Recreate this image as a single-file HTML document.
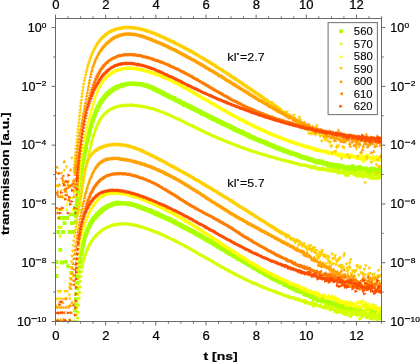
<!DOCTYPE html><html><head><meta charset="utf-8"><style>html,body{margin:0;padding:0;background:#fff;overflow:hidden}svg{display:block;will-change:transform}text{stroke:#000;stroke-width:0.22px}text.l{stroke-width:0.1px}</style></head><body><svg width="420" height="362" viewBox="0 0 420 362">
<rect width="420" height="362" fill="#fff"/>
<defs><clipPath id="c"><rect x="55.5" y="18.5" width="326" height="303"/></clipPath></defs>
<g clip-path="url(#c)">
<path d="M73.3 220.3h4.1v4.1h-4.1zM73.7 214.2h4.1v4.1h-4.1zM73.9 210.7h4.1v4.1h-4.1zM74.2 207.8h4.1v4.1h-4.1zM74.4 204.3h4.1v4.1h-4.1zM74.7 201.0h4.1v4.1h-4.1zM75.0 198.4h4.1v4.1h-4.1zM75.4 194.9h4.1v4.1h-4.1zM75.8 191.7h4.1v4.1h-4.1zM76.2 188.6h4.1v4.1h-4.1zM76.6 185.7h4.1v4.1h-4.1zM77.1 182.4h4.1v4.1h-4.1zM77.5 178.6h4.1v4.1h-4.1zM78.0 175.7h4.1v4.1h-4.1zM78.6 173.0h4.1v4.1h-4.1zM79.1 169.6h4.1v4.1h-4.1zM79.7 165.9h4.1v4.1h-4.1zM80.3 163.1h4.1v4.1h-4.1zM80.9 159.8h4.1v4.1h-4.1zM81.5 156.5h4.1v4.1h-4.1zM82.2 153.4h4.1v4.1h-4.1zM82.8 150.6h4.1v4.1h-4.1zM83.4 147.2h4.1v4.1h-4.1zM84.0 144.8h4.1v4.1h-4.1zM84.6 141.4h4.1v4.1h-4.1zM85.3 138.3h4.1v4.1h-4.1zM85.9 136.1h4.1v4.1h-4.1zM86.5 133.0h4.1v4.1h-4.1zM87.1 130.9h4.1v4.1h-4.1zM87.7 128.7h4.1v4.1h-4.1zM88.4 125.9h4.1v4.1h-4.1zM89.0 123.9h4.1v4.1h-4.1zM89.6 121.8h4.1v4.1h-4.1zM90.2 119.5h4.1v4.1h-4.1zM90.8 117.7h4.1v4.1h-4.1zM91.5 116.3h4.1v4.1h-4.1zM92.1 114.3h4.1v4.1h-4.1zM92.7 113.0h4.1v4.1h-4.1zM93.3 111.5h4.1v4.1h-4.1zM93.9 109.8h4.1v4.1h-4.1zM94.6 108.0h4.1v4.1h-4.1zM95.2 107.2h4.1v4.1h-4.1zM95.8 105.3h4.1v4.1h-4.1zM96.4 104.5h4.1v4.1h-4.1zM97.0 103.3h4.1v4.1h-4.1zM97.7 101.7h4.1v4.1h-4.1zM98.3 101.0h4.1v4.1h-4.1zM98.9 99.7h4.1v4.1h-4.1zM99.5 99.3h4.1v4.1h-4.1zM100.1 98.2h4.1v4.1h-4.1zM100.8 97.2h4.1v4.1h-4.1zM101.4 96.4h4.1v4.1h-4.1zM102.0 95.8h4.1v4.1h-4.1zM102.6 94.8h4.1v4.1h-4.1zM103.2 94.3h4.1v4.1h-4.1zM103.9 93.8h4.1v4.1h-4.1zM104.5 92.3h4.1v4.1h-4.1zM105.1 92.3h4.1v4.1h-4.1zM105.7 91.2h4.1v4.1h-4.1zM106.3 91.2h4.1v4.1h-4.1zM107.0 90.3h4.1v4.1h-4.1zM107.6 90.0h4.1v4.1h-4.1zM108.2 89.4h4.1v4.1h-4.1zM108.8 88.9h4.1v4.1h-4.1zM109.4 88.3h4.1v4.1h-4.1zM110.1 88.5h4.1v4.1h-4.1zM110.7 87.4h4.1v4.1h-4.1zM111.3 87.0h4.1v4.1h-4.1zM111.9 86.4h4.1v4.1h-4.1zM112.5 86.6h4.1v4.1h-4.1zM113.2 86.2h4.1v4.1h-4.1zM113.8 85.6h4.1v4.1h-4.1zM114.4 85.3h4.1v4.1h-4.1zM115.0 85.0h4.1v4.1h-4.1zM115.6 85.3h4.1v4.1h-4.1zM116.3 84.6h4.1v4.1h-4.1zM116.9 84.1h4.1v4.1h-4.1zM117.5 84.2h4.1v4.1h-4.1zM118.1 84.0h4.1v4.1h-4.1zM118.7 84.1h4.1v4.1h-4.1zM119.4 83.5h4.1v4.1h-4.1zM120.0 83.1h4.1v4.1h-4.1zM120.6 83.1h4.1v4.1h-4.1zM121.2 83.3h4.1v4.1h-4.1zM121.8 82.4h4.1v4.1h-4.1zM122.5 82.6h4.1v4.1h-4.1zM123.1 82.3h4.1v4.1h-4.1zM123.7 82.3h4.1v4.1h-4.1zM124.3 82.2h4.1v4.1h-4.1zM124.9 82.2h4.1v4.1h-4.1zM125.6 81.9h4.1v4.1h-4.1zM126.2 81.8h4.1v4.1h-4.1zM126.8 81.7h4.1v4.1h-4.1zM127.4 81.6h4.1v4.1h-4.1zM128.0 81.6h4.1v4.1h-4.1zM128.7 81.6h4.1v4.1h-4.1zM129.3 81.9h4.1v4.1h-4.1zM129.9 81.7h4.1v4.1h-4.1zM130.5 81.6h4.1v4.1h-4.1zM131.1 81.2h4.1v4.1h-4.1zM131.8 81.7h4.1v4.1h-4.1zM132.4 82.0h4.1v4.1h-4.1zM133.0 81.9h4.1v4.1h-4.1zM133.6 81.7h4.1v4.1h-4.1zM134.2 81.7h4.1v4.1h-4.1zM134.9 81.8h4.1v4.1h-4.1zM135.5 82.0h4.1v4.1h-4.1zM136.1 82.1h4.1v4.1h-4.1zM136.7 81.7h4.1v4.1h-4.1zM137.3 82.4h4.1v4.1h-4.1zM138.0 82.0h4.1v4.1h-4.1zM138.6 82.3h4.1v4.1h-4.1zM139.2 82.3h4.1v4.1h-4.1zM139.8 82.5h4.1v4.1h-4.1zM140.4 82.4h4.1v4.1h-4.1zM141.1 83.1h4.1v4.1h-4.1zM141.7 83.1h4.1v4.1h-4.1zM142.3 83.0h4.1v4.1h-4.1zM142.9 83.2h4.1v4.1h-4.1zM143.5 83.3h4.1v4.1h-4.1zM144.2 83.7h4.1v4.1h-4.1zM144.8 83.9h4.1v4.1h-4.1zM145.4 83.6h4.1v4.1h-4.1zM146.0 84.2h4.1v4.1h-4.1zM146.6 84.7h4.1v4.1h-4.1zM147.3 84.6h4.1v4.1h-4.1zM147.9 84.7h4.1v4.1h-4.1zM148.5 84.9h4.1v4.1h-4.1zM149.1 85.6h4.1v4.1h-4.1zM149.7 85.5h4.1v4.1h-4.1zM150.4 85.5h4.1v4.1h-4.1zM151.0 86.4h4.1v4.1h-4.1zM151.6 86.6h4.1v4.1h-4.1zM152.2 87.2h4.1v4.1h-4.1zM152.8 87.0h4.1v4.1h-4.1zM153.5 87.2h4.1v4.1h-4.1zM154.1 87.9h4.1v4.1h-4.1zM154.7 87.9h4.1v4.1h-4.1zM155.3 88.9h4.1v4.1h-4.1zM155.9 88.7h4.1v4.1h-4.1zM156.6 89.1h4.1v4.1h-4.1zM157.2 89.5h4.1v4.1h-4.1zM157.8 89.4h4.1v4.1h-4.1zM158.4 89.9h4.1v4.1h-4.1zM159.0 90.1h4.1v4.1h-4.1zM159.7 90.3h4.1v4.1h-4.1zM160.3 91.1h4.1v4.1h-4.1zM160.9 91.2h4.1v4.1h-4.1zM161.5 91.8h4.1v4.1h-4.1zM162.1 91.5h4.1v4.1h-4.1zM162.8 92.4h4.1v4.1h-4.1zM163.4 92.6h4.1v4.1h-4.1zM164.0 92.9h4.1v4.1h-4.1zM164.6 93.1h4.1v4.1h-4.1zM165.2 93.2h4.1v4.1h-4.1zM165.9 93.9h4.1v4.1h-4.1zM166.5 94.6h4.1v4.1h-4.1zM167.1 94.6h4.1v4.1h-4.1zM167.7 94.4h4.1v4.1h-4.1zM168.3 95.1h4.1v4.1h-4.1zM169.0 95.2h4.1v4.1h-4.1zM169.6 95.7h4.1v4.1h-4.1zM170.2 96.2h4.1v4.1h-4.1zM170.8 96.1h4.1v4.1h-4.1zM171.4 96.0h4.1v4.1h-4.1zM172.1 96.3h4.1v4.1h-4.1zM172.7 97.5h4.1v4.1h-4.1zM173.3 97.5h4.1v4.1h-4.1zM173.9 97.7h4.1v4.1h-4.1zM174.5 98.2h4.1v4.1h-4.1zM175.2 98.6h4.1v4.1h-4.1zM175.8 98.7h4.1v4.1h-4.1zM176.4 98.8h4.1v4.1h-4.1zM177.0 99.5h4.1v4.1h-4.1zM177.6 99.9h4.1v4.1h-4.1zM178.3 99.4h4.1v4.1h-4.1zM178.9 100.5h4.1v4.1h-4.1zM179.5 100.9h4.1v4.1h-4.1zM180.1 101.1h4.1v4.1h-4.1zM180.7 101.2h4.1v4.1h-4.1zM181.4 101.2h4.1v4.1h-4.1zM182.0 102.3h4.1v4.1h-4.1zM182.6 102.8h4.1v4.1h-4.1zM183.2 102.5h4.1v4.1h-4.1zM183.8 102.9h4.1v4.1h-4.1zM184.5 102.8h4.1v4.1h-4.1zM185.1 103.6h4.1v4.1h-4.1zM185.7 103.7h4.1v4.1h-4.1zM186.3 104.2h4.1v4.1h-4.1zM186.9 104.2h4.1v4.1h-4.1zM187.6 104.9h4.1v4.1h-4.1zM188.2 104.6h4.1v4.1h-4.1zM188.8 105.1h4.1v4.1h-4.1zM189.4 105.8h4.1v4.1h-4.1zM190.0 105.9h4.1v4.1h-4.1zM190.7 106.1h4.1v4.1h-4.1zM191.3 106.7h4.1v4.1h-4.1zM191.9 106.5h4.1v4.1h-4.1zM192.5 107.1h4.1v4.1h-4.1zM193.1 107.4h4.1v4.1h-4.1zM193.8 107.9h4.1v4.1h-4.1zM194.4 108.2h4.1v4.1h-4.1zM195.0 108.6h4.1v4.1h-4.1zM195.6 108.6h4.1v4.1h-4.1zM196.2 108.9h4.1v4.1h-4.1zM196.9 109.3h4.1v4.1h-4.1zM197.5 109.7h4.1v4.1h-4.1zM198.1 109.6h4.1v4.1h-4.1zM198.7 110.6h4.1v4.1h-4.1zM199.3 110.7h4.1v4.1h-4.1zM200.0 110.9h4.1v4.1h-4.1zM200.6 111.3h4.1v4.1h-4.1zM201.2 111.6h4.1v4.1h-4.1zM201.8 111.9h4.1v4.1h-4.1zM202.4 112.5h4.1v4.1h-4.1zM203.1 112.5h4.1v4.1h-4.1zM203.7 112.6h4.1v4.1h-4.1zM204.3 112.7h4.1v4.1h-4.1zM204.9 113.3h4.1v4.1h-4.1zM205.5 113.7h4.1v4.1h-4.1zM206.2 113.7h4.1v4.1h-4.1zM206.8 114.2h4.1v4.1h-4.1zM207.4 115.0h4.1v4.1h-4.1zM208.0 115.2h4.1v4.1h-4.1zM208.6 115.4h4.1v4.1h-4.1zM209.3 115.3h4.1v4.1h-4.1zM209.9 115.8h4.1v4.1h-4.1zM210.5 116.3h4.1v4.1h-4.1zM211.1 116.6h4.1v4.1h-4.1zM211.7 117.2h4.1v4.1h-4.1zM212.4 117.1h4.1v4.1h-4.1zM213.0 117.0h4.1v4.1h-4.1zM213.6 117.5h4.1v4.1h-4.1zM214.2 118.2h4.1v4.1h-4.1zM214.8 118.4h4.1v4.1h-4.1zM215.5 118.8h4.1v4.1h-4.1zM216.1 119.1h4.1v4.1h-4.1zM216.7 119.4h4.1v4.1h-4.1zM217.3 119.3h4.1v4.1h-4.1zM217.9 119.9h4.1v4.1h-4.1zM218.6 120.0h4.1v4.1h-4.1zM219.2 120.5h4.1v4.1h-4.1zM219.8 121.1h4.1v4.1h-4.1zM220.4 121.2h4.1v4.1h-4.1zM221.0 121.4h4.1v4.1h-4.1zM221.7 121.8h4.1v4.1h-4.1zM222.3 122.3h4.1v4.1h-4.1zM222.9 122.2h4.1v4.1h-4.1zM223.5 122.5h4.1v4.1h-4.1zM224.1 122.8h4.1v4.1h-4.1zM224.8 122.9h4.1v4.1h-4.1zM225.4 123.7h4.1v4.1h-4.1zM226.0 123.7h4.1v4.1h-4.1zM226.6 123.8h4.1v4.1h-4.1zM227.2 124.3h4.1v4.1h-4.1zM227.9 124.5h4.1v4.1h-4.1zM228.5 124.8h4.1v4.1h-4.1zM229.1 125.6h4.1v4.1h-4.1zM229.7 125.6h4.1v4.1h-4.1zM230.3 125.9h4.1v4.1h-4.1zM231.0 125.9h4.1v4.1h-4.1zM231.6 126.3h4.1v4.1h-4.1zM232.2 127.2h4.1v4.1h-4.1zM232.8 126.9h4.1v4.1h-4.1zM233.4 127.6h4.1v4.1h-4.1zM234.1 128.1h4.1v4.1h-4.1zM234.7 128.1h4.1v4.1h-4.1zM235.3 128.5h4.1v4.1h-4.1zM235.9 128.6h4.1v4.1h-4.1zM236.5 129.1h4.1v4.1h-4.1zM237.2 129.3h4.1v4.1h-4.1zM237.8 129.3h4.1v4.1h-4.1zM238.4 129.4h4.1v4.1h-4.1zM239.0 129.9h4.1v4.1h-4.1zM239.6 130.6h4.1v4.1h-4.1zM240.3 130.3h4.1v4.1h-4.1zM240.9 130.6h4.1v4.1h-4.1zM241.5 131.1h4.1v4.1h-4.1zM242.1 131.5h4.1v4.1h-4.1zM242.7 132.1h4.1v4.1h-4.1zM243.4 131.9h4.1v4.1h-4.1zM244.0 132.5h4.1v4.1h-4.1zM244.6 132.5h4.1v4.1h-4.1zM245.2 132.5h4.1v4.1h-4.1zM245.8 133.1h4.1v4.1h-4.1zM246.5 133.8h4.1v4.1h-4.1zM247.1 133.5h4.1v4.1h-4.1zM247.7 133.7h4.1v4.1h-4.1zM248.3 134.7h4.1v4.1h-4.1zM248.9 134.9h4.1v4.1h-4.1zM249.6 135.1h4.1v4.1h-4.1zM250.2 135.4h4.1v4.1h-4.1zM250.8 135.7h4.1v4.1h-4.1zM251.4 135.5h4.1v4.1h-4.1zM252.0 136.2h4.1v4.1h-4.1zM252.7 136.4h4.1v4.1h-4.1zM253.3 137.0h4.1v4.1h-4.1zM253.9 137.2h4.1v4.1h-4.1zM254.5 137.5h4.1v4.1h-4.1zM255.1 137.4h4.1v4.1h-4.1zM255.8 137.8h4.1v4.1h-4.1zM256.4 137.9h4.1v4.1h-4.1zM257.0 138.0h4.1v4.1h-4.1zM257.6 138.7h4.1v4.1h-4.1zM258.2 138.8h4.1v4.1h-4.1zM258.9 139.4h4.1v4.1h-4.1zM259.5 139.5h4.1v4.1h-4.1zM260.1 139.5h4.1v4.1h-4.1zM260.7 139.4h4.1v4.1h-4.1zM261.3 140.1h4.1v4.1h-4.1zM262.0 140.0h4.1v4.1h-4.1zM262.6 140.2h4.1v4.1h-4.1zM263.2 140.5h4.1v4.1h-4.1zM263.8 141.1h4.1v4.1h-4.1zM264.4 141.3h4.1v4.1h-4.1zM265.1 142.0h4.1v4.1h-4.1zM265.7 141.9h4.1v4.1h-4.1zM266.3 141.8h4.1v4.1h-4.1zM266.9 142.4h4.1v4.1h-4.1zM267.5 142.8h4.1v4.1h-4.1zM268.2 142.8h4.1v4.1h-4.1zM268.8 143.1h4.1v4.1h-4.1zM269.4 143.4h4.1v4.1h-4.1zM270.0 143.7h4.1v4.1h-4.1zM270.6 143.4h4.1v4.1h-4.1zM271.3 144.3h4.1v4.1h-4.1zM271.9 143.9h4.1v4.1h-4.1zM272.5 145.0h4.1v4.1h-4.1zM273.1 145.5h4.1v4.1h-4.1zM273.7 144.9h4.1v4.1h-4.1zM274.4 145.0h4.1v4.1h-4.1zM275.0 146.2h4.1v4.1h-4.1zM275.6 145.9h4.1v4.1h-4.1zM276.2 145.9h4.1v4.1h-4.1zM276.8 146.1h4.1v4.1h-4.1zM277.5 146.8h4.1v4.1h-4.1zM278.1 147.1h4.1v4.1h-4.1zM278.7 147.3h4.1v4.1h-4.1zM279.3 147.2h4.1v4.1h-4.1zM279.9 147.5h4.1v4.1h-4.1zM280.6 147.8h4.1v4.1h-4.1zM281.2 148.2h4.1v4.1h-4.1zM281.8 148.5h4.1v4.1h-4.1zM282.4 149.0h4.1v4.1h-4.1zM283.0 148.5h4.1v4.1h-4.1zM283.7 149.4h4.1v4.1h-4.1zM284.3 149.0h4.1v4.1h-4.1zM284.9 149.3h4.1v4.1h-4.1zM285.5 150.1h4.1v4.1h-4.1zM286.1 149.9h4.1v4.1h-4.1zM286.8 150.2h4.1v4.1h-4.1zM287.4 150.6h4.1v4.1h-4.1zM288.0 150.6h4.1v4.1h-4.1zM288.6 150.7h4.1v4.1h-4.1zM289.2 151.6h4.1v4.1h-4.1zM289.9 151.0h4.1v4.1h-4.1zM290.5 151.7h4.1v4.1h-4.1zM291.1 151.6h4.1v4.1h-4.1zM291.7 151.7h4.1v4.1h-4.1zM292.3 152.0h4.1v4.1h-4.1zM293.0 152.2h4.1v4.1h-4.1zM293.6 152.1h4.1v4.1h-4.1zM294.2 152.4h4.1v4.1h-4.1zM294.8 153.1h4.1v4.1h-4.1zM295.4 153.4h4.1v4.1h-4.1zM296.1 153.2h4.1v4.1h-4.1zM296.7 153.3h4.1v4.1h-4.1zM297.3 154.2h4.1v4.1h-4.1zM297.9 154.1h4.1v4.1h-4.1zM298.5 154.4h4.1v4.1h-4.1zM299.2 154.8h4.1v4.1h-4.1zM299.8 154.7h4.1v4.1h-4.1zM300.4 154.8h4.1v4.1h-4.1zM301.0 155.6h4.1v4.1h-4.1zM301.6 155.6h4.1v4.1h-4.1zM302.3 155.3h4.1v4.1h-4.1zM302.9 155.9h4.1v4.1h-4.1zM303.5 155.7h4.1v4.1h-4.1zM304.1 156.2h4.1v4.1h-4.1zM304.7 156.3h4.1v4.1h-4.1zM305.4 156.3h4.1v4.1h-4.1zM306.0 156.6h4.1v4.1h-4.1zM306.6 157.4h4.1v4.1h-4.1zM307.2 156.8h4.1v4.1h-4.1zM307.8 157.1h4.1v4.1h-4.1zM308.5 157.6h4.1v4.1h-4.1zM309.1 157.7h4.1v4.1h-4.1zM309.7 158.1h4.1v4.1h-4.1zM310.3 157.5h4.1v4.1h-4.1zM310.9 158.4h4.1v4.1h-4.1zM311.6 158.6h4.1v4.1h-4.1zM312.2 158.9h4.1v4.1h-4.1zM312.8 159.2h4.1v4.1h-4.1zM313.4 159.5h4.1v4.1h-4.1zM314.0 159.3h4.1v4.1h-4.1zM314.7 160.3h4.1v4.1h-4.1zM315.3 160.0h4.1v4.1h-4.1zM315.9 160.1h4.1v4.1h-4.1zM316.5 159.0h4.1v4.1h-4.1zM317.1 160.4h4.1v4.1h-4.1zM317.8 160.5h4.1v4.1h-4.1zM318.4 159.6h4.1v4.1h-4.1zM319.0 160.6h4.1v4.1h-4.1zM319.6 159.4h4.1v4.1h-4.1zM320.2 160.2h4.1v4.1h-4.1zM320.9 160.5h4.1v4.1h-4.1zM321.5 161.2h4.1v4.1h-4.1zM322.1 161.9h4.1v4.1h-4.1zM322.7 161.5h4.1v4.1h-4.1zM323.3 161.9h4.1v4.1h-4.1zM324.0 161.1h4.1v4.1h-4.1zM324.6 161.7h4.1v4.1h-4.1zM325.2 162.5h4.1v4.1h-4.1zM325.8 161.8h4.1v4.1h-4.1zM326.4 163.6h4.1v4.1h-4.1zM327.1 162.5h4.1v4.1h-4.1zM327.7 162.2h4.1v4.1h-4.1zM328.3 163.0h4.1v4.1h-4.1zM328.9 163.0h4.1v4.1h-4.1zM329.5 162.2h4.1v4.1h-4.1zM330.2 163.8h4.1v4.1h-4.1zM330.8 162.9h4.1v4.1h-4.1zM331.4 165.2h4.1v4.1h-4.1zM332.0 164.3h4.1v4.1h-4.1zM332.6 163.6h4.1v4.1h-4.1zM333.3 163.0h4.1v4.1h-4.1zM333.9 163.7h4.1v4.1h-4.1zM334.5 164.0h4.1v4.1h-4.1zM335.1 165.0h4.1v4.1h-4.1zM335.7 162.9h4.1v4.1h-4.1zM336.4 165.8h4.1v4.1h-4.1zM337.0 164.6h4.1v4.1h-4.1zM337.6 163.8h4.1v4.1h-4.1zM338.2 165.0h4.1v4.1h-4.1zM338.8 163.7h4.1v4.1h-4.1zM339.5 165.2h4.1v4.1h-4.1zM340.1 165.2h4.1v4.1h-4.1zM340.7 164.4h4.1v4.1h-4.1zM341.3 164.9h4.1v4.1h-4.1zM341.9 165.7h4.1v4.1h-4.1zM342.6 167.6h4.1v4.1h-4.1zM343.2 166.0h4.1v4.1h-4.1zM343.8 166.4h4.1v4.1h-4.1zM344.4 166.3h4.1v4.1h-4.1zM345.0 167.5h4.1v4.1h-4.1zM345.7 167.3h4.1v4.1h-4.1zM346.3 165.1h4.1v4.1h-4.1zM346.9 166.3h4.1v4.1h-4.1zM347.5 165.8h4.1v4.1h-4.1zM348.1 168.0h4.1v4.1h-4.1zM348.8 168.8h4.1v4.1h-4.1zM349.4 167.0h4.1v4.1h-4.1zM350.0 169.1h4.1v4.1h-4.1zM350.6 164.2h4.1v4.1h-4.1zM351.2 166.1h4.1v4.1h-4.1zM351.9 169.8h4.1v4.1h-4.1zM352.5 166.7h4.1v4.1h-4.1zM353.1 165.7h4.1v4.1h-4.1zM353.7 167.2h4.1v4.1h-4.1zM354.3 167.8h4.1v4.1h-4.1zM355.0 165.9h4.1v4.1h-4.1zM355.6 166.5h4.1v4.1h-4.1zM356.2 167.2h4.1v4.1h-4.1zM356.8 167.8h4.1v4.1h-4.1zM357.4 165.1h4.1v4.1h-4.1zM358.1 168.0h4.1v4.1h-4.1zM358.7 166.1h4.1v4.1h-4.1zM359.3 169.1h4.1v4.1h-4.1zM359.9 167.3h4.1v4.1h-4.1zM360.5 167.0h4.1v4.1h-4.1zM361.2 169.2h4.1v4.1h-4.1zM361.8 168.2h4.1v4.1h-4.1zM362.4 166.5h4.1v4.1h-4.1zM363.0 168.3h4.1v4.1h-4.1zM363.6 166.5h4.1v4.1h-4.1zM364.3 169.7h4.1v4.1h-4.1zM364.9 169.6h4.1v4.1h-4.1zM365.5 168.1h4.1v4.1h-4.1zM366.1 167.6h4.1v4.1h-4.1zM366.7 169.3h4.1v4.1h-4.1zM367.4 170.7h4.1v4.1h-4.1zM368.0 169.1h4.1v4.1h-4.1zM368.6 168.1h4.1v4.1h-4.1zM369.2 166.9h4.1v4.1h-4.1zM369.8 167.8h4.1v4.1h-4.1zM370.5 168.6h4.1v4.1h-4.1zM371.1 166.7h4.1v4.1h-4.1zM371.7 167.6h4.1v4.1h-4.1zM372.3 172.1h4.1v4.1h-4.1zM372.9 168.9h4.1v4.1h-4.1zM373.6 167.4h4.1v4.1h-4.1zM374.2 168.4h4.1v4.1h-4.1zM374.8 169.6h4.1v4.1h-4.1zM375.4 168.4h4.1v4.1h-4.1zM376.0 171.6h4.1v4.1h-4.1zM376.7 167.6h4.1v4.1h-4.1zM377.3 170.1h4.1v4.1h-4.1zM377.9 165.9h4.1v4.1h-4.1zM378.5 168.3h4.1v4.1h-4.1zM379.1 170.5h4.1v4.1h-4.1zM379.8 169.7h4.1v4.1h-4.1zM380.4 171.0h4.1v4.1h-4.1zM56.4 230.1h3.9v3.9h-3.9zM58.0 216.0h3.9v3.9h-3.9zM60.2 216.0h3.9v3.9h-3.9zM61.1 230.1h3.9v3.9h-3.9zM62.6 221.2h3.9v3.9h-3.9zM63.8 216.0h3.9v3.9h-3.9zM65.1 216.0h3.9v3.9h-3.9zM67.8 230.1h3.9v3.9h-3.9zM68.6 212.4h3.9v3.9h-3.9zM70.0 221.2h3.9v3.9h-3.9zM70.3 212.4h3.9v3.9h-3.9zM71.6 230.1h3.9v3.9h-3.9zM72.6 212.4h3.9v3.9h-3.9z" fill="#aaff00"/>
<path d="M77.7 210.0a1.65 1.65 0 1 0 3.3 0a1.65 1.65 0 1 0 -3.3 0zM78.3 205.2a1.65 1.65 0 1 0 3.3 0a1.65 1.65 0 1 0 -3.3 0zM78.7 202.1a1.65 1.65 0 1 0 3.3 0a1.65 1.65 0 1 0 -3.3 0zM79.2 198.8a1.65 1.65 0 1 0 3.3 0a1.65 1.65 0 1 0 -3.3 0zM79.6 195.7a1.65 1.65 0 1 0 3.3 0a1.65 1.65 0 1 0 -3.3 0zM80.1 192.2a1.65 1.65 0 1 0 3.3 0a1.65 1.65 0 1 0 -3.3 0zM80.6 189.0a1.65 1.65 0 1 0 3.3 0a1.65 1.65 0 1 0 -3.3 0zM81.1 185.9a1.65 1.65 0 1 0 3.3 0a1.65 1.65 0 1 0 -3.3 0zM81.6 182.4a1.65 1.65 0 1 0 3.3 0a1.65 1.65 0 1 0 -3.3 0zM82.2 179.0a1.65 1.65 0 1 0 3.3 0a1.65 1.65 0 1 0 -3.3 0zM82.7 176.0a1.65 1.65 0 1 0 3.3 0a1.65 1.65 0 1 0 -3.3 0zM83.3 172.9a1.65 1.65 0 1 0 3.3 0a1.65 1.65 0 1 0 -3.3 0zM83.9 169.8a1.65 1.65 0 1 0 3.3 0a1.65 1.65 0 1 0 -3.3 0zM84.5 166.4a1.65 1.65 0 1 0 3.3 0a1.65 1.65 0 1 0 -3.3 0zM85.2 163.4a1.65 1.65 0 1 0 3.3 0a1.65 1.65 0 1 0 -3.3 0zM85.8 160.3a1.65 1.65 0 1 0 3.3 0a1.65 1.65 0 1 0 -3.3 0zM86.4 157.6a1.65 1.65 0 1 0 3.3 0a1.65 1.65 0 1 0 -3.3 0zM87.0 154.8a1.65 1.65 0 1 0 3.3 0a1.65 1.65 0 1 0 -3.3 0zM87.6 151.9a1.65 1.65 0 1 0 3.3 0a1.65 1.65 0 1 0 -3.3 0zM88.3 149.5a1.65 1.65 0 1 0 3.3 0a1.65 1.65 0 1 0 -3.3 0zM88.9 146.9a1.65 1.65 0 1 0 3.3 0a1.65 1.65 0 1 0 -3.3 0zM89.5 144.2a1.65 1.65 0 1 0 3.3 0a1.65 1.65 0 1 0 -3.3 0zM90.1 141.7a1.65 1.65 0 1 0 3.3 0a1.65 1.65 0 1 0 -3.3 0zM90.7 139.4a1.65 1.65 0 1 0 3.3 0a1.65 1.65 0 1 0 -3.3 0zM91.4 137.2a1.65 1.65 0 1 0 3.3 0a1.65 1.65 0 1 0 -3.3 0zM92.0 135.2a1.65 1.65 0 1 0 3.3 0a1.65 1.65 0 1 0 -3.3 0zM92.6 133.4a1.65 1.65 0 1 0 3.3 0a1.65 1.65 0 1 0 -3.3 0zM93.2 131.6a1.65 1.65 0 1 0 3.3 0a1.65 1.65 0 1 0 -3.3 0zM93.8 129.6a1.65 1.65 0 1 0 3.3 0a1.65 1.65 0 1 0 -3.3 0zM94.5 128.0a1.65 1.65 0 1 0 3.3 0a1.65 1.65 0 1 0 -3.3 0zM95.1 126.6a1.65 1.65 0 1 0 3.3 0a1.65 1.65 0 1 0 -3.3 0zM95.7 125.3a1.65 1.65 0 1 0 3.3 0a1.65 1.65 0 1 0 -3.3 0zM96.3 123.3a1.65 1.65 0 1 0 3.3 0a1.65 1.65 0 1 0 -3.3 0zM96.9 122.5a1.65 1.65 0 1 0 3.3 0a1.65 1.65 0 1 0 -3.3 0zM97.6 121.3a1.65 1.65 0 1 0 3.3 0a1.65 1.65 0 1 0 -3.3 0zM98.2 120.1a1.65 1.65 0 1 0 3.3 0a1.65 1.65 0 1 0 -3.3 0zM98.8 119.1a1.65 1.65 0 1 0 3.3 0a1.65 1.65 0 1 0 -3.3 0zM99.4 118.4a1.65 1.65 0 1 0 3.3 0a1.65 1.65 0 1 0 -3.3 0zM100.0 117.3a1.65 1.65 0 1 0 3.3 0a1.65 1.65 0 1 0 -3.3 0zM100.7 116.6a1.65 1.65 0 1 0 3.3 0a1.65 1.65 0 1 0 -3.3 0zM101.3 115.8a1.65 1.65 0 1 0 3.3 0a1.65 1.65 0 1 0 -3.3 0zM101.9 115.0a1.65 1.65 0 1 0 3.3 0a1.65 1.65 0 1 0 -3.3 0zM102.5 114.3a1.65 1.65 0 1 0 3.3 0a1.65 1.65 0 1 0 -3.3 0zM103.1 113.7a1.65 1.65 0 1 0 3.3 0a1.65 1.65 0 1 0 -3.3 0zM103.8 113.0a1.65 1.65 0 1 0 3.3 0a1.65 1.65 0 1 0 -3.3 0zM104.4 112.4a1.65 1.65 0 1 0 3.3 0a1.65 1.65 0 1 0 -3.3 0zM105.0 112.0a1.65 1.65 0 1 0 3.3 0a1.65 1.65 0 1 0 -3.3 0zM105.6 111.5a1.65 1.65 0 1 0 3.3 0a1.65 1.65 0 1 0 -3.3 0zM106.2 110.8a1.65 1.65 0 1 0 3.3 0a1.65 1.65 0 1 0 -3.3 0zM106.9 110.8a1.65 1.65 0 1 0 3.3 0a1.65 1.65 0 1 0 -3.3 0zM107.5 110.2a1.65 1.65 0 1 0 3.3 0a1.65 1.65 0 1 0 -3.3 0zM108.1 109.8a1.65 1.65 0 1 0 3.3 0a1.65 1.65 0 1 0 -3.3 0zM108.7 109.2a1.65 1.65 0 1 0 3.3 0a1.65 1.65 0 1 0 -3.3 0zM109.3 109.2a1.65 1.65 0 1 0 3.3 0a1.65 1.65 0 1 0 -3.3 0zM110.0 108.8a1.65 1.65 0 1 0 3.3 0a1.65 1.65 0 1 0 -3.3 0zM110.6 108.3a1.65 1.65 0 1 0 3.3 0a1.65 1.65 0 1 0 -3.3 0zM111.2 108.5a1.65 1.65 0 1 0 3.3 0a1.65 1.65 0 1 0 -3.3 0zM111.8 108.1a1.65 1.65 0 1 0 3.3 0a1.65 1.65 0 1 0 -3.3 0zM112.4 107.4a1.65 1.65 0 1 0 3.3 0a1.65 1.65 0 1 0 -3.3 0zM113.1 107.4a1.65 1.65 0 1 0 3.3 0a1.65 1.65 0 1 0 -3.3 0zM113.7 107.4a1.65 1.65 0 1 0 3.3 0a1.65 1.65 0 1 0 -3.3 0zM114.3 107.4a1.65 1.65 0 1 0 3.3 0a1.65 1.65 0 1 0 -3.3 0zM114.9 106.7a1.65 1.65 0 1 0 3.3 0a1.65 1.65 0 1 0 -3.3 0zM115.5 106.7a1.65 1.65 0 1 0 3.3 0a1.65 1.65 0 1 0 -3.3 0zM116.2 106.5a1.65 1.65 0 1 0 3.3 0a1.65 1.65 0 1 0 -3.3 0zM116.8 106.4a1.65 1.65 0 1 0 3.3 0a1.65 1.65 0 1 0 -3.3 0zM117.4 106.3a1.65 1.65 0 1 0 3.3 0a1.65 1.65 0 1 0 -3.3 0zM118.0 105.9a1.65 1.65 0 1 0 3.3 0a1.65 1.65 0 1 0 -3.3 0zM118.6 105.8a1.65 1.65 0 1 0 3.3 0a1.65 1.65 0 1 0 -3.3 0zM119.3 106.0a1.65 1.65 0 1 0 3.3 0a1.65 1.65 0 1 0 -3.3 0zM119.9 106.0a1.65 1.65 0 1 0 3.3 0a1.65 1.65 0 1 0 -3.3 0zM120.5 105.8a1.65 1.65 0 1 0 3.3 0a1.65 1.65 0 1 0 -3.3 0zM121.1 105.3a1.65 1.65 0 1 0 3.3 0a1.65 1.65 0 1 0 -3.3 0zM121.7 105.7a1.65 1.65 0 1 0 3.3 0a1.65 1.65 0 1 0 -3.3 0zM122.4 105.4a1.65 1.65 0 1 0 3.3 0a1.65 1.65 0 1 0 -3.3 0zM123.0 105.5a1.65 1.65 0 1 0 3.3 0a1.65 1.65 0 1 0 -3.3 0zM123.6 105.7a1.65 1.65 0 1 0 3.3 0a1.65 1.65 0 1 0 -3.3 0zM124.2 105.2a1.65 1.65 0 1 0 3.3 0a1.65 1.65 0 1 0 -3.3 0zM124.8 105.4a1.65 1.65 0 1 0 3.3 0a1.65 1.65 0 1 0 -3.3 0zM125.5 105.3a1.65 1.65 0 1 0 3.3 0a1.65 1.65 0 1 0 -3.3 0zM126.1 105.2a1.65 1.65 0 1 0 3.3 0a1.65 1.65 0 1 0 -3.3 0zM126.7 105.2a1.65 1.65 0 1 0 3.3 0a1.65 1.65 0 1 0 -3.3 0zM127.3 105.3a1.65 1.65 0 1 0 3.3 0a1.65 1.65 0 1 0 -3.3 0zM127.9 105.4a1.65 1.65 0 1 0 3.3 0a1.65 1.65 0 1 0 -3.3 0zM128.6 105.1a1.65 1.65 0 1 0 3.3 0a1.65 1.65 0 1 0 -3.3 0zM129.2 105.1a1.65 1.65 0 1 0 3.3 0a1.65 1.65 0 1 0 -3.3 0zM129.8 104.9a1.65 1.65 0 1 0 3.3 0a1.65 1.65 0 1 0 -3.3 0zM130.4 105.6a1.65 1.65 0 1 0 3.3 0a1.65 1.65 0 1 0 -3.3 0zM131.0 105.2a1.65 1.65 0 1 0 3.3 0a1.65 1.65 0 1 0 -3.3 0zM131.7 105.4a1.65 1.65 0 1 0 3.3 0a1.65 1.65 0 1 0 -3.3 0zM132.3 105.4a1.65 1.65 0 1 0 3.3 0a1.65 1.65 0 1 0 -3.3 0zM132.9 105.3a1.65 1.65 0 1 0 3.3 0a1.65 1.65 0 1 0 -3.3 0zM133.5 105.7a1.65 1.65 0 1 0 3.3 0a1.65 1.65 0 1 0 -3.3 0zM134.1 105.6a1.65 1.65 0 1 0 3.3 0a1.65 1.65 0 1 0 -3.3 0zM134.8 105.5a1.65 1.65 0 1 0 3.3 0a1.65 1.65 0 1 0 -3.3 0zM135.4 105.7a1.65 1.65 0 1 0 3.3 0a1.65 1.65 0 1 0 -3.3 0zM136.0 105.9a1.65 1.65 0 1 0 3.3 0a1.65 1.65 0 1 0 -3.3 0zM136.6 106.0a1.65 1.65 0 1 0 3.3 0a1.65 1.65 0 1 0 -3.3 0zM137.2 105.9a1.65 1.65 0 1 0 3.3 0a1.65 1.65 0 1 0 -3.3 0zM137.9 106.2a1.65 1.65 0 1 0 3.3 0a1.65 1.65 0 1 0 -3.3 0zM138.5 106.0a1.65 1.65 0 1 0 3.3 0a1.65 1.65 0 1 0 -3.3 0zM139.1 106.2a1.65 1.65 0 1 0 3.3 0a1.65 1.65 0 1 0 -3.3 0zM139.7 106.3a1.65 1.65 0 1 0 3.3 0a1.65 1.65 0 1 0 -3.3 0zM140.3 106.3a1.65 1.65 0 1 0 3.3 0a1.65 1.65 0 1 0 -3.3 0zM141.0 106.8a1.65 1.65 0 1 0 3.3 0a1.65 1.65 0 1 0 -3.3 0zM141.6 106.6a1.65 1.65 0 1 0 3.3 0a1.65 1.65 0 1 0 -3.3 0zM142.2 106.6a1.65 1.65 0 1 0 3.3 0a1.65 1.65 0 1 0 -3.3 0zM142.8 106.7a1.65 1.65 0 1 0 3.3 0a1.65 1.65 0 1 0 -3.3 0zM143.4 107.0a1.65 1.65 0 1 0 3.3 0a1.65 1.65 0 1 0 -3.3 0zM144.1 107.1a1.65 1.65 0 1 0 3.3 0a1.65 1.65 0 1 0 -3.3 0zM144.7 107.4a1.65 1.65 0 1 0 3.3 0a1.65 1.65 0 1 0 -3.3 0zM145.3 107.2a1.65 1.65 0 1 0 3.3 0a1.65 1.65 0 1 0 -3.3 0zM145.9 107.5a1.65 1.65 0 1 0 3.3 0a1.65 1.65 0 1 0 -3.3 0zM146.5 107.7a1.65 1.65 0 1 0 3.3 0a1.65 1.65 0 1 0 -3.3 0zM147.2 107.9a1.65 1.65 0 1 0 3.3 0a1.65 1.65 0 1 0 -3.3 0zM147.8 107.8a1.65 1.65 0 1 0 3.3 0a1.65 1.65 0 1 0 -3.3 0zM148.4 108.1a1.65 1.65 0 1 0 3.3 0a1.65 1.65 0 1 0 -3.3 0zM149.0 108.5a1.65 1.65 0 1 0 3.3 0a1.65 1.65 0 1 0 -3.3 0zM149.6 108.7a1.65 1.65 0 1 0 3.3 0a1.65 1.65 0 1 0 -3.3 0zM150.3 108.6a1.65 1.65 0 1 0 3.3 0a1.65 1.65 0 1 0 -3.3 0zM150.9 108.4a1.65 1.65 0 1 0 3.3 0a1.65 1.65 0 1 0 -3.3 0zM151.5 109.1a1.65 1.65 0 1 0 3.3 0a1.65 1.65 0 1 0 -3.3 0zM152.1 108.9a1.65 1.65 0 1 0 3.3 0a1.65 1.65 0 1 0 -3.3 0zM152.7 109.3a1.65 1.65 0 1 0 3.3 0a1.65 1.65 0 1 0 -3.3 0zM153.4 109.4a1.65 1.65 0 1 0 3.3 0a1.65 1.65 0 1 0 -3.3 0zM154.0 109.7a1.65 1.65 0 1 0 3.3 0a1.65 1.65 0 1 0 -3.3 0zM154.6 110.1a1.65 1.65 0 1 0 3.3 0a1.65 1.65 0 1 0 -3.3 0zM155.2 110.3a1.65 1.65 0 1 0 3.3 0a1.65 1.65 0 1 0 -3.3 0zM155.8 110.3a1.65 1.65 0 1 0 3.3 0a1.65 1.65 0 1 0 -3.3 0zM156.5 110.5a1.65 1.65 0 1 0 3.3 0a1.65 1.65 0 1 0 -3.3 0zM157.1 110.8a1.65 1.65 0 1 0 3.3 0a1.65 1.65 0 1 0 -3.3 0zM157.7 111.2a1.65 1.65 0 1 0 3.3 0a1.65 1.65 0 1 0 -3.3 0zM158.3 111.3a1.65 1.65 0 1 0 3.3 0a1.65 1.65 0 1 0 -3.3 0zM158.9 111.6a1.65 1.65 0 1 0 3.3 0a1.65 1.65 0 1 0 -3.3 0zM159.6 111.8a1.65 1.65 0 1 0 3.3 0a1.65 1.65 0 1 0 -3.3 0zM160.2 111.9a1.65 1.65 0 1 0 3.3 0a1.65 1.65 0 1 0 -3.3 0zM160.8 112.1a1.65 1.65 0 1 0 3.3 0a1.65 1.65 0 1 0 -3.3 0zM161.4 112.3a1.65 1.65 0 1 0 3.3 0a1.65 1.65 0 1 0 -3.3 0zM162.0 112.6a1.65 1.65 0 1 0 3.3 0a1.65 1.65 0 1 0 -3.3 0zM162.7 112.9a1.65 1.65 0 1 0 3.3 0a1.65 1.65 0 1 0 -3.3 0zM163.3 113.2a1.65 1.65 0 1 0 3.3 0a1.65 1.65 0 1 0 -3.3 0zM163.9 113.6a1.65 1.65 0 1 0 3.3 0a1.65 1.65 0 1 0 -3.3 0zM164.5 113.6a1.65 1.65 0 1 0 3.3 0a1.65 1.65 0 1 0 -3.3 0zM165.1 114.0a1.65 1.65 0 1 0 3.3 0a1.65 1.65 0 1 0 -3.3 0zM165.8 114.2a1.65 1.65 0 1 0 3.3 0a1.65 1.65 0 1 0 -3.3 0zM166.4 114.6a1.65 1.65 0 1 0 3.3 0a1.65 1.65 0 1 0 -3.3 0zM167.0 114.7a1.65 1.65 0 1 0 3.3 0a1.65 1.65 0 1 0 -3.3 0zM167.6 114.7a1.65 1.65 0 1 0 3.3 0a1.65 1.65 0 1 0 -3.3 0zM168.2 115.2a1.65 1.65 0 1 0 3.3 0a1.65 1.65 0 1 0 -3.3 0zM168.9 115.4a1.65 1.65 0 1 0 3.3 0a1.65 1.65 0 1 0 -3.3 0zM169.5 115.8a1.65 1.65 0 1 0 3.3 0a1.65 1.65 0 1 0 -3.3 0zM170.1 116.4a1.65 1.65 0 1 0 3.3 0a1.65 1.65 0 1 0 -3.3 0zM170.7 116.3a1.65 1.65 0 1 0 3.3 0a1.65 1.65 0 1 0 -3.3 0zM171.3 116.6a1.65 1.65 0 1 0 3.3 0a1.65 1.65 0 1 0 -3.3 0zM172.0 117.1a1.65 1.65 0 1 0 3.3 0a1.65 1.65 0 1 0 -3.3 0zM172.6 117.4a1.65 1.65 0 1 0 3.3 0a1.65 1.65 0 1 0 -3.3 0zM173.2 117.6a1.65 1.65 0 1 0 3.3 0a1.65 1.65 0 1 0 -3.3 0zM173.8 117.9a1.65 1.65 0 1 0 3.3 0a1.65 1.65 0 1 0 -3.3 0zM174.4 118.1a1.65 1.65 0 1 0 3.3 0a1.65 1.65 0 1 0 -3.3 0zM175.1 118.6a1.65 1.65 0 1 0 3.3 0a1.65 1.65 0 1 0 -3.3 0zM175.7 118.9a1.65 1.65 0 1 0 3.3 0a1.65 1.65 0 1 0 -3.3 0zM176.3 118.7a1.65 1.65 0 1 0 3.3 0a1.65 1.65 0 1 0 -3.3 0zM176.9 119.3a1.65 1.65 0 1 0 3.3 0a1.65 1.65 0 1 0 -3.3 0zM177.5 119.4a1.65 1.65 0 1 0 3.3 0a1.65 1.65 0 1 0 -3.3 0zM178.2 120.0a1.65 1.65 0 1 0 3.3 0a1.65 1.65 0 1 0 -3.3 0zM178.8 120.3a1.65 1.65 0 1 0 3.3 0a1.65 1.65 0 1 0 -3.3 0zM179.4 120.4a1.65 1.65 0 1 0 3.3 0a1.65 1.65 0 1 0 -3.3 0zM180.0 120.8a1.65 1.65 0 1 0 3.3 0a1.65 1.65 0 1 0 -3.3 0zM180.6 120.9a1.65 1.65 0 1 0 3.3 0a1.65 1.65 0 1 0 -3.3 0zM181.3 121.4a1.65 1.65 0 1 0 3.3 0a1.65 1.65 0 1 0 -3.3 0zM181.9 121.7a1.65 1.65 0 1 0 3.3 0a1.65 1.65 0 1 0 -3.3 0zM182.5 122.0a1.65 1.65 0 1 0 3.3 0a1.65 1.65 0 1 0 -3.3 0zM183.1 122.1a1.65 1.65 0 1 0 3.3 0a1.65 1.65 0 1 0 -3.3 0zM183.7 122.5a1.65 1.65 0 1 0 3.3 0a1.65 1.65 0 1 0 -3.3 0zM184.4 122.8a1.65 1.65 0 1 0 3.3 0a1.65 1.65 0 1 0 -3.3 0zM185.0 123.1a1.65 1.65 0 1 0 3.3 0a1.65 1.65 0 1 0 -3.3 0zM185.6 123.6a1.65 1.65 0 1 0 3.3 0a1.65 1.65 0 1 0 -3.3 0zM186.2 124.0a1.65 1.65 0 1 0 3.3 0a1.65 1.65 0 1 0 -3.3 0zM186.8 124.1a1.65 1.65 0 1 0 3.3 0a1.65 1.65 0 1 0 -3.3 0zM187.5 124.7a1.65 1.65 0 1 0 3.3 0a1.65 1.65 0 1 0 -3.3 0zM188.1 124.9a1.65 1.65 0 1 0 3.3 0a1.65 1.65 0 1 0 -3.3 0zM188.7 125.1a1.65 1.65 0 1 0 3.3 0a1.65 1.65 0 1 0 -3.3 0zM189.3 125.4a1.65 1.65 0 1 0 3.3 0a1.65 1.65 0 1 0 -3.3 0zM189.9 125.5a1.65 1.65 0 1 0 3.3 0a1.65 1.65 0 1 0 -3.3 0zM190.6 125.7a1.65 1.65 0 1 0 3.3 0a1.65 1.65 0 1 0 -3.3 0zM191.2 126.4a1.65 1.65 0 1 0 3.3 0a1.65 1.65 0 1 0 -3.3 0zM191.8 126.8a1.65 1.65 0 1 0 3.3 0a1.65 1.65 0 1 0 -3.3 0zM192.4 126.7a1.65 1.65 0 1 0 3.3 0a1.65 1.65 0 1 0 -3.3 0zM193.0 127.2a1.65 1.65 0 1 0 3.3 0a1.65 1.65 0 1 0 -3.3 0zM193.7 127.3a1.65 1.65 0 1 0 3.3 0a1.65 1.65 0 1 0 -3.3 0zM194.3 127.4a1.65 1.65 0 1 0 3.3 0a1.65 1.65 0 1 0 -3.3 0zM194.9 128.0a1.65 1.65 0 1 0 3.3 0a1.65 1.65 0 1 0 -3.3 0zM195.5 128.5a1.65 1.65 0 1 0 3.3 0a1.65 1.65 0 1 0 -3.3 0zM196.1 128.6a1.65 1.65 0 1 0 3.3 0a1.65 1.65 0 1 0 -3.3 0zM196.8 129.2a1.65 1.65 0 1 0 3.3 0a1.65 1.65 0 1 0 -3.3 0zM197.4 129.3a1.65 1.65 0 1 0 3.3 0a1.65 1.65 0 1 0 -3.3 0zM198.0 129.5a1.65 1.65 0 1 0 3.3 0a1.65 1.65 0 1 0 -3.3 0zM198.6 129.7a1.65 1.65 0 1 0 3.3 0a1.65 1.65 0 1 0 -3.3 0zM199.2 130.3a1.65 1.65 0 1 0 3.3 0a1.65 1.65 0 1 0 -3.3 0zM199.9 130.4a1.65 1.65 0 1 0 3.3 0a1.65 1.65 0 1 0 -3.3 0zM200.5 130.8a1.65 1.65 0 1 0 3.3 0a1.65 1.65 0 1 0 -3.3 0zM201.1 130.9a1.65 1.65 0 1 0 3.3 0a1.65 1.65 0 1 0 -3.3 0zM201.7 131.6a1.65 1.65 0 1 0 3.3 0a1.65 1.65 0 1 0 -3.3 0zM202.3 131.8a1.65 1.65 0 1 0 3.3 0a1.65 1.65 0 1 0 -3.3 0zM203.0 132.1a1.65 1.65 0 1 0 3.3 0a1.65 1.65 0 1 0 -3.3 0zM203.6 132.1a1.65 1.65 0 1 0 3.3 0a1.65 1.65 0 1 0 -3.3 0zM204.2 132.7a1.65 1.65 0 1 0 3.3 0a1.65 1.65 0 1 0 -3.3 0zM204.8 132.8a1.65 1.65 0 1 0 3.3 0a1.65 1.65 0 1 0 -3.3 0zM205.4 133.3a1.65 1.65 0 1 0 3.3 0a1.65 1.65 0 1 0 -3.3 0zM206.1 133.3a1.65 1.65 0 1 0 3.3 0a1.65 1.65 0 1 0 -3.3 0zM206.7 133.9a1.65 1.65 0 1 0 3.3 0a1.65 1.65 0 1 0 -3.3 0zM207.3 133.9a1.65 1.65 0 1 0 3.3 0a1.65 1.65 0 1 0 -3.3 0zM207.9 134.3a1.65 1.65 0 1 0 3.3 0a1.65 1.65 0 1 0 -3.3 0zM208.5 134.5a1.65 1.65 0 1 0 3.3 0a1.65 1.65 0 1 0 -3.3 0zM209.2 135.1a1.65 1.65 0 1 0 3.3 0a1.65 1.65 0 1 0 -3.3 0zM209.8 135.1a1.65 1.65 0 1 0 3.3 0a1.65 1.65 0 1 0 -3.3 0zM210.4 135.6a1.65 1.65 0 1 0 3.3 0a1.65 1.65 0 1 0 -3.3 0zM211.0 135.9a1.65 1.65 0 1 0 3.3 0a1.65 1.65 0 1 0 -3.3 0zM211.6 135.8a1.65 1.65 0 1 0 3.3 0a1.65 1.65 0 1 0 -3.3 0zM212.3 136.2a1.65 1.65 0 1 0 3.3 0a1.65 1.65 0 1 0 -3.3 0zM212.9 136.5a1.65 1.65 0 1 0 3.3 0a1.65 1.65 0 1 0 -3.3 0zM213.5 136.7a1.65 1.65 0 1 0 3.3 0a1.65 1.65 0 1 0 -3.3 0zM214.1 137.0a1.65 1.65 0 1 0 3.3 0a1.65 1.65 0 1 0 -3.3 0zM214.7 137.3a1.65 1.65 0 1 0 3.3 0a1.65 1.65 0 1 0 -3.3 0zM215.4 137.3a1.65 1.65 0 1 0 3.3 0a1.65 1.65 0 1 0 -3.3 0zM216.0 138.0a1.65 1.65 0 1 0 3.3 0a1.65 1.65 0 1 0 -3.3 0zM216.6 138.1a1.65 1.65 0 1 0 3.3 0a1.65 1.65 0 1 0 -3.3 0zM217.2 138.5a1.65 1.65 0 1 0 3.3 0a1.65 1.65 0 1 0 -3.3 0zM217.8 138.6a1.65 1.65 0 1 0 3.3 0a1.65 1.65 0 1 0 -3.3 0zM218.5 138.7a1.65 1.65 0 1 0 3.3 0a1.65 1.65 0 1 0 -3.3 0zM219.1 139.4a1.65 1.65 0 1 0 3.3 0a1.65 1.65 0 1 0 -3.3 0zM219.7 139.6a1.65 1.65 0 1 0 3.3 0a1.65 1.65 0 1 0 -3.3 0zM220.3 139.7a1.65 1.65 0 1 0 3.3 0a1.65 1.65 0 1 0 -3.3 0zM220.9 139.8a1.65 1.65 0 1 0 3.3 0a1.65 1.65 0 1 0 -3.3 0zM221.6 140.2a1.65 1.65 0 1 0 3.3 0a1.65 1.65 0 1 0 -3.3 0zM222.2 140.6a1.65 1.65 0 1 0 3.3 0a1.65 1.65 0 1 0 -3.3 0zM222.8 140.7a1.65 1.65 0 1 0 3.3 0a1.65 1.65 0 1 0 -3.3 0zM223.4 140.9a1.65 1.65 0 1 0 3.3 0a1.65 1.65 0 1 0 -3.3 0zM224.0 141.2a1.65 1.65 0 1 0 3.3 0a1.65 1.65 0 1 0 -3.3 0zM224.7 141.7a1.65 1.65 0 1 0 3.3 0a1.65 1.65 0 1 0 -3.3 0zM225.3 141.7a1.65 1.65 0 1 0 3.3 0a1.65 1.65 0 1 0 -3.3 0zM225.9 141.8a1.65 1.65 0 1 0 3.3 0a1.65 1.65 0 1 0 -3.3 0zM226.5 142.4a1.65 1.65 0 1 0 3.3 0a1.65 1.65 0 1 0 -3.3 0zM227.1 142.5a1.65 1.65 0 1 0 3.3 0a1.65 1.65 0 1 0 -3.3 0zM227.8 142.6a1.65 1.65 0 1 0 3.3 0a1.65 1.65 0 1 0 -3.3 0zM228.4 142.9a1.65 1.65 0 1 0 3.3 0a1.65 1.65 0 1 0 -3.3 0zM229.0 143.1a1.65 1.65 0 1 0 3.3 0a1.65 1.65 0 1 0 -3.3 0zM229.6 143.5a1.65 1.65 0 1 0 3.3 0a1.65 1.65 0 1 0 -3.3 0zM230.2 143.5a1.65 1.65 0 1 0 3.3 0a1.65 1.65 0 1 0 -3.3 0zM230.9 144.0a1.65 1.65 0 1 0 3.3 0a1.65 1.65 0 1 0 -3.3 0zM231.5 144.2a1.65 1.65 0 1 0 3.3 0a1.65 1.65 0 1 0 -3.3 0zM232.1 144.3a1.65 1.65 0 1 0 3.3 0a1.65 1.65 0 1 0 -3.3 0zM232.7 144.6a1.65 1.65 0 1 0 3.3 0a1.65 1.65 0 1 0 -3.3 0zM233.3 144.9a1.65 1.65 0 1 0 3.3 0a1.65 1.65 0 1 0 -3.3 0zM234.0 145.1a1.65 1.65 0 1 0 3.3 0a1.65 1.65 0 1 0 -3.3 0zM234.6 145.4a1.65 1.65 0 1 0 3.3 0a1.65 1.65 0 1 0 -3.3 0zM235.2 145.5a1.65 1.65 0 1 0 3.3 0a1.65 1.65 0 1 0 -3.3 0zM235.8 145.9a1.65 1.65 0 1 0 3.3 0a1.65 1.65 0 1 0 -3.3 0zM236.4 146.1a1.65 1.65 0 1 0 3.3 0a1.65 1.65 0 1 0 -3.3 0zM237.1 146.2a1.65 1.65 0 1 0 3.3 0a1.65 1.65 0 1 0 -3.3 0zM237.7 146.3a1.65 1.65 0 1 0 3.3 0a1.65 1.65 0 1 0 -3.3 0zM238.3 146.8a1.65 1.65 0 1 0 3.3 0a1.65 1.65 0 1 0 -3.3 0zM238.9 146.9a1.65 1.65 0 1 0 3.3 0a1.65 1.65 0 1 0 -3.3 0zM239.5 147.1a1.65 1.65 0 1 0 3.3 0a1.65 1.65 0 1 0 -3.3 0zM240.2 147.7a1.65 1.65 0 1 0 3.3 0a1.65 1.65 0 1 0 -3.3 0zM240.8 147.8a1.65 1.65 0 1 0 3.3 0a1.65 1.65 0 1 0 -3.3 0zM241.4 148.1a1.65 1.65 0 1 0 3.3 0a1.65 1.65 0 1 0 -3.3 0zM242.0 147.9a1.65 1.65 0 1 0 3.3 0a1.65 1.65 0 1 0 -3.3 0zM242.6 148.5a1.65 1.65 0 1 0 3.3 0a1.65 1.65 0 1 0 -3.3 0zM243.3 148.7a1.65 1.65 0 1 0 3.3 0a1.65 1.65 0 1 0 -3.3 0zM243.9 148.8a1.65 1.65 0 1 0 3.3 0a1.65 1.65 0 1 0 -3.3 0zM244.5 148.9a1.65 1.65 0 1 0 3.3 0a1.65 1.65 0 1 0 -3.3 0zM245.1 149.1a1.65 1.65 0 1 0 3.3 0a1.65 1.65 0 1 0 -3.3 0zM245.7 149.5a1.65 1.65 0 1 0 3.3 0a1.65 1.65 0 1 0 -3.3 0zM246.4 149.8a1.65 1.65 0 1 0 3.3 0a1.65 1.65 0 1 0 -3.3 0zM247.0 149.8a1.65 1.65 0 1 0 3.3 0a1.65 1.65 0 1 0 -3.3 0zM247.6 150.3a1.65 1.65 0 1 0 3.3 0a1.65 1.65 0 1 0 -3.3 0zM248.2 150.2a1.65 1.65 0 1 0 3.3 0a1.65 1.65 0 1 0 -3.3 0zM248.8 150.3a1.65 1.65 0 1 0 3.3 0a1.65 1.65 0 1 0 -3.3 0zM249.5 150.8a1.65 1.65 0 1 0 3.3 0a1.65 1.65 0 1 0 -3.3 0zM250.1 150.8a1.65 1.65 0 1 0 3.3 0a1.65 1.65 0 1 0 -3.3 0zM250.7 151.0a1.65 1.65 0 1 0 3.3 0a1.65 1.65 0 1 0 -3.3 0zM251.3 151.6a1.65 1.65 0 1 0 3.3 0a1.65 1.65 0 1 0 -3.3 0zM251.9 151.3a1.65 1.65 0 1 0 3.3 0a1.65 1.65 0 1 0 -3.3 0zM252.6 151.6a1.65 1.65 0 1 0 3.3 0a1.65 1.65 0 1 0 -3.3 0zM253.2 151.7a1.65 1.65 0 1 0 3.3 0a1.65 1.65 0 1 0 -3.3 0zM253.8 152.0a1.65 1.65 0 1 0 3.3 0a1.65 1.65 0 1 0 -3.3 0zM254.4 152.2a1.65 1.65 0 1 0 3.3 0a1.65 1.65 0 1 0 -3.3 0zM255.0 152.6a1.65 1.65 0 1 0 3.3 0a1.65 1.65 0 1 0 -3.3 0zM255.7 152.6a1.65 1.65 0 1 0 3.3 0a1.65 1.65 0 1 0 -3.3 0zM256.3 153.1a1.65 1.65 0 1 0 3.3 0a1.65 1.65 0 1 0 -3.3 0zM256.9 153.1a1.65 1.65 0 1 0 3.3 0a1.65 1.65 0 1 0 -3.3 0zM257.5 153.3a1.65 1.65 0 1 0 3.3 0a1.65 1.65 0 1 0 -3.3 0zM258.1 153.3a1.65 1.65 0 1 0 3.3 0a1.65 1.65 0 1 0 -3.3 0zM258.8 153.8a1.65 1.65 0 1 0 3.3 0a1.65 1.65 0 1 0 -3.3 0zM259.4 154.1a1.65 1.65 0 1 0 3.3 0a1.65 1.65 0 1 0 -3.3 0zM260.0 154.3a1.65 1.65 0 1 0 3.3 0a1.65 1.65 0 1 0 -3.3 0zM260.6 154.2a1.65 1.65 0 1 0 3.3 0a1.65 1.65 0 1 0 -3.3 0zM261.2 154.2a1.65 1.65 0 1 0 3.3 0a1.65 1.65 0 1 0 -3.3 0zM261.9 154.4a1.65 1.65 0 1 0 3.3 0a1.65 1.65 0 1 0 -3.3 0zM262.5 154.9a1.65 1.65 0 1 0 3.3 0a1.65 1.65 0 1 0 -3.3 0zM263.1 155.0a1.65 1.65 0 1 0 3.3 0a1.65 1.65 0 1 0 -3.3 0zM263.7 155.2a1.65 1.65 0 1 0 3.3 0a1.65 1.65 0 1 0 -3.3 0zM264.3 155.1a1.65 1.65 0 1 0 3.3 0a1.65 1.65 0 1 0 -3.3 0zM265.0 155.5a1.65 1.65 0 1 0 3.3 0a1.65 1.65 0 1 0 -3.3 0zM265.6 155.7a1.65 1.65 0 1 0 3.3 0a1.65 1.65 0 1 0 -3.3 0zM266.2 156.1a1.65 1.65 0 1 0 3.3 0a1.65 1.65 0 1 0 -3.3 0zM266.8 156.0a1.65 1.65 0 1 0 3.3 0a1.65 1.65 0 1 0 -3.3 0zM267.4 156.5a1.65 1.65 0 1 0 3.3 0a1.65 1.65 0 1 0 -3.3 0zM268.1 156.5a1.65 1.65 0 1 0 3.3 0a1.65 1.65 0 1 0 -3.3 0zM268.7 156.6a1.65 1.65 0 1 0 3.3 0a1.65 1.65 0 1 0 -3.3 0zM269.3 156.7a1.65 1.65 0 1 0 3.3 0a1.65 1.65 0 1 0 -3.3 0zM269.9 157.1a1.65 1.65 0 1 0 3.3 0a1.65 1.65 0 1 0 -3.3 0zM270.5 156.9a1.65 1.65 0 1 0 3.3 0a1.65 1.65 0 1 0 -3.3 0zM271.2 157.4a1.65 1.65 0 1 0 3.3 0a1.65 1.65 0 1 0 -3.3 0zM271.8 157.4a1.65 1.65 0 1 0 3.3 0a1.65 1.65 0 1 0 -3.3 0zM272.4 157.5a1.65 1.65 0 1 0 3.3 0a1.65 1.65 0 1 0 -3.3 0zM273.0 157.8a1.65 1.65 0 1 0 3.3 0a1.65 1.65 0 1 0 -3.3 0zM273.6 157.9a1.65 1.65 0 1 0 3.3 0a1.65 1.65 0 1 0 -3.3 0zM274.3 158.5a1.65 1.65 0 1 0 3.3 0a1.65 1.65 0 1 0 -3.3 0zM274.9 158.7a1.65 1.65 0 1 0 3.3 0a1.65 1.65 0 1 0 -3.3 0zM275.5 158.8a1.65 1.65 0 1 0 3.3 0a1.65 1.65 0 1 0 -3.3 0zM276.1 158.6a1.65 1.65 0 1 0 3.3 0a1.65 1.65 0 1 0 -3.3 0zM276.7 158.9a1.65 1.65 0 1 0 3.3 0a1.65 1.65 0 1 0 -3.3 0zM277.4 159.1a1.65 1.65 0 1 0 3.3 0a1.65 1.65 0 1 0 -3.3 0zM278.0 159.0a1.65 1.65 0 1 0 3.3 0a1.65 1.65 0 1 0 -3.3 0zM278.6 159.3a1.65 1.65 0 1 0 3.3 0a1.65 1.65 0 1 0 -3.3 0zM279.2 159.7a1.65 1.65 0 1 0 3.3 0a1.65 1.65 0 1 0 -3.3 0zM279.8 159.9a1.65 1.65 0 1 0 3.3 0a1.65 1.65 0 1 0 -3.3 0zM280.5 160.1a1.65 1.65 0 1 0 3.3 0a1.65 1.65 0 1 0 -3.3 0zM281.1 160.2a1.65 1.65 0 1 0 3.3 0a1.65 1.65 0 1 0 -3.3 0zM281.7 160.3a1.65 1.65 0 1 0 3.3 0a1.65 1.65 0 1 0 -3.3 0zM282.3 160.4a1.65 1.65 0 1 0 3.3 0a1.65 1.65 0 1 0 -3.3 0zM282.9 160.1a1.65 1.65 0 1 0 3.3 0a1.65 1.65 0 1 0 -3.3 0zM283.6 160.8a1.65 1.65 0 1 0 3.3 0a1.65 1.65 0 1 0 -3.3 0zM284.2 160.8a1.65 1.65 0 1 0 3.3 0a1.65 1.65 0 1 0 -3.3 0zM284.8 160.9a1.65 1.65 0 1 0 3.3 0a1.65 1.65 0 1 0 -3.3 0zM285.4 161.1a1.65 1.65 0 1 0 3.3 0a1.65 1.65 0 1 0 -3.3 0zM286.0 161.4a1.65 1.65 0 1 0 3.3 0a1.65 1.65 0 1 0 -3.3 0zM286.7 161.7a1.65 1.65 0 1 0 3.3 0a1.65 1.65 0 1 0 -3.3 0zM287.3 161.8a1.65 1.65 0 1 0 3.3 0a1.65 1.65 0 1 0 -3.3 0zM287.9 161.7a1.65 1.65 0 1 0 3.3 0a1.65 1.65 0 1 0 -3.3 0zM288.5 162.1a1.65 1.65 0 1 0 3.3 0a1.65 1.65 0 1 0 -3.3 0zM289.1 162.0a1.65 1.65 0 1 0 3.3 0a1.65 1.65 0 1 0 -3.3 0zM289.8 162.3a1.65 1.65 0 1 0 3.3 0a1.65 1.65 0 1 0 -3.3 0zM290.4 162.2a1.65 1.65 0 1 0 3.3 0a1.65 1.65 0 1 0 -3.3 0zM291.0 162.6a1.65 1.65 0 1 0 3.3 0a1.65 1.65 0 1 0 -3.3 0zM291.6 162.6a1.65 1.65 0 1 0 3.3 0a1.65 1.65 0 1 0 -3.3 0zM292.2 163.2a1.65 1.65 0 1 0 3.3 0a1.65 1.65 0 1 0 -3.3 0zM292.9 163.1a1.65 1.65 0 1 0 3.3 0a1.65 1.65 0 1 0 -3.3 0zM293.5 163.1a1.65 1.65 0 1 0 3.3 0a1.65 1.65 0 1 0 -3.3 0zM294.1 163.7a1.65 1.65 0 1 0 3.3 0a1.65 1.65 0 1 0 -3.3 0zM294.7 163.6a1.65 1.65 0 1 0 3.3 0a1.65 1.65 0 1 0 -3.3 0zM295.3 163.8a1.65 1.65 0 1 0 3.3 0a1.65 1.65 0 1 0 -3.3 0zM296.0 163.7a1.65 1.65 0 1 0 3.3 0a1.65 1.65 0 1 0 -3.3 0zM296.6 163.8a1.65 1.65 0 1 0 3.3 0a1.65 1.65 0 1 0 -3.3 0zM297.2 164.3a1.65 1.65 0 1 0 3.3 0a1.65 1.65 0 1 0 -3.3 0zM297.8 164.4a1.65 1.65 0 1 0 3.3 0a1.65 1.65 0 1 0 -3.3 0zM298.4 164.9a1.65 1.65 0 1 0 3.3 0a1.65 1.65 0 1 0 -3.3 0zM299.1 164.7a1.65 1.65 0 1 0 3.3 0a1.65 1.65 0 1 0 -3.3 0zM299.7 164.6a1.65 1.65 0 1 0 3.3 0a1.65 1.65 0 1 0 -3.3 0zM300.3 165.0a1.65 1.65 0 1 0 3.3 0a1.65 1.65 0 1 0 -3.3 0zM300.9 164.9a1.65 1.65 0 1 0 3.3 0a1.65 1.65 0 1 0 -3.3 0zM301.5 165.2a1.65 1.65 0 1 0 3.3 0a1.65 1.65 0 1 0 -3.3 0zM302.2 165.3a1.65 1.65 0 1 0 3.3 0a1.65 1.65 0 1 0 -3.3 0zM302.8 165.0a1.65 1.65 0 1 0 3.3 0a1.65 1.65 0 1 0 -3.3 0zM303.4 165.3a1.65 1.65 0 1 0 3.3 0a1.65 1.65 0 1 0 -3.3 0zM304.0 165.5a1.65 1.65 0 1 0 3.3 0a1.65 1.65 0 1 0 -3.3 0zM304.6 165.4a1.65 1.65 0 1 0 3.3 0a1.65 1.65 0 1 0 -3.3 0zM305.3 165.7a1.65 1.65 0 1 0 3.3 0a1.65 1.65 0 1 0 -3.3 0zM305.9 166.0a1.65 1.65 0 1 0 3.3 0a1.65 1.65 0 1 0 -3.3 0zM306.5 165.9a1.65 1.65 0 1 0 3.3 0a1.65 1.65 0 1 0 -3.3 0zM307.1 166.5a1.65 1.65 0 1 0 3.3 0a1.65 1.65 0 1 0 -3.3 0zM307.7 166.9a1.65 1.65 0 1 0 3.3 0a1.65 1.65 0 1 0 -3.3 0zM308.4 166.6a1.65 1.65 0 1 0 3.3 0a1.65 1.65 0 1 0 -3.3 0zM309.0 166.9a1.65 1.65 0 1 0 3.3 0a1.65 1.65 0 1 0 -3.3 0zM309.6 166.8a1.65 1.65 0 1 0 3.3 0a1.65 1.65 0 1 0 -3.3 0zM310.2 167.9a1.65 1.65 0 1 0 3.3 0a1.65 1.65 0 1 0 -3.3 0zM310.8 166.6a1.65 1.65 0 1 0 3.3 0a1.65 1.65 0 1 0 -3.3 0zM311.5 167.2a1.65 1.65 0 1 0 3.3 0a1.65 1.65 0 1 0 -3.3 0zM312.1 167.3a1.65 1.65 0 1 0 3.3 0a1.65 1.65 0 1 0 -3.3 0zM312.7 166.7a1.65 1.65 0 1 0 3.3 0a1.65 1.65 0 1 0 -3.3 0zM313.3 167.7a1.65 1.65 0 1 0 3.3 0a1.65 1.65 0 1 0 -3.3 0zM313.9 168.2a1.65 1.65 0 1 0 3.3 0a1.65 1.65 0 1 0 -3.3 0zM314.6 168.0a1.65 1.65 0 1 0 3.3 0a1.65 1.65 0 1 0 -3.3 0zM315.2 167.6a1.65 1.65 0 1 0 3.3 0a1.65 1.65 0 1 0 -3.3 0zM315.8 168.6a1.65 1.65 0 1 0 3.3 0a1.65 1.65 0 1 0 -3.3 0zM316.4 169.2a1.65 1.65 0 1 0 3.3 0a1.65 1.65 0 1 0 -3.3 0zM317.0 168.3a1.65 1.65 0 1 0 3.3 0a1.65 1.65 0 1 0 -3.3 0zM317.7 168.4a1.65 1.65 0 1 0 3.3 0a1.65 1.65 0 1 0 -3.3 0zM318.3 168.3a1.65 1.65 0 1 0 3.3 0a1.65 1.65 0 1 0 -3.3 0zM318.9 169.5a1.65 1.65 0 1 0 3.3 0a1.65 1.65 0 1 0 -3.3 0zM319.5 168.3a1.65 1.65 0 1 0 3.3 0a1.65 1.65 0 1 0 -3.3 0zM320.1 169.3a1.65 1.65 0 1 0 3.3 0a1.65 1.65 0 1 0 -3.3 0zM320.8 168.5a1.65 1.65 0 1 0 3.3 0a1.65 1.65 0 1 0 -3.3 0zM321.4 169.2a1.65 1.65 0 1 0 3.3 0a1.65 1.65 0 1 0 -3.3 0zM322.0 169.2a1.65 1.65 0 1 0 3.3 0a1.65 1.65 0 1 0 -3.3 0zM322.6 168.8a1.65 1.65 0 1 0 3.3 0a1.65 1.65 0 1 0 -3.3 0zM323.2 170.0a1.65 1.65 0 1 0 3.3 0a1.65 1.65 0 1 0 -3.3 0zM323.9 169.5a1.65 1.65 0 1 0 3.3 0a1.65 1.65 0 1 0 -3.3 0zM324.5 169.6a1.65 1.65 0 1 0 3.3 0a1.65 1.65 0 1 0 -3.3 0zM325.1 169.7a1.65 1.65 0 1 0 3.3 0a1.65 1.65 0 1 0 -3.3 0zM325.7 170.2a1.65 1.65 0 1 0 3.3 0a1.65 1.65 0 1 0 -3.3 0zM326.3 170.5a1.65 1.65 0 1 0 3.3 0a1.65 1.65 0 1 0 -3.3 0zM327.0 170.0a1.65 1.65 0 1 0 3.3 0a1.65 1.65 0 1 0 -3.3 0zM327.6 170.2a1.65 1.65 0 1 0 3.3 0a1.65 1.65 0 1 0 -3.3 0zM328.2 169.7a1.65 1.65 0 1 0 3.3 0a1.65 1.65 0 1 0 -3.3 0zM328.8 170.9a1.65 1.65 0 1 0 3.3 0a1.65 1.65 0 1 0 -3.3 0zM329.4 171.2a1.65 1.65 0 1 0 3.3 0a1.65 1.65 0 1 0 -3.3 0zM330.1 171.1a1.65 1.65 0 1 0 3.3 0a1.65 1.65 0 1 0 -3.3 0zM330.7 170.9a1.65 1.65 0 1 0 3.3 0a1.65 1.65 0 1 0 -3.3 0zM331.3 170.7a1.65 1.65 0 1 0 3.3 0a1.65 1.65 0 1 0 -3.3 0zM331.9 170.6a1.65 1.65 0 1 0 3.3 0a1.65 1.65 0 1 0 -3.3 0zM332.5 171.4a1.65 1.65 0 1 0 3.3 0a1.65 1.65 0 1 0 -3.3 0zM333.2 169.6a1.65 1.65 0 1 0 3.3 0a1.65 1.65 0 1 0 -3.3 0zM333.8 171.3a1.65 1.65 0 1 0 3.3 0a1.65 1.65 0 1 0 -3.3 0zM334.4 170.6a1.65 1.65 0 1 0 3.3 0a1.65 1.65 0 1 0 -3.3 0zM335.0 170.4a1.65 1.65 0 1 0 3.3 0a1.65 1.65 0 1 0 -3.3 0zM335.6 171.7a1.65 1.65 0 1 0 3.3 0a1.65 1.65 0 1 0 -3.3 0zM336.3 173.0a1.65 1.65 0 1 0 3.3 0a1.65 1.65 0 1 0 -3.3 0zM336.9 172.0a1.65 1.65 0 1 0 3.3 0a1.65 1.65 0 1 0 -3.3 0zM337.5 172.2a1.65 1.65 0 1 0 3.3 0a1.65 1.65 0 1 0 -3.3 0zM338.1 171.2a1.65 1.65 0 1 0 3.3 0a1.65 1.65 0 1 0 -3.3 0zM338.7 172.9a1.65 1.65 0 1 0 3.3 0a1.65 1.65 0 1 0 -3.3 0zM339.4 172.6a1.65 1.65 0 1 0 3.3 0a1.65 1.65 0 1 0 -3.3 0zM340.0 172.0a1.65 1.65 0 1 0 3.3 0a1.65 1.65 0 1 0 -3.3 0zM340.6 171.4a1.65 1.65 0 1 0 3.3 0a1.65 1.65 0 1 0 -3.3 0zM341.2 171.3a1.65 1.65 0 1 0 3.3 0a1.65 1.65 0 1 0 -3.3 0zM341.8 171.3a1.65 1.65 0 1 0 3.3 0a1.65 1.65 0 1 0 -3.3 0zM342.5 173.8a1.65 1.65 0 1 0 3.3 0a1.65 1.65 0 1 0 -3.3 0zM343.1 172.2a1.65 1.65 0 1 0 3.3 0a1.65 1.65 0 1 0 -3.3 0zM343.7 175.1a1.65 1.65 0 1 0 3.3 0a1.65 1.65 0 1 0 -3.3 0zM344.3 173.5a1.65 1.65 0 1 0 3.3 0a1.65 1.65 0 1 0 -3.3 0zM344.9 174.8a1.65 1.65 0 1 0 3.3 0a1.65 1.65 0 1 0 -3.3 0zM345.6 173.4a1.65 1.65 0 1 0 3.3 0a1.65 1.65 0 1 0 -3.3 0zM346.2 175.6a1.65 1.65 0 1 0 3.3 0a1.65 1.65 0 1 0 -3.3 0zM346.8 174.7a1.65 1.65 0 1 0 3.3 0a1.65 1.65 0 1 0 -3.3 0zM347.4 173.3a1.65 1.65 0 1 0 3.3 0a1.65 1.65 0 1 0 -3.3 0zM348.0 172.1a1.65 1.65 0 1 0 3.3 0a1.65 1.65 0 1 0 -3.3 0zM348.7 173.2a1.65 1.65 0 1 0 3.3 0a1.65 1.65 0 1 0 -3.3 0zM349.3 173.6a1.65 1.65 0 1 0 3.3 0a1.65 1.65 0 1 0 -3.3 0zM349.9 172.7a1.65 1.65 0 1 0 3.3 0a1.65 1.65 0 1 0 -3.3 0zM350.5 173.1a1.65 1.65 0 1 0 3.3 0a1.65 1.65 0 1 0 -3.3 0zM351.1 173.0a1.65 1.65 0 1 0 3.3 0a1.65 1.65 0 1 0 -3.3 0zM351.8 173.5a1.65 1.65 0 1 0 3.3 0a1.65 1.65 0 1 0 -3.3 0zM352.4 174.3a1.65 1.65 0 1 0 3.3 0a1.65 1.65 0 1 0 -3.3 0zM353.0 174.0a1.65 1.65 0 1 0 3.3 0a1.65 1.65 0 1 0 -3.3 0zM353.6 174.9a1.65 1.65 0 1 0 3.3 0a1.65 1.65 0 1 0 -3.3 0zM354.2 174.8a1.65 1.65 0 1 0 3.3 0a1.65 1.65 0 1 0 -3.3 0zM354.9 176.0a1.65 1.65 0 1 0 3.3 0a1.65 1.65 0 1 0 -3.3 0zM355.5 174.0a1.65 1.65 0 1 0 3.3 0a1.65 1.65 0 1 0 -3.3 0zM356.1 176.3a1.65 1.65 0 1 0 3.3 0a1.65 1.65 0 1 0 -3.3 0zM356.7 171.5a1.65 1.65 0 1 0 3.3 0a1.65 1.65 0 1 0 -3.3 0zM357.3 174.1a1.65 1.65 0 1 0 3.3 0a1.65 1.65 0 1 0 -3.3 0zM358.0 175.9a1.65 1.65 0 1 0 3.3 0a1.65 1.65 0 1 0 -3.3 0zM358.6 174.0a1.65 1.65 0 1 0 3.3 0a1.65 1.65 0 1 0 -3.3 0zM359.2 174.6a1.65 1.65 0 1 0 3.3 0a1.65 1.65 0 1 0 -3.3 0zM359.8 175.1a1.65 1.65 0 1 0 3.3 0a1.65 1.65 0 1 0 -3.3 0zM360.4 172.5a1.65 1.65 0 1 0 3.3 0a1.65 1.65 0 1 0 -3.3 0zM361.1 177.1a1.65 1.65 0 1 0 3.3 0a1.65 1.65 0 1 0 -3.3 0zM361.7 175.4a1.65 1.65 0 1 0 3.3 0a1.65 1.65 0 1 0 -3.3 0zM362.3 176.4a1.65 1.65 0 1 0 3.3 0a1.65 1.65 0 1 0 -3.3 0zM362.9 171.9a1.65 1.65 0 1 0 3.3 0a1.65 1.65 0 1 0 -3.3 0zM363.5 175.9a1.65 1.65 0 1 0 3.3 0a1.65 1.65 0 1 0 -3.3 0zM364.2 174.7a1.65 1.65 0 1 0 3.3 0a1.65 1.65 0 1 0 -3.3 0zM364.8 176.3a1.65 1.65 0 1 0 3.3 0a1.65 1.65 0 1 0 -3.3 0zM365.4 175.5a1.65 1.65 0 1 0 3.3 0a1.65 1.65 0 1 0 -3.3 0zM366.0 174.6a1.65 1.65 0 1 0 3.3 0a1.65 1.65 0 1 0 -3.3 0zM366.6 176.9a1.65 1.65 0 1 0 3.3 0a1.65 1.65 0 1 0 -3.3 0zM367.3 176.2a1.65 1.65 0 1 0 3.3 0a1.65 1.65 0 1 0 -3.3 0zM367.9 176.8a1.65 1.65 0 1 0 3.3 0a1.65 1.65 0 1 0 -3.3 0zM368.5 178.2a1.65 1.65 0 1 0 3.3 0a1.65 1.65 0 1 0 -3.3 0zM369.1 176.5a1.65 1.65 0 1 0 3.3 0a1.65 1.65 0 1 0 -3.3 0zM369.7 178.0a1.65 1.65 0 1 0 3.3 0a1.65 1.65 0 1 0 -3.3 0zM370.4 177.1a1.65 1.65 0 1 0 3.3 0a1.65 1.65 0 1 0 -3.3 0zM371.0 174.8a1.65 1.65 0 1 0 3.3 0a1.65 1.65 0 1 0 -3.3 0zM371.6 173.7a1.65 1.65 0 1 0 3.3 0a1.65 1.65 0 1 0 -3.3 0zM372.2 178.6a1.65 1.65 0 1 0 3.3 0a1.65 1.65 0 1 0 -3.3 0zM372.8 176.3a1.65 1.65 0 1 0 3.3 0a1.65 1.65 0 1 0 -3.3 0zM373.5 176.7a1.65 1.65 0 1 0 3.3 0a1.65 1.65 0 1 0 -3.3 0zM374.1 176.1a1.65 1.65 0 1 0 3.3 0a1.65 1.65 0 1 0 -3.3 0zM374.7 178.3a1.65 1.65 0 1 0 3.3 0a1.65 1.65 0 1 0 -3.3 0zM375.3 177.3a1.65 1.65 0 1 0 3.3 0a1.65 1.65 0 1 0 -3.3 0zM375.9 177.6a1.65 1.65 0 1 0 3.3 0a1.65 1.65 0 1 0 -3.3 0zM376.6 175.6a1.65 1.65 0 1 0 3.3 0a1.65 1.65 0 1 0 -3.3 0zM377.2 178.0a1.65 1.65 0 1 0 3.3 0a1.65 1.65 0 1 0 -3.3 0zM377.8 177.6a1.65 1.65 0 1 0 3.3 0a1.65 1.65 0 1 0 -3.3 0zM378.4 177.2a1.65 1.65 0 1 0 3.3 0a1.65 1.65 0 1 0 -3.3 0zM379.0 174.2a1.65 1.65 0 1 0 3.3 0a1.65 1.65 0 1 0 -3.3 0zM379.7 175.3a1.65 1.65 0 1 0 3.3 0a1.65 1.65 0 1 0 -3.3 0zM380.3 176.9a1.65 1.65 0 1 0 3.3 0a1.65 1.65 0 1 0 -3.3 0zM380.9 178.2a1.65 1.65 0 1 0 3.3 0a1.65 1.65 0 1 0 -3.3 0zM57.2 227.2a1.57 1.57 0 1 0 3.1 0a1.57 1.57 0 1 0 -3.1 0zM58.5 236.0a1.57 1.57 0 1 0 3.1 0a1.57 1.57 0 1 0 -3.1 0zM59.4 227.2a1.57 1.57 0 1 0 3.1 0a1.57 1.57 0 1 0 -3.1 0z" fill="#d4ff00"/>
<path d="M76.8 196.9h3.6l-1.8 -3.6zM76.9 189.3h3.6l-1.8 -3.6zM77.1 185.7h3.6l-1.8 -3.6zM77.2 182.9h3.6l-1.8 -3.6zM77.4 180.2h3.6l-1.8 -3.6zM77.6 177.1h3.6l-1.8 -3.6zM77.9 174.4h3.6l-1.8 -3.6zM78.1 171.2h3.6l-1.8 -3.6zM78.5 167.9h3.6l-1.8 -3.6zM78.8 164.6h3.6l-1.8 -3.6zM79.2 161.7h3.6l-1.8 -3.6zM79.6 158.6h3.6l-1.8 -3.6zM80.1 155.4h3.6l-1.8 -3.6zM80.6 152.1h3.6l-1.8 -3.6zM81.1 149.0h3.6l-1.8 -3.6zM81.6 145.9h3.6l-1.8 -3.6zM82.2 142.4h3.6l-1.8 -3.6zM82.9 139.5h3.6l-1.8 -3.6zM83.5 136.4h3.6l-1.8 -3.6zM84.1 133.6h3.6l-1.8 -3.6zM84.7 130.6h3.6l-1.8 -3.6zM85.3 127.9h3.6l-1.8 -3.6zM86.0 125.2h3.6l-1.8 -3.6zM86.6 122.9h3.6l-1.8 -3.6zM87.2 120.3h3.6l-1.8 -3.6zM87.8 118.3h3.6l-1.8 -3.6zM88.4 115.7h3.6l-1.8 -3.6zM89.1 113.5h3.6l-1.8 -3.6zM89.7 110.8h3.6l-1.8 -3.6zM90.3 109.0h3.6l-1.8 -3.6zM90.9 107.0h3.6l-1.8 -3.6zM91.5 104.8h3.6l-1.8 -3.6zM92.2 103.0h3.6l-1.8 -3.6zM92.8 100.6h3.6l-1.8 -3.6zM93.4 98.9h3.6l-1.8 -3.6zM94.0 96.6h3.6l-1.8 -3.6zM94.6 95.1h3.6l-1.8 -3.6zM95.3 93.4h3.6l-1.8 -3.6zM95.9 91.8h3.6l-1.8 -3.6zM96.5 90.4h3.6l-1.8 -3.6zM97.1 89.0h3.6l-1.8 -3.6zM97.7 87.9h3.6l-1.8 -3.6zM98.4 86.7h3.6l-1.8 -3.6zM99.0 85.6h3.6l-1.8 -3.6zM99.6 84.2h3.6l-1.8 -3.6zM100.2 84.1h3.6l-1.8 -3.6zM100.8 82.5h3.6l-1.8 -3.6zM101.5 81.8h3.6l-1.8 -3.6zM102.1 80.9h3.6l-1.8 -3.6zM102.7 80.2h3.6l-1.8 -3.6zM103.3 79.6h3.6l-1.8 -3.6zM103.9 79.1h3.6l-1.8 -3.6zM104.6 78.4h3.6l-1.8 -3.6zM105.2 77.9h3.6l-1.8 -3.6zM105.8 77.1h3.6l-1.8 -3.6zM106.4 76.9h3.6l-1.8 -3.6zM107.0 76.4h3.6l-1.8 -3.6zM107.7 75.8h3.6l-1.8 -3.6zM108.3 75.4h3.6l-1.8 -3.6zM108.9 74.9h3.6l-1.8 -3.6zM109.5 74.5h3.6l-1.8 -3.6zM110.1 74.3h3.6l-1.8 -3.6zM110.8 73.8h3.6l-1.8 -3.6zM111.4 73.4h3.6l-1.8 -3.6zM112.0 73.4h3.6l-1.8 -3.6zM112.6 72.8h3.6l-1.8 -3.6zM113.2 72.4h3.6l-1.8 -3.6zM113.9 72.1h3.6l-1.8 -3.6zM114.5 72.2h3.6l-1.8 -3.6zM115.1 71.9h3.6l-1.8 -3.6zM115.7 71.5h3.6l-1.8 -3.6zM116.3 71.3h3.6l-1.8 -3.6zM117.0 71.3h3.6l-1.8 -3.6zM117.6 71.0h3.6l-1.8 -3.6zM118.2 70.7h3.6l-1.8 -3.6zM118.8 70.7h3.6l-1.8 -3.6zM119.4 70.7h3.6l-1.8 -3.6zM120.1 70.5h3.6l-1.8 -3.6zM120.7 70.3h3.6l-1.8 -3.6zM121.3 69.8h3.6l-1.8 -3.6zM121.9 70.2h3.6l-1.8 -3.6zM122.5 70.0h3.6l-1.8 -3.6zM123.2 70.0h3.6l-1.8 -3.6zM123.8 70.0h3.6l-1.8 -3.6zM124.4 70.2h3.6l-1.8 -3.6zM125.0 69.8h3.6l-1.8 -3.6zM125.6 69.6h3.6l-1.8 -3.6zM126.3 69.8h3.6l-1.8 -3.6zM126.9 69.8h3.6l-1.8 -3.6zM127.5 69.9h3.6l-1.8 -3.6zM128.1 69.3h3.6l-1.8 -3.6zM128.7 69.7h3.6l-1.8 -3.6zM129.4 69.9h3.6l-1.8 -3.6zM130.0 69.8h3.6l-1.8 -3.6zM130.6 69.9h3.6l-1.8 -3.6zM131.2 69.9h3.6l-1.8 -3.6zM131.8 69.9h3.6l-1.8 -3.6zM132.5 70.1h3.6l-1.8 -3.6zM133.1 70.3h3.6l-1.8 -3.6zM133.7 70.0h3.6l-1.8 -3.6zM134.3 70.1h3.6l-1.8 -3.6zM134.9 70.4h3.6l-1.8 -3.6zM135.6 70.3h3.6l-1.8 -3.6zM136.2 70.8h3.6l-1.8 -3.6zM136.8 70.5h3.6l-1.8 -3.6zM137.4 70.8h3.6l-1.8 -3.6zM138.0 71.3h3.6l-1.8 -3.6zM138.7 71.1h3.6l-1.8 -3.6zM139.3 70.8h3.6l-1.8 -3.6zM139.9 71.4h3.6l-1.8 -3.6zM140.5 71.2h3.6l-1.8 -3.6zM141.1 71.7h3.6l-1.8 -3.6zM141.8 71.6h3.6l-1.8 -3.6zM142.4 71.7h3.6l-1.8 -3.6zM143.0 71.9h3.6l-1.8 -3.6zM143.6 72.0h3.6l-1.8 -3.6zM144.2 72.6h3.6l-1.8 -3.6zM144.9 72.6h3.6l-1.8 -3.6zM145.5 72.6h3.6l-1.8 -3.6zM146.1 73.1h3.6l-1.8 -3.6zM146.7 73.0h3.6l-1.8 -3.6zM147.3 73.0h3.6l-1.8 -3.6zM148.0 73.5h3.6l-1.8 -3.6zM148.6 73.8h3.6l-1.8 -3.6zM149.2 73.7h3.6l-1.8 -3.6zM149.8 74.2h3.6l-1.8 -3.6zM150.4 74.4h3.6l-1.8 -3.6zM151.1 74.2h3.6l-1.8 -3.6zM151.7 74.6h3.6l-1.8 -3.6zM152.3 74.8h3.6l-1.8 -3.6zM152.9 74.8h3.6l-1.8 -3.6zM153.5 75.1h3.6l-1.8 -3.6zM154.2 75.4h3.6l-1.8 -3.6zM154.8 75.9h3.6l-1.8 -3.6zM155.4 75.8h3.6l-1.8 -3.6zM156.0 76.3h3.6l-1.8 -3.6zM156.6 76.7h3.6l-1.8 -3.6zM157.3 76.6h3.6l-1.8 -3.6zM157.9 76.6h3.6l-1.8 -3.6zM158.5 77.1h3.6l-1.8 -3.6zM159.1 77.2h3.6l-1.8 -3.6zM159.7 77.7h3.6l-1.8 -3.6zM160.4 77.9h3.6l-1.8 -3.6zM161.0 78.3h3.6l-1.8 -3.6zM161.6 78.4h3.6l-1.8 -3.6zM162.2 78.9h3.6l-1.8 -3.6zM162.8 79.0h3.6l-1.8 -3.6zM163.5 79.2h3.6l-1.8 -3.6zM164.1 79.3h3.6l-1.8 -3.6zM164.7 79.7h3.6l-1.8 -3.6zM165.3 80.2h3.6l-1.8 -3.6zM165.9 80.2h3.6l-1.8 -3.6zM166.6 80.3h3.6l-1.8 -3.6zM167.2 80.9h3.6l-1.8 -3.6zM167.8 81.0h3.6l-1.8 -3.6zM168.4 81.4h3.6l-1.8 -3.6zM169.0 81.6h3.6l-1.8 -3.6zM169.7 82.1h3.6l-1.8 -3.6zM170.3 82.3h3.6l-1.8 -3.6zM170.9 82.8h3.6l-1.8 -3.6zM171.5 82.8h3.6l-1.8 -3.6zM172.1 83.3h3.6l-1.8 -3.6zM172.8 83.6h3.6l-1.8 -3.6zM173.4 83.9h3.6l-1.8 -3.6zM174.0 84.2h3.6l-1.8 -3.6zM174.6 84.4h3.6l-1.8 -3.6zM175.2 84.9h3.6l-1.8 -3.6zM175.9 85.3h3.6l-1.8 -3.6zM176.5 85.5h3.6l-1.8 -3.6zM177.1 85.7h3.6l-1.8 -3.6zM177.7 85.7h3.6l-1.8 -3.6zM178.3 86.4h3.6l-1.8 -3.6zM179.0 86.6h3.6l-1.8 -3.6zM179.6 86.9h3.6l-1.8 -3.6zM180.2 87.5h3.6l-1.8 -3.6zM180.8 87.9h3.6l-1.8 -3.6zM181.4 88.3h3.6l-1.8 -3.6zM182.1 88.5h3.6l-1.8 -3.6zM182.7 89.0h3.6l-1.8 -3.6zM183.3 89.1h3.6l-1.8 -3.6zM183.9 89.6h3.6l-1.8 -3.6zM184.5 89.9h3.6l-1.8 -3.6zM185.2 90.4h3.6l-1.8 -3.6zM185.8 90.6h3.6l-1.8 -3.6zM186.4 90.6h3.6l-1.8 -3.6zM187.0 91.3h3.6l-1.8 -3.6zM187.6 91.5h3.6l-1.8 -3.6zM188.3 91.9h3.6l-1.8 -3.6zM188.9 92.1h3.6l-1.8 -3.6zM189.5 92.7h3.6l-1.8 -3.6zM190.1 92.9h3.6l-1.8 -3.6zM190.7 93.4h3.6l-1.8 -3.6zM191.4 93.7h3.6l-1.8 -3.6zM192.0 94.3h3.6l-1.8 -3.6zM192.6 94.5h3.6l-1.8 -3.6zM193.2 94.7h3.6l-1.8 -3.6zM193.8 95.2h3.6l-1.8 -3.6zM194.5 95.4h3.6l-1.8 -3.6zM195.1 95.5h3.6l-1.8 -3.6zM195.7 96.2h3.6l-1.8 -3.6zM196.3 96.8h3.6l-1.8 -3.6zM196.9 97.3h3.6l-1.8 -3.6zM197.6 97.6h3.6l-1.8 -3.6zM198.2 97.7h3.6l-1.8 -3.6zM198.8 97.8h3.6l-1.8 -3.6zM199.4 98.4h3.6l-1.8 -3.6zM200.0 98.8h3.6l-1.8 -3.6zM200.7 99.3h3.6l-1.8 -3.6zM201.3 99.5h3.6l-1.8 -3.6zM201.9 99.9h3.6l-1.8 -3.6zM202.5 100.2h3.6l-1.8 -3.6zM203.1 100.8h3.6l-1.8 -3.6zM203.8 100.7h3.6l-1.8 -3.6zM204.4 101.2h3.6l-1.8 -3.6zM205.0 101.8h3.6l-1.8 -3.6zM205.6 101.9h3.6l-1.8 -3.6zM206.2 102.3h3.6l-1.8 -3.6zM206.9 102.5h3.6l-1.8 -3.6zM207.5 103.0h3.6l-1.8 -3.6zM208.1 103.5h3.6l-1.8 -3.6zM208.7 103.8h3.6l-1.8 -3.6zM209.3 104.3h3.6l-1.8 -3.6zM210.0 104.6h3.6l-1.8 -3.6zM210.6 104.9h3.6l-1.8 -3.6zM211.2 105.2h3.6l-1.8 -3.6zM211.8 105.6h3.6l-1.8 -3.6zM212.4 105.6h3.6l-1.8 -3.6zM213.1 106.4h3.6l-1.8 -3.6zM213.7 106.6h3.6l-1.8 -3.6zM214.3 107.1h3.6l-1.8 -3.6zM214.9 107.5h3.6l-1.8 -3.6zM215.5 107.8h3.6l-1.8 -3.6zM216.2 108.1h3.6l-1.8 -3.6zM216.8 108.5h3.6l-1.8 -3.6zM217.4 108.9h3.6l-1.8 -3.6zM218.0 109.2h3.6l-1.8 -3.6zM218.6 109.7h3.6l-1.8 -3.6zM219.3 109.8h3.6l-1.8 -3.6zM219.9 110.2h3.6l-1.8 -3.6zM220.5 110.7h3.6l-1.8 -3.6zM221.1 111.1h3.6l-1.8 -3.6zM221.7 111.4h3.6l-1.8 -3.6zM222.4 111.6h3.6l-1.8 -3.6zM223.0 112.1h3.6l-1.8 -3.6zM223.6 112.3h3.6l-1.8 -3.6zM224.2 112.5h3.6l-1.8 -3.6zM224.8 113.0h3.6l-1.8 -3.6zM225.5 113.3h3.6l-1.8 -3.6zM226.1 113.8h3.6l-1.8 -3.6zM226.7 114.0h3.6l-1.8 -3.6zM227.3 114.4h3.6l-1.8 -3.6zM227.9 114.9h3.6l-1.8 -3.6zM228.6 115.3h3.6l-1.8 -3.6zM229.2 115.8h3.6l-1.8 -3.6zM229.8 115.7h3.6l-1.8 -3.6zM230.4 116.0h3.6l-1.8 -3.6zM231.0 116.6h3.6l-1.8 -3.6zM231.7 117.0h3.6l-1.8 -3.6zM232.3 117.2h3.6l-1.8 -3.6zM232.9 117.5h3.6l-1.8 -3.6zM233.5 117.9h3.6l-1.8 -3.6zM234.1 118.1h3.6l-1.8 -3.6zM234.8 118.5h3.6l-1.8 -3.6zM235.4 118.7h3.6l-1.8 -3.6zM236.0 119.1h3.6l-1.8 -3.6zM236.6 119.5h3.6l-1.8 -3.6zM237.2 120.0h3.6l-1.8 -3.6zM237.9 120.2h3.6l-1.8 -3.6zM238.5 120.5h3.6l-1.8 -3.6zM239.1 120.9h3.6l-1.8 -3.6zM239.7 121.3h3.6l-1.8 -3.6zM240.3 121.6h3.6l-1.8 -3.6zM241.0 121.7h3.6l-1.8 -3.6zM241.6 122.2h3.6l-1.8 -3.6zM242.2 122.4h3.6l-1.8 -3.6zM242.8 122.6h3.6l-1.8 -3.6zM243.4 123.1h3.6l-1.8 -3.6zM244.1 123.7h3.6l-1.8 -3.6zM244.7 123.7h3.6l-1.8 -3.6zM245.3 123.8h3.6l-1.8 -3.6zM245.9 124.4h3.6l-1.8 -3.6zM246.5 124.9h3.6l-1.8 -3.6zM247.2 125.1h3.6l-1.8 -3.6zM247.8 125.4h3.6l-1.8 -3.6zM248.4 125.3h3.6l-1.8 -3.6zM249.0 126.0h3.6l-1.8 -3.6zM249.6 125.9h3.6l-1.8 -3.6zM250.3 126.6h3.6l-1.8 -3.6zM250.9 126.8h3.6l-1.8 -3.6zM251.5 127.6h3.6l-1.8 -3.6zM252.1 127.5h3.6l-1.8 -3.6zM252.7 127.9h3.6l-1.8 -3.6zM253.4 128.1h3.6l-1.8 -3.6zM254.0 128.4h3.6l-1.8 -3.6zM254.6 128.5h3.6l-1.8 -3.6zM255.2 129.0h3.6l-1.8 -3.6zM255.8 129.3h3.6l-1.8 -3.6zM256.5 129.7h3.6l-1.8 -3.6zM257.1 129.9h3.6l-1.8 -3.6zM257.7 129.9h3.6l-1.8 -3.6zM258.3 130.4h3.6l-1.8 -3.6zM258.9 130.9h3.6l-1.8 -3.6zM259.6 131.5h3.6l-1.8 -3.6zM260.2 131.2h3.6l-1.8 -3.6zM260.8 131.6h3.6l-1.8 -3.6zM261.4 131.8h3.6l-1.8 -3.6zM262.0 131.8h3.6l-1.8 -3.6zM262.7 132.4h3.6l-1.8 -3.6zM263.3 132.7h3.6l-1.8 -3.6zM263.9 132.9h3.6l-1.8 -3.6zM264.5 133.4h3.6l-1.8 -3.6zM265.1 133.6h3.6l-1.8 -3.6zM265.8 133.9h3.6l-1.8 -3.6zM266.4 134.0h3.6l-1.8 -3.6zM267.0 134.2h3.6l-1.8 -3.6zM267.6 135.2h3.6l-1.8 -3.6zM268.2 135.0h3.6l-1.8 -3.6zM268.9 135.3h3.6l-1.8 -3.6zM269.5 135.3h3.6l-1.8 -3.6zM270.1 135.9h3.6l-1.8 -3.6zM270.7 136.0h3.6l-1.8 -3.6zM271.3 136.3h3.6l-1.8 -3.6zM272.0 136.4h3.6l-1.8 -3.6zM272.6 136.7h3.6l-1.8 -3.6zM273.2 137.2h3.6l-1.8 -3.6zM273.8 137.5h3.6l-1.8 -3.6zM274.4 137.5h3.6l-1.8 -3.6zM275.1 137.7h3.6l-1.8 -3.6zM275.7 138.0h3.6l-1.8 -3.6zM276.3 138.1h3.6l-1.8 -3.6zM276.9 138.5h3.6l-1.8 -3.6zM277.5 138.9h3.6l-1.8 -3.6zM278.2 139.0h3.6l-1.8 -3.6zM278.8 139.1h3.6l-1.8 -3.6zM279.4 139.6h3.6l-1.8 -3.6zM280.0 139.7h3.6l-1.8 -3.6zM280.6 140.2h3.6l-1.8 -3.6zM281.3 140.3h3.6l-1.8 -3.6zM281.9 140.3h3.6l-1.8 -3.6zM282.5 140.7h3.6l-1.8 -3.6zM283.1 140.9h3.6l-1.8 -3.6zM283.7 141.4h3.6l-1.8 -3.6zM284.4 141.4h3.6l-1.8 -3.6zM285.0 141.5h3.6l-1.8 -3.6zM285.6 141.8h3.6l-1.8 -3.6zM286.2 142.0h3.6l-1.8 -3.6zM286.8 142.4h3.6l-1.8 -3.6zM287.5 142.7h3.6l-1.8 -3.6zM288.1 142.6h3.6l-1.8 -3.6zM288.7 142.9h3.6l-1.8 -3.6zM289.3 143.1h3.6l-1.8 -3.6zM289.9 143.4h3.6l-1.8 -3.6zM290.6 143.5h3.6l-1.8 -3.6zM291.2 143.9h3.6l-1.8 -3.6zM291.8 143.9h3.6l-1.8 -3.6zM292.4 144.0h3.6l-1.8 -3.6zM293.0 144.7h3.6l-1.8 -3.6zM293.7 144.7h3.6l-1.8 -3.6zM294.3 145.1h3.6l-1.8 -3.6zM294.9 145.1h3.6l-1.8 -3.6zM295.5 145.4h3.6l-1.8 -3.6zM296.1 145.4h3.6l-1.8 -3.6zM296.8 146.2h3.6l-1.8 -3.6zM297.4 145.8h3.6l-1.8 -3.6zM298.0 145.9h3.6l-1.8 -3.6zM298.6 146.3h3.6l-1.8 -3.6zM299.2 146.2h3.6l-1.8 -3.6zM299.9 146.5h3.6l-1.8 -3.6zM300.5 146.9h3.6l-1.8 -3.6zM301.1 147.2h3.6l-1.8 -3.6zM301.7 147.2h3.6l-1.8 -3.6zM302.3 147.6h3.6l-1.8 -3.6zM303.0 147.9h3.6l-1.8 -3.6zM303.6 148.2h3.6l-1.8 -3.6zM304.2 147.9h3.6l-1.8 -3.6zM304.8 148.4h3.6l-1.8 -3.6zM305.4 148.0h3.6l-1.8 -3.6zM306.1 147.8h3.6l-1.8 -3.6zM306.7 148.6h3.6l-1.8 -3.6zM307.3 148.3h3.6l-1.8 -3.6zM307.9 149.1h3.6l-1.8 -3.6zM308.5 148.9h3.6l-1.8 -3.6zM309.2 149.6h3.6l-1.8 -3.6zM309.8 149.4h3.6l-1.8 -3.6zM310.4 150.2h3.6l-1.8 -3.6zM311.0 150.5h3.6l-1.8 -3.6zM311.6 149.7h3.6l-1.8 -3.6zM312.3 150.4h3.6l-1.8 -3.6zM312.9 150.1h3.6l-1.8 -3.6zM313.5 151.4h3.6l-1.8 -3.6zM314.1 150.5h3.6l-1.8 -3.6zM314.7 152.1h3.6l-1.8 -3.6zM315.4 150.5h3.6l-1.8 -3.6zM316.0 151.5h3.6l-1.8 -3.6zM316.6 151.5h3.6l-1.8 -3.6zM317.2 151.9h3.6l-1.8 -3.6zM317.8 151.6h3.6l-1.8 -3.6zM318.5 152.1h3.6l-1.8 -3.6zM319.1 152.5h3.6l-1.8 -3.6zM319.7 152.3h3.6l-1.8 -3.6zM320.3 152.8h3.6l-1.8 -3.6zM320.9 152.4h3.6l-1.8 -3.6zM321.6 152.8h3.6l-1.8 -3.6zM322.2 152.5h3.6l-1.8 -3.6zM322.8 153.5h3.6l-1.8 -3.6zM323.4 153.1h3.6l-1.8 -3.6zM324.0 153.2h3.6l-1.8 -3.6zM324.7 152.6h3.6l-1.8 -3.6zM325.3 154.3h3.6l-1.8 -3.6zM325.9 153.2h3.6l-1.8 -3.6zM326.5 153.5h3.6l-1.8 -3.6zM327.1 154.4h3.6l-1.8 -3.6zM327.8 154.4h3.6l-1.8 -3.6zM328.4 155.3h3.6l-1.8 -3.6zM329.0 154.0h3.6l-1.8 -3.6zM329.6 154.6h3.6l-1.8 -3.6zM330.2 154.7h3.6l-1.8 -3.6zM330.9 154.5h3.6l-1.8 -3.6zM331.5 154.3h3.6l-1.8 -3.6zM332.1 153.6h3.6l-1.8 -3.6zM332.7 154.0h3.6l-1.8 -3.6zM333.3 155.5h3.6l-1.8 -3.6zM334.0 154.9h3.6l-1.8 -3.6zM334.6 156.5h3.6l-1.8 -3.6zM335.2 154.6h3.6l-1.8 -3.6zM335.8 155.5h3.6l-1.8 -3.6zM336.4 156.1h3.6l-1.8 -3.6zM337.1 156.4h3.6l-1.8 -3.6zM337.7 157.2h3.6l-1.8 -3.6zM338.3 155.7h3.6l-1.8 -3.6zM338.9 155.7h3.6l-1.8 -3.6zM339.5 156.4h3.6l-1.8 -3.6zM340.2 157.3h3.6l-1.8 -3.6zM340.8 156.1h3.6l-1.8 -3.6zM341.4 157.7h3.6l-1.8 -3.6zM342.0 156.2h3.6l-1.8 -3.6zM342.6 157.1h3.6l-1.8 -3.6zM343.3 156.4h3.6l-1.8 -3.6zM343.9 158.1h3.6l-1.8 -3.6zM344.5 157.6h3.6l-1.8 -3.6zM345.1 157.8h3.6l-1.8 -3.6zM345.7 156.7h3.6l-1.8 -3.6zM346.4 159.0h3.6l-1.8 -3.6zM347.0 159.0h3.6l-1.8 -3.6zM347.6 158.5h3.6l-1.8 -3.6zM348.2 157.8h3.6l-1.8 -3.6zM348.8 156.5h3.6l-1.8 -3.6zM349.5 157.7h3.6l-1.8 -3.6zM350.1 156.5h3.6l-1.8 -3.6zM350.7 157.4h3.6l-1.8 -3.6zM351.3 158.1h3.6l-1.8 -3.6zM351.9 158.6h3.6l-1.8 -3.6zM352.6 158.0h3.6l-1.8 -3.6zM353.2 158.8h3.6l-1.8 -3.6zM353.8 158.7h3.6l-1.8 -3.6zM354.4 157.8h3.6l-1.8 -3.6zM355.0 159.1h3.6l-1.8 -3.6zM355.7 160.1h3.6l-1.8 -3.6zM356.3 157.8h3.6l-1.8 -3.6zM356.9 159.9h3.6l-1.8 -3.6zM357.5 157.3h3.6l-1.8 -3.6zM358.1 159.5h3.6l-1.8 -3.6zM358.8 158.9h3.6l-1.8 -3.6zM359.4 160.7h3.6l-1.8 -3.6zM360.0 159.6h3.6l-1.8 -3.6zM360.6 157.7h3.6l-1.8 -3.6zM361.2 159.2h3.6l-1.8 -3.6zM361.9 162.7h3.6l-1.8 -3.6zM362.5 158.1h3.6l-1.8 -3.6zM363.1 161.1h3.6l-1.8 -3.6zM363.7 160.0h3.6l-1.8 -3.6zM364.3 160.2h3.6l-1.8 -3.6zM365.0 156.4h3.6l-1.8 -3.6zM365.6 159.4h3.6l-1.8 -3.6zM366.2 159.4h3.6l-1.8 -3.6zM366.8 157.4h3.6l-1.8 -3.6zM367.4 159.6h3.6l-1.8 -3.6zM368.1 158.5h3.6l-1.8 -3.6zM368.7 159.4h3.6l-1.8 -3.6zM369.3 162.5h3.6l-1.8 -3.6zM369.9 159.6h3.6l-1.8 -3.6zM370.5 158.1h3.6l-1.8 -3.6zM371.2 160.1h3.6l-1.8 -3.6zM371.8 157.7h3.6l-1.8 -3.6zM372.4 161.0h3.6l-1.8 -3.6zM373.0 161.4h3.6l-1.8 -3.6zM373.6 159.0h3.6l-1.8 -3.6zM374.3 161.5h3.6l-1.8 -3.6zM374.9 158.1h3.6l-1.8 -3.6zM375.5 161.0h3.6l-1.8 -3.6zM376.1 161.4h3.6l-1.8 -3.6zM376.7 160.2h3.6l-1.8 -3.6zM377.4 158.9h3.6l-1.8 -3.6zM378.0 160.9h3.6l-1.8 -3.6zM378.6 160.6h3.6l-1.8 -3.6zM379.2 161.7h3.6l-1.8 -3.6zM379.8 158.8h3.6l-1.8 -3.6zM380.5 161.2h3.6l-1.8 -3.6zM381.1 161.2h3.6l-1.8 -3.6zM55.8 210.9h3.4l-1.7 -3.4zM57.4 210.9h3.4l-1.7 -3.4zM60.8 210.9h3.4l-1.7 -3.4zM61.9 199.2h3.4l-1.7 -3.4zM64.7 210.9h3.4l-1.7 -3.4zM65.4 205.7h3.4l-1.7 -3.4zM66.6 202.0h3.4l-1.7 -3.4zM67.8 199.2h3.4l-1.7 -3.4zM70.3 199.2h3.4l-1.7 -3.4zM70.8 210.9h3.4l-1.7 -3.4zM72.3 191.7h3.4l-1.7 -3.4zM75.9 210.9h3.4l-1.7 -3.4z" fill="#ffff00"/>
<path d="M72.0 183.6h3.6l-1.8 3.6zM72.1 190.8h3.6l-1.8 3.6zM72.3 171.6h3.6l-1.8 3.6zM72.4 169.4h3.6l-1.8 3.6zM72.5 166.8h3.6l-1.8 3.6zM72.7 163.8h3.6l-1.8 3.6zM73.0 160.8h3.6l-1.8 3.6zM73.2 157.7h3.6l-1.8 3.6zM73.5 154.6h3.6l-1.8 3.6zM73.8 151.4h3.6l-1.8 3.6zM74.1 147.9h3.6l-1.8 3.6zM74.5 145.1h3.6l-1.8 3.6zM74.8 141.7h3.6l-1.8 3.6zM75.2 138.5h3.6l-1.8 3.6zM75.5 135.0h3.6l-1.8 3.6zM75.9 131.5h3.6l-1.8 3.6zM76.3 128.5h3.6l-1.8 3.6zM76.6 125.1h3.6l-1.8 3.6zM77.0 121.8h3.6l-1.8 3.6zM77.4 118.4h3.6l-1.8 3.6zM77.7 115.0h3.6l-1.8 3.6zM78.0 111.8h3.6l-1.8 3.6zM78.4 108.6h3.6l-1.8 3.6zM78.7 105.3h3.6l-1.8 3.6zM79.1 102.1h3.6l-1.8 3.6zM79.5 99.2h3.6l-1.8 3.6zM79.9 95.7h3.6l-1.8 3.6zM80.3 92.6h3.6l-1.8 3.6zM80.8 89.4h3.6l-1.8 3.6zM81.3 86.3h3.6l-1.8 3.6zM81.9 83.0h3.6l-1.8 3.6zM82.5 79.6h3.6l-1.8 3.6zM83.1 77.0h3.6l-1.8 3.6zM83.7 73.9h3.6l-1.8 3.6zM84.4 71.3h3.6l-1.8 3.6zM85.0 69.0h3.6l-1.8 3.6zM85.6 66.6h3.6l-1.8 3.6zM86.2 64.1h3.6l-1.8 3.6zM86.8 62.4h3.6l-1.8 3.6zM87.5 60.6h3.6l-1.8 3.6zM88.1 58.7h3.6l-1.8 3.6zM88.7 57.0h3.6l-1.8 3.6zM89.3 55.6h3.6l-1.8 3.6zM89.9 53.8h3.6l-1.8 3.6zM90.6 52.5h3.6l-1.8 3.6zM91.2 51.0h3.6l-1.8 3.6zM91.8 49.7h3.6l-1.8 3.6zM92.4 48.4h3.6l-1.8 3.6zM93.0 47.6h3.6l-1.8 3.6zM93.7 46.2h3.6l-1.8 3.6zM94.3 45.4h3.6l-1.8 3.6zM94.9 43.9h3.6l-1.8 3.6zM95.5 43.1h3.6l-1.8 3.6zM96.1 42.1h3.6l-1.8 3.6zM96.8 41.2h3.6l-1.8 3.6zM97.4 40.4h3.6l-1.8 3.6zM98.0 39.6h3.6l-1.8 3.6zM98.6 38.9h3.6l-1.8 3.6zM99.2 38.0h3.6l-1.8 3.6zM99.9 37.1h3.6l-1.8 3.6zM100.5 36.6h3.6l-1.8 3.6zM101.1 36.1h3.6l-1.8 3.6zM101.7 35.4h3.6l-1.8 3.6zM102.3 34.8h3.6l-1.8 3.6zM103.0 34.5h3.6l-1.8 3.6zM103.6 33.7h3.6l-1.8 3.6zM104.2 33.3h3.6l-1.8 3.6zM104.8 32.9h3.6l-1.8 3.6zM105.4 32.2h3.6l-1.8 3.6zM106.1 31.9h3.6l-1.8 3.6zM106.7 31.3h3.6l-1.8 3.6zM107.3 30.9h3.6l-1.8 3.6zM107.9 30.4h3.6l-1.8 3.6zM108.5 30.5h3.6l-1.8 3.6zM109.2 29.9h3.6l-1.8 3.6zM109.8 29.7h3.6l-1.8 3.6zM110.4 29.3h3.6l-1.8 3.6zM111.0 28.8h3.6l-1.8 3.6zM111.6 28.7h3.6l-1.8 3.6zM112.3 28.9h3.6l-1.8 3.6zM112.9 28.2h3.6l-1.8 3.6zM113.5 28.0h3.6l-1.8 3.6zM114.1 27.8h3.6l-1.8 3.6zM114.7 27.6h3.6l-1.8 3.6zM115.4 27.5h3.6l-1.8 3.6zM116.0 27.0h3.6l-1.8 3.6zM116.6 27.1h3.6l-1.8 3.6zM117.2 27.0h3.6l-1.8 3.6zM117.8 26.8h3.6l-1.8 3.6zM118.5 27.1h3.6l-1.8 3.6zM119.1 26.5h3.6l-1.8 3.6zM119.7 26.7h3.6l-1.8 3.6zM120.3 26.3h3.6l-1.8 3.6zM120.9 26.2h3.6l-1.8 3.6zM121.6 26.2h3.6l-1.8 3.6zM122.2 26.2h3.6l-1.8 3.6zM122.8 26.1h3.6l-1.8 3.6zM123.4 25.8h3.6l-1.8 3.6zM124.0 26.2h3.6l-1.8 3.6zM124.7 26.0h3.6l-1.8 3.6zM125.3 26.0h3.6l-1.8 3.6zM125.9 25.9h3.6l-1.8 3.6zM126.5 25.8h3.6l-1.8 3.6zM127.1 25.9h3.6l-1.8 3.6zM127.8 26.0h3.6l-1.8 3.6zM128.4 26.0h3.6l-1.8 3.6zM129.0 25.9h3.6l-1.8 3.6zM129.6 26.5h3.6l-1.8 3.6zM130.2 26.3h3.6l-1.8 3.6zM130.9 26.1h3.6l-1.8 3.6zM131.5 26.2h3.6l-1.8 3.6zM132.1 26.6h3.6l-1.8 3.6zM132.7 26.4h3.6l-1.8 3.6zM133.3 26.5h3.6l-1.8 3.6zM134.0 26.7h3.6l-1.8 3.6zM134.6 26.7h3.6l-1.8 3.6zM135.2 26.7h3.6l-1.8 3.6zM135.8 26.8h3.6l-1.8 3.6zM136.4 27.2h3.6l-1.8 3.6zM137.1 27.1h3.6l-1.8 3.6zM137.7 27.5h3.6l-1.8 3.6zM138.3 27.4h3.6l-1.8 3.6zM138.9 27.7h3.6l-1.8 3.6zM139.5 27.9h3.6l-1.8 3.6zM140.2 27.9h3.6l-1.8 3.6zM140.8 28.2h3.6l-1.8 3.6zM141.4 28.2h3.6l-1.8 3.6zM142.0 28.2h3.6l-1.8 3.6zM142.6 28.6h3.6l-1.8 3.6zM143.3 28.8h3.6l-1.8 3.6zM143.9 29.1h3.6l-1.8 3.6zM144.5 29.4h3.6l-1.8 3.6zM145.1 29.5h3.6l-1.8 3.6zM145.7 29.7h3.6l-1.8 3.6zM146.4 29.8h3.6l-1.8 3.6zM147.0 30.0h3.6l-1.8 3.6zM147.6 30.2h3.6l-1.8 3.6zM148.2 30.7h3.6l-1.8 3.6zM148.8 30.8h3.6l-1.8 3.6zM149.5 31.1h3.6l-1.8 3.6zM150.1 31.2h3.6l-1.8 3.6zM150.7 31.5h3.6l-1.8 3.6zM151.3 31.6h3.6l-1.8 3.6zM151.9 32.0h3.6l-1.8 3.6zM152.6 32.1h3.6l-1.8 3.6zM153.2 32.3h3.6l-1.8 3.6zM153.8 33.0h3.6l-1.8 3.6zM154.4 33.2h3.6l-1.8 3.6zM155.0 33.1h3.6l-1.8 3.6zM155.7 33.5h3.6l-1.8 3.6zM156.3 33.8h3.6l-1.8 3.6zM156.9 34.0h3.6l-1.8 3.6zM157.5 34.3h3.6l-1.8 3.6zM158.1 34.7h3.6l-1.8 3.6zM158.8 34.8h3.6l-1.8 3.6zM159.4 35.2h3.6l-1.8 3.6zM160.0 35.4h3.6l-1.8 3.6zM160.6 35.6h3.6l-1.8 3.6zM161.2 35.9h3.6l-1.8 3.6zM161.9 36.1h3.6l-1.8 3.6zM162.5 36.3h3.6l-1.8 3.6zM163.1 36.8h3.6l-1.8 3.6zM163.7 37.2h3.6l-1.8 3.6zM164.3 37.3h3.6l-1.8 3.6zM165.0 37.8h3.6l-1.8 3.6zM165.6 37.8h3.6l-1.8 3.6zM166.2 38.2h3.6l-1.8 3.6zM166.8 38.6h3.6l-1.8 3.6zM167.4 38.8h3.6l-1.8 3.6zM168.1 39.1h3.6l-1.8 3.6zM168.7 39.5h3.6l-1.8 3.6zM169.3 39.7h3.6l-1.8 3.6zM169.9 40.0h3.6l-1.8 3.6zM170.5 40.3h3.6l-1.8 3.6zM171.2 40.3h3.6l-1.8 3.6zM171.8 40.7h3.6l-1.8 3.6zM172.4 41.3h3.6l-1.8 3.6zM173.0 41.5h3.6l-1.8 3.6zM173.6 41.9h3.6l-1.8 3.6zM174.3 42.2h3.6l-1.8 3.6zM174.9 42.6h3.6l-1.8 3.6zM175.5 42.7h3.6l-1.8 3.6zM176.1 43.0h3.6l-1.8 3.6zM176.7 43.3h3.6l-1.8 3.6zM177.4 43.9h3.6l-1.8 3.6zM178.0 44.0h3.6l-1.8 3.6zM178.6 44.4h3.6l-1.8 3.6zM179.2 44.7h3.6l-1.8 3.6zM179.8 44.8h3.6l-1.8 3.6zM180.5 45.4h3.6l-1.8 3.6zM181.1 45.8h3.6l-1.8 3.6zM181.7 46.1h3.6l-1.8 3.6zM182.3 46.3h3.6l-1.8 3.6zM182.9 46.6h3.6l-1.8 3.6zM183.6 46.9h3.6l-1.8 3.6zM184.2 47.5h3.6l-1.8 3.6zM184.8 47.8h3.6l-1.8 3.6zM185.4 47.9h3.6l-1.8 3.6zM186.0 48.5h3.6l-1.8 3.6zM186.7 48.8h3.6l-1.8 3.6zM187.3 49.1h3.6l-1.8 3.6zM187.9 49.3h3.6l-1.8 3.6zM188.5 49.8h3.6l-1.8 3.6zM189.1 50.0h3.6l-1.8 3.6zM189.8 50.2h3.6l-1.8 3.6zM190.4 50.7h3.6l-1.8 3.6zM191.0 51.2h3.6l-1.8 3.6zM191.6 51.4h3.6l-1.8 3.6zM192.2 51.7h3.6l-1.8 3.6zM192.9 51.9h3.6l-1.8 3.6zM193.5 52.7h3.6l-1.8 3.6zM194.1 53.0h3.6l-1.8 3.6zM194.7 53.2h3.6l-1.8 3.6zM195.3 53.6h3.6l-1.8 3.6zM196.0 53.9h3.6l-1.8 3.6zM196.6 54.4h3.6l-1.8 3.6zM197.2 54.7h3.6l-1.8 3.6zM197.8 55.4h3.6l-1.8 3.6zM198.4 55.4h3.6l-1.8 3.6zM199.1 55.8h3.6l-1.8 3.6zM199.7 56.2h3.6l-1.8 3.6zM200.3 56.4h3.6l-1.8 3.6zM200.9 57.0h3.6l-1.8 3.6zM201.5 57.5h3.6l-1.8 3.6zM202.2 57.6h3.6l-1.8 3.6zM202.8 58.0h3.6l-1.8 3.6zM203.4 58.5h3.6l-1.8 3.6zM204.0 59.0h3.6l-1.8 3.6zM204.6 59.1h3.6l-1.8 3.6zM205.3 59.4h3.6l-1.8 3.6zM205.9 60.0h3.6l-1.8 3.6zM206.5 60.1h3.6l-1.8 3.6zM207.1 60.8h3.6l-1.8 3.6zM207.7 61.0h3.6l-1.8 3.6zM208.4 61.4h3.6l-1.8 3.6zM209.0 61.7h3.6l-1.8 3.6zM209.6 62.2h3.6l-1.8 3.6zM210.2 62.6h3.6l-1.8 3.6zM210.8 62.9h3.6l-1.8 3.6zM211.5 63.3h3.6l-1.8 3.6zM212.1 63.7h3.6l-1.8 3.6zM212.7 64.1h3.6l-1.8 3.6zM213.3 64.5h3.6l-1.8 3.6zM213.9 64.9h3.6l-1.8 3.6zM214.6 65.4h3.6l-1.8 3.6zM215.2 65.7h3.6l-1.8 3.6zM215.8 66.4h3.6l-1.8 3.6zM216.4 66.5h3.6l-1.8 3.6zM217.0 66.7h3.6l-1.8 3.6zM217.7 67.5h3.6l-1.8 3.6zM218.3 67.6h3.6l-1.8 3.6zM218.9 68.0h3.6l-1.8 3.6zM219.5 68.4h3.6l-1.8 3.6zM220.1 68.8h3.6l-1.8 3.6zM220.8 69.2h3.6l-1.8 3.6zM221.4 69.9h3.6l-1.8 3.6zM222.0 69.9h3.6l-1.8 3.6zM222.6 70.5h3.6l-1.8 3.6zM223.2 70.9h3.6l-1.8 3.6zM223.9 71.3h3.6l-1.8 3.6zM224.5 71.7h3.6l-1.8 3.6zM225.1 71.9h3.6l-1.8 3.6zM225.7 72.6h3.6l-1.8 3.6zM226.3 73.0h3.6l-1.8 3.6zM227.0 73.3h3.6l-1.8 3.6zM227.6 73.8h3.6l-1.8 3.6zM228.2 74.1h3.6l-1.8 3.6zM228.8 74.7h3.6l-1.8 3.6zM229.4 75.1h3.6l-1.8 3.6zM230.1 75.4h3.6l-1.8 3.6zM230.7 75.8h3.6l-1.8 3.6zM231.3 76.2h3.6l-1.8 3.6zM231.9 76.7h3.6l-1.8 3.6zM232.5 77.1h3.6l-1.8 3.6zM233.2 77.4h3.6l-1.8 3.6zM233.8 77.8h3.6l-1.8 3.6zM234.4 78.2h3.6l-1.8 3.6zM235.0 78.7h3.6l-1.8 3.6zM235.6 79.2h3.6l-1.8 3.6zM236.3 79.5h3.6l-1.8 3.6zM236.9 80.2h3.6l-1.8 3.6zM237.5 80.2h3.6l-1.8 3.6zM238.1 80.8h3.6l-1.8 3.6zM238.7 81.2h3.6l-1.8 3.6zM239.4 81.6h3.6l-1.8 3.6zM240.0 82.0h3.6l-1.8 3.6zM240.6 82.5h3.6l-1.8 3.6zM241.2 82.8h3.6l-1.8 3.6zM241.8 83.4h3.6l-1.8 3.6zM242.5 83.7h3.6l-1.8 3.6zM243.1 84.1h3.6l-1.8 3.6zM243.7 84.6h3.6l-1.8 3.6zM244.3 84.7h3.6l-1.8 3.6zM244.9 85.5h3.6l-1.8 3.6zM245.6 86.1h3.6l-1.8 3.6zM246.2 86.3h3.6l-1.8 3.6zM246.8 86.4h3.6l-1.8 3.6zM247.4 87.2h3.6l-1.8 3.6zM248.0 87.6h3.6l-1.8 3.6zM248.7 87.8h3.6l-1.8 3.6zM249.3 88.5h3.6l-1.8 3.6zM249.9 88.7h3.6l-1.8 3.6zM250.5 89.5h3.6l-1.8 3.6zM251.1 89.4h3.6l-1.8 3.6zM251.8 90.0h3.6l-1.8 3.6zM252.4 90.5h3.6l-1.8 3.6zM253.0 90.8h3.6l-1.8 3.6zM253.6 91.3h3.6l-1.8 3.6zM254.2 91.6h3.6l-1.8 3.6zM254.9 92.2h3.6l-1.8 3.6zM255.5 92.6h3.6l-1.8 3.6zM256.1 92.9h3.6l-1.8 3.6zM256.7 93.3h3.6l-1.8 3.6zM257.3 93.8h3.6l-1.8 3.6zM258.0 94.3h3.6l-1.8 3.6zM258.6 94.4h3.6l-1.8 3.6zM259.2 95.1h3.6l-1.8 3.6zM259.8 95.5h3.6l-1.8 3.6zM260.4 95.9h3.6l-1.8 3.6zM261.1 96.1h3.6l-1.8 3.6zM261.7 96.8h3.6l-1.8 3.6zM262.3 97.8h3.6l-1.8 3.6zM262.9 97.7h3.6l-1.8 3.6zM263.5 98.0h3.6l-1.8 3.6zM264.2 98.5h3.6l-1.8 3.6zM264.8 98.8h3.6l-1.8 3.6zM265.4 100.0h3.6l-1.8 3.6zM266.0 99.7h3.6l-1.8 3.6zM266.6 100.5h3.6l-1.8 3.6zM267.3 100.9h3.6l-1.8 3.6zM267.9 100.9h3.6l-1.8 3.6zM268.5 101.6h3.6l-1.8 3.6zM269.1 100.9h3.6l-1.8 3.6zM269.7 102.5h3.6l-1.8 3.6zM270.4 101.3h3.6l-1.8 3.6zM271.0 103.0h3.6l-1.8 3.6zM271.6 104.1h3.6l-1.8 3.6zM272.2 103.6h3.6l-1.8 3.6zM272.8 104.2h3.6l-1.8 3.6zM273.5 104.7h3.6l-1.8 3.6zM274.1 105.0h3.6l-1.8 3.6zM274.7 106.2h3.6l-1.8 3.6zM275.3 106.6h3.6l-1.8 3.6zM275.9 105.8h3.6l-1.8 3.6zM276.6 108.2h3.6l-1.8 3.6zM277.2 107.3h3.6l-1.8 3.6zM277.8 107.7h3.6l-1.8 3.6zM278.4 109.0h3.6l-1.8 3.6zM279.0 108.5h3.6l-1.8 3.6zM279.7 109.9h3.6l-1.8 3.6zM280.3 110.7h3.6l-1.8 3.6zM280.9 111.2h3.6l-1.8 3.6zM281.5 110.4h3.6l-1.8 3.6zM282.1 111.7h3.6l-1.8 3.6zM282.8 111.6h3.6l-1.8 3.6zM283.4 111.9h3.6l-1.8 3.6zM284.0 111.7h3.6l-1.8 3.6zM284.6 113.5h3.6l-1.8 3.6zM285.2 110.7h3.6l-1.8 3.6zM285.9 114.3h3.6l-1.8 3.6zM286.5 113.3h3.6l-1.8 3.6zM287.1 113.2h3.6l-1.8 3.6zM287.7 115.4h3.6l-1.8 3.6zM288.3 114.6h3.6l-1.8 3.6zM289.0 115.3h3.6l-1.8 3.6zM289.6 116.0h3.6l-1.8 3.6zM290.2 116.0h3.6l-1.8 3.6zM290.8 117.2h3.6l-1.8 3.6zM291.4 116.7h3.6l-1.8 3.6zM292.1 114.0h3.6l-1.8 3.6zM292.7 117.0h3.6l-1.8 3.6zM293.3 118.8h3.6l-1.8 3.6zM293.9 119.4h3.6l-1.8 3.6zM294.5 120.9h3.6l-1.8 3.6zM295.2 118.6h3.6l-1.8 3.6zM295.8 121.0h3.6l-1.8 3.6zM296.4 121.2h3.6l-1.8 3.6zM297.0 120.7h3.6l-1.8 3.6zM297.6 115.9h3.6l-1.8 3.6zM298.3 118.4h3.6l-1.8 3.6zM298.9 119.4h3.6l-1.8 3.6zM299.5 123.4h3.6l-1.8 3.6zM300.1 121.7h3.6l-1.8 3.6zM300.7 125.4h3.6l-1.8 3.6zM301.4 126.7h3.6l-1.8 3.6zM302.0 123.8h3.6l-1.8 3.6zM302.6 121.0h3.6l-1.8 3.6zM303.2 127.5h3.6l-1.8 3.6zM303.8 125.8h3.6l-1.8 3.6zM304.5 128.0h3.6l-1.8 3.6zM305.1 125.4h3.6l-1.8 3.6zM305.7 124.5h3.6l-1.8 3.6zM306.3 127.0h3.6l-1.8 3.6zM306.9 131.7h3.6l-1.8 3.6zM307.6 128.0h3.6l-1.8 3.6zM308.2 131.8h3.6l-1.8 3.6zM308.8 127.1h3.6l-1.8 3.6zM310.0 132.6h3.6l-1.8 3.6zM311.3 130.6h3.6l-1.8 3.6zM311.9 131.9h3.6l-1.8 3.6zM312.5 127.3h3.6l-1.8 3.6zM313.1 126.4h3.6l-1.8 3.6zM313.8 133.7h3.6l-1.8 3.6zM315.0 124.3h3.6l-1.8 3.6zM315.6 130.9h3.6l-1.8 3.6zM316.2 131.7h3.6l-1.8 3.6zM317.5 131.1h3.6l-1.8 3.6zM318.1 134.6h3.6l-1.8 3.6zM318.7 134.5h3.6l-1.8 3.6zM319.3 129.7h3.6l-1.8 3.6zM320.0 139.7h3.6l-1.8 3.6zM320.6 133.2h3.6l-1.8 3.6zM322.4 136.4h3.6l-1.8 3.6zM323.1 138.2h3.6l-1.8 3.6zM324.9 136.1h3.6l-1.8 3.6zM325.5 138.9h3.6l-1.8 3.6zM327.4 140.5h3.6l-1.8 3.6zM328.6 140.6h3.6l-1.8 3.6zM329.3 145.1h3.6l-1.8 3.6zM329.9 144.6h3.6l-1.8 3.6zM330.5 151.4h3.6l-1.8 3.6zM332.4 139.4h3.6l-1.8 3.6zM333.6 150.0h3.6l-1.8 3.6zM334.8 145.9h3.6l-1.8 3.6zM335.5 144.6h3.6l-1.8 3.6zM336.1 145.5h3.6l-1.8 3.6zM336.7 144.5h3.6l-1.8 3.6zM339.8 157.5h3.6l-1.8 3.6zM341.0 145.5h3.6l-1.8 3.6zM342.3 146.4h3.6l-1.8 3.6zM342.9 136.4h3.6l-1.8 3.6zM346.0 153.5h3.6l-1.8 3.6zM347.9 156.3h3.6l-1.8 3.6zM351.6 134.6h3.6l-1.8 3.6zM354.7 147.5h3.6l-1.8 3.6zM355.9 154.9h3.6l-1.8 3.6zM357.2 145.4h3.6l-1.8 3.6zM359.0 152.0h3.6l-1.8 3.6zM363.4 181.4h3.6l-1.8 3.6zM364.6 155.5h3.6l-1.8 3.6zM365.2 157.2h3.6l-1.8 3.6zM366.5 138.7h3.6l-1.8 3.6zM369.6 161.2h3.6l-1.8 3.6zM373.9 171.8h3.6l-1.8 3.6zM374.5 163.3h3.6l-1.8 3.6zM375.8 158.7h3.6l-1.8 3.6zM377.0 165.1h3.6l-1.8 3.6zM378.2 165.2h3.6l-1.8 3.6zM379.5 156.3h3.6l-1.8 3.6zM380.1 173.4h3.6l-1.8 3.6zM54.8 184.3h3.4l-1.7 3.4zM55.4 184.3h3.4l-1.7 3.4zM56.7 184.3h3.4l-1.7 3.4zM59.3 189.4h3.4l-1.7 3.4zM60.0 171.7h3.4l-1.7 3.4zM61.3 180.6h3.4l-1.7 3.4zM62.5 168.9h3.4l-1.7 3.4zM62.9 184.3h3.4l-1.7 3.4zM64.4 180.6h3.4l-1.7 3.4zM64.8 165.6h3.4l-1.7 3.4zM66.5 180.6h3.4l-1.7 3.4zM67.5 184.3h3.4l-1.7 3.4zM68.6 184.3h3.4l-1.7 3.4zM70.1 156.7h3.4l-1.7 3.4zM71.2 189.4h3.4l-1.7 3.4zM72.1 180.6h3.4l-1.7 3.4zM73.6 162.1h3.4l-1.7 3.4z" fill="#ffcf00"/>
<path d="M73.3 188.6h3.6l-1.8 -3.6zM73.5 180.8h3.6l-1.8 -3.6zM73.6 176.1h3.6l-1.8 -3.6zM73.7 173.5h3.6l-1.8 -3.6zM73.9 171.3h3.6l-1.8 -3.6zM74.1 168.1h3.6l-1.8 -3.6zM74.3 165.4h3.6l-1.8 -3.6zM74.6 161.9h3.6l-1.8 -3.6zM74.9 159.1h3.6l-1.8 -3.6zM75.2 156.2h3.6l-1.8 -3.6zM75.6 152.9h3.6l-1.8 -3.6zM76.0 149.4h3.6l-1.8 -3.6zM76.4 146.3h3.6l-1.8 -3.6zM76.9 142.9h3.6l-1.8 -3.6zM77.4 140.0h3.6l-1.8 -3.6zM77.9 136.4h3.6l-1.8 -3.6zM78.4 133.5h3.6l-1.8 -3.6zM79.0 130.4h3.6l-1.8 -3.6zM79.5 126.8h3.6l-1.8 -3.6zM80.1 123.8h3.6l-1.8 -3.6zM80.7 120.4h3.6l-1.8 -3.6zM81.3 116.9h3.6l-1.8 -3.6zM81.9 114.0h3.6l-1.8 -3.6zM82.5 110.7h3.6l-1.8 -3.6zM83.1 107.4h3.6l-1.8 -3.6zM83.8 104.0h3.6l-1.8 -3.6zM84.4 100.4h3.6l-1.8 -3.6zM85.0 97.1h3.6l-1.8 -3.6zM85.6 94.1h3.6l-1.8 -3.6zM86.2 90.7h3.6l-1.8 -3.6zM86.8 87.4h3.6l-1.8 -3.6zM87.4 84.2h3.6l-1.8 -3.6zM88.0 81.3h3.6l-1.8 -3.6zM88.7 78.1h3.6l-1.8 -3.6zM89.3 75.3h3.6l-1.8 -3.6zM89.9 72.5h3.6l-1.8 -3.6zM90.5 70.4h3.6l-1.8 -3.6zM91.1 68.0h3.6l-1.8 -3.6zM91.8 66.5h3.6l-1.8 -3.6zM92.4 64.5h3.6l-1.8 -3.6zM93.0 62.9h3.6l-1.8 -3.6zM93.6 61.2h3.6l-1.8 -3.6zM94.2 59.6h3.6l-1.8 -3.6zM94.9 58.7h3.6l-1.8 -3.6zM95.5 57.2h3.6l-1.8 -3.6zM96.1 56.0h3.6l-1.8 -3.6zM96.7 54.8h3.6l-1.8 -3.6zM97.3 53.8h3.6l-1.8 -3.6zM98.0 52.8h3.6l-1.8 -3.6zM98.6 51.8h3.6l-1.8 -3.6zM99.2 51.2h3.6l-1.8 -3.6zM99.8 50.2h3.6l-1.8 -3.6zM100.4 49.2h3.6l-1.8 -3.6zM101.1 48.7h3.6l-1.8 -3.6zM101.7 47.9h3.6l-1.8 -3.6zM102.3 47.2h3.6l-1.8 -3.6zM102.9 46.7h3.6l-1.8 -3.6zM103.5 45.9h3.6l-1.8 -3.6zM104.2 45.2h3.6l-1.8 -3.6zM104.8 44.6h3.6l-1.8 -3.6zM105.4 44.4h3.6l-1.8 -3.6zM106.0 43.8h3.6l-1.8 -3.6zM106.6 43.3h3.6l-1.8 -3.6zM107.3 42.5h3.6l-1.8 -3.6zM107.9 42.1h3.6l-1.8 -3.6zM108.5 41.7h3.6l-1.8 -3.6zM109.1 41.3h3.6l-1.8 -3.6zM109.7 40.7h3.6l-1.8 -3.6zM110.4 40.2h3.6l-1.8 -3.6zM111.0 39.9h3.6l-1.8 -3.6zM111.6 39.4h3.6l-1.8 -3.6zM112.2 39.0h3.6l-1.8 -3.6zM112.8 38.8h3.6l-1.8 -3.6zM113.5 38.4h3.6l-1.8 -3.6zM114.1 38.4h3.6l-1.8 -3.6zM114.7 38.0h3.6l-1.8 -3.6zM115.3 37.9h3.6l-1.8 -3.6zM115.9 37.6h3.6l-1.8 -3.6zM116.6 37.2h3.6l-1.8 -3.6zM117.2 37.0h3.6l-1.8 -3.6zM117.8 36.8h3.6l-1.8 -3.6zM118.4 36.8h3.6l-1.8 -3.6zM119.0 36.6h3.6l-1.8 -3.6zM119.7 36.4h3.6l-1.8 -3.6zM120.3 36.3h3.6l-1.8 -3.6zM120.9 36.1h3.6l-1.8 -3.6zM121.5 36.1h3.6l-1.8 -3.6zM122.1 35.9h3.6l-1.8 -3.6zM122.8 35.7h3.6l-1.8 -3.6zM123.4 35.9h3.6l-1.8 -3.6zM124.0 35.8h3.6l-1.8 -3.6zM124.6 35.4h3.6l-1.8 -3.6zM125.2 35.6h3.6l-1.8 -3.6zM125.9 35.7h3.6l-1.8 -3.6zM126.5 35.5h3.6l-1.8 -3.6zM127.1 35.6h3.6l-1.8 -3.6zM127.7 35.7h3.6l-1.8 -3.6zM128.3 35.6h3.6l-1.8 -3.6zM129.0 35.6h3.6l-1.8 -3.6zM129.6 35.9h3.6l-1.8 -3.6zM130.2 35.6h3.6l-1.8 -3.6zM130.8 35.8h3.6l-1.8 -3.6zM131.4 35.9h3.6l-1.8 -3.6zM132.1 36.1h3.6l-1.8 -3.6zM132.7 36.2h3.6l-1.8 -3.6zM133.3 35.9h3.6l-1.8 -3.6zM133.9 36.2h3.6l-1.8 -3.6zM134.5 36.4h3.6l-1.8 -3.6zM135.2 36.4h3.6l-1.8 -3.6zM135.8 36.5h3.6l-1.8 -3.6zM136.4 36.8h3.6l-1.8 -3.6zM137.0 36.9h3.6l-1.8 -3.6zM137.6 37.1h3.6l-1.8 -3.6zM138.3 37.3h3.6l-1.8 -3.6zM138.9 37.5h3.6l-1.8 -3.6zM139.5 37.4h3.6l-1.8 -3.6zM140.1 37.7h3.6l-1.8 -3.6zM140.7 37.8h3.6l-1.8 -3.6zM141.4 38.2h3.6l-1.8 -3.6zM142.0 38.0h3.6l-1.8 -3.6zM142.6 38.4h3.6l-1.8 -3.6zM143.2 38.8h3.6l-1.8 -3.6zM143.8 38.8h3.6l-1.8 -3.6zM144.5 39.1h3.6l-1.8 -3.6zM145.1 39.4h3.6l-1.8 -3.6zM145.7 39.8h3.6l-1.8 -3.6zM146.3 39.9h3.6l-1.8 -3.6zM146.9 39.9h3.6l-1.8 -3.6zM147.6 40.3h3.6l-1.8 -3.6zM148.2 40.4h3.6l-1.8 -3.6zM148.8 40.8h3.6l-1.8 -3.6zM149.4 40.9h3.6l-1.8 -3.6zM150.0 41.2h3.6l-1.8 -3.6zM150.7 41.2h3.6l-1.8 -3.6zM151.3 41.8h3.6l-1.8 -3.6zM151.9 42.0h3.6l-1.8 -3.6zM152.5 42.3h3.6l-1.8 -3.6zM153.1 42.5h3.6l-1.8 -3.6zM153.8 42.7h3.6l-1.8 -3.6zM154.4 42.9h3.6l-1.8 -3.6zM155.0 43.2h3.6l-1.8 -3.6zM155.6 43.5h3.6l-1.8 -3.6zM156.2 43.8h3.6l-1.8 -3.6zM156.9 44.3h3.6l-1.8 -3.6zM157.5 44.3h3.6l-1.8 -3.6zM158.1 44.6h3.6l-1.8 -3.6zM158.7 44.7h3.6l-1.8 -3.6zM159.3 45.0h3.6l-1.8 -3.6zM160.0 45.3h3.6l-1.8 -3.6zM160.6 45.7h3.6l-1.8 -3.6zM161.2 45.8h3.6l-1.8 -3.6zM161.8 46.2h3.6l-1.8 -3.6zM162.4 46.6h3.6l-1.8 -3.6zM163.1 46.7h3.6l-1.8 -3.6zM163.7 47.0h3.6l-1.8 -3.6zM164.3 47.3h3.6l-1.8 -3.6zM164.9 47.7h3.6l-1.8 -3.6zM165.5 47.8h3.6l-1.8 -3.6zM166.2 48.2h3.6l-1.8 -3.6zM166.8 48.4h3.6l-1.8 -3.6zM167.4 48.8h3.6l-1.8 -3.6zM168.0 48.9h3.6l-1.8 -3.6zM168.6 49.4h3.6l-1.8 -3.6zM169.3 49.9h3.6l-1.8 -3.6zM169.9 49.8h3.6l-1.8 -3.6zM170.5 50.5h3.6l-1.8 -3.6zM171.1 50.5h3.6l-1.8 -3.6zM171.7 50.9h3.6l-1.8 -3.6zM172.4 51.2h3.6l-1.8 -3.6zM173.0 51.3h3.6l-1.8 -3.6zM173.6 51.9h3.6l-1.8 -3.6zM174.2 52.0h3.6l-1.8 -3.6zM174.8 52.2h3.6l-1.8 -3.6zM175.5 52.9h3.6l-1.8 -3.6zM176.1 53.1h3.6l-1.8 -3.6zM176.7 53.4h3.6l-1.8 -3.6zM177.3 53.8h3.6l-1.8 -3.6zM177.9 54.0h3.6l-1.8 -3.6zM178.6 54.5h3.6l-1.8 -3.6zM179.2 54.7h3.6l-1.8 -3.6zM179.8 55.1h3.6l-1.8 -3.6zM180.4 55.2h3.6l-1.8 -3.6zM181.0 56.0h3.6l-1.8 -3.6zM181.7 56.2h3.6l-1.8 -3.6zM182.3 56.4h3.6l-1.8 -3.6zM182.9 56.5h3.6l-1.8 -3.6zM183.5 56.9h3.6l-1.8 -3.6zM184.1 57.5h3.6l-1.8 -3.6zM184.8 57.4h3.6l-1.8 -3.6zM185.4 58.2h3.6l-1.8 -3.6zM186.0 58.4h3.6l-1.8 -3.6zM186.6 59.0h3.6l-1.8 -3.6zM187.2 59.1h3.6l-1.8 -3.6zM187.9 59.5h3.6l-1.8 -3.6zM188.5 59.5h3.6l-1.8 -3.6zM189.1 60.0h3.6l-1.8 -3.6zM189.7 60.3h3.6l-1.8 -3.6zM190.3 61.0h3.6l-1.8 -3.6zM191.0 61.1h3.6l-1.8 -3.6zM191.6 61.4h3.6l-1.8 -3.6zM192.2 61.5h3.6l-1.8 -3.6zM192.8 62.1h3.6l-1.8 -3.6zM193.4 62.2h3.6l-1.8 -3.6zM194.1 62.6h3.6l-1.8 -3.6zM194.7 63.0h3.6l-1.8 -3.6zM195.3 63.6h3.6l-1.8 -3.6zM195.9 63.9h3.6l-1.8 -3.6zM196.5 64.5h3.6l-1.8 -3.6zM197.2 64.4h3.6l-1.8 -3.6zM197.8 65.1h3.6l-1.8 -3.6zM198.4 65.3h3.6l-1.8 -3.6zM199.0 65.5h3.6l-1.8 -3.6zM199.6 66.1h3.6l-1.8 -3.6zM200.3 66.5h3.6l-1.8 -3.6zM200.9 66.7h3.6l-1.8 -3.6zM201.5 66.9h3.6l-1.8 -3.6zM202.1 67.5h3.6l-1.8 -3.6zM202.7 67.7h3.6l-1.8 -3.6zM203.4 68.3h3.6l-1.8 -3.6zM204.0 68.6h3.6l-1.8 -3.6zM204.6 68.9h3.6l-1.8 -3.6zM205.2 69.3h3.6l-1.8 -3.6zM205.8 69.8h3.6l-1.8 -3.6zM206.5 70.2h3.6l-1.8 -3.6zM207.1 70.3h3.6l-1.8 -3.6zM207.7 70.9h3.6l-1.8 -3.6zM208.3 71.3h3.6l-1.8 -3.6zM208.9 71.5h3.6l-1.8 -3.6zM209.6 72.0h3.6l-1.8 -3.6zM210.2 72.2h3.6l-1.8 -3.6zM210.8 72.5h3.6l-1.8 -3.6zM211.4 72.8h3.6l-1.8 -3.6zM212.0 73.1h3.6l-1.8 -3.6zM212.7 73.9h3.6l-1.8 -3.6zM213.3 74.1h3.6l-1.8 -3.6zM213.9 74.6h3.6l-1.8 -3.6zM214.5 75.0h3.6l-1.8 -3.6zM215.1 74.9h3.6l-1.8 -3.6zM215.8 75.7h3.6l-1.8 -3.6zM216.4 75.8h3.6l-1.8 -3.6zM217.0 76.7h3.6l-1.8 -3.6zM217.6 76.9h3.6l-1.8 -3.6zM218.2 77.4h3.6l-1.8 -3.6zM218.9 77.3h3.6l-1.8 -3.6zM219.5 77.6h3.6l-1.8 -3.6zM220.1 78.2h3.6l-1.8 -3.6zM220.7 78.7h3.6l-1.8 -3.6zM221.3 78.9h3.6l-1.8 -3.6zM222.0 79.4h3.6l-1.8 -3.6zM222.6 79.6h3.6l-1.8 -3.6zM223.2 80.1h3.6l-1.8 -3.6zM223.8 80.8h3.6l-1.8 -3.6zM224.4 81.0h3.6l-1.8 -3.6zM225.1 81.4h3.6l-1.8 -3.6zM225.7 82.1h3.6l-1.8 -3.6zM226.3 82.3h3.6l-1.8 -3.6zM226.9 82.4h3.6l-1.8 -3.6zM227.5 83.0h3.6l-1.8 -3.6zM228.2 83.2h3.6l-1.8 -3.6zM228.8 83.8h3.6l-1.8 -3.6zM229.4 83.9h3.6l-1.8 -3.6zM230.0 84.3h3.6l-1.8 -3.6zM230.6 84.8h3.6l-1.8 -3.6zM231.3 85.3h3.6l-1.8 -3.6zM231.9 85.7h3.6l-1.8 -3.6zM232.5 85.9h3.6l-1.8 -3.6zM233.1 86.0h3.6l-1.8 -3.6zM233.7 86.9h3.6l-1.8 -3.6zM234.4 87.1h3.6l-1.8 -3.6zM235.0 87.7h3.6l-1.8 -3.6zM235.6 88.1h3.6l-1.8 -3.6zM236.2 88.3h3.6l-1.8 -3.6zM236.8 88.7h3.6l-1.8 -3.6zM237.5 89.2h3.6l-1.8 -3.6zM238.1 89.1h3.6l-1.8 -3.6zM238.7 90.0h3.6l-1.8 -3.6zM239.3 90.4h3.6l-1.8 -3.6zM239.9 90.6h3.6l-1.8 -3.6zM240.6 91.0h3.6l-1.8 -3.6zM241.2 91.4h3.6l-1.8 -3.6zM241.8 91.5h3.6l-1.8 -3.6zM242.4 92.3h3.6l-1.8 -3.6zM243.0 92.6h3.6l-1.8 -3.6zM243.7 92.7h3.6l-1.8 -3.6zM244.3 93.4h3.6l-1.8 -3.6zM244.9 93.6h3.6l-1.8 -3.6zM245.5 94.2h3.6l-1.8 -3.6zM246.1 94.4h3.6l-1.8 -3.6zM246.8 94.5h3.6l-1.8 -3.6zM247.4 95.1h3.6l-1.8 -3.6zM248.0 95.8h3.6l-1.8 -3.6zM248.6 96.0h3.6l-1.8 -3.6zM249.2 96.4h3.6l-1.8 -3.6zM249.9 97.1h3.6l-1.8 -3.6zM250.5 97.1h3.6l-1.8 -3.6zM251.1 97.3h3.6l-1.8 -3.6zM251.7 97.9h3.6l-1.8 -3.6zM252.3 98.4h3.6l-1.8 -3.6zM253.0 98.6h3.6l-1.8 -3.6zM253.6 98.9h3.6l-1.8 -3.6zM254.2 99.4h3.6l-1.8 -3.6zM254.8 99.9h3.6l-1.8 -3.6zM255.4 100.1h3.6l-1.8 -3.6zM256.1 100.5h3.6l-1.8 -3.6zM256.7 100.9h3.6l-1.8 -3.6zM257.3 101.5h3.6l-1.8 -3.6zM257.9 102.0h3.6l-1.8 -3.6zM258.5 101.8h3.6l-1.8 -3.6zM259.2 102.2h3.6l-1.8 -3.6zM259.8 102.6h3.6l-1.8 -3.6zM260.4 103.0h3.6l-1.8 -3.6zM261.0 103.2h3.6l-1.8 -3.6zM261.6 103.7h3.6l-1.8 -3.6zM262.3 104.1h3.6l-1.8 -3.6zM262.9 104.4h3.6l-1.8 -3.6zM263.5 105.1h3.6l-1.8 -3.6zM264.1 105.1h3.6l-1.8 -3.6zM264.7 105.4h3.6l-1.8 -3.6zM265.4 106.0h3.6l-1.8 -3.6zM266.0 106.2h3.6l-1.8 -3.6zM266.6 106.5h3.6l-1.8 -3.6zM267.2 107.1h3.6l-1.8 -3.6zM267.8 107.7h3.6l-1.8 -3.6zM268.5 108.0h3.6l-1.8 -3.6zM269.1 108.3h3.6l-1.8 -3.6zM269.7 108.5h3.6l-1.8 -3.6zM270.3 108.9h3.6l-1.8 -3.6zM270.9 109.1h3.6l-1.8 -3.6zM271.6 109.4h3.6l-1.8 -3.6zM272.2 110.2h3.6l-1.8 -3.6zM272.8 110.4h3.6l-1.8 -3.6zM273.4 110.5h3.6l-1.8 -3.6zM274.0 111.1h3.6l-1.8 -3.6zM274.7 111.4h3.6l-1.8 -3.6zM275.3 111.6h3.6l-1.8 -3.6zM275.9 112.2h3.6l-1.8 -3.6zM276.5 112.4h3.6l-1.8 -3.6zM277.1 112.9h3.6l-1.8 -3.6zM277.8 112.8h3.6l-1.8 -3.6zM278.4 113.6h3.6l-1.8 -3.6zM279.0 114.0h3.6l-1.8 -3.6zM279.6 114.1h3.6l-1.8 -3.6zM280.2 114.3h3.6l-1.8 -3.6zM280.9 114.9h3.6l-1.8 -3.6zM281.5 114.6h3.6l-1.8 -3.6zM282.1 115.3h3.6l-1.8 -3.6zM282.7 115.7h3.6l-1.8 -3.6zM283.3 116.0h3.6l-1.8 -3.6zM284.0 116.8h3.6l-1.8 -3.6zM284.6 117.3h3.6l-1.8 -3.6zM285.2 117.5h3.6l-1.8 -3.6zM285.8 117.8h3.6l-1.8 -3.6zM286.4 118.6h3.6l-1.8 -3.6zM287.1 118.5h3.6l-1.8 -3.6zM287.7 119.3h3.6l-1.8 -3.6zM288.3 118.6h3.6l-1.8 -3.6zM288.9 118.1h3.6l-1.8 -3.6zM289.5 119.5h3.6l-1.8 -3.6zM290.2 119.6h3.6l-1.8 -3.6zM290.8 119.5h3.6l-1.8 -3.6zM291.4 121.3h3.6l-1.8 -3.6zM292.0 121.4h3.6l-1.8 -3.6zM292.6 120.4h3.6l-1.8 -3.6zM293.3 121.3h3.6l-1.8 -3.6zM293.9 121.7h3.6l-1.8 -3.6zM294.5 122.0h3.6l-1.8 -3.6zM295.1 122.3h3.6l-1.8 -3.6zM295.7 122.2h3.6l-1.8 -3.6zM296.4 122.7h3.6l-1.8 -3.6zM297.0 123.8h3.6l-1.8 -3.6zM297.6 123.4h3.6l-1.8 -3.6zM298.2 123.6h3.6l-1.8 -3.6zM298.8 123.8h3.6l-1.8 -3.6zM299.5 124.4h3.6l-1.8 -3.6zM300.1 124.9h3.6l-1.8 -3.6zM300.7 125.6h3.6l-1.8 -3.6zM301.3 125.3h3.6l-1.8 -3.6zM301.9 128.5h3.6l-1.8 -3.6zM302.6 124.3h3.6l-1.8 -3.6zM303.2 126.7h3.6l-1.8 -3.6zM303.8 127.4h3.6l-1.8 -3.6zM304.4 126.6h3.6l-1.8 -3.6zM305.0 126.6h3.6l-1.8 -3.6zM305.7 126.2h3.6l-1.8 -3.6zM306.3 127.1h3.6l-1.8 -3.6zM306.9 129.3h3.6l-1.8 -3.6zM307.5 125.9h3.6l-1.8 -3.6zM308.1 129.6h3.6l-1.8 -3.6zM308.8 129.3h3.6l-1.8 -3.6zM309.4 130.8h3.6l-1.8 -3.6zM310.0 129.5h3.6l-1.8 -3.6zM310.6 128.0h3.6l-1.8 -3.6zM311.2 129.6h3.6l-1.8 -3.6zM311.9 130.2h3.6l-1.8 -3.6zM312.5 131.4h3.6l-1.8 -3.6zM313.1 131.1h3.6l-1.8 -3.6zM313.7 133.9h3.6l-1.8 -3.6zM314.3 132.0h3.6l-1.8 -3.6zM315.0 130.0h3.6l-1.8 -3.6zM315.6 131.6h3.6l-1.8 -3.6zM316.2 130.7h3.6l-1.8 -3.6zM316.8 131.9h3.6l-1.8 -3.6zM317.4 131.4h3.6l-1.8 -3.6zM318.1 131.6h3.6l-1.8 -3.6zM318.7 131.3h3.6l-1.8 -3.6zM319.3 133.7h3.6l-1.8 -3.6zM319.9 131.7h3.6l-1.8 -3.6zM320.5 134.0h3.6l-1.8 -3.6zM321.2 133.2h3.6l-1.8 -3.6zM321.8 133.3h3.6l-1.8 -3.6zM322.4 137.3h3.6l-1.8 -3.6zM323.0 136.5h3.6l-1.8 -3.6zM323.6 135.9h3.6l-1.8 -3.6zM324.3 132.4h3.6l-1.8 -3.6zM324.9 134.6h3.6l-1.8 -3.6zM325.5 137.7h3.6l-1.8 -3.6zM326.1 134.7h3.6l-1.8 -3.6zM326.7 134.9h3.6l-1.8 -3.6zM327.4 137.1h3.6l-1.8 -3.6zM328.0 132.9h3.6l-1.8 -3.6zM328.6 138.8h3.6l-1.8 -3.6zM329.2 139.1h3.6l-1.8 -3.6zM329.8 134.7h3.6l-1.8 -3.6zM330.5 137.5h3.6l-1.8 -3.6zM331.1 137.5h3.6l-1.8 -3.6zM331.7 139.1h3.6l-1.8 -3.6zM332.3 138.4h3.6l-1.8 -3.6zM332.9 141.2h3.6l-1.8 -3.6zM333.6 141.9h3.6l-1.8 -3.6zM334.2 135.7h3.6l-1.8 -3.6zM334.8 138.5h3.6l-1.8 -3.6zM335.4 139.6h3.6l-1.8 -3.6zM336.0 139.9h3.6l-1.8 -3.6zM336.7 131.8h3.6l-1.8 -3.6zM337.3 136.8h3.6l-1.8 -3.6zM337.9 141.1h3.6l-1.8 -3.6zM338.5 138.6h3.6l-1.8 -3.6zM339.1 142.3h3.6l-1.8 -3.6zM339.8 143.0h3.6l-1.8 -3.6zM340.4 143.0h3.6l-1.8 -3.6zM341.0 140.4h3.6l-1.8 -3.6zM341.6 140.0h3.6l-1.8 -3.6zM342.2 142.9h3.6l-1.8 -3.6zM342.9 143.6h3.6l-1.8 -3.6zM343.5 142.2h3.6l-1.8 -3.6zM344.1 141.5h3.6l-1.8 -3.6zM345.3 141.5h3.6l-1.8 -3.6zM346.0 141.5h3.6l-1.8 -3.6zM346.6 139.6h3.6l-1.8 -3.6zM347.2 141.1h3.6l-1.8 -3.6zM347.8 145.1h3.6l-1.8 -3.6zM348.4 147.4h3.6l-1.8 -3.6zM349.7 143.6h3.6l-1.8 -3.6zM350.3 142.8h3.6l-1.8 -3.6zM351.5 140.6h3.6l-1.8 -3.6zM352.2 146.7h3.6l-1.8 -3.6zM352.8 142.3h3.6l-1.8 -3.6zM353.4 141.5h3.6l-1.8 -3.6zM354.0 147.3h3.6l-1.8 -3.6zM354.6 144.2h3.6l-1.8 -3.6zM355.3 141.9h3.6l-1.8 -3.6zM355.9 145.0h3.6l-1.8 -3.6zM356.5 143.0h3.6l-1.8 -3.6zM357.1 138.8h3.6l-1.8 -3.6zM357.7 145.4h3.6l-1.8 -3.6zM358.4 145.7h3.6l-1.8 -3.6zM359.0 140.5h3.6l-1.8 -3.6zM359.6 153.2h3.6l-1.8 -3.6zM360.2 141.9h3.6l-1.8 -3.6zM360.8 150.9h3.6l-1.8 -3.6zM361.5 147.7h3.6l-1.8 -3.6zM362.7 144.9h3.6l-1.8 -3.6zM363.3 144.6h3.6l-1.8 -3.6zM363.9 145.2h3.6l-1.8 -3.6zM364.6 135.8h3.6l-1.8 -3.6zM365.2 145.5h3.6l-1.8 -3.6zM365.8 148.3h3.6l-1.8 -3.6zM366.4 147.0h3.6l-1.8 -3.6zM367.0 139.4h3.6l-1.8 -3.6zM367.7 145.3h3.6l-1.8 -3.6zM368.3 145.7h3.6l-1.8 -3.6zM368.9 138.5h3.6l-1.8 -3.6zM369.5 154.1h3.6l-1.8 -3.6zM370.1 144.1h3.6l-1.8 -3.6zM370.8 139.6h3.6l-1.8 -3.6zM371.4 145.3h3.6l-1.8 -3.6zM372.0 152.8h3.6l-1.8 -3.6zM373.2 148.1h3.6l-1.8 -3.6zM373.9 142.3h3.6l-1.8 -3.6zM374.5 147.0h3.6l-1.8 -3.6zM375.1 144.3h3.6l-1.8 -3.6zM375.7 137.5h3.6l-1.8 -3.6zM378.2 146.4h3.6l-1.8 -3.6zM378.8 157.4h3.6l-1.8 -3.6zM379.4 142.3h3.6l-1.8 -3.6zM380.1 148.4h3.6l-1.8 -3.6zM54.7 174.0h3.4l-1.7 -3.4zM55.3 168.5h3.4l-1.7 -3.4zM55.9 192.7h3.4l-1.7 -3.4zM57.0 197.9h3.4l-1.7 -3.4zM57.8 186.2h3.4l-1.7 -3.4zM58.7 197.9h3.4l-1.7 -3.4zM60.6 197.9h3.4l-1.7 -3.4zM61.4 181.9h3.4l-1.7 -3.4zM62.5 162.9h3.4l-1.7 -3.4zM63.4 192.7h3.4l-1.7 -3.4zM64.4 192.7h3.4l-1.7 -3.4zM66.1 186.2h3.4l-1.7 -3.4zM66.5 189.0h3.4l-1.7 -3.4zM68.8 171.3h3.4l-1.7 -3.4zM70.1 186.2h3.4l-1.7 -3.4zM71.6 181.9h3.4l-1.7 -3.4zM72.2 197.9h3.4l-1.7 -3.4zM73.0 169.1h3.4l-1.7 -3.4zM74.4 166.1h3.4l-1.7 -3.4z" fill="#ffa200"/>
<path d="M77.7 193.0v3.6l-3.6 -1.8zM78.1 186.5v3.6l-3.6 -1.8zM78.4 183.0v3.6l-3.6 -1.8zM78.6 179.5v3.6l-3.6 -1.8zM78.8 176.5v3.6l-3.6 -1.8zM79.0 173.7v3.6l-3.6 -1.8zM79.2 169.9v3.6l-3.6 -1.8zM79.5 166.6v3.6l-3.6 -1.8zM79.7 163.7v3.6l-3.6 -1.8zM80.0 160.5v3.6l-3.6 -1.8zM80.2 157.2v3.6l-3.6 -1.8zM80.5 154.0v3.6l-3.6 -1.8zM80.8 150.8v3.6l-3.6 -1.8zM81.1 147.7v3.6l-3.6 -1.8zM81.5 144.5v3.6l-3.6 -1.8zM81.9 141.0v3.6l-3.6 -1.8zM82.3 138.0v3.6l-3.6 -1.8zM82.7 134.8v3.6l-3.6 -1.8zM83.1 131.7v3.6l-3.6 -1.8zM83.6 128.6v3.6l-3.6 -1.8zM84.1 125.3v3.6l-3.6 -1.8zM84.7 122.3v3.6l-3.6 -1.8zM85.3 118.9v3.6l-3.6 -1.8zM85.9 115.6v3.6l-3.6 -1.8zM86.5 112.9v3.6l-3.6 -1.8zM87.1 109.8v3.6l-3.6 -1.8zM87.7 107.0v3.6l-3.6 -1.8zM88.4 104.6v3.6l-3.6 -1.8zM89.0 102.5v3.6l-3.6 -1.8zM89.6 100.1v3.6l-3.6 -1.8zM90.2 97.6v3.6l-3.6 -1.8zM90.8 96.0v3.6l-3.6 -1.8zM91.5 93.4v3.6l-3.6 -1.8zM92.1 91.4v3.6l-3.6 -1.8zM92.7 89.6v3.6l-3.6 -1.8zM93.3 87.7v3.6l-3.6 -1.8zM93.9 86.0v3.6l-3.6 -1.8zM94.6 83.9v3.6l-3.6 -1.8zM95.2 82.4v3.6l-3.6 -1.8zM95.8 80.6v3.6l-3.6 -1.8zM96.4 79.2v3.6l-3.6 -1.8zM97.0 77.3v3.6l-3.6 -1.8zM97.7 76.2v3.6l-3.6 -1.8zM98.3 74.6v3.6l-3.6 -1.8zM98.9 73.8v3.6l-3.6 -1.8zM99.5 72.3v3.6l-3.6 -1.8zM100.1 71.3v3.6l-3.6 -1.8zM100.8 70.3v3.6l-3.6 -1.8zM101.4 68.9v3.6l-3.6 -1.8zM102.0 68.0v3.6l-3.6 -1.8zM102.6 66.8v3.6l-3.6 -1.8zM103.2 66.3v3.6l-3.6 -1.8zM103.9 65.5v3.6l-3.6 -1.8zM104.5 64.3v3.6l-3.6 -1.8zM105.1 63.6v3.6l-3.6 -1.8zM105.7 63.0v3.6l-3.6 -1.8zM106.3 62.5v3.6l-3.6 -1.8zM107.0 61.5v3.6l-3.6 -1.8zM107.6 60.9v3.6l-3.6 -1.8zM108.2 60.4v3.6l-3.6 -1.8zM108.8 59.9v3.6l-3.6 -1.8zM109.4 59.3v3.6l-3.6 -1.8zM110.1 58.7v3.6l-3.6 -1.8zM110.7 58.4v3.6l-3.6 -1.8zM111.3 57.9v3.6l-3.6 -1.8zM111.9 57.4v3.6l-3.6 -1.8zM112.5 57.2v3.6l-3.6 -1.8zM113.2 56.6v3.6l-3.6 -1.8zM113.8 56.2v3.6l-3.6 -1.8zM114.4 56.3v3.6l-3.6 -1.8zM115.0 55.8v3.6l-3.6 -1.8zM115.6 55.6v3.6l-3.6 -1.8zM116.3 55.2v3.6l-3.6 -1.8zM116.9 55.0v3.6l-3.6 -1.8zM117.5 54.9v3.6l-3.6 -1.8zM118.1 54.5v3.6l-3.6 -1.8zM118.7 54.0v3.6l-3.6 -1.8zM119.4 54.0v3.6l-3.6 -1.8zM120.0 53.9v3.6l-3.6 -1.8zM120.6 54.2v3.6l-3.6 -1.8zM121.2 53.7v3.6l-3.6 -1.8zM121.8 53.5v3.6l-3.6 -1.8zM122.5 53.5v3.6l-3.6 -1.8zM123.1 53.3v3.6l-3.6 -1.8zM123.7 53.1v3.6l-3.6 -1.8zM124.3 53.2v3.6l-3.6 -1.8zM124.9 53.2v3.6l-3.6 -1.8zM125.6 52.6v3.6l-3.6 -1.8zM126.2 52.9v3.6l-3.6 -1.8zM126.8 53.0v3.6l-3.6 -1.8zM127.4 53.1v3.6l-3.6 -1.8zM128.0 53.0v3.6l-3.6 -1.8zM128.7 52.9v3.6l-3.6 -1.8zM129.3 53.0v3.6l-3.6 -1.8zM129.9 53.0v3.6l-3.6 -1.8zM130.5 52.7v3.6l-3.6 -1.8zM131.1 53.0v3.6l-3.6 -1.8zM131.8 52.7v3.6l-3.6 -1.8zM132.4 53.0v3.6l-3.6 -1.8zM133.0 53.0v3.6l-3.6 -1.8zM133.6 53.2v3.6l-3.6 -1.8zM134.2 53.3v3.6l-3.6 -1.8zM134.9 52.9v3.6l-3.6 -1.8zM135.5 53.1v3.6l-3.6 -1.8zM136.1 53.4v3.6l-3.6 -1.8zM136.7 53.5v3.6l-3.6 -1.8zM137.3 53.7v3.6l-3.6 -1.8zM138.0 53.5v3.6l-3.6 -1.8zM138.6 53.9v3.6l-3.6 -1.8zM139.2 53.5v3.6l-3.6 -1.8zM139.8 53.7v3.6l-3.6 -1.8zM140.4 53.9v3.6l-3.6 -1.8zM141.1 54.0v3.6l-3.6 -1.8zM141.7 54.1v3.6l-3.6 -1.8zM142.3 54.2v3.6l-3.6 -1.8zM142.9 54.8v3.6l-3.6 -1.8zM143.5 54.7v3.6l-3.6 -1.8zM144.2 54.9v3.6l-3.6 -1.8zM144.8 54.9v3.6l-3.6 -1.8zM145.4 55.1v3.6l-3.6 -1.8zM146.0 55.4v3.6l-3.6 -1.8zM146.6 55.6v3.6l-3.6 -1.8zM147.3 55.8v3.6l-3.6 -1.8zM147.9 55.6v3.6l-3.6 -1.8zM148.5 55.9v3.6l-3.6 -1.8zM149.1 56.0v3.6l-3.6 -1.8zM149.7 56.2v3.6l-3.6 -1.8zM150.4 56.5v3.6l-3.6 -1.8zM151.0 56.7v3.6l-3.6 -1.8zM151.6 56.8v3.6l-3.6 -1.8zM152.2 57.1v3.6l-3.6 -1.8zM152.8 57.3v3.6l-3.6 -1.8zM153.5 57.5v3.6l-3.6 -1.8zM154.1 57.7v3.6l-3.6 -1.8zM154.7 57.8v3.6l-3.6 -1.8zM155.3 58.4v3.6l-3.6 -1.8zM155.9 58.6v3.6l-3.6 -1.8zM156.6 58.7v3.6l-3.6 -1.8zM157.2 58.8v3.6l-3.6 -1.8zM157.8 58.8v3.6l-3.6 -1.8zM158.4 59.1v3.6l-3.6 -1.8zM159.0 59.2v3.6l-3.6 -1.8zM159.7 59.5v3.6l-3.6 -1.8zM160.3 60.1v3.6l-3.6 -1.8zM160.9 60.1v3.6l-3.6 -1.8zM161.5 60.1v3.6l-3.6 -1.8zM162.1 60.6v3.6l-3.6 -1.8zM162.8 61.0v3.6l-3.6 -1.8zM163.4 60.9v3.6l-3.6 -1.8zM164.0 61.1v3.6l-3.6 -1.8zM164.6 61.5v3.6l-3.6 -1.8zM165.2 61.7v3.6l-3.6 -1.8zM165.9 62.2v3.6l-3.6 -1.8zM166.5 62.3v3.6l-3.6 -1.8zM167.1 62.6v3.6l-3.6 -1.8zM167.7 62.9v3.6l-3.6 -1.8zM168.3 63.2v3.6l-3.6 -1.8zM169.0 63.2v3.6l-3.6 -1.8zM169.6 63.4v3.6l-3.6 -1.8zM170.2 63.7v3.6l-3.6 -1.8zM170.8 64.1v3.6l-3.6 -1.8zM171.4 64.6v3.6l-3.6 -1.8zM172.1 64.9v3.6l-3.6 -1.8zM172.7 65.1v3.6l-3.6 -1.8zM173.3 65.4v3.6l-3.6 -1.8zM173.9 65.4v3.6l-3.6 -1.8zM174.5 65.8v3.6l-3.6 -1.8zM175.2 66.2v3.6l-3.6 -1.8zM175.8 66.4v3.6l-3.6 -1.8zM176.4 66.9v3.6l-3.6 -1.8zM177.0 67.1v3.6l-3.6 -1.8zM177.6 67.1v3.6l-3.6 -1.8zM178.3 67.5v3.6l-3.6 -1.8zM178.9 68.0v3.6l-3.6 -1.8zM179.5 68.1v3.6l-3.6 -1.8zM180.1 68.4v3.6l-3.6 -1.8zM180.7 68.7v3.6l-3.6 -1.8zM181.4 68.8v3.6l-3.6 -1.8zM182.0 69.7v3.6l-3.6 -1.8zM182.6 69.8v3.6l-3.6 -1.8zM183.2 70.0v3.6l-3.6 -1.8zM183.8 70.6v3.6l-3.6 -1.8zM184.5 70.4v3.6l-3.6 -1.8zM185.1 71.0v3.6l-3.6 -1.8zM185.7 71.5v3.6l-3.6 -1.8zM186.3 71.7v3.6l-3.6 -1.8zM186.9 72.1v3.6l-3.6 -1.8zM187.6 72.3v3.6l-3.6 -1.8zM188.2 72.8v3.6l-3.6 -1.8zM188.8 72.9v3.6l-3.6 -1.8zM189.4 73.3v3.6l-3.6 -1.8zM190.0 73.6v3.6l-3.6 -1.8zM190.7 74.2v3.6l-3.6 -1.8zM191.3 74.2v3.6l-3.6 -1.8zM191.9 74.8v3.6l-3.6 -1.8zM192.5 74.9v3.6l-3.6 -1.8zM193.1 75.2v3.6l-3.6 -1.8zM193.8 75.6v3.6l-3.6 -1.8zM194.4 76.0v3.6l-3.6 -1.8zM195.0 76.7v3.6l-3.6 -1.8zM195.6 76.8v3.6l-3.6 -1.8zM196.2 77.3v3.6l-3.6 -1.8zM196.9 77.6v3.6l-3.6 -1.8zM197.5 77.4v3.6l-3.6 -1.8zM198.1 78.1v3.6l-3.6 -1.8zM198.7 78.6v3.6l-3.6 -1.8zM199.3 79.0v3.6l-3.6 -1.8zM200.0 79.4v3.6l-3.6 -1.8zM200.6 79.6v3.6l-3.6 -1.8zM201.2 79.9v3.6l-3.6 -1.8zM201.8 80.4v3.6l-3.6 -1.8zM202.4 80.7v3.6l-3.6 -1.8zM203.1 81.2v3.6l-3.6 -1.8zM203.7 81.3v3.6l-3.6 -1.8zM204.3 81.8v3.6l-3.6 -1.8zM204.9 82.1v3.6l-3.6 -1.8zM205.5 82.7v3.6l-3.6 -1.8zM206.2 82.6v3.6l-3.6 -1.8zM206.8 83.3v3.6l-3.6 -1.8zM207.4 83.7v3.6l-3.6 -1.8zM208.0 84.2v3.6l-3.6 -1.8zM208.6 84.1v3.6l-3.6 -1.8zM209.3 84.6v3.6l-3.6 -1.8zM209.9 85.1v3.6l-3.6 -1.8zM210.5 85.5v3.6l-3.6 -1.8zM211.1 85.7v3.6l-3.6 -1.8zM211.7 86.3v3.6l-3.6 -1.8zM212.4 86.7v3.6l-3.6 -1.8zM213.0 86.8v3.6l-3.6 -1.8zM213.6 87.2v3.6l-3.6 -1.8zM214.2 87.4v3.6l-3.6 -1.8zM214.8 88.2v3.6l-3.6 -1.8zM215.5 88.3v3.6l-3.6 -1.8zM216.1 88.9v3.6l-3.6 -1.8zM216.7 88.9v3.6l-3.6 -1.8zM217.3 89.7v3.6l-3.6 -1.8zM217.9 89.8v3.6l-3.6 -1.8zM218.6 90.2v3.6l-3.6 -1.8zM219.2 90.5v3.6l-3.6 -1.8zM219.8 90.7v3.6l-3.6 -1.8zM220.4 91.1v3.6l-3.6 -1.8zM221.0 91.6v3.6l-3.6 -1.8zM221.7 91.5v3.6l-3.6 -1.8zM222.3 92.0v3.6l-3.6 -1.8zM222.9 92.6v3.6l-3.6 -1.8zM223.5 92.7v3.6l-3.6 -1.8zM224.1 93.3v3.6l-3.6 -1.8zM224.8 93.9v3.6l-3.6 -1.8zM225.4 94.1v3.6l-3.6 -1.8zM226.0 94.4v3.6l-3.6 -1.8zM226.6 94.8v3.6l-3.6 -1.8zM227.2 94.8v3.6l-3.6 -1.8zM227.9 95.2v3.6l-3.6 -1.8zM228.5 95.5v3.6l-3.6 -1.8zM229.1 96.1v3.6l-3.6 -1.8zM229.7 96.3v3.6l-3.6 -1.8zM230.3 96.7v3.6l-3.6 -1.8zM231.0 97.4v3.6l-3.6 -1.8zM231.6 97.4v3.6l-3.6 -1.8zM232.2 97.7v3.6l-3.6 -1.8zM232.8 98.4v3.6l-3.6 -1.8zM233.4 98.5v3.6l-3.6 -1.8zM234.1 99.0v3.6l-3.6 -1.8zM234.7 99.2v3.6l-3.6 -1.8zM235.3 99.3v3.6l-3.6 -1.8zM235.9 99.9v3.6l-3.6 -1.8zM236.5 100.0v3.6l-3.6 -1.8zM237.2 100.3v3.6l-3.6 -1.8zM237.8 100.6v3.6l-3.6 -1.8zM238.4 100.9v3.6l-3.6 -1.8zM239.0 101.2v3.6l-3.6 -1.8zM239.6 101.7v3.6l-3.6 -1.8zM240.3 102.1v3.6l-3.6 -1.8zM240.9 102.2v3.6l-3.6 -1.8zM241.5 102.8v3.6l-3.6 -1.8zM242.1 102.7v3.6l-3.6 -1.8zM242.7 103.2v3.6l-3.6 -1.8zM243.4 103.6v3.6l-3.6 -1.8zM244.0 103.6v3.6l-3.6 -1.8zM244.6 104.0v3.6l-3.6 -1.8zM245.2 104.4v3.6l-3.6 -1.8zM245.8 104.5v3.6l-3.6 -1.8zM246.5 105.1v3.6l-3.6 -1.8zM247.1 105.2v3.6l-3.6 -1.8zM247.7 105.7v3.6l-3.6 -1.8zM248.3 105.9v3.6l-3.6 -1.8zM248.9 106.3v3.6l-3.6 -1.8zM249.6 106.6v3.6l-3.6 -1.8zM250.2 106.7v3.6l-3.6 -1.8zM250.8 106.8v3.6l-3.6 -1.8zM251.4 107.1v3.6l-3.6 -1.8zM252.0 107.4v3.6l-3.6 -1.8zM252.7 107.7v3.6l-3.6 -1.8zM253.3 107.9v3.6l-3.6 -1.8zM253.9 108.3v3.6l-3.6 -1.8zM254.5 108.6v3.6l-3.6 -1.8zM255.1 108.8v3.6l-3.6 -1.8zM255.8 109.2v3.6l-3.6 -1.8zM256.4 109.4v3.6l-3.6 -1.8zM257.0 109.7v3.6l-3.6 -1.8zM257.6 109.7v3.6l-3.6 -1.8zM258.2 110.1v3.6l-3.6 -1.8zM258.9 110.5v3.6l-3.6 -1.8zM259.5 110.7v3.6l-3.6 -1.8zM260.1 110.7v3.6l-3.6 -1.8zM260.7 111.0v3.6l-3.6 -1.8zM261.3 111.4v3.6l-3.6 -1.8zM262.0 111.6v3.6l-3.6 -1.8zM262.6 111.8v3.6l-3.6 -1.8zM263.2 111.9v3.6l-3.6 -1.8zM263.8 112.3v3.6l-3.6 -1.8zM264.4 112.4v3.6l-3.6 -1.8zM265.1 112.8v3.6l-3.6 -1.8zM265.7 113.0v3.6l-3.6 -1.8zM266.3 113.5v3.6l-3.6 -1.8zM266.9 113.4v3.6l-3.6 -1.8zM267.5 113.8v3.6l-3.6 -1.8zM268.2 114.0v3.6l-3.6 -1.8zM268.8 114.2v3.6l-3.6 -1.8zM269.4 114.5v3.6l-3.6 -1.8zM270.0 114.7v3.6l-3.6 -1.8zM270.6 115.1v3.6l-3.6 -1.8zM271.3 114.9v3.6l-3.6 -1.8zM271.9 115.4v3.6l-3.6 -1.8zM272.5 115.2v3.6l-3.6 -1.8zM273.1 115.6v3.6l-3.6 -1.8zM273.7 115.7v3.6l-3.6 -1.8zM274.4 116.4v3.6l-3.6 -1.8zM275.0 116.6v3.6l-3.6 -1.8zM275.6 116.4v3.6l-3.6 -1.8zM276.2 116.7v3.6l-3.6 -1.8zM276.8 117.1v3.6l-3.6 -1.8zM277.5 117.4v3.6l-3.6 -1.8zM278.1 117.5v3.6l-3.6 -1.8zM278.7 117.7v3.6l-3.6 -1.8zM279.3 117.8v3.6l-3.6 -1.8zM279.9 118.1v3.6l-3.6 -1.8zM280.6 118.0v3.6l-3.6 -1.8zM281.2 118.3v3.6l-3.6 -1.8zM281.8 118.8v3.6l-3.6 -1.8zM282.4 119.0v3.6l-3.6 -1.8zM283.0 118.9v3.6l-3.6 -1.8zM283.7 119.0v3.6l-3.6 -1.8zM284.3 119.3v3.6l-3.6 -1.8zM284.9 119.4v3.6l-3.6 -1.8zM285.5 120.0v3.6l-3.6 -1.8zM286.1 120.0v3.6l-3.6 -1.8zM286.8 120.3v3.6l-3.6 -1.8zM287.4 120.4v3.6l-3.6 -1.8zM288.0 120.4v3.6l-3.6 -1.8zM288.6 120.6v3.6l-3.6 -1.8zM289.2 120.6v3.6l-3.6 -1.8zM289.9 120.9v3.6l-3.6 -1.8zM290.5 121.0v3.6l-3.6 -1.8zM291.1 121.3v3.6l-3.6 -1.8zM291.7 121.7v3.6l-3.6 -1.8zM292.3 121.5v3.6l-3.6 -1.8zM293.0 121.9v3.6l-3.6 -1.8zM293.6 121.8v3.6l-3.6 -1.8zM294.2 122.3v3.6l-3.6 -1.8zM294.8 122.4v3.6l-3.6 -1.8zM295.4 122.4v3.6l-3.6 -1.8zM296.1 122.7v3.6l-3.6 -1.8zM296.7 123.2v3.6l-3.6 -1.8zM297.3 122.9v3.6l-3.6 -1.8zM297.9 123.4v3.6l-3.6 -1.8zM298.5 123.4v3.6l-3.6 -1.8zM299.2 123.6v3.6l-3.6 -1.8zM299.8 124.0v3.6l-3.6 -1.8zM300.4 123.9v3.6l-3.6 -1.8zM301.0 124.0v3.6l-3.6 -1.8zM301.6 124.5v3.6l-3.6 -1.8zM302.3 124.5v3.6l-3.6 -1.8zM302.9 124.6v3.6l-3.6 -1.8zM303.5 124.8v3.6l-3.6 -1.8zM304.1 124.6v3.6l-3.6 -1.8zM304.7 125.0v3.6l-3.6 -1.8zM305.4 125.1v3.6l-3.6 -1.8zM306.0 125.3v3.6l-3.6 -1.8zM306.6 125.4v3.6l-3.6 -1.8zM307.2 125.7v3.6l-3.6 -1.8zM307.8 125.9v3.6l-3.6 -1.8zM308.5 126.0v3.6l-3.6 -1.8zM309.1 126.1v3.6l-3.6 -1.8zM309.7 126.3v3.6l-3.6 -1.8zM310.3 126.7v3.6l-3.6 -1.8zM310.9 126.4v3.6l-3.6 -1.8zM311.6 126.4v3.6l-3.6 -1.8zM312.2 126.6v3.6l-3.6 -1.8zM312.8 126.6v3.6l-3.6 -1.8zM313.4 126.8v3.6l-3.6 -1.8zM314.0 127.2v3.6l-3.6 -1.8zM314.7 127.3v3.6l-3.6 -1.8zM315.3 127.7v3.6l-3.6 -1.8zM315.9 127.5v3.6l-3.6 -1.8zM316.5 127.8v3.6l-3.6 -1.8zM317.1 127.5v3.6l-3.6 -1.8zM317.8 127.8v3.6l-3.6 -1.8zM318.4 128.4v3.6l-3.6 -1.8zM319.0 128.5v3.6l-3.6 -1.8zM319.6 128.9v3.6l-3.6 -1.8zM320.2 128.9v3.6l-3.6 -1.8zM320.9 128.5v3.6l-3.6 -1.8zM321.5 128.4v3.6l-3.6 -1.8zM322.1 128.4v3.6l-3.6 -1.8zM322.7 129.3v3.6l-3.6 -1.8zM323.3 129.0v3.6l-3.6 -1.8zM324.0 129.2v3.6l-3.6 -1.8zM324.6 129.7v3.6l-3.6 -1.8zM325.2 130.5v3.6l-3.6 -1.8zM325.8 129.8v3.6l-3.6 -1.8zM326.4 129.5v3.6l-3.6 -1.8zM327.1 129.7v3.6l-3.6 -1.8zM327.7 130.5v3.6l-3.6 -1.8zM328.3 130.2v3.6l-3.6 -1.8zM328.9 130.5v3.6l-3.6 -1.8zM329.5 130.4v3.6l-3.6 -1.8zM330.2 130.3v3.6l-3.6 -1.8zM330.8 130.1v3.6l-3.6 -1.8zM331.4 130.8v3.6l-3.6 -1.8zM332.0 130.6v3.6l-3.6 -1.8zM332.6 131.4v3.6l-3.6 -1.8zM333.3 131.1v3.6l-3.6 -1.8zM333.9 130.6v3.6l-3.6 -1.8zM334.5 132.2v3.6l-3.6 -1.8zM335.1 132.6v3.6l-3.6 -1.8zM335.7 131.8v3.6l-3.6 -1.8zM336.4 131.7v3.6l-3.6 -1.8zM337.0 131.5v3.6l-3.6 -1.8zM337.6 131.8v3.6l-3.6 -1.8zM338.2 131.6v3.6l-3.6 -1.8zM338.8 133.1v3.6l-3.6 -1.8zM339.5 131.9v3.6l-3.6 -1.8zM340.1 131.4v3.6l-3.6 -1.8zM340.7 133.1v3.6l-3.6 -1.8zM341.3 132.9v3.6l-3.6 -1.8zM341.9 133.1v3.6l-3.6 -1.8zM342.6 133.6v3.6l-3.6 -1.8zM343.2 132.6v3.6l-3.6 -1.8zM343.8 133.2v3.6l-3.6 -1.8zM344.4 135.0v3.6l-3.6 -1.8zM345.0 132.8v3.6l-3.6 -1.8zM345.7 133.4v3.6l-3.6 -1.8zM346.3 134.2v3.6l-3.6 -1.8zM346.9 133.7v3.6l-3.6 -1.8zM347.5 133.7v3.6l-3.6 -1.8zM348.1 133.5v3.6l-3.6 -1.8zM348.8 134.2v3.6l-3.6 -1.8zM349.4 135.1v3.6l-3.6 -1.8zM350.0 133.7v3.6l-3.6 -1.8zM350.6 133.3v3.6l-3.6 -1.8zM351.2 133.9v3.6l-3.6 -1.8zM351.9 135.3v3.6l-3.6 -1.8zM352.5 134.0v3.6l-3.6 -1.8zM353.1 137.3v3.6l-3.6 -1.8zM353.7 134.8v3.6l-3.6 -1.8zM354.3 136.3v3.6l-3.6 -1.8zM355.0 134.3v3.6l-3.6 -1.8zM355.6 135.5v3.6l-3.6 -1.8zM356.2 136.1v3.6l-3.6 -1.8zM356.8 135.8v3.6l-3.6 -1.8zM357.4 136.6v3.6l-3.6 -1.8zM358.1 134.6v3.6l-3.6 -1.8zM358.7 136.3v3.6l-3.6 -1.8zM359.3 135.7v3.6l-3.6 -1.8zM359.9 136.2v3.6l-3.6 -1.8zM360.5 135.9v3.6l-3.6 -1.8zM361.2 135.6v3.6l-3.6 -1.8zM361.8 137.8v3.6l-3.6 -1.8zM362.4 136.9v3.6l-3.6 -1.8zM363.0 135.9v3.6l-3.6 -1.8zM363.6 135.7v3.6l-3.6 -1.8zM364.3 135.6v3.6l-3.6 -1.8zM364.9 136.4v3.6l-3.6 -1.8zM365.5 135.5v3.6l-3.6 -1.8zM366.1 137.3v3.6l-3.6 -1.8zM366.7 139.4v3.6l-3.6 -1.8zM367.4 137.3v3.6l-3.6 -1.8zM368.0 138.7v3.6l-3.6 -1.8zM368.6 138.7v3.6l-3.6 -1.8zM369.2 138.7v3.6l-3.6 -1.8zM369.8 136.5v3.6l-3.6 -1.8zM370.5 136.3v3.6l-3.6 -1.8zM371.1 139.0v3.6l-3.6 -1.8zM371.7 140.8v3.6l-3.6 -1.8zM372.3 139.3v3.6l-3.6 -1.8zM372.9 136.9v3.6l-3.6 -1.8zM373.6 140.0v3.6l-3.6 -1.8zM374.2 137.0v3.6l-3.6 -1.8zM374.8 137.6v3.6l-3.6 -1.8zM375.4 138.1v3.6l-3.6 -1.8zM376.0 140.2v3.6l-3.6 -1.8zM376.7 139.6v3.6l-3.6 -1.8zM377.3 139.6v3.6l-3.6 -1.8zM377.9 138.8v3.6l-3.6 -1.8zM378.5 138.1v3.6l-3.6 -1.8zM379.1 138.7v3.6l-3.6 -1.8zM379.8 139.0v3.6l-3.6 -1.8zM380.4 139.3v3.6l-3.6 -1.8zM381.0 138.9v3.6l-3.6 -1.8zM381.6 139.2v3.6l-3.6 -1.8zM382.2 136.3v3.6l-3.6 -1.8zM382.9 139.4v3.6l-3.6 -1.8zM383.5 139.9v3.6l-3.6 -1.8zM384.1 140.9v3.6l-3.6 -1.8zM384.7 141.4v3.6l-3.6 -1.8zM57.9 191.5v3.4l-3.4 -1.7zM58.6 193.4v3.4l-3.4 -1.7zM59.8 216.3v3.4l-3.4 -1.7zM60.6 207.4v3.4l-3.4 -1.7zM61.4 207.4v3.4l-3.4 -1.7zM63.2 176.8v3.4l-3.4 -1.7zM64.4 174.2v3.4l-3.4 -1.7zM64.9 181.7v3.4l-3.4 -1.7zM65.8 188.2v3.4l-3.4 -1.7zM66.7 193.4v3.4l-3.4 -1.7zM67.2 186.9v3.4l-3.4 -1.7zM67.9 193.4v3.4l-3.4 -1.7zM68.7 180.1v3.4l-3.4 -1.7zM70.1 198.6v3.4l-3.4 -1.7zM71.1 184.6v3.4l-3.4 -1.7zM73.0 183.6v3.4l-3.4 -1.7zM74.5 181.7v3.4l-3.4 -1.7zM75.7 185.7v3.4l-3.4 -1.7zM76.7 182.6v3.4l-3.4 -1.7zM77.7 177.4v3.4l-3.4 -1.7zM78.5 207.4v3.4l-3.4 -1.7z" fill="#ff7a00"/>
<path d="M75.6 187.6v3.6l3.6 -1.8zM75.7 179.5v3.6l3.6 -1.8zM75.9 176.2v3.6l3.6 -1.8zM76.0 173.9v3.6l3.6 -1.8zM76.2 171.2v3.6l3.6 -1.8zM76.5 167.9v3.6l3.6 -1.8zM76.8 165.1v3.6l3.6 -1.8zM77.1 162.1v3.6l3.6 -1.8zM77.5 158.9v3.6l3.6 -1.8zM77.9 155.5v3.6l3.6 -1.8zM78.3 152.3v3.6l3.6 -1.8zM78.8 149.1v3.6l3.6 -1.8zM79.2 145.9v3.6l3.6 -1.8zM79.7 142.7v3.6l3.6 -1.8zM80.2 139.3v3.6l3.6 -1.8zM80.7 135.9v3.6l3.6 -1.8zM81.2 132.4v3.6l3.6 -1.8zM81.7 129.5v3.6l3.6 -1.8zM82.2 126.2v3.6l3.6 -1.8zM82.8 122.8v3.6l3.6 -1.8zM83.3 119.7v3.6l3.6 -1.8zM84.0 116.5v3.6l3.6 -1.8zM84.6 114.0v3.6l3.6 -1.8zM85.2 111.3v3.6l3.6 -1.8zM85.8 108.2v3.6l3.6 -1.8zM86.4 105.9v3.6l3.6 -1.8zM87.1 103.9v3.6l3.6 -1.8zM87.7 102.0v3.6l3.6 -1.8zM88.3 99.9v3.6l3.6 -1.8zM88.9 97.9v3.6l3.6 -1.8zM89.5 96.4v3.6l3.6 -1.8zM90.2 94.7v3.6l3.6 -1.8zM90.8 93.1v3.6l3.6 -1.8zM91.4 91.6v3.6l3.6 -1.8zM92.0 90.2v3.6l3.6 -1.8zM92.6 88.4v3.6l3.6 -1.8zM93.3 87.3v3.6l3.6 -1.8zM93.9 86.2v3.6l3.6 -1.8zM94.5 85.0v3.6l3.6 -1.8zM95.1 84.0v3.6l3.6 -1.8zM95.7 82.7v3.6l3.6 -1.8zM96.4 81.7v3.6l3.6 -1.8zM97.0 80.8v3.6l3.6 -1.8zM97.6 79.2v3.6l3.6 -1.8zM98.2 78.6v3.6l3.6 -1.8zM98.8 77.6v3.6l3.6 -1.8zM99.5 76.7v3.6l3.6 -1.8zM100.1 75.7v3.6l3.6 -1.8zM100.7 75.0v3.6l3.6 -1.8zM101.3 74.3v3.6l3.6 -1.8zM101.9 73.5v3.6l3.6 -1.8zM102.6 72.9v3.6l3.6 -1.8zM103.2 72.1v3.6l3.6 -1.8zM103.8 71.8v3.6l3.6 -1.8zM104.4 70.9v3.6l3.6 -1.8zM105.0 70.6v3.6l3.6 -1.8zM105.7 69.8v3.6l3.6 -1.8zM106.3 69.1v3.6l3.6 -1.8zM106.9 68.7v3.6l3.6 -1.8zM107.5 68.2v3.6l3.6 -1.8zM108.1 67.8v3.6l3.6 -1.8zM108.8 67.3v3.6l3.6 -1.8zM109.4 66.9v3.6l3.6 -1.8zM110.0 66.5v3.6l3.6 -1.8zM110.6 66.1v3.6l3.6 -1.8zM111.2 65.8v3.6l3.6 -1.8zM111.9 65.5v3.6l3.6 -1.8zM112.5 65.2v3.6l3.6 -1.8zM113.1 64.7v3.6l3.6 -1.8zM113.7 64.3v3.6l3.6 -1.8zM114.3 64.0v3.6l3.6 -1.8zM115.0 64.0v3.6l3.6 -1.8zM115.6 63.6v3.6l3.6 -1.8zM116.2 63.4v3.6l3.6 -1.8zM116.8 63.4v3.6l3.6 -1.8zM117.4 62.8v3.6l3.6 -1.8zM118.1 63.0v3.6l3.6 -1.8zM118.7 62.5v3.6l3.6 -1.8zM119.3 62.4v3.6l3.6 -1.8zM119.9 62.3v3.6l3.6 -1.8zM120.5 62.3v3.6l3.6 -1.8zM121.2 62.3v3.6l3.6 -1.8zM121.8 62.1v3.6l3.6 -1.8zM122.4 62.0v3.6l3.6 -1.8zM123.0 62.0v3.6l3.6 -1.8zM123.6 61.7v3.6l3.6 -1.8zM124.3 61.7v3.6l3.6 -1.8zM124.9 61.4v3.6l3.6 -1.8zM125.5 61.8v3.6l3.6 -1.8zM126.1 61.6v3.6l3.6 -1.8zM126.7 61.8v3.6l3.6 -1.8zM127.4 61.7v3.6l3.6 -1.8zM128.0 61.5v3.6l3.6 -1.8zM128.6 61.7v3.6l3.6 -1.8zM129.2 61.7v3.6l3.6 -1.8zM129.8 61.7v3.6l3.6 -1.8zM130.5 61.5v3.6l3.6 -1.8zM131.1 61.8v3.6l3.6 -1.8zM131.7 61.7v3.6l3.6 -1.8zM132.3 62.0v3.6l3.6 -1.8zM132.9 61.8v3.6l3.6 -1.8zM133.6 61.9v3.6l3.6 -1.8zM134.2 62.2v3.6l3.6 -1.8zM134.8 62.5v3.6l3.6 -1.8zM135.4 62.5v3.6l3.6 -1.8zM136.0 62.8v3.6l3.6 -1.8zM136.7 62.6v3.6l3.6 -1.8zM137.3 62.6v3.6l3.6 -1.8zM137.9 62.9v3.6l3.6 -1.8zM138.5 62.6v3.6l3.6 -1.8zM139.1 63.2v3.6l3.6 -1.8zM139.8 63.2v3.6l3.6 -1.8zM140.4 63.4v3.6l3.6 -1.8zM141.0 63.4v3.6l3.6 -1.8zM141.6 63.4v3.6l3.6 -1.8zM142.2 63.8v3.6l3.6 -1.8zM142.9 63.7v3.6l3.6 -1.8zM143.5 64.2v3.6l3.6 -1.8zM144.1 64.2v3.6l3.6 -1.8zM144.7 64.4v3.6l3.6 -1.8zM145.3 64.6v3.6l3.6 -1.8zM146.0 64.9v3.6l3.6 -1.8zM146.6 65.0v3.6l3.6 -1.8zM147.2 65.3v3.6l3.6 -1.8zM147.8 65.6v3.6l3.6 -1.8zM148.4 65.6v3.6l3.6 -1.8zM149.1 66.0v3.6l3.6 -1.8zM149.7 65.8v3.6l3.6 -1.8zM150.3 66.6v3.6l3.6 -1.8zM150.9 66.4v3.6l3.6 -1.8zM151.5 66.7v3.6l3.6 -1.8zM152.2 67.2v3.6l3.6 -1.8zM152.8 67.0v3.6l3.6 -1.8zM153.4 67.2v3.6l3.6 -1.8zM154.0 67.6v3.6l3.6 -1.8zM154.6 68.0v3.6l3.6 -1.8zM155.3 68.1v3.6l3.6 -1.8zM155.9 68.7v3.6l3.6 -1.8zM156.5 69.0v3.6l3.6 -1.8zM157.1 69.1v3.6l3.6 -1.8zM157.7 69.5v3.6l3.6 -1.8zM158.4 69.3v3.6l3.6 -1.8zM159.0 70.1v3.6l3.6 -1.8zM159.6 69.9v3.6l3.6 -1.8zM160.2 70.4v3.6l3.6 -1.8zM160.8 70.7v3.6l3.6 -1.8zM161.5 70.7v3.6l3.6 -1.8zM162.1 71.3v3.6l3.6 -1.8zM162.7 71.5v3.6l3.6 -1.8zM163.3 71.8v3.6l3.6 -1.8zM163.9 72.2v3.6l3.6 -1.8zM164.6 72.4v3.6l3.6 -1.8zM165.2 72.7v3.6l3.6 -1.8zM165.8 72.7v3.6l3.6 -1.8zM166.4 73.1v3.6l3.6 -1.8zM167.0 73.6v3.6l3.6 -1.8zM167.7 73.9v3.6l3.6 -1.8zM168.3 74.4v3.6l3.6 -1.8zM168.9 74.4v3.6l3.6 -1.8zM169.5 74.7v3.6l3.6 -1.8zM170.1 74.7v3.6l3.6 -1.8zM170.8 75.3v3.6l3.6 -1.8zM171.4 75.5v3.6l3.6 -1.8zM172.0 75.5v3.6l3.6 -1.8zM172.6 76.2v3.6l3.6 -1.8zM173.2 76.4v3.6l3.6 -1.8zM173.9 76.7v3.6l3.6 -1.8zM174.5 76.8v3.6l3.6 -1.8zM175.1 77.4v3.6l3.6 -1.8zM175.7 77.7v3.6l3.6 -1.8zM176.3 77.9v3.6l3.6 -1.8zM177.0 78.0v3.6l3.6 -1.8zM177.6 78.5v3.6l3.6 -1.8zM178.2 79.2v3.6l3.6 -1.8zM178.8 79.0v3.6l3.6 -1.8zM179.4 79.4v3.6l3.6 -1.8zM180.1 79.5v3.6l3.6 -1.8zM180.7 80.2v3.6l3.6 -1.8zM181.3 80.8v3.6l3.6 -1.8zM181.9 80.4v3.6l3.6 -1.8zM182.5 80.9v3.6l3.6 -1.8zM183.2 81.3v3.6l3.6 -1.8zM183.8 81.7v3.6l3.6 -1.8zM184.4 81.9v3.6l3.6 -1.8zM185.0 82.2v3.6l3.6 -1.8zM185.6 82.5v3.6l3.6 -1.8zM186.3 83.1v3.6l3.6 -1.8zM186.9 83.1v3.6l3.6 -1.8zM187.5 83.8v3.6l3.6 -1.8zM188.1 83.8v3.6l3.6 -1.8zM188.7 83.9v3.6l3.6 -1.8zM189.4 84.3v3.6l3.6 -1.8zM190.0 84.5v3.6l3.6 -1.8zM190.6 85.0v3.6l3.6 -1.8zM191.2 85.4v3.6l3.6 -1.8zM191.8 85.6v3.6l3.6 -1.8zM192.5 85.8v3.6l3.6 -1.8zM193.1 86.1v3.6l3.6 -1.8zM193.7 86.5v3.6l3.6 -1.8zM194.3 86.8v3.6l3.6 -1.8zM194.9 87.1v3.6l3.6 -1.8zM195.6 87.3v3.6l3.6 -1.8zM196.2 87.2v3.6l3.6 -1.8zM196.8 87.9v3.6l3.6 -1.8zM197.4 88.4v3.6l3.6 -1.8zM198.0 88.5v3.6l3.6 -1.8zM198.7 88.7v3.6l3.6 -1.8zM199.3 89.0v3.6l3.6 -1.8zM199.9 89.3v3.6l3.6 -1.8zM200.5 89.7v3.6l3.6 -1.8zM201.1 90.0v3.6l3.6 -1.8zM201.8 90.3v3.6l3.6 -1.8zM202.4 90.4v3.6l3.6 -1.8zM203.0 90.9v3.6l3.6 -1.8zM203.6 91.1v3.6l3.6 -1.8zM204.2 91.4v3.6l3.6 -1.8zM204.9 91.5v3.6l3.6 -1.8zM205.5 91.9v3.6l3.6 -1.8zM206.1 92.1v3.6l3.6 -1.8zM206.7 92.4v3.6l3.6 -1.8zM207.3 92.7v3.6l3.6 -1.8zM208.0 93.2v3.6l3.6 -1.8zM208.6 93.2v3.6l3.6 -1.8zM209.2 93.8v3.6l3.6 -1.8zM209.8 93.9v3.6l3.6 -1.8zM210.4 93.8v3.6l3.6 -1.8zM211.1 94.4v3.6l3.6 -1.8zM211.7 94.7v3.6l3.6 -1.8zM212.3 95.0v3.6l3.6 -1.8zM212.9 95.4v3.6l3.6 -1.8zM213.5 95.5v3.6l3.6 -1.8zM214.2 96.0v3.6l3.6 -1.8zM214.8 96.0v3.6l3.6 -1.8zM215.4 96.4v3.6l3.6 -1.8zM216.0 96.9v3.6l3.6 -1.8zM216.6 96.8v3.6l3.6 -1.8zM217.3 97.1v3.6l3.6 -1.8zM217.9 97.4v3.6l3.6 -1.8zM218.5 97.8v3.6l3.6 -1.8zM219.1 97.9v3.6l3.6 -1.8zM219.7 98.2v3.6l3.6 -1.8zM220.4 98.3v3.6l3.6 -1.8zM221.0 98.5v3.6l3.6 -1.8zM221.6 98.9v3.6l3.6 -1.8zM222.2 99.4v3.6l3.6 -1.8zM222.8 99.4v3.6l3.6 -1.8zM223.5 99.6v3.6l3.6 -1.8zM224.1 99.8v3.6l3.6 -1.8zM224.7 100.3v3.6l3.6 -1.8zM225.3 100.3v3.6l3.6 -1.8zM225.9 101.1v3.6l3.6 -1.8zM226.6 100.7v3.6l3.6 -1.8zM227.2 101.5v3.6l3.6 -1.8zM227.8 101.5v3.6l3.6 -1.8zM228.4 101.7v3.6l3.6 -1.8zM229.0 102.0v3.6l3.6 -1.8zM229.7 102.3v3.6l3.6 -1.8zM230.3 102.6v3.6l3.6 -1.8zM230.9 102.7v3.6l3.6 -1.8zM231.5 103.1v3.6l3.6 -1.8zM232.1 103.2v3.6l3.6 -1.8zM232.8 103.3v3.6l3.6 -1.8zM233.4 103.8v3.6l3.6 -1.8zM234.0 104.0v3.6l3.6 -1.8zM234.6 104.1v3.6l3.6 -1.8zM235.2 104.4v3.6l3.6 -1.8zM235.9 104.8v3.6l3.6 -1.8zM236.5 105.0v3.6l3.6 -1.8zM237.1 105.0v3.6l3.6 -1.8zM237.7 105.4v3.6l3.6 -1.8zM238.3 105.5v3.6l3.6 -1.8zM239.0 106.0v3.6l3.6 -1.8zM239.6 106.3v3.6l3.6 -1.8zM240.2 106.5v3.6l3.6 -1.8zM240.8 106.5v3.6l3.6 -1.8zM241.4 106.7v3.6l3.6 -1.8zM242.1 106.7v3.6l3.6 -1.8zM242.7 107.4v3.6l3.6 -1.8zM243.3 107.5v3.6l3.6 -1.8zM243.9 107.7v3.6l3.6 -1.8zM244.5 107.8v3.6l3.6 -1.8zM245.2 108.1v3.6l3.6 -1.8zM245.8 108.4v3.6l3.6 -1.8zM246.4 108.6v3.6l3.6 -1.8zM247.0 108.6v3.6l3.6 -1.8zM247.6 109.2v3.6l3.6 -1.8zM248.3 109.2v3.6l3.6 -1.8zM248.9 109.3v3.6l3.6 -1.8zM249.5 109.8v3.6l3.6 -1.8zM250.1 110.0v3.6l3.6 -1.8zM250.7 110.5v3.6l3.6 -1.8zM251.4 110.5v3.6l3.6 -1.8zM252.0 110.6v3.6l3.6 -1.8zM252.6 110.9v3.6l3.6 -1.8zM253.2 111.2v3.6l3.6 -1.8zM253.8 111.5v3.6l3.6 -1.8zM254.5 111.3v3.6l3.6 -1.8zM255.1 111.7v3.6l3.6 -1.8zM255.7 111.9v3.6l3.6 -1.8zM256.3 112.2v3.6l3.6 -1.8zM256.9 112.3v3.6l3.6 -1.8zM257.6 112.6v3.6l3.6 -1.8zM258.2 112.8v3.6l3.6 -1.8zM258.8 113.1v3.6l3.6 -1.8zM259.4 113.3v3.6l3.6 -1.8zM260.0 113.3v3.6l3.6 -1.8zM260.7 113.4v3.6l3.6 -1.8zM261.3 114.0v3.6l3.6 -1.8zM261.9 113.9v3.6l3.6 -1.8zM262.5 114.4v3.6l3.6 -1.8zM263.1 114.3v3.6l3.6 -1.8zM263.8 114.8v3.6l3.6 -1.8zM264.4 114.9v3.6l3.6 -1.8zM265.0 115.1v3.6l3.6 -1.8zM265.6 115.3v3.6l3.6 -1.8zM266.2 115.5v3.6l3.6 -1.8zM266.9 115.6v3.6l3.6 -1.8zM267.5 115.6v3.6l3.6 -1.8zM268.1 116.1v3.6l3.6 -1.8zM268.7 116.4v3.6l3.6 -1.8zM269.3 116.3v3.6l3.6 -1.8zM270.0 116.6v3.6l3.6 -1.8zM270.6 116.7v3.6l3.6 -1.8zM271.2 117.1v3.6l3.6 -1.8zM271.8 117.2v3.6l3.6 -1.8zM272.4 117.6v3.6l3.6 -1.8zM273.1 117.8v3.6l3.6 -1.8zM273.7 117.8v3.6l3.6 -1.8zM274.3 117.9v3.6l3.6 -1.8zM274.9 118.3v3.6l3.6 -1.8zM275.5 118.3v3.6l3.6 -1.8zM276.2 118.8v3.6l3.6 -1.8zM276.8 118.7v3.6l3.6 -1.8zM277.4 118.7v3.6l3.6 -1.8zM278.0 119.2v3.6l3.6 -1.8zM278.6 119.2v3.6l3.6 -1.8zM279.3 119.5v3.6l3.6 -1.8zM279.9 119.7v3.6l3.6 -1.8zM280.5 120.1v3.6l3.6 -1.8zM281.1 120.2v3.6l3.6 -1.8zM281.7 120.1v3.6l3.6 -1.8zM282.4 120.4v3.6l3.6 -1.8zM283.0 120.6v3.6l3.6 -1.8zM283.6 120.7v3.6l3.6 -1.8zM284.2 120.9v3.6l3.6 -1.8zM284.8 121.1v3.6l3.6 -1.8zM285.5 121.3v3.6l3.6 -1.8zM286.1 121.6v3.6l3.6 -1.8zM286.7 121.5v3.6l3.6 -1.8zM287.3 121.7v3.6l3.6 -1.8zM287.9 122.1v3.6l3.6 -1.8zM288.6 121.9v3.6l3.6 -1.8zM289.2 122.6v3.6l3.6 -1.8zM289.8 122.3v3.6l3.6 -1.8zM290.4 122.9v3.6l3.6 -1.8zM291.0 122.6v3.6l3.6 -1.8zM291.7 122.9v3.6l3.6 -1.8zM292.3 123.3v3.6l3.6 -1.8zM292.9 123.5v3.6l3.6 -1.8zM293.5 123.3v3.6l3.6 -1.8zM294.1 123.7v3.6l3.6 -1.8zM294.8 123.8v3.6l3.6 -1.8zM295.4 123.8v3.6l3.6 -1.8zM296.0 124.2v3.6l3.6 -1.8zM296.6 124.1v3.6l3.6 -1.8zM297.2 124.5v3.6l3.6 -1.8zM297.9 124.5v3.6l3.6 -1.8zM298.5 124.8v3.6l3.6 -1.8zM299.1 125.0v3.6l3.6 -1.8zM299.7 125.4v3.6l3.6 -1.8zM300.3 125.3v3.6l3.6 -1.8zM301.0 125.3v3.6l3.6 -1.8zM301.6 125.8v3.6l3.6 -1.8zM302.2 125.6v3.6l3.6 -1.8zM302.8 125.6v3.6l3.6 -1.8zM303.4 126.2v3.6l3.6 -1.8zM304.1 126.1v3.6l3.6 -1.8zM304.7 126.4v3.6l3.6 -1.8zM305.3 126.4v3.6l3.6 -1.8zM305.9 126.8v3.6l3.6 -1.8zM306.5 126.5v3.6l3.6 -1.8zM307.2 127.3v3.6l3.6 -1.8zM307.8 127.4v3.6l3.6 -1.8zM308.4 126.8v3.6l3.6 -1.8zM309.0 127.4v3.6l3.6 -1.8zM309.6 126.9v3.6l3.6 -1.8zM310.3 127.2v3.6l3.6 -1.8zM310.9 127.8v3.6l3.6 -1.8zM311.5 127.8v3.6l3.6 -1.8zM312.1 127.8v3.6l3.6 -1.8zM312.7 128.0v3.6l3.6 -1.8zM313.4 128.7v3.6l3.6 -1.8zM314.0 128.7v3.6l3.6 -1.8zM314.6 128.8v3.6l3.6 -1.8zM315.2 129.5v3.6l3.6 -1.8zM315.8 128.4v3.6l3.6 -1.8zM316.5 129.0v3.6l3.6 -1.8zM317.1 128.8v3.6l3.6 -1.8zM317.7 129.4v3.6l3.6 -1.8zM318.3 129.1v3.6l3.6 -1.8zM318.9 129.7v3.6l3.6 -1.8zM319.6 129.8v3.6l3.6 -1.8zM320.2 129.4v3.6l3.6 -1.8zM320.8 129.4v3.6l3.6 -1.8zM321.4 129.9v3.6l3.6 -1.8zM322.0 130.5v3.6l3.6 -1.8zM322.7 129.8v3.6l3.6 -1.8zM323.3 130.4v3.6l3.6 -1.8zM323.9 130.7v3.6l3.6 -1.8zM324.5 130.1v3.6l3.6 -1.8zM325.1 130.8v3.6l3.6 -1.8zM325.8 131.1v3.6l3.6 -1.8zM326.4 131.3v3.6l3.6 -1.8zM327.0 130.8v3.6l3.6 -1.8zM327.6 130.7v3.6l3.6 -1.8zM328.2 130.4v3.6l3.6 -1.8zM328.9 130.8v3.6l3.6 -1.8zM329.5 131.6v3.6l3.6 -1.8zM330.1 130.9v3.6l3.6 -1.8zM330.7 132.0v3.6l3.6 -1.8zM331.3 132.5v3.6l3.6 -1.8zM332.0 131.9v3.6l3.6 -1.8zM332.6 131.1v3.6l3.6 -1.8zM333.2 131.6v3.6l3.6 -1.8zM333.8 133.1v3.6l3.6 -1.8zM334.4 132.4v3.6l3.6 -1.8zM335.1 131.3v3.6l3.6 -1.8zM335.7 133.3v3.6l3.6 -1.8zM336.3 132.2v3.6l3.6 -1.8zM336.9 132.5v3.6l3.6 -1.8zM337.5 132.6v3.6l3.6 -1.8zM338.2 133.2v3.6l3.6 -1.8zM338.8 132.9v3.6l3.6 -1.8zM339.4 132.7v3.6l3.6 -1.8zM340.0 131.7v3.6l3.6 -1.8zM340.6 132.5v3.6l3.6 -1.8zM341.3 133.9v3.6l3.6 -1.8zM341.9 133.8v3.6l3.6 -1.8zM342.5 134.2v3.6l3.6 -1.8zM343.1 132.8v3.6l3.6 -1.8zM343.7 134.1v3.6l3.6 -1.8zM344.4 134.9v3.6l3.6 -1.8zM345.0 134.2v3.6l3.6 -1.8zM345.6 135.7v3.6l3.6 -1.8zM346.2 136.4v3.6l3.6 -1.8zM346.8 135.6v3.6l3.6 -1.8zM347.5 133.5v3.6l3.6 -1.8zM348.1 133.9v3.6l3.6 -1.8zM348.7 135.5v3.6l3.6 -1.8zM349.3 134.9v3.6l3.6 -1.8zM349.9 133.8v3.6l3.6 -1.8zM350.6 134.5v3.6l3.6 -1.8zM351.2 134.0v3.6l3.6 -1.8zM351.8 134.9v3.6l3.6 -1.8zM352.4 135.6v3.6l3.6 -1.8zM353.0 134.9v3.6l3.6 -1.8zM353.7 134.5v3.6l3.6 -1.8zM354.3 135.5v3.6l3.6 -1.8zM354.9 135.1v3.6l3.6 -1.8zM355.5 136.2v3.6l3.6 -1.8zM356.1 135.0v3.6l3.6 -1.8zM356.8 137.5v3.6l3.6 -1.8zM357.4 135.3v3.6l3.6 -1.8zM358.0 136.2v3.6l3.6 -1.8zM358.6 134.6v3.6l3.6 -1.8zM359.2 137.0v3.6l3.6 -1.8zM359.9 137.1v3.6l3.6 -1.8zM360.5 138.3v3.6l3.6 -1.8zM361.1 133.4v3.6l3.6 -1.8zM361.7 136.2v3.6l3.6 -1.8zM362.3 136.3v3.6l3.6 -1.8zM363.0 135.9v3.6l3.6 -1.8zM363.6 139.2v3.6l3.6 -1.8zM364.2 137.3v3.6l3.6 -1.8zM364.8 136.2v3.6l3.6 -1.8zM365.4 135.8v3.6l3.6 -1.8zM366.1 135.5v3.6l3.6 -1.8zM366.7 138.2v3.6l3.6 -1.8zM367.3 138.2v3.6l3.6 -1.8zM367.9 136.5v3.6l3.6 -1.8zM368.5 139.8v3.6l3.6 -1.8zM369.2 137.4v3.6l3.6 -1.8zM369.8 136.0v3.6l3.6 -1.8zM370.4 136.5v3.6l3.6 -1.8zM371.0 136.0v3.6l3.6 -1.8zM371.6 137.5v3.6l3.6 -1.8zM372.3 136.5v3.6l3.6 -1.8zM372.9 136.0v3.6l3.6 -1.8zM373.5 136.8v3.6l3.6 -1.8zM374.1 138.8v3.6l3.6 -1.8zM374.7 136.5v3.6l3.6 -1.8zM375.4 139.1v3.6l3.6 -1.8zM376.0 138.2v3.6l3.6 -1.8zM376.6 135.2v3.6l3.6 -1.8zM377.2 136.3v3.6l3.6 -1.8zM377.8 140.6v3.6l3.6 -1.8zM378.5 138.9v3.6l3.6 -1.8zM379.1 136.8v3.6l3.6 -1.8zM379.7 140.3v3.6l3.6 -1.8zM380.3 136.2v3.6l3.6 -1.8zM380.9 141.7v3.6l3.6 -1.8zM54.3 177.3v3.4l3.4 -1.7zM55.2 206.3v3.4l3.4 -1.7zM56.6 211.4v3.4l3.4 -1.7zM57.8 171.7v3.4l3.4 -1.7zM59.1 211.4v3.4l3.4 -1.7zM60.1 190.9v3.4l3.4 -1.7zM61.2 206.3v3.4l3.4 -1.7zM62.8 183.4v3.4l3.4 -1.7zM64.2 197.4v3.4l3.4 -1.7zM65.1 179.7v3.4l3.4 -1.7zM66.7 211.4v3.4l3.4 -1.7zM67.4 173.5v3.4l3.4 -1.7zM68.1 195.5v3.4l3.4 -1.7zM69.1 202.6v3.4l3.4 -1.7zM70.4 199.7v3.4l3.4 -1.7zM71.0 188.6v3.4l3.4 -1.7zM73.3 206.3v3.4l3.4 -1.7zM74.7 211.4v3.4l3.4 -1.7zM76.0 176.9v3.4l3.4 -1.7z" fill="#ff4d00"/>
<path d="M72.7 319.7h4.1v4.1h-4.1zM73.3 308.4h4.1v4.1h-4.1zM73.6 302.7h4.1v4.1h-4.1zM74.0 297.2h4.1v4.1h-4.1zM74.4 291.9h4.1v4.1h-4.1zM74.9 286.2h4.1v4.1h-4.1zM75.4 280.7h4.1v4.1h-4.1zM76.0 274.6h4.1v4.1h-4.1zM76.6 269.4h4.1v4.1h-4.1zM77.3 264.5h4.1v4.1h-4.1zM77.9 259.9h4.1v4.1h-4.1zM78.5 256.3h4.1v4.1h-4.1zM79.1 252.0h4.1v4.1h-4.1zM79.7 248.8h4.1v4.1h-4.1zM80.4 245.3h4.1v4.1h-4.1zM81.0 242.6h4.1v4.1h-4.1zM81.6 239.9h4.1v4.1h-4.1zM82.2 237.6h4.1v4.1h-4.1zM82.8 234.6h4.1v4.1h-4.1zM83.5 233.5h4.1v4.1h-4.1zM84.1 231.8h4.1v4.1h-4.1zM84.7 230.0h4.1v4.1h-4.1zM85.3 227.9h4.1v4.1h-4.1zM85.9 227.2h4.1v4.1h-4.1zM86.6 224.9h4.1v4.1h-4.1zM87.2 224.7h4.1v4.1h-4.1zM87.8 222.7h4.1v4.1h-4.1zM88.4 221.7h4.1v4.1h-4.1zM89.0 220.4h4.1v4.1h-4.1zM89.7 219.5h4.1v4.1h-4.1zM90.3 218.6h4.1v4.1h-4.1zM90.9 217.6h4.1v4.1h-4.1zM91.5 216.7h4.1v4.1h-4.1zM92.1 215.8h4.1v4.1h-4.1zM92.8 215.8h4.1v4.1h-4.1zM93.4 214.6h4.1v4.1h-4.1zM94.0 214.0h4.1v4.1h-4.1zM94.6 213.4h4.1v4.1h-4.1zM95.2 212.1h4.1v4.1h-4.1zM95.9 211.9h4.1v4.1h-4.1zM96.5 211.4h4.1v4.1h-4.1zM97.1 210.7h4.1v4.1h-4.1zM97.7 209.7h4.1v4.1h-4.1zM98.3 209.8h4.1v4.1h-4.1zM99.0 209.1h4.1v4.1h-4.1zM99.6 208.9h4.1v4.1h-4.1zM100.2 207.7h4.1v4.1h-4.1zM100.8 207.3h4.1v4.1h-4.1zM101.4 207.3h4.1v4.1h-4.1zM102.1 206.6h4.1v4.1h-4.1zM102.7 206.0h4.1v4.1h-4.1zM103.3 205.8h4.1v4.1h-4.1zM103.9 205.6h4.1v4.1h-4.1zM104.5 205.2h4.1v4.1h-4.1zM105.2 204.5h4.1v4.1h-4.1zM105.8 204.4h4.1v4.1h-4.1zM106.4 204.0h4.1v4.1h-4.1zM107.0 203.6h4.1v4.1h-4.1zM107.6 203.3h4.1v4.1h-4.1zM108.3 203.2h4.1v4.1h-4.1zM108.9 203.0h4.1v4.1h-4.1zM109.5 202.8h4.1v4.1h-4.1zM110.1 202.5h4.1v4.1h-4.1zM110.7 202.2h4.1v4.1h-4.1zM111.4 201.9h4.1v4.1h-4.1zM112.0 201.5h4.1v4.1h-4.1zM112.6 201.3h4.1v4.1h-4.1zM113.2 202.0h4.1v4.1h-4.1zM113.8 201.2h4.1v4.1h-4.1zM114.5 201.9h4.1v4.1h-4.1zM115.1 200.6h4.1v4.1h-4.1zM115.7 201.0h4.1v4.1h-4.1zM116.3 201.6h4.1v4.1h-4.1zM116.9 201.2h4.1v4.1h-4.1zM117.6 201.4h4.1v4.1h-4.1zM118.2 201.4h4.1v4.1h-4.1zM118.8 201.3h4.1v4.1h-4.1zM119.4 201.2h4.1v4.1h-4.1zM120.0 200.9h4.1v4.1h-4.1zM120.7 201.5h4.1v4.1h-4.1zM121.3 201.0h4.1v4.1h-4.1zM121.9 201.1h4.1v4.1h-4.1zM122.5 201.4h4.1v4.1h-4.1zM123.1 201.3h4.1v4.1h-4.1zM123.8 201.5h4.1v4.1h-4.1zM124.4 201.6h4.1v4.1h-4.1zM125.0 201.6h4.1v4.1h-4.1zM125.6 201.6h4.1v4.1h-4.1zM126.2 201.3h4.1v4.1h-4.1zM126.9 202.3h4.1v4.1h-4.1zM127.5 201.7h4.1v4.1h-4.1zM128.1 202.2h4.1v4.1h-4.1zM128.7 202.2h4.1v4.1h-4.1zM129.3 202.0h4.1v4.1h-4.1zM130.0 202.5h4.1v4.1h-4.1zM130.6 203.0h4.1v4.1h-4.1zM131.2 202.8h4.1v4.1h-4.1zM131.8 203.0h4.1v4.1h-4.1zM132.4 203.1h4.1v4.1h-4.1zM133.1 203.2h4.1v4.1h-4.1zM133.7 203.1h4.1v4.1h-4.1zM134.3 203.8h4.1v4.1h-4.1zM134.9 203.7h4.1v4.1h-4.1zM135.5 204.4h4.1v4.1h-4.1zM136.2 204.4h4.1v4.1h-4.1zM136.8 204.8h4.1v4.1h-4.1zM137.4 204.9h4.1v4.1h-4.1zM138.0 204.9h4.1v4.1h-4.1zM138.6 205.0h4.1v4.1h-4.1zM139.3 205.9h4.1v4.1h-4.1zM139.9 205.7h4.1v4.1h-4.1zM140.5 206.1h4.1v4.1h-4.1zM141.1 206.5h4.1v4.1h-4.1zM141.7 206.8h4.1v4.1h-4.1zM142.4 206.5h4.1v4.1h-4.1zM143.0 207.0h4.1v4.1h-4.1zM143.6 207.0h4.1v4.1h-4.1zM144.2 207.4h4.1v4.1h-4.1zM144.8 207.9h4.1v4.1h-4.1zM145.5 207.9h4.1v4.1h-4.1zM146.1 208.3h4.1v4.1h-4.1zM146.7 208.2h4.1v4.1h-4.1zM147.3 208.1h4.1v4.1h-4.1zM147.9 209.1h4.1v4.1h-4.1zM148.6 209.0h4.1v4.1h-4.1zM149.2 209.6h4.1v4.1h-4.1zM149.8 209.7h4.1v4.1h-4.1zM150.4 210.0h4.1v4.1h-4.1zM151.0 210.5h4.1v4.1h-4.1zM151.7 210.4h4.1v4.1h-4.1zM152.3 210.5h4.1v4.1h-4.1zM152.9 210.6h4.1v4.1h-4.1zM153.5 211.5h4.1v4.1h-4.1zM154.1 211.8h4.1v4.1h-4.1zM154.8 211.3h4.1v4.1h-4.1zM155.4 212.1h4.1v4.1h-4.1zM156.0 212.3h4.1v4.1h-4.1zM156.6 212.9h4.1v4.1h-4.1zM157.2 212.6h4.1v4.1h-4.1zM157.9 213.3h4.1v4.1h-4.1zM158.5 213.6h4.1v4.1h-4.1zM159.1 213.7h4.1v4.1h-4.1zM159.7 214.1h4.1v4.1h-4.1zM160.3 214.4h4.1v4.1h-4.1zM161.0 214.4h4.1v4.1h-4.1zM161.6 215.0h4.1v4.1h-4.1zM162.2 215.4h4.1v4.1h-4.1zM162.8 215.5h4.1v4.1h-4.1zM163.4 215.4h4.1v4.1h-4.1zM164.1 216.0h4.1v4.1h-4.1zM164.7 216.5h4.1v4.1h-4.1zM165.3 216.4h4.1v4.1h-4.1zM165.9 216.8h4.1v4.1h-4.1zM166.5 216.8h4.1v4.1h-4.1zM167.2 217.0h4.1v4.1h-4.1zM167.8 217.9h4.1v4.1h-4.1zM168.4 218.0h4.1v4.1h-4.1zM169.0 218.3h4.1v4.1h-4.1zM169.6 218.7h4.1v4.1h-4.1zM170.3 219.0h4.1v4.1h-4.1zM170.9 219.1h4.1v4.1h-4.1zM171.5 219.1h4.1v4.1h-4.1zM172.1 220.0h4.1v4.1h-4.1zM172.7 219.8h4.1v4.1h-4.1zM173.4 220.8h4.1v4.1h-4.1zM174.0 220.8h4.1v4.1h-4.1zM174.6 221.3h4.1v4.1h-4.1zM175.2 221.7h4.1v4.1h-4.1zM175.8 221.7h4.1v4.1h-4.1zM176.5 222.2h4.1v4.1h-4.1zM177.1 222.6h4.1v4.1h-4.1zM177.7 222.6h4.1v4.1h-4.1zM178.3 222.8h4.1v4.1h-4.1zM178.9 223.4h4.1v4.1h-4.1zM179.6 223.9h4.1v4.1h-4.1zM180.2 223.7h4.1v4.1h-4.1zM180.8 224.6h4.1v4.1h-4.1zM181.4 225.1h4.1v4.1h-4.1zM182.0 225.2h4.1v4.1h-4.1zM182.7 225.2h4.1v4.1h-4.1zM183.3 226.1h4.1v4.1h-4.1zM183.9 225.9h4.1v4.1h-4.1zM184.5 226.5h4.1v4.1h-4.1zM185.1 226.7h4.1v4.1h-4.1zM185.8 227.2h4.1v4.1h-4.1zM186.4 227.4h4.1v4.1h-4.1zM187.0 227.5h4.1v4.1h-4.1zM187.6 227.8h4.1v4.1h-4.1zM188.2 228.1h4.1v4.1h-4.1zM188.9 228.9h4.1v4.1h-4.1zM189.5 229.0h4.1v4.1h-4.1zM190.1 229.4h4.1v4.1h-4.1zM190.7 229.5h4.1v4.1h-4.1zM191.3 229.7h4.1v4.1h-4.1zM192.0 230.2h4.1v4.1h-4.1zM192.6 230.6h4.1v4.1h-4.1zM193.2 231.1h4.1v4.1h-4.1zM193.8 231.1h4.1v4.1h-4.1zM194.4 231.8h4.1v4.1h-4.1zM195.1 232.3h4.1v4.1h-4.1zM195.7 232.6h4.1v4.1h-4.1zM196.3 232.7h4.1v4.1h-4.1zM196.9 232.7h4.1v4.1h-4.1zM197.5 233.5h4.1v4.1h-4.1zM198.2 233.6h4.1v4.1h-4.1zM198.8 234.0h4.1v4.1h-4.1zM199.4 234.7h4.1v4.1h-4.1zM200.0 234.7h4.1v4.1h-4.1zM200.6 235.4h4.1v4.1h-4.1zM201.3 235.4h4.1v4.1h-4.1zM201.9 235.7h4.1v4.1h-4.1zM202.5 236.4h4.1v4.1h-4.1zM203.1 236.7h4.1v4.1h-4.1zM203.7 236.5h4.1v4.1h-4.1zM204.4 237.6h4.1v4.1h-4.1zM205.0 237.9h4.1v4.1h-4.1zM205.6 238.3h4.1v4.1h-4.1zM206.2 238.1h4.1v4.1h-4.1zM206.8 238.7h4.1v4.1h-4.1zM207.5 239.1h4.1v4.1h-4.1zM208.1 239.2h4.1v4.1h-4.1zM208.7 240.1h4.1v4.1h-4.1zM209.3 240.0h4.1v4.1h-4.1zM209.9 240.3h4.1v4.1h-4.1zM210.6 240.9h4.1v4.1h-4.1zM211.2 241.4h4.1v4.1h-4.1zM211.8 241.6h4.1v4.1h-4.1zM212.4 242.1h4.1v4.1h-4.1zM213.0 242.5h4.1v4.1h-4.1zM213.7 242.7h4.1v4.1h-4.1zM214.3 243.3h4.1v4.1h-4.1zM214.9 243.1h4.1v4.1h-4.1zM215.5 244.4h4.1v4.1h-4.1zM216.1 244.3h4.1v4.1h-4.1zM216.8 244.9h4.1v4.1h-4.1zM217.4 245.1h4.1v4.1h-4.1zM218.0 245.3h4.1v4.1h-4.1zM218.6 245.6h4.1v4.1h-4.1zM219.2 246.1h4.1v4.1h-4.1zM219.9 246.3h4.1v4.1h-4.1zM220.5 246.6h4.1v4.1h-4.1zM221.1 247.3h4.1v4.1h-4.1zM221.7 247.5h4.1v4.1h-4.1zM222.3 247.9h4.1v4.1h-4.1zM223.0 248.0h4.1v4.1h-4.1zM223.6 248.5h4.1v4.1h-4.1zM224.2 249.0h4.1v4.1h-4.1zM224.8 249.9h4.1v4.1h-4.1zM225.4 249.5h4.1v4.1h-4.1zM226.1 250.4h4.1v4.1h-4.1zM226.7 250.6h4.1v4.1h-4.1zM227.3 251.1h4.1v4.1h-4.1zM227.9 251.4h4.1v4.1h-4.1zM228.5 252.0h4.1v4.1h-4.1zM229.2 251.9h4.1v4.1h-4.1zM229.8 252.2h4.1v4.1h-4.1zM230.4 252.7h4.1v4.1h-4.1zM231.0 252.9h4.1v4.1h-4.1zM231.6 253.5h4.1v4.1h-4.1zM232.3 253.9h4.1v4.1h-4.1zM232.9 254.1h4.1v4.1h-4.1zM233.5 254.5h4.1v4.1h-4.1zM234.1 255.0h4.1v4.1h-4.1zM234.7 255.4h4.1v4.1h-4.1zM235.4 256.0h4.1v4.1h-4.1zM236.0 256.6h4.1v4.1h-4.1zM236.6 256.4h4.1v4.1h-4.1zM237.2 256.7h4.1v4.1h-4.1zM237.8 257.0h4.1v4.1h-4.1zM238.5 257.2h4.1v4.1h-4.1zM239.1 257.7h4.1v4.1h-4.1zM239.7 258.2h4.1v4.1h-4.1zM240.3 258.6h4.1v4.1h-4.1zM240.9 258.5h4.1v4.1h-4.1zM241.6 259.3h4.1v4.1h-4.1zM242.2 259.7h4.1v4.1h-4.1zM242.8 260.1h4.1v4.1h-4.1zM243.4 260.5h4.1v4.1h-4.1zM244.0 260.4h4.1v4.1h-4.1zM244.7 261.0h4.1v4.1h-4.1zM245.3 261.7h4.1v4.1h-4.1zM245.9 261.6h4.1v4.1h-4.1zM246.5 262.3h4.1v4.1h-4.1zM247.1 262.7h4.1v4.1h-4.1zM247.8 262.8h4.1v4.1h-4.1zM248.4 263.3h4.1v4.1h-4.1zM249.0 263.3h4.1v4.1h-4.1zM249.6 264.3h4.1v4.1h-4.1zM250.2 264.5h4.1v4.1h-4.1zM250.9 264.5h4.1v4.1h-4.1zM251.5 265.5h4.1v4.1h-4.1zM252.1 265.8h4.1v4.1h-4.1zM252.7 266.1h4.1v4.1h-4.1zM253.3 266.1h4.1v4.1h-4.1zM254.0 266.2h4.1v4.1h-4.1zM254.6 266.9h4.1v4.1h-4.1zM255.2 267.5h4.1v4.1h-4.1zM255.8 267.4h4.1v4.1h-4.1zM256.4 267.8h4.1v4.1h-4.1zM257.1 268.3h4.1v4.1h-4.1zM257.7 268.8h4.1v4.1h-4.1zM258.3 269.3h4.1v4.1h-4.1zM258.9 269.7h4.1v4.1h-4.1zM259.5 269.7h4.1v4.1h-4.1zM260.2 270.1h4.1v4.1h-4.1zM260.8 270.3h4.1v4.1h-4.1zM261.4 270.5h4.1v4.1h-4.1zM262.0 270.8h4.1v4.1h-4.1zM262.6 271.4h4.1v4.1h-4.1zM263.3 272.2h4.1v4.1h-4.1zM263.9 272.7h4.1v4.1h-4.1zM264.5 272.5h4.1v4.1h-4.1zM265.1 273.0h4.1v4.1h-4.1zM265.7 273.1h4.1v4.1h-4.1zM266.4 273.0h4.1v4.1h-4.1zM267.0 274.2h4.1v4.1h-4.1zM267.6 274.4h4.1v4.1h-4.1zM268.2 274.6h4.1v4.1h-4.1zM268.8 275.0h4.1v4.1h-4.1zM269.5 275.4h4.1v4.1h-4.1zM270.1 276.4h4.1v4.1h-4.1zM270.7 276.3h4.1v4.1h-4.1zM271.3 276.4h4.1v4.1h-4.1zM271.9 276.1h4.1v4.1h-4.1zM272.6 277.6h4.1v4.1h-4.1zM273.2 277.3h4.1v4.1h-4.1zM273.8 277.5h4.1v4.1h-4.1zM274.4 278.0h4.1v4.1h-4.1zM275.0 277.9h4.1v4.1h-4.1zM275.7 278.8h4.1v4.1h-4.1zM276.3 278.4h4.1v4.1h-4.1zM276.9 278.5h4.1v4.1h-4.1zM277.5 279.8h4.1v4.1h-4.1zM278.1 280.1h4.1v4.1h-4.1zM278.8 280.2h4.1v4.1h-4.1zM279.4 280.0h4.1v4.1h-4.1zM280.0 280.1h4.1v4.1h-4.1zM280.6 280.7h4.1v4.1h-4.1zM281.2 281.0h4.1v4.1h-4.1zM281.9 281.5h4.1v4.1h-4.1zM282.5 282.8h4.1v4.1h-4.1zM283.1 282.5h4.1v4.1h-4.1zM283.7 282.9h4.1v4.1h-4.1zM284.3 282.5h4.1v4.1h-4.1zM285.0 283.3h4.1v4.1h-4.1zM285.6 283.2h4.1v4.1h-4.1zM286.2 282.8h4.1v4.1h-4.1zM286.8 284.1h4.1v4.1h-4.1zM287.4 284.3h4.1v4.1h-4.1zM288.1 285.2h4.1v4.1h-4.1zM288.7 284.9h4.1v4.1h-4.1zM289.3 285.8h4.1v4.1h-4.1zM289.9 286.2h4.1v4.1h-4.1zM290.5 285.6h4.1v4.1h-4.1zM291.2 285.8h4.1v4.1h-4.1zM291.8 286.2h4.1v4.1h-4.1zM292.4 287.3h4.1v4.1h-4.1zM293.0 286.7h4.1v4.1h-4.1zM293.6 286.2h4.1v4.1h-4.1zM294.3 287.7h4.1v4.1h-4.1zM294.9 288.1h4.1v4.1h-4.1zM295.5 288.9h4.1v4.1h-4.1zM296.1 288.0h4.1v4.1h-4.1zM296.7 288.7h4.1v4.1h-4.1zM297.4 289.0h4.1v4.1h-4.1zM298.0 288.7h4.1v4.1h-4.1zM298.6 289.9h4.1v4.1h-4.1zM299.2 289.5h4.1v4.1h-4.1zM299.8 289.7h4.1v4.1h-4.1zM300.5 289.3h4.1v4.1h-4.1zM301.1 289.9h4.1v4.1h-4.1zM301.7 290.5h4.1v4.1h-4.1zM302.3 292.0h4.1v4.1h-4.1zM302.9 291.3h4.1v4.1h-4.1zM303.6 292.5h4.1v4.1h-4.1zM304.2 291.1h4.1v4.1h-4.1zM304.8 292.8h4.1v4.1h-4.1zM305.4 292.8h4.1v4.1h-4.1zM306.0 292.0h4.1v4.1h-4.1zM306.7 293.0h4.1v4.1h-4.1zM307.3 293.7h4.1v4.1h-4.1zM307.9 293.1h4.1v4.1h-4.1zM308.5 293.3h4.1v4.1h-4.1zM309.1 294.9h4.1v4.1h-4.1zM309.8 291.7h4.1v4.1h-4.1zM310.4 294.5h4.1v4.1h-4.1zM311.0 293.5h4.1v4.1h-4.1zM311.6 296.0h4.1v4.1h-4.1zM312.2 296.4h4.1v4.1h-4.1zM312.9 294.7h4.1v4.1h-4.1zM313.5 295.4h4.1v4.1h-4.1zM314.1 296.7h4.1v4.1h-4.1zM314.7 295.8h4.1v4.1h-4.1zM315.3 295.9h4.1v4.1h-4.1zM316.0 298.5h4.1v4.1h-4.1zM316.6 295.0h4.1v4.1h-4.1zM317.2 296.6h4.1v4.1h-4.1zM317.8 297.1h4.1v4.1h-4.1zM318.4 297.7h4.1v4.1h-4.1zM319.1 298.3h4.1v4.1h-4.1zM319.7 296.2h4.1v4.1h-4.1zM320.3 299.5h4.1v4.1h-4.1zM320.9 299.1h4.1v4.1h-4.1zM321.5 299.2h4.1v4.1h-4.1zM322.2 296.4h4.1v4.1h-4.1zM322.8 298.4h4.1v4.1h-4.1zM323.4 299.0h4.1v4.1h-4.1zM324.0 299.4h4.1v4.1h-4.1zM324.6 300.9h4.1v4.1h-4.1zM325.3 300.0h4.1v4.1h-4.1zM325.9 299.9h4.1v4.1h-4.1zM326.5 300.1h4.1v4.1h-4.1zM327.1 303.5h4.1v4.1h-4.1zM327.7 302.2h4.1v4.1h-4.1zM328.4 300.8h4.1v4.1h-4.1zM329.0 300.5h4.1v4.1h-4.1zM329.6 302.4h4.1v4.1h-4.1zM330.2 301.7h4.1v4.1h-4.1zM330.8 302.1h4.1v4.1h-4.1zM331.5 302.6h4.1v4.1h-4.1zM332.1 301.7h4.1v4.1h-4.1zM332.7 301.3h4.1v4.1h-4.1zM333.3 303.3h4.1v4.1h-4.1zM333.9 303.5h4.1v4.1h-4.1zM334.6 303.1h4.1v4.1h-4.1zM335.2 304.0h4.1v4.1h-4.1zM335.8 301.5h4.1v4.1h-4.1zM336.4 299.6h4.1v4.1h-4.1zM337.0 303.0h4.1v4.1h-4.1zM337.7 304.9h4.1v4.1h-4.1zM338.3 303.8h4.1v4.1h-4.1zM338.9 304.2h4.1v4.1h-4.1zM339.5 303.2h4.1v4.1h-4.1zM340.1 303.9h4.1v4.1h-4.1zM340.8 304.9h4.1v4.1h-4.1zM341.4 303.1h4.1v4.1h-4.1zM342.0 303.2h4.1v4.1h-4.1zM342.6 306.6h4.1v4.1h-4.1zM343.2 304.4h4.1v4.1h-4.1zM343.9 304.1h4.1v4.1h-4.1zM344.5 305.2h4.1v4.1h-4.1zM345.1 302.9h4.1v4.1h-4.1zM345.7 302.4h4.1v4.1h-4.1zM346.3 301.7h4.1v4.1h-4.1zM347.0 307.0h4.1v4.1h-4.1zM347.6 306.4h4.1v4.1h-4.1zM348.2 302.6h4.1v4.1h-4.1zM348.8 307.4h4.1v4.1h-4.1zM349.4 306.6h4.1v4.1h-4.1zM350.1 307.7h4.1v4.1h-4.1zM350.7 307.4h4.1v4.1h-4.1zM351.3 305.1h4.1v4.1h-4.1zM351.9 306.8h4.1v4.1h-4.1zM352.5 305.2h4.1v4.1h-4.1zM353.2 306.2h4.1v4.1h-4.1zM353.8 307.2h4.1v4.1h-4.1zM354.4 308.3h4.1v4.1h-4.1zM355.0 308.2h4.1v4.1h-4.1zM355.6 306.7h4.1v4.1h-4.1zM356.3 308.5h4.1v4.1h-4.1zM356.9 308.8h4.1v4.1h-4.1zM357.5 307.8h4.1v4.1h-4.1zM358.1 312.2h4.1v4.1h-4.1zM358.7 310.5h4.1v4.1h-4.1zM359.4 309.4h4.1v4.1h-4.1zM360.0 309.6h4.1v4.1h-4.1zM360.6 310.0h4.1v4.1h-4.1zM361.2 309.3h4.1v4.1h-4.1zM361.8 310.1h4.1v4.1h-4.1zM362.5 303.9h4.1v4.1h-4.1zM363.1 310.3h4.1v4.1h-4.1zM363.7 309.1h4.1v4.1h-4.1zM364.3 307.4h4.1v4.1h-4.1zM364.9 314.2h4.1v4.1h-4.1zM365.6 309.8h4.1v4.1h-4.1zM366.2 312.9h4.1v4.1h-4.1zM366.8 306.3h4.1v4.1h-4.1zM367.4 307.5h4.1v4.1h-4.1zM368.0 311.1h4.1v4.1h-4.1zM368.7 306.0h4.1v4.1h-4.1zM369.3 309.9h4.1v4.1h-4.1zM369.9 310.4h4.1v4.1h-4.1zM370.5 309.9h4.1v4.1h-4.1zM371.1 304.4h4.1v4.1h-4.1zM371.8 313.6h4.1v4.1h-4.1zM372.4 310.8h4.1v4.1h-4.1zM373.0 312.6h4.1v4.1h-4.1zM373.6 309.8h4.1v4.1h-4.1zM374.2 310.5h4.1v4.1h-4.1zM374.9 308.8h4.1v4.1h-4.1zM375.5 310.7h4.1v4.1h-4.1zM376.1 311.0h4.1v4.1h-4.1zM376.7 308.4h4.1v4.1h-4.1zM377.3 310.6h4.1v4.1h-4.1zM378.0 307.2h4.1v4.1h-4.1zM378.6 307.6h4.1v4.1h-4.1zM379.2 307.7h4.1v4.1h-4.1zM379.8 307.0h4.1v4.1h-4.1zM380.4 310.3h4.1v4.1h-4.1zM60.0 260.5h3.9v3.9h-3.9zM66.2 264.2h3.9v3.9h-3.9zM69.9 270.9h3.9v3.9h-3.9zM58.3 247.9h3.9v3.9h-3.9zM54.5 260.0h3.9v3.9h-3.9zM63.7 259.9h3.9v3.9h-3.9zM54.5 274.0h3.9v3.9h-3.9z" fill="#aaff00"/>
<path d="M75.3 321.7a1.65 1.65 0 1 0 3.3 0a1.65 1.65 0 1 0 -3.3 0zM75.9 318.1a1.65 1.65 0 1 0 3.3 0a1.65 1.65 0 1 0 -3.3 0zM76.5 312.6a1.65 1.65 0 1 0 3.3 0a1.65 1.65 0 1 0 -3.3 0zM77.1 305.3a1.65 1.65 0 1 0 3.3 0a1.65 1.65 0 1 0 -3.3 0zM77.5 298.1a1.65 1.65 0 1 0 3.3 0a1.65 1.65 0 1 0 -3.3 0zM77.8 292.4a1.65 1.65 0 1 0 3.3 0a1.65 1.65 0 1 0 -3.3 0zM78.2 287.0a1.65 1.65 0 1 0 3.3 0a1.65 1.65 0 1 0 -3.3 0zM78.6 281.4a1.65 1.65 0 1 0 3.3 0a1.65 1.65 0 1 0 -3.3 0zM79.1 276.4a1.65 1.65 0 1 0 3.3 0a1.65 1.65 0 1 0 -3.3 0zM79.7 271.8a1.65 1.65 0 1 0 3.3 0a1.65 1.65 0 1 0 -3.3 0zM80.3 267.6a1.65 1.65 0 1 0 3.3 0a1.65 1.65 0 1 0 -3.3 0zM81.0 264.8a1.65 1.65 0 1 0 3.3 0a1.65 1.65 0 1 0 -3.3 0zM81.6 261.7a1.65 1.65 0 1 0 3.3 0a1.65 1.65 0 1 0 -3.3 0zM82.2 259.7a1.65 1.65 0 1 0 3.3 0a1.65 1.65 0 1 0 -3.3 0zM82.8 257.5a1.65 1.65 0 1 0 3.3 0a1.65 1.65 0 1 0 -3.3 0zM83.4 255.4a1.65 1.65 0 1 0 3.3 0a1.65 1.65 0 1 0 -3.3 0zM84.1 253.6a1.65 1.65 0 1 0 3.3 0a1.65 1.65 0 1 0 -3.3 0zM84.7 251.5a1.65 1.65 0 1 0 3.3 0a1.65 1.65 0 1 0 -3.3 0zM85.3 250.3a1.65 1.65 0 1 0 3.3 0a1.65 1.65 0 1 0 -3.3 0zM85.9 249.0a1.65 1.65 0 1 0 3.3 0a1.65 1.65 0 1 0 -3.3 0zM86.5 247.0a1.65 1.65 0 1 0 3.3 0a1.65 1.65 0 1 0 -3.3 0zM87.2 245.8a1.65 1.65 0 1 0 3.3 0a1.65 1.65 0 1 0 -3.3 0zM87.8 245.0a1.65 1.65 0 1 0 3.3 0a1.65 1.65 0 1 0 -3.3 0zM88.4 243.7a1.65 1.65 0 1 0 3.3 0a1.65 1.65 0 1 0 -3.3 0zM89.0 242.8a1.65 1.65 0 1 0 3.3 0a1.65 1.65 0 1 0 -3.3 0zM89.6 241.7a1.65 1.65 0 1 0 3.3 0a1.65 1.65 0 1 0 -3.3 0zM90.3 240.6a1.65 1.65 0 1 0 3.3 0a1.65 1.65 0 1 0 -3.3 0zM90.9 239.6a1.65 1.65 0 1 0 3.3 0a1.65 1.65 0 1 0 -3.3 0zM91.5 238.9a1.65 1.65 0 1 0 3.3 0a1.65 1.65 0 1 0 -3.3 0zM92.1 238.1a1.65 1.65 0 1 0 3.3 0a1.65 1.65 0 1 0 -3.3 0zM92.7 237.2a1.65 1.65 0 1 0 3.3 0a1.65 1.65 0 1 0 -3.3 0zM93.4 237.0a1.65 1.65 0 1 0 3.3 0a1.65 1.65 0 1 0 -3.3 0zM94.0 235.9a1.65 1.65 0 1 0 3.3 0a1.65 1.65 0 1 0 -3.3 0zM94.6 235.0a1.65 1.65 0 1 0 3.3 0a1.65 1.65 0 1 0 -3.3 0zM95.2 234.6a1.65 1.65 0 1 0 3.3 0a1.65 1.65 0 1 0 -3.3 0zM95.8 234.2a1.65 1.65 0 1 0 3.3 0a1.65 1.65 0 1 0 -3.3 0zM96.5 233.3a1.65 1.65 0 1 0 3.3 0a1.65 1.65 0 1 0 -3.3 0zM97.1 232.8a1.65 1.65 0 1 0 3.3 0a1.65 1.65 0 1 0 -3.3 0zM97.7 232.6a1.65 1.65 0 1 0 3.3 0a1.65 1.65 0 1 0 -3.3 0zM98.3 231.9a1.65 1.65 0 1 0 3.3 0a1.65 1.65 0 1 0 -3.3 0zM98.9 231.3a1.65 1.65 0 1 0 3.3 0a1.65 1.65 0 1 0 -3.3 0zM99.6 230.8a1.65 1.65 0 1 0 3.3 0a1.65 1.65 0 1 0 -3.3 0zM100.2 230.4a1.65 1.65 0 1 0 3.3 0a1.65 1.65 0 1 0 -3.3 0zM100.8 230.0a1.65 1.65 0 1 0 3.3 0a1.65 1.65 0 1 0 -3.3 0zM101.4 229.4a1.65 1.65 0 1 0 3.3 0a1.65 1.65 0 1 0 -3.3 0zM102.0 229.1a1.65 1.65 0 1 0 3.3 0a1.65 1.65 0 1 0 -3.3 0zM102.7 228.9a1.65 1.65 0 1 0 3.3 0a1.65 1.65 0 1 0 -3.3 0zM103.3 228.4a1.65 1.65 0 1 0 3.3 0a1.65 1.65 0 1 0 -3.3 0zM103.9 228.1a1.65 1.65 0 1 0 3.3 0a1.65 1.65 0 1 0 -3.3 0zM104.5 227.6a1.65 1.65 0 1 0 3.3 0a1.65 1.65 0 1 0 -3.3 0zM105.1 227.7a1.65 1.65 0 1 0 3.3 0a1.65 1.65 0 1 0 -3.3 0zM105.8 227.1a1.65 1.65 0 1 0 3.3 0a1.65 1.65 0 1 0 -3.3 0zM106.4 227.0a1.65 1.65 0 1 0 3.3 0a1.65 1.65 0 1 0 -3.3 0zM107.0 226.9a1.65 1.65 0 1 0 3.3 0a1.65 1.65 0 1 0 -3.3 0zM107.6 226.5a1.65 1.65 0 1 0 3.3 0a1.65 1.65 0 1 0 -3.3 0zM108.2 226.2a1.65 1.65 0 1 0 3.3 0a1.65 1.65 0 1 0 -3.3 0zM108.9 225.9a1.65 1.65 0 1 0 3.3 0a1.65 1.65 0 1 0 -3.3 0zM109.5 225.9a1.65 1.65 0 1 0 3.3 0a1.65 1.65 0 1 0 -3.3 0zM110.1 225.6a1.65 1.65 0 1 0 3.3 0a1.65 1.65 0 1 0 -3.3 0zM110.7 225.5a1.65 1.65 0 1 0 3.3 0a1.65 1.65 0 1 0 -3.3 0zM111.3 224.9a1.65 1.65 0 1 0 3.3 0a1.65 1.65 0 1 0 -3.3 0zM112.0 224.8a1.65 1.65 0 1 0 3.3 0a1.65 1.65 0 1 0 -3.3 0zM112.6 224.9a1.65 1.65 0 1 0 3.3 0a1.65 1.65 0 1 0 -3.3 0zM113.2 224.7a1.65 1.65 0 1 0 3.3 0a1.65 1.65 0 1 0 -3.3 0zM113.8 224.8a1.65 1.65 0 1 0 3.3 0a1.65 1.65 0 1 0 -3.3 0zM114.4 224.4a1.65 1.65 0 1 0 3.3 0a1.65 1.65 0 1 0 -3.3 0zM115.1 224.3a1.65 1.65 0 1 0 3.3 0a1.65 1.65 0 1 0 -3.3 0zM115.7 224.1a1.65 1.65 0 1 0 3.3 0a1.65 1.65 0 1 0 -3.3 0zM116.3 224.2a1.65 1.65 0 1 0 3.3 0a1.65 1.65 0 1 0 -3.3 0zM116.9 224.0a1.65 1.65 0 1 0 3.3 0a1.65 1.65 0 1 0 -3.3 0zM117.5 224.0a1.65 1.65 0 1 0 3.3 0a1.65 1.65 0 1 0 -3.3 0zM118.2 224.0a1.65 1.65 0 1 0 3.3 0a1.65 1.65 0 1 0 -3.3 0zM118.8 224.0a1.65 1.65 0 1 0 3.3 0a1.65 1.65 0 1 0 -3.3 0zM119.4 223.8a1.65 1.65 0 1 0 3.3 0a1.65 1.65 0 1 0 -3.3 0zM120.0 223.7a1.65 1.65 0 1 0 3.3 0a1.65 1.65 0 1 0 -3.3 0zM120.6 223.8a1.65 1.65 0 1 0 3.3 0a1.65 1.65 0 1 0 -3.3 0zM121.3 223.8a1.65 1.65 0 1 0 3.3 0a1.65 1.65 0 1 0 -3.3 0zM121.9 223.6a1.65 1.65 0 1 0 3.3 0a1.65 1.65 0 1 0 -3.3 0zM122.5 224.1a1.65 1.65 0 1 0 3.3 0a1.65 1.65 0 1 0 -3.3 0zM123.1 224.0a1.65 1.65 0 1 0 3.3 0a1.65 1.65 0 1 0 -3.3 0zM123.7 223.8a1.65 1.65 0 1 0 3.3 0a1.65 1.65 0 1 0 -3.3 0zM124.4 223.9a1.65 1.65 0 1 0 3.3 0a1.65 1.65 0 1 0 -3.3 0zM125.0 223.9a1.65 1.65 0 1 0 3.3 0a1.65 1.65 0 1 0 -3.3 0zM125.6 224.1a1.65 1.65 0 1 0 3.3 0a1.65 1.65 0 1 0 -3.3 0zM126.2 224.1a1.65 1.65 0 1 0 3.3 0a1.65 1.65 0 1 0 -3.3 0zM126.8 224.1a1.65 1.65 0 1 0 3.3 0a1.65 1.65 0 1 0 -3.3 0zM127.5 224.3a1.65 1.65 0 1 0 3.3 0a1.65 1.65 0 1 0 -3.3 0zM128.1 224.1a1.65 1.65 0 1 0 3.3 0a1.65 1.65 0 1 0 -3.3 0zM128.7 224.3a1.65 1.65 0 1 0 3.3 0a1.65 1.65 0 1 0 -3.3 0zM129.3 224.7a1.65 1.65 0 1 0 3.3 0a1.65 1.65 0 1 0 -3.3 0zM129.9 224.8a1.65 1.65 0 1 0 3.3 0a1.65 1.65 0 1 0 -3.3 0zM130.6 224.7a1.65 1.65 0 1 0 3.3 0a1.65 1.65 0 1 0 -3.3 0zM131.2 224.8a1.65 1.65 0 1 0 3.3 0a1.65 1.65 0 1 0 -3.3 0zM131.8 224.8a1.65 1.65 0 1 0 3.3 0a1.65 1.65 0 1 0 -3.3 0zM132.4 225.1a1.65 1.65 0 1 0 3.3 0a1.65 1.65 0 1 0 -3.3 0zM133.0 225.0a1.65 1.65 0 1 0 3.3 0a1.65 1.65 0 1 0 -3.3 0zM133.7 225.3a1.65 1.65 0 1 0 3.3 0a1.65 1.65 0 1 0 -3.3 0zM134.3 225.6a1.65 1.65 0 1 0 3.3 0a1.65 1.65 0 1 0 -3.3 0zM134.9 225.5a1.65 1.65 0 1 0 3.3 0a1.65 1.65 0 1 0 -3.3 0zM135.5 225.8a1.65 1.65 0 1 0 3.3 0a1.65 1.65 0 1 0 -3.3 0zM136.1 225.9a1.65 1.65 0 1 0 3.3 0a1.65 1.65 0 1 0 -3.3 0zM136.8 226.0a1.65 1.65 0 1 0 3.3 0a1.65 1.65 0 1 0 -3.3 0zM137.4 226.4a1.65 1.65 0 1 0 3.3 0a1.65 1.65 0 1 0 -3.3 0zM138.0 226.7a1.65 1.65 0 1 0 3.3 0a1.65 1.65 0 1 0 -3.3 0zM138.6 226.8a1.65 1.65 0 1 0 3.3 0a1.65 1.65 0 1 0 -3.3 0zM139.2 226.7a1.65 1.65 0 1 0 3.3 0a1.65 1.65 0 1 0 -3.3 0zM139.9 227.0a1.65 1.65 0 1 0 3.3 0a1.65 1.65 0 1 0 -3.3 0zM140.5 227.3a1.65 1.65 0 1 0 3.3 0a1.65 1.65 0 1 0 -3.3 0zM141.1 227.2a1.65 1.65 0 1 0 3.3 0a1.65 1.65 0 1 0 -3.3 0zM141.7 227.5a1.65 1.65 0 1 0 3.3 0a1.65 1.65 0 1 0 -3.3 0zM142.3 227.9a1.65 1.65 0 1 0 3.3 0a1.65 1.65 0 1 0 -3.3 0zM143.0 228.0a1.65 1.65 0 1 0 3.3 0a1.65 1.65 0 1 0 -3.3 0zM143.6 228.4a1.65 1.65 0 1 0 3.3 0a1.65 1.65 0 1 0 -3.3 0zM144.2 228.3a1.65 1.65 0 1 0 3.3 0a1.65 1.65 0 1 0 -3.3 0zM144.8 228.5a1.65 1.65 0 1 0 3.3 0a1.65 1.65 0 1 0 -3.3 0zM145.4 228.6a1.65 1.65 0 1 0 3.3 0a1.65 1.65 0 1 0 -3.3 0zM146.1 228.9a1.65 1.65 0 1 0 3.3 0a1.65 1.65 0 1 0 -3.3 0zM146.7 229.2a1.65 1.65 0 1 0 3.3 0a1.65 1.65 0 1 0 -3.3 0zM147.3 229.6a1.65 1.65 0 1 0 3.3 0a1.65 1.65 0 1 0 -3.3 0zM147.9 229.4a1.65 1.65 0 1 0 3.3 0a1.65 1.65 0 1 0 -3.3 0zM148.5 229.9a1.65 1.65 0 1 0 3.3 0a1.65 1.65 0 1 0 -3.3 0zM149.2 230.2a1.65 1.65 0 1 0 3.3 0a1.65 1.65 0 1 0 -3.3 0zM149.8 230.6a1.65 1.65 0 1 0 3.3 0a1.65 1.65 0 1 0 -3.3 0zM150.4 230.7a1.65 1.65 0 1 0 3.3 0a1.65 1.65 0 1 0 -3.3 0zM151.0 230.6a1.65 1.65 0 1 0 3.3 0a1.65 1.65 0 1 0 -3.3 0zM151.6 231.2a1.65 1.65 0 1 0 3.3 0a1.65 1.65 0 1 0 -3.3 0zM152.3 231.5a1.65 1.65 0 1 0 3.3 0a1.65 1.65 0 1 0 -3.3 0zM152.9 231.3a1.65 1.65 0 1 0 3.3 0a1.65 1.65 0 1 0 -3.3 0zM153.5 231.9a1.65 1.65 0 1 0 3.3 0a1.65 1.65 0 1 0 -3.3 0zM154.1 232.2a1.65 1.65 0 1 0 3.3 0a1.65 1.65 0 1 0 -3.3 0zM154.7 232.2a1.65 1.65 0 1 0 3.3 0a1.65 1.65 0 1 0 -3.3 0zM155.4 232.7a1.65 1.65 0 1 0 3.3 0a1.65 1.65 0 1 0 -3.3 0zM156.0 232.7a1.65 1.65 0 1 0 3.3 0a1.65 1.65 0 1 0 -3.3 0zM156.6 233.1a1.65 1.65 0 1 0 3.3 0a1.65 1.65 0 1 0 -3.3 0zM157.2 233.0a1.65 1.65 0 1 0 3.3 0a1.65 1.65 0 1 0 -3.3 0zM157.8 233.5a1.65 1.65 0 1 0 3.3 0a1.65 1.65 0 1 0 -3.3 0zM158.5 233.9a1.65 1.65 0 1 0 3.3 0a1.65 1.65 0 1 0 -3.3 0zM159.1 234.2a1.65 1.65 0 1 0 3.3 0a1.65 1.65 0 1 0 -3.3 0zM159.7 234.2a1.65 1.65 0 1 0 3.3 0a1.65 1.65 0 1 0 -3.3 0zM160.3 234.7a1.65 1.65 0 1 0 3.3 0a1.65 1.65 0 1 0 -3.3 0zM160.9 234.7a1.65 1.65 0 1 0 3.3 0a1.65 1.65 0 1 0 -3.3 0zM161.6 235.4a1.65 1.65 0 1 0 3.3 0a1.65 1.65 0 1 0 -3.3 0zM162.2 235.6a1.65 1.65 0 1 0 3.3 0a1.65 1.65 0 1 0 -3.3 0zM162.8 235.7a1.65 1.65 0 1 0 3.3 0a1.65 1.65 0 1 0 -3.3 0zM163.4 235.8a1.65 1.65 0 1 0 3.3 0a1.65 1.65 0 1 0 -3.3 0zM164.0 236.4a1.65 1.65 0 1 0 3.3 0a1.65 1.65 0 1 0 -3.3 0zM164.7 236.8a1.65 1.65 0 1 0 3.3 0a1.65 1.65 0 1 0 -3.3 0zM165.3 236.7a1.65 1.65 0 1 0 3.3 0a1.65 1.65 0 1 0 -3.3 0zM165.9 237.2a1.65 1.65 0 1 0 3.3 0a1.65 1.65 0 1 0 -3.3 0zM166.5 237.3a1.65 1.65 0 1 0 3.3 0a1.65 1.65 0 1 0 -3.3 0zM167.1 237.9a1.65 1.65 0 1 0 3.3 0a1.65 1.65 0 1 0 -3.3 0zM167.8 238.2a1.65 1.65 0 1 0 3.3 0a1.65 1.65 0 1 0 -3.3 0zM168.4 238.4a1.65 1.65 0 1 0 3.3 0a1.65 1.65 0 1 0 -3.3 0zM169.0 238.6a1.65 1.65 0 1 0 3.3 0a1.65 1.65 0 1 0 -3.3 0zM169.6 239.0a1.65 1.65 0 1 0 3.3 0a1.65 1.65 0 1 0 -3.3 0zM170.2 239.2a1.65 1.65 0 1 0 3.3 0a1.65 1.65 0 1 0 -3.3 0zM170.9 239.7a1.65 1.65 0 1 0 3.3 0a1.65 1.65 0 1 0 -3.3 0zM171.5 239.5a1.65 1.65 0 1 0 3.3 0a1.65 1.65 0 1 0 -3.3 0zM172.1 240.2a1.65 1.65 0 1 0 3.3 0a1.65 1.65 0 1 0 -3.3 0zM172.7 240.4a1.65 1.65 0 1 0 3.3 0a1.65 1.65 0 1 0 -3.3 0zM173.3 240.9a1.65 1.65 0 1 0 3.3 0a1.65 1.65 0 1 0 -3.3 0zM174.0 240.8a1.65 1.65 0 1 0 3.3 0a1.65 1.65 0 1 0 -3.3 0zM174.6 241.7a1.65 1.65 0 1 0 3.3 0a1.65 1.65 0 1 0 -3.3 0zM175.2 241.7a1.65 1.65 0 1 0 3.3 0a1.65 1.65 0 1 0 -3.3 0zM175.8 242.1a1.65 1.65 0 1 0 3.3 0a1.65 1.65 0 1 0 -3.3 0zM176.4 242.4a1.65 1.65 0 1 0 3.3 0a1.65 1.65 0 1 0 -3.3 0zM177.1 242.7a1.65 1.65 0 1 0 3.3 0a1.65 1.65 0 1 0 -3.3 0zM177.7 242.9a1.65 1.65 0 1 0 3.3 0a1.65 1.65 0 1 0 -3.3 0zM178.3 243.1a1.65 1.65 0 1 0 3.3 0a1.65 1.65 0 1 0 -3.3 0zM178.9 243.8a1.65 1.65 0 1 0 3.3 0a1.65 1.65 0 1 0 -3.3 0zM179.5 243.9a1.65 1.65 0 1 0 3.3 0a1.65 1.65 0 1 0 -3.3 0zM180.2 244.6a1.65 1.65 0 1 0 3.3 0a1.65 1.65 0 1 0 -3.3 0zM180.8 244.7a1.65 1.65 0 1 0 3.3 0a1.65 1.65 0 1 0 -3.3 0zM181.4 245.0a1.65 1.65 0 1 0 3.3 0a1.65 1.65 0 1 0 -3.3 0zM182.0 245.2a1.65 1.65 0 1 0 3.3 0a1.65 1.65 0 1 0 -3.3 0zM182.6 245.4a1.65 1.65 0 1 0 3.3 0a1.65 1.65 0 1 0 -3.3 0zM183.3 245.9a1.65 1.65 0 1 0 3.3 0a1.65 1.65 0 1 0 -3.3 0zM183.9 246.4a1.65 1.65 0 1 0 3.3 0a1.65 1.65 0 1 0 -3.3 0zM184.5 246.9a1.65 1.65 0 1 0 3.3 0a1.65 1.65 0 1 0 -3.3 0zM185.1 246.9a1.65 1.65 0 1 0 3.3 0a1.65 1.65 0 1 0 -3.3 0zM185.7 247.3a1.65 1.65 0 1 0 3.3 0a1.65 1.65 0 1 0 -3.3 0zM186.4 247.7a1.65 1.65 0 1 0 3.3 0a1.65 1.65 0 1 0 -3.3 0zM187.0 248.1a1.65 1.65 0 1 0 3.3 0a1.65 1.65 0 1 0 -3.3 0zM187.6 248.0a1.65 1.65 0 1 0 3.3 0a1.65 1.65 0 1 0 -3.3 0zM188.2 248.7a1.65 1.65 0 1 0 3.3 0a1.65 1.65 0 1 0 -3.3 0zM188.8 248.9a1.65 1.65 0 1 0 3.3 0a1.65 1.65 0 1 0 -3.3 0zM189.5 249.3a1.65 1.65 0 1 0 3.3 0a1.65 1.65 0 1 0 -3.3 0zM190.1 249.8a1.65 1.65 0 1 0 3.3 0a1.65 1.65 0 1 0 -3.3 0zM190.7 249.8a1.65 1.65 0 1 0 3.3 0a1.65 1.65 0 1 0 -3.3 0zM191.3 250.4a1.65 1.65 0 1 0 3.3 0a1.65 1.65 0 1 0 -3.3 0zM191.9 250.8a1.65 1.65 0 1 0 3.3 0a1.65 1.65 0 1 0 -3.3 0zM192.6 251.1a1.65 1.65 0 1 0 3.3 0a1.65 1.65 0 1 0 -3.3 0zM193.2 251.7a1.65 1.65 0 1 0 3.3 0a1.65 1.65 0 1 0 -3.3 0zM193.8 251.7a1.65 1.65 0 1 0 3.3 0a1.65 1.65 0 1 0 -3.3 0zM194.4 252.2a1.65 1.65 0 1 0 3.3 0a1.65 1.65 0 1 0 -3.3 0zM195.0 252.8a1.65 1.65 0 1 0 3.3 0a1.65 1.65 0 1 0 -3.3 0zM195.7 253.0a1.65 1.65 0 1 0 3.3 0a1.65 1.65 0 1 0 -3.3 0zM196.3 253.3a1.65 1.65 0 1 0 3.3 0a1.65 1.65 0 1 0 -3.3 0zM196.9 253.6a1.65 1.65 0 1 0 3.3 0a1.65 1.65 0 1 0 -3.3 0zM197.5 254.0a1.65 1.65 0 1 0 3.3 0a1.65 1.65 0 1 0 -3.3 0zM198.1 254.5a1.65 1.65 0 1 0 3.3 0a1.65 1.65 0 1 0 -3.3 0zM198.8 254.7a1.65 1.65 0 1 0 3.3 0a1.65 1.65 0 1 0 -3.3 0zM199.4 255.1a1.65 1.65 0 1 0 3.3 0a1.65 1.65 0 1 0 -3.3 0zM200.0 255.5a1.65 1.65 0 1 0 3.3 0a1.65 1.65 0 1 0 -3.3 0zM200.6 255.7a1.65 1.65 0 1 0 3.3 0a1.65 1.65 0 1 0 -3.3 0zM201.2 256.1a1.65 1.65 0 1 0 3.3 0a1.65 1.65 0 1 0 -3.3 0zM201.9 256.4a1.65 1.65 0 1 0 3.3 0a1.65 1.65 0 1 0 -3.3 0zM202.5 256.9a1.65 1.65 0 1 0 3.3 0a1.65 1.65 0 1 0 -3.3 0zM203.1 257.3a1.65 1.65 0 1 0 3.3 0a1.65 1.65 0 1 0 -3.3 0zM203.7 257.4a1.65 1.65 0 1 0 3.3 0a1.65 1.65 0 1 0 -3.3 0zM204.3 258.0a1.65 1.65 0 1 0 3.3 0a1.65 1.65 0 1 0 -3.3 0zM205.0 258.2a1.65 1.65 0 1 0 3.3 0a1.65 1.65 0 1 0 -3.3 0zM205.6 258.5a1.65 1.65 0 1 0 3.3 0a1.65 1.65 0 1 0 -3.3 0zM206.2 258.6a1.65 1.65 0 1 0 3.3 0a1.65 1.65 0 1 0 -3.3 0zM206.8 259.4a1.65 1.65 0 1 0 3.3 0a1.65 1.65 0 1 0 -3.3 0zM207.4 259.6a1.65 1.65 0 1 0 3.3 0a1.65 1.65 0 1 0 -3.3 0zM208.1 260.1a1.65 1.65 0 1 0 3.3 0a1.65 1.65 0 1 0 -3.3 0zM208.7 260.2a1.65 1.65 0 1 0 3.3 0a1.65 1.65 0 1 0 -3.3 0zM209.3 260.6a1.65 1.65 0 1 0 3.3 0a1.65 1.65 0 1 0 -3.3 0zM209.9 260.9a1.65 1.65 0 1 0 3.3 0a1.65 1.65 0 1 0 -3.3 0zM210.5 261.4a1.65 1.65 0 1 0 3.3 0a1.65 1.65 0 1 0 -3.3 0zM211.2 261.5a1.65 1.65 0 1 0 3.3 0a1.65 1.65 0 1 0 -3.3 0zM211.8 262.1a1.65 1.65 0 1 0 3.3 0a1.65 1.65 0 1 0 -3.3 0zM212.4 262.5a1.65 1.65 0 1 0 3.3 0a1.65 1.65 0 1 0 -3.3 0zM213.0 263.0a1.65 1.65 0 1 0 3.3 0a1.65 1.65 0 1 0 -3.3 0zM213.6 263.2a1.65 1.65 0 1 0 3.3 0a1.65 1.65 0 1 0 -3.3 0zM214.3 263.6a1.65 1.65 0 1 0 3.3 0a1.65 1.65 0 1 0 -3.3 0zM214.9 264.0a1.65 1.65 0 1 0 3.3 0a1.65 1.65 0 1 0 -3.3 0zM215.5 264.3a1.65 1.65 0 1 0 3.3 0a1.65 1.65 0 1 0 -3.3 0zM216.1 264.5a1.65 1.65 0 1 0 3.3 0a1.65 1.65 0 1 0 -3.3 0zM216.7 265.1a1.65 1.65 0 1 0 3.3 0a1.65 1.65 0 1 0 -3.3 0zM217.4 265.6a1.65 1.65 0 1 0 3.3 0a1.65 1.65 0 1 0 -3.3 0zM218.0 265.7a1.65 1.65 0 1 0 3.3 0a1.65 1.65 0 1 0 -3.3 0zM218.6 266.2a1.65 1.65 0 1 0 3.3 0a1.65 1.65 0 1 0 -3.3 0zM219.2 266.6a1.65 1.65 0 1 0 3.3 0a1.65 1.65 0 1 0 -3.3 0zM219.8 266.9a1.65 1.65 0 1 0 3.3 0a1.65 1.65 0 1 0 -3.3 0zM220.5 267.2a1.65 1.65 0 1 0 3.3 0a1.65 1.65 0 1 0 -3.3 0zM221.1 267.5a1.65 1.65 0 1 0 3.3 0a1.65 1.65 0 1 0 -3.3 0zM221.7 267.9a1.65 1.65 0 1 0 3.3 0a1.65 1.65 0 1 0 -3.3 0zM222.3 268.0a1.65 1.65 0 1 0 3.3 0a1.65 1.65 0 1 0 -3.3 0zM222.9 268.2a1.65 1.65 0 1 0 3.3 0a1.65 1.65 0 1 0 -3.3 0zM223.6 269.0a1.65 1.65 0 1 0 3.3 0a1.65 1.65 0 1 0 -3.3 0zM224.2 269.4a1.65 1.65 0 1 0 3.3 0a1.65 1.65 0 1 0 -3.3 0zM224.8 269.6a1.65 1.65 0 1 0 3.3 0a1.65 1.65 0 1 0 -3.3 0zM225.4 269.7a1.65 1.65 0 1 0 3.3 0a1.65 1.65 0 1 0 -3.3 0zM226.0 270.1a1.65 1.65 0 1 0 3.3 0a1.65 1.65 0 1 0 -3.3 0zM226.7 270.9a1.65 1.65 0 1 0 3.3 0a1.65 1.65 0 1 0 -3.3 0zM227.3 270.5a1.65 1.65 0 1 0 3.3 0a1.65 1.65 0 1 0 -3.3 0zM227.9 271.4a1.65 1.65 0 1 0 3.3 0a1.65 1.65 0 1 0 -3.3 0zM228.5 271.4a1.65 1.65 0 1 0 3.3 0a1.65 1.65 0 1 0 -3.3 0zM229.1 271.9a1.65 1.65 0 1 0 3.3 0a1.65 1.65 0 1 0 -3.3 0zM229.8 272.2a1.65 1.65 0 1 0 3.3 0a1.65 1.65 0 1 0 -3.3 0zM230.4 272.4a1.65 1.65 0 1 0 3.3 0a1.65 1.65 0 1 0 -3.3 0zM231.0 272.9a1.65 1.65 0 1 0 3.3 0a1.65 1.65 0 1 0 -3.3 0zM231.6 273.1a1.65 1.65 0 1 0 3.3 0a1.65 1.65 0 1 0 -3.3 0zM232.2 273.4a1.65 1.65 0 1 0 3.3 0a1.65 1.65 0 1 0 -3.3 0zM232.9 273.6a1.65 1.65 0 1 0 3.3 0a1.65 1.65 0 1 0 -3.3 0zM233.5 274.2a1.65 1.65 0 1 0 3.3 0a1.65 1.65 0 1 0 -3.3 0zM234.1 274.5a1.65 1.65 0 1 0 3.3 0a1.65 1.65 0 1 0 -3.3 0zM234.7 274.9a1.65 1.65 0 1 0 3.3 0a1.65 1.65 0 1 0 -3.3 0zM235.3 275.2a1.65 1.65 0 1 0 3.3 0a1.65 1.65 0 1 0 -3.3 0zM236.0 275.6a1.65 1.65 0 1 0 3.3 0a1.65 1.65 0 1 0 -3.3 0zM236.6 275.7a1.65 1.65 0 1 0 3.3 0a1.65 1.65 0 1 0 -3.3 0zM237.2 276.1a1.65 1.65 0 1 0 3.3 0a1.65 1.65 0 1 0 -3.3 0zM237.8 276.4a1.65 1.65 0 1 0 3.3 0a1.65 1.65 0 1 0 -3.3 0zM238.4 276.9a1.65 1.65 0 1 0 3.3 0a1.65 1.65 0 1 0 -3.3 0zM239.1 277.1a1.65 1.65 0 1 0 3.3 0a1.65 1.65 0 1 0 -3.3 0zM239.7 277.1a1.65 1.65 0 1 0 3.3 0a1.65 1.65 0 1 0 -3.3 0zM240.3 277.5a1.65 1.65 0 1 0 3.3 0a1.65 1.65 0 1 0 -3.3 0zM240.9 277.8a1.65 1.65 0 1 0 3.3 0a1.65 1.65 0 1 0 -3.3 0zM241.5 278.1a1.65 1.65 0 1 0 3.3 0a1.65 1.65 0 1 0 -3.3 0zM242.2 278.7a1.65 1.65 0 1 0 3.3 0a1.65 1.65 0 1 0 -3.3 0zM242.8 278.8a1.65 1.65 0 1 0 3.3 0a1.65 1.65 0 1 0 -3.3 0zM243.4 279.3a1.65 1.65 0 1 0 3.3 0a1.65 1.65 0 1 0 -3.3 0zM244.0 279.5a1.65 1.65 0 1 0 3.3 0a1.65 1.65 0 1 0 -3.3 0zM244.6 280.0a1.65 1.65 0 1 0 3.3 0a1.65 1.65 0 1 0 -3.3 0zM245.3 279.8a1.65 1.65 0 1 0 3.3 0a1.65 1.65 0 1 0 -3.3 0zM245.9 280.1a1.65 1.65 0 1 0 3.3 0a1.65 1.65 0 1 0 -3.3 0zM246.5 280.6a1.65 1.65 0 1 0 3.3 0a1.65 1.65 0 1 0 -3.3 0zM247.1 280.8a1.65 1.65 0 1 0 3.3 0a1.65 1.65 0 1 0 -3.3 0zM247.7 281.2a1.65 1.65 0 1 0 3.3 0a1.65 1.65 0 1 0 -3.3 0zM248.4 281.3a1.65 1.65 0 1 0 3.3 0a1.65 1.65 0 1 0 -3.3 0zM249.0 281.8a1.65 1.65 0 1 0 3.3 0a1.65 1.65 0 1 0 -3.3 0zM249.6 282.1a1.65 1.65 0 1 0 3.3 0a1.65 1.65 0 1 0 -3.3 0zM250.2 282.5a1.65 1.65 0 1 0 3.3 0a1.65 1.65 0 1 0 -3.3 0zM250.8 282.9a1.65 1.65 0 1 0 3.3 0a1.65 1.65 0 1 0 -3.3 0zM251.5 283.0a1.65 1.65 0 1 0 3.3 0a1.65 1.65 0 1 0 -3.3 0zM252.1 282.9a1.65 1.65 0 1 0 3.3 0a1.65 1.65 0 1 0 -3.3 0zM252.7 283.6a1.65 1.65 0 1 0 3.3 0a1.65 1.65 0 1 0 -3.3 0zM253.3 283.7a1.65 1.65 0 1 0 3.3 0a1.65 1.65 0 1 0 -3.3 0zM253.9 283.7a1.65 1.65 0 1 0 3.3 0a1.65 1.65 0 1 0 -3.3 0zM254.6 284.3a1.65 1.65 0 1 0 3.3 0a1.65 1.65 0 1 0 -3.3 0zM255.2 284.2a1.65 1.65 0 1 0 3.3 0a1.65 1.65 0 1 0 -3.3 0zM255.8 284.6a1.65 1.65 0 1 0 3.3 0a1.65 1.65 0 1 0 -3.3 0zM256.4 285.1a1.65 1.65 0 1 0 3.3 0a1.65 1.65 0 1 0 -3.3 0zM257.0 285.2a1.65 1.65 0 1 0 3.3 0a1.65 1.65 0 1 0 -3.3 0zM257.7 285.6a1.65 1.65 0 1 0 3.3 0a1.65 1.65 0 1 0 -3.3 0zM258.3 285.9a1.65 1.65 0 1 0 3.3 0a1.65 1.65 0 1 0 -3.3 0zM258.9 286.3a1.65 1.65 0 1 0 3.3 0a1.65 1.65 0 1 0 -3.3 0zM259.5 286.4a1.65 1.65 0 1 0 3.3 0a1.65 1.65 0 1 0 -3.3 0zM260.1 286.6a1.65 1.65 0 1 0 3.3 0a1.65 1.65 0 1 0 -3.3 0zM260.8 286.9a1.65 1.65 0 1 0 3.3 0a1.65 1.65 0 1 0 -3.3 0zM261.4 287.5a1.65 1.65 0 1 0 3.3 0a1.65 1.65 0 1 0 -3.3 0zM262.0 287.3a1.65 1.65 0 1 0 3.3 0a1.65 1.65 0 1 0 -3.3 0zM262.6 287.8a1.65 1.65 0 1 0 3.3 0a1.65 1.65 0 1 0 -3.3 0zM263.2 287.7a1.65 1.65 0 1 0 3.3 0a1.65 1.65 0 1 0 -3.3 0zM263.9 288.2a1.65 1.65 0 1 0 3.3 0a1.65 1.65 0 1 0 -3.3 0zM264.5 288.4a1.65 1.65 0 1 0 3.3 0a1.65 1.65 0 1 0 -3.3 0zM265.1 288.5a1.65 1.65 0 1 0 3.3 0a1.65 1.65 0 1 0 -3.3 0zM265.7 288.9a1.65 1.65 0 1 0 3.3 0a1.65 1.65 0 1 0 -3.3 0zM266.3 289.0a1.65 1.65 0 1 0 3.3 0a1.65 1.65 0 1 0 -3.3 0zM267.0 289.3a1.65 1.65 0 1 0 3.3 0a1.65 1.65 0 1 0 -3.3 0zM267.6 289.8a1.65 1.65 0 1 0 3.3 0a1.65 1.65 0 1 0 -3.3 0zM268.2 289.9a1.65 1.65 0 1 0 3.3 0a1.65 1.65 0 1 0 -3.3 0zM268.8 290.1a1.65 1.65 0 1 0 3.3 0a1.65 1.65 0 1 0 -3.3 0zM269.4 290.3a1.65 1.65 0 1 0 3.3 0a1.65 1.65 0 1 0 -3.3 0zM270.1 290.5a1.65 1.65 0 1 0 3.3 0a1.65 1.65 0 1 0 -3.3 0zM270.7 290.7a1.65 1.65 0 1 0 3.3 0a1.65 1.65 0 1 0 -3.3 0zM271.3 291.2a1.65 1.65 0 1 0 3.3 0a1.65 1.65 0 1 0 -3.3 0zM271.9 291.2a1.65 1.65 0 1 0 3.3 0a1.65 1.65 0 1 0 -3.3 0zM272.5 291.2a1.65 1.65 0 1 0 3.3 0a1.65 1.65 0 1 0 -3.3 0zM273.2 291.8a1.65 1.65 0 1 0 3.3 0a1.65 1.65 0 1 0 -3.3 0zM273.8 292.1a1.65 1.65 0 1 0 3.3 0a1.65 1.65 0 1 0 -3.3 0zM274.4 292.0a1.65 1.65 0 1 0 3.3 0a1.65 1.65 0 1 0 -3.3 0zM275.0 292.4a1.65 1.65 0 1 0 3.3 0a1.65 1.65 0 1 0 -3.3 0zM275.6 293.1a1.65 1.65 0 1 0 3.3 0a1.65 1.65 0 1 0 -3.3 0zM276.3 293.0a1.65 1.65 0 1 0 3.3 0a1.65 1.65 0 1 0 -3.3 0zM276.9 292.9a1.65 1.65 0 1 0 3.3 0a1.65 1.65 0 1 0 -3.3 0zM277.5 293.3a1.65 1.65 0 1 0 3.3 0a1.65 1.65 0 1 0 -3.3 0zM278.1 293.5a1.65 1.65 0 1 0 3.3 0a1.65 1.65 0 1 0 -3.3 0zM278.7 293.9a1.65 1.65 0 1 0 3.3 0a1.65 1.65 0 1 0 -3.3 0zM279.4 293.7a1.65 1.65 0 1 0 3.3 0a1.65 1.65 0 1 0 -3.3 0zM280.0 294.1a1.65 1.65 0 1 0 3.3 0a1.65 1.65 0 1 0 -3.3 0zM280.6 294.6a1.65 1.65 0 1 0 3.3 0a1.65 1.65 0 1 0 -3.3 0zM281.2 294.6a1.65 1.65 0 1 0 3.3 0a1.65 1.65 0 1 0 -3.3 0zM281.8 295.0a1.65 1.65 0 1 0 3.3 0a1.65 1.65 0 1 0 -3.3 0zM282.5 295.3a1.65 1.65 0 1 0 3.3 0a1.65 1.65 0 1 0 -3.3 0zM283.1 295.1a1.65 1.65 0 1 0 3.3 0a1.65 1.65 0 1 0 -3.3 0zM283.7 295.7a1.65 1.65 0 1 0 3.3 0a1.65 1.65 0 1 0 -3.3 0zM284.3 295.7a1.65 1.65 0 1 0 3.3 0a1.65 1.65 0 1 0 -3.3 0zM284.9 295.9a1.65 1.65 0 1 0 3.3 0a1.65 1.65 0 1 0 -3.3 0zM285.6 296.2a1.65 1.65 0 1 0 3.3 0a1.65 1.65 0 1 0 -3.3 0zM286.2 296.9a1.65 1.65 0 1 0 3.3 0a1.65 1.65 0 1 0 -3.3 0zM286.8 296.2a1.65 1.65 0 1 0 3.3 0a1.65 1.65 0 1 0 -3.3 0zM287.4 296.8a1.65 1.65 0 1 0 3.3 0a1.65 1.65 0 1 0 -3.3 0zM288.0 297.4a1.65 1.65 0 1 0 3.3 0a1.65 1.65 0 1 0 -3.3 0zM288.7 297.1a1.65 1.65 0 1 0 3.3 0a1.65 1.65 0 1 0 -3.3 0zM289.3 297.5a1.65 1.65 0 1 0 3.3 0a1.65 1.65 0 1 0 -3.3 0zM289.9 297.5a1.65 1.65 0 1 0 3.3 0a1.65 1.65 0 1 0 -3.3 0zM290.5 297.8a1.65 1.65 0 1 0 3.3 0a1.65 1.65 0 1 0 -3.3 0zM291.1 297.7a1.65 1.65 0 1 0 3.3 0a1.65 1.65 0 1 0 -3.3 0zM291.8 298.0a1.65 1.65 0 1 0 3.3 0a1.65 1.65 0 1 0 -3.3 0zM292.4 298.1a1.65 1.65 0 1 0 3.3 0a1.65 1.65 0 1 0 -3.3 0zM293.0 298.1a1.65 1.65 0 1 0 3.3 0a1.65 1.65 0 1 0 -3.3 0zM293.6 298.4a1.65 1.65 0 1 0 3.3 0a1.65 1.65 0 1 0 -3.3 0zM294.2 299.6a1.65 1.65 0 1 0 3.3 0a1.65 1.65 0 1 0 -3.3 0zM294.9 299.4a1.65 1.65 0 1 0 3.3 0a1.65 1.65 0 1 0 -3.3 0zM295.5 299.1a1.65 1.65 0 1 0 3.3 0a1.65 1.65 0 1 0 -3.3 0zM296.1 298.6a1.65 1.65 0 1 0 3.3 0a1.65 1.65 0 1 0 -3.3 0zM296.7 299.1a1.65 1.65 0 1 0 3.3 0a1.65 1.65 0 1 0 -3.3 0zM297.3 299.2a1.65 1.65 0 1 0 3.3 0a1.65 1.65 0 1 0 -3.3 0zM298.0 300.4a1.65 1.65 0 1 0 3.3 0a1.65 1.65 0 1 0 -3.3 0zM298.6 300.5a1.65 1.65 0 1 0 3.3 0a1.65 1.65 0 1 0 -3.3 0zM299.2 300.4a1.65 1.65 0 1 0 3.3 0a1.65 1.65 0 1 0 -3.3 0zM299.8 300.8a1.65 1.65 0 1 0 3.3 0a1.65 1.65 0 1 0 -3.3 0zM300.4 301.1a1.65 1.65 0 1 0 3.3 0a1.65 1.65 0 1 0 -3.3 0zM301.1 300.7a1.65 1.65 0 1 0 3.3 0a1.65 1.65 0 1 0 -3.3 0zM301.7 301.3a1.65 1.65 0 1 0 3.3 0a1.65 1.65 0 1 0 -3.3 0zM302.3 300.3a1.65 1.65 0 1 0 3.3 0a1.65 1.65 0 1 0 -3.3 0zM302.9 300.9a1.65 1.65 0 1 0 3.3 0a1.65 1.65 0 1 0 -3.3 0zM303.5 302.8a1.65 1.65 0 1 0 3.3 0a1.65 1.65 0 1 0 -3.3 0zM304.2 301.0a1.65 1.65 0 1 0 3.3 0a1.65 1.65 0 1 0 -3.3 0zM304.8 302.1a1.65 1.65 0 1 0 3.3 0a1.65 1.65 0 1 0 -3.3 0zM305.4 303.0a1.65 1.65 0 1 0 3.3 0a1.65 1.65 0 1 0 -3.3 0zM306.0 302.5a1.65 1.65 0 1 0 3.3 0a1.65 1.65 0 1 0 -3.3 0zM306.6 302.4a1.65 1.65 0 1 0 3.3 0a1.65 1.65 0 1 0 -3.3 0zM307.3 303.0a1.65 1.65 0 1 0 3.3 0a1.65 1.65 0 1 0 -3.3 0zM307.9 303.7a1.65 1.65 0 1 0 3.3 0a1.65 1.65 0 1 0 -3.3 0zM308.5 303.5a1.65 1.65 0 1 0 3.3 0a1.65 1.65 0 1 0 -3.3 0zM309.1 303.9a1.65 1.65 0 1 0 3.3 0a1.65 1.65 0 1 0 -3.3 0zM309.7 303.6a1.65 1.65 0 1 0 3.3 0a1.65 1.65 0 1 0 -3.3 0zM310.4 303.0a1.65 1.65 0 1 0 3.3 0a1.65 1.65 0 1 0 -3.3 0zM311.0 301.4a1.65 1.65 0 1 0 3.3 0a1.65 1.65 0 1 0 -3.3 0zM311.6 305.8a1.65 1.65 0 1 0 3.3 0a1.65 1.65 0 1 0 -3.3 0zM312.2 306.3a1.65 1.65 0 1 0 3.3 0a1.65 1.65 0 1 0 -3.3 0zM312.8 304.5a1.65 1.65 0 1 0 3.3 0a1.65 1.65 0 1 0 -3.3 0zM313.5 303.4a1.65 1.65 0 1 0 3.3 0a1.65 1.65 0 1 0 -3.3 0zM314.1 304.8a1.65 1.65 0 1 0 3.3 0a1.65 1.65 0 1 0 -3.3 0zM314.7 304.7a1.65 1.65 0 1 0 3.3 0a1.65 1.65 0 1 0 -3.3 0zM315.3 305.0a1.65 1.65 0 1 0 3.3 0a1.65 1.65 0 1 0 -3.3 0zM315.9 305.3a1.65 1.65 0 1 0 3.3 0a1.65 1.65 0 1 0 -3.3 0zM316.6 305.8a1.65 1.65 0 1 0 3.3 0a1.65 1.65 0 1 0 -3.3 0zM317.2 306.2a1.65 1.65 0 1 0 3.3 0a1.65 1.65 0 1 0 -3.3 0zM317.8 305.5a1.65 1.65 0 1 0 3.3 0a1.65 1.65 0 1 0 -3.3 0zM318.4 305.1a1.65 1.65 0 1 0 3.3 0a1.65 1.65 0 1 0 -3.3 0zM319.0 305.5a1.65 1.65 0 1 0 3.3 0a1.65 1.65 0 1 0 -3.3 0zM319.7 306.4a1.65 1.65 0 1 0 3.3 0a1.65 1.65 0 1 0 -3.3 0zM320.3 306.6a1.65 1.65 0 1 0 3.3 0a1.65 1.65 0 1 0 -3.3 0zM320.9 307.2a1.65 1.65 0 1 0 3.3 0a1.65 1.65 0 1 0 -3.3 0zM321.5 307.5a1.65 1.65 0 1 0 3.3 0a1.65 1.65 0 1 0 -3.3 0zM322.1 307.2a1.65 1.65 0 1 0 3.3 0a1.65 1.65 0 1 0 -3.3 0zM322.8 307.2a1.65 1.65 0 1 0 3.3 0a1.65 1.65 0 1 0 -3.3 0zM323.4 305.0a1.65 1.65 0 1 0 3.3 0a1.65 1.65 0 1 0 -3.3 0zM324.0 308.0a1.65 1.65 0 1 0 3.3 0a1.65 1.65 0 1 0 -3.3 0zM324.6 305.2a1.65 1.65 0 1 0 3.3 0a1.65 1.65 0 1 0 -3.3 0zM325.2 308.0a1.65 1.65 0 1 0 3.3 0a1.65 1.65 0 1 0 -3.3 0zM325.9 306.9a1.65 1.65 0 1 0 3.3 0a1.65 1.65 0 1 0 -3.3 0zM326.5 306.4a1.65 1.65 0 1 0 3.3 0a1.65 1.65 0 1 0 -3.3 0zM327.1 307.2a1.65 1.65 0 1 0 3.3 0a1.65 1.65 0 1 0 -3.3 0zM327.7 307.6a1.65 1.65 0 1 0 3.3 0a1.65 1.65 0 1 0 -3.3 0zM328.3 309.8a1.65 1.65 0 1 0 3.3 0a1.65 1.65 0 1 0 -3.3 0zM329.0 306.4a1.65 1.65 0 1 0 3.3 0a1.65 1.65 0 1 0 -3.3 0zM329.6 307.5a1.65 1.65 0 1 0 3.3 0a1.65 1.65 0 1 0 -3.3 0zM330.2 309.6a1.65 1.65 0 1 0 3.3 0a1.65 1.65 0 1 0 -3.3 0zM330.8 308.7a1.65 1.65 0 1 0 3.3 0a1.65 1.65 0 1 0 -3.3 0zM331.4 309.4a1.65 1.65 0 1 0 3.3 0a1.65 1.65 0 1 0 -3.3 0zM332.1 308.7a1.65 1.65 0 1 0 3.3 0a1.65 1.65 0 1 0 -3.3 0zM332.7 307.6a1.65 1.65 0 1 0 3.3 0a1.65 1.65 0 1 0 -3.3 0zM333.3 311.7a1.65 1.65 0 1 0 3.3 0a1.65 1.65 0 1 0 -3.3 0zM333.9 308.9a1.65 1.65 0 1 0 3.3 0a1.65 1.65 0 1 0 -3.3 0zM334.5 309.5a1.65 1.65 0 1 0 3.3 0a1.65 1.65 0 1 0 -3.3 0zM335.2 312.5a1.65 1.65 0 1 0 3.3 0a1.65 1.65 0 1 0 -3.3 0zM335.8 310.1a1.65 1.65 0 1 0 3.3 0a1.65 1.65 0 1 0 -3.3 0zM336.4 308.7a1.65 1.65 0 1 0 3.3 0a1.65 1.65 0 1 0 -3.3 0zM337.0 310.6a1.65 1.65 0 1 0 3.3 0a1.65 1.65 0 1 0 -3.3 0zM337.6 310.0a1.65 1.65 0 1 0 3.3 0a1.65 1.65 0 1 0 -3.3 0zM338.3 312.0a1.65 1.65 0 1 0 3.3 0a1.65 1.65 0 1 0 -3.3 0zM338.9 310.2a1.65 1.65 0 1 0 3.3 0a1.65 1.65 0 1 0 -3.3 0zM339.5 310.4a1.65 1.65 0 1 0 3.3 0a1.65 1.65 0 1 0 -3.3 0zM340.1 312.8a1.65 1.65 0 1 0 3.3 0a1.65 1.65 0 1 0 -3.3 0zM340.7 310.6a1.65 1.65 0 1 0 3.3 0a1.65 1.65 0 1 0 -3.3 0zM341.4 311.8a1.65 1.65 0 1 0 3.3 0a1.65 1.65 0 1 0 -3.3 0zM342.0 313.6a1.65 1.65 0 1 0 3.3 0a1.65 1.65 0 1 0 -3.3 0zM342.6 310.7a1.65 1.65 0 1 0 3.3 0a1.65 1.65 0 1 0 -3.3 0zM343.2 314.6a1.65 1.65 0 1 0 3.3 0a1.65 1.65 0 1 0 -3.3 0zM343.8 313.3a1.65 1.65 0 1 0 3.3 0a1.65 1.65 0 1 0 -3.3 0zM344.5 312.9a1.65 1.65 0 1 0 3.3 0a1.65 1.65 0 1 0 -3.3 0zM345.1 311.2a1.65 1.65 0 1 0 3.3 0a1.65 1.65 0 1 0 -3.3 0zM345.7 313.2a1.65 1.65 0 1 0 3.3 0a1.65 1.65 0 1 0 -3.3 0zM346.3 315.0a1.65 1.65 0 1 0 3.3 0a1.65 1.65 0 1 0 -3.3 0zM346.9 311.1a1.65 1.65 0 1 0 3.3 0a1.65 1.65 0 1 0 -3.3 0zM347.6 311.2a1.65 1.65 0 1 0 3.3 0a1.65 1.65 0 1 0 -3.3 0zM348.2 311.4a1.65 1.65 0 1 0 3.3 0a1.65 1.65 0 1 0 -3.3 0zM348.8 316.4a1.65 1.65 0 1 0 3.3 0a1.65 1.65 0 1 0 -3.3 0zM349.4 313.1a1.65 1.65 0 1 0 3.3 0a1.65 1.65 0 1 0 -3.3 0zM350.0 315.0a1.65 1.65 0 1 0 3.3 0a1.65 1.65 0 1 0 -3.3 0zM350.7 314.6a1.65 1.65 0 1 0 3.3 0a1.65 1.65 0 1 0 -3.3 0zM351.3 311.1a1.65 1.65 0 1 0 3.3 0a1.65 1.65 0 1 0 -3.3 0zM351.9 313.7a1.65 1.65 0 1 0 3.3 0a1.65 1.65 0 1 0 -3.3 0zM352.5 312.5a1.65 1.65 0 1 0 3.3 0a1.65 1.65 0 1 0 -3.3 0zM353.1 312.2a1.65 1.65 0 1 0 3.3 0a1.65 1.65 0 1 0 -3.3 0zM353.8 310.6a1.65 1.65 0 1 0 3.3 0a1.65 1.65 0 1 0 -3.3 0zM354.4 314.9a1.65 1.65 0 1 0 3.3 0a1.65 1.65 0 1 0 -3.3 0zM355.0 312.5a1.65 1.65 0 1 0 3.3 0a1.65 1.65 0 1 0 -3.3 0zM355.6 315.2a1.65 1.65 0 1 0 3.3 0a1.65 1.65 0 1 0 -3.3 0zM356.2 314.8a1.65 1.65 0 1 0 3.3 0a1.65 1.65 0 1 0 -3.3 0zM356.9 312.9a1.65 1.65 0 1 0 3.3 0a1.65 1.65 0 1 0 -3.3 0zM357.5 314.7a1.65 1.65 0 1 0 3.3 0a1.65 1.65 0 1 0 -3.3 0zM358.1 318.9a1.65 1.65 0 1 0 3.3 0a1.65 1.65 0 1 0 -3.3 0zM358.7 312.8a1.65 1.65 0 1 0 3.3 0a1.65 1.65 0 1 0 -3.3 0zM359.3 312.1a1.65 1.65 0 1 0 3.3 0a1.65 1.65 0 1 0 -3.3 0zM360.0 313.6a1.65 1.65 0 1 0 3.3 0a1.65 1.65 0 1 0 -3.3 0zM360.6 317.0a1.65 1.65 0 1 0 3.3 0a1.65 1.65 0 1 0 -3.3 0zM361.2 314.7a1.65 1.65 0 1 0 3.3 0a1.65 1.65 0 1 0 -3.3 0zM361.8 314.8a1.65 1.65 0 1 0 3.3 0a1.65 1.65 0 1 0 -3.3 0zM362.4 312.3a1.65 1.65 0 1 0 3.3 0a1.65 1.65 0 1 0 -3.3 0zM363.1 315.3a1.65 1.65 0 1 0 3.3 0a1.65 1.65 0 1 0 -3.3 0zM363.7 313.5a1.65 1.65 0 1 0 3.3 0a1.65 1.65 0 1 0 -3.3 0zM364.3 311.4a1.65 1.65 0 1 0 3.3 0a1.65 1.65 0 1 0 -3.3 0zM364.9 314.9a1.65 1.65 0 1 0 3.3 0a1.65 1.65 0 1 0 -3.3 0zM365.5 317.7a1.65 1.65 0 1 0 3.3 0a1.65 1.65 0 1 0 -3.3 0zM366.2 311.9a1.65 1.65 0 1 0 3.3 0a1.65 1.65 0 1 0 -3.3 0zM366.8 316.2a1.65 1.65 0 1 0 3.3 0a1.65 1.65 0 1 0 -3.3 0zM367.4 314.8a1.65 1.65 0 1 0 3.3 0a1.65 1.65 0 1 0 -3.3 0zM368.0 315.1a1.65 1.65 0 1 0 3.3 0a1.65 1.65 0 1 0 -3.3 0zM368.6 318.5a1.65 1.65 0 1 0 3.3 0a1.65 1.65 0 1 0 -3.3 0zM369.3 315.7a1.65 1.65 0 1 0 3.3 0a1.65 1.65 0 1 0 -3.3 0zM369.9 316.3a1.65 1.65 0 1 0 3.3 0a1.65 1.65 0 1 0 -3.3 0zM370.5 314.4a1.65 1.65 0 1 0 3.3 0a1.65 1.65 0 1 0 -3.3 0zM371.1 319.0a1.65 1.65 0 1 0 3.3 0a1.65 1.65 0 1 0 -3.3 0zM371.7 313.6a1.65 1.65 0 1 0 3.3 0a1.65 1.65 0 1 0 -3.3 0zM372.4 316.0a1.65 1.65 0 1 0 3.3 0a1.65 1.65 0 1 0 -3.3 0zM373.0 315.4a1.65 1.65 0 1 0 3.3 0a1.65 1.65 0 1 0 -3.3 0zM373.6 314.9a1.65 1.65 0 1 0 3.3 0a1.65 1.65 0 1 0 -3.3 0zM374.2 318.3a1.65 1.65 0 1 0 3.3 0a1.65 1.65 0 1 0 -3.3 0zM374.8 314.7a1.65 1.65 0 1 0 3.3 0a1.65 1.65 0 1 0 -3.3 0zM375.5 320.3a1.65 1.65 0 1 0 3.3 0a1.65 1.65 0 1 0 -3.3 0zM376.1 315.4a1.65 1.65 0 1 0 3.3 0a1.65 1.65 0 1 0 -3.3 0zM376.7 318.6a1.65 1.65 0 1 0 3.3 0a1.65 1.65 0 1 0 -3.3 0zM377.3 316.6a1.65 1.65 0 1 0 3.3 0a1.65 1.65 0 1 0 -3.3 0zM377.9 316.1a1.65 1.65 0 1 0 3.3 0a1.65 1.65 0 1 0 -3.3 0zM378.6 318.5a1.65 1.65 0 1 0 3.3 0a1.65 1.65 0 1 0 -3.3 0zM379.2 318.9a1.65 1.65 0 1 0 3.3 0a1.65 1.65 0 1 0 -3.3 0zM379.8 320.8a1.65 1.65 0 1 0 3.3 0a1.65 1.65 0 1 0 -3.3 0zM380.4 318.4a1.65 1.65 0 1 0 3.3 0a1.65 1.65 0 1 0 -3.3 0zM381.0 315.2a1.65 1.65 0 1 0 3.3 0a1.65 1.65 0 1 0 -3.3 0z" fill="#d4ff00"/>
<path d="M74.2 323.8h3.6l-1.8 -3.6zM74.8 316.3h3.6l-1.8 -3.6zM75.2 309.3h3.6l-1.8 -3.6zM75.5 302.5h3.6l-1.8 -3.6zM75.6 296.0h3.6l-1.8 -3.6zM75.7 287.2h3.6l-1.8 -3.6zM75.8 279.9h3.6l-1.8 -3.6zM75.9 274.4h3.6l-1.8 -3.6zM76.1 270.2h3.6l-1.8 -3.6zM76.3 265.9h3.6l-1.8 -3.6zM76.6 261.1h3.6l-1.8 -3.6zM77.0 256.1h3.6l-1.8 -3.6zM77.5 250.7h3.6l-1.8 -3.6zM78.1 246.2h3.6l-1.8 -3.6zM78.7 242.6h3.6l-1.8 -3.6zM79.4 239.1h3.6l-1.8 -3.6zM80.0 236.1h3.6l-1.8 -3.6zM80.6 233.4h3.6l-1.8 -3.6zM81.2 231.0h3.6l-1.8 -3.6zM81.8 228.5h3.6l-1.8 -3.6zM82.5 226.9h3.6l-1.8 -3.6zM83.1 224.9h3.6l-1.8 -3.6zM83.7 222.9h3.6l-1.8 -3.6zM84.3 221.0h3.6l-1.8 -3.6zM84.9 219.5h3.6l-1.8 -3.6zM85.6 218.1h3.6l-1.8 -3.6zM86.2 216.7h3.6l-1.8 -3.6zM86.8 215.4h3.6l-1.8 -3.6zM87.4 213.7h3.6l-1.8 -3.6zM88.0 212.5h3.6l-1.8 -3.6zM88.7 211.2h3.6l-1.8 -3.6zM89.3 210.4h3.6l-1.8 -3.6zM89.9 209.2h3.6l-1.8 -3.6zM90.5 207.9h3.6l-1.8 -3.6zM91.1 207.1h3.6l-1.8 -3.6zM91.8 206.1h3.6l-1.8 -3.6zM92.4 205.3h3.6l-1.8 -3.6zM93.0 204.6h3.6l-1.8 -3.6zM93.6 203.6h3.6l-1.8 -3.6zM94.2 202.5h3.6l-1.8 -3.6zM94.9 202.1h3.6l-1.8 -3.6zM95.5 201.4h3.6l-1.8 -3.6zM96.1 200.6h3.6l-1.8 -3.6zM96.7 199.9h3.6l-1.8 -3.6zM97.3 199.3h3.6l-1.8 -3.6zM98.0 199.1h3.6l-1.8 -3.6zM98.6 198.5h3.6l-1.8 -3.6zM99.2 197.9h3.6l-1.8 -3.6zM99.8 197.6h3.6l-1.8 -3.6zM100.4 197.2h3.6l-1.8 -3.6zM101.1 196.9h3.6l-1.8 -3.6zM101.7 196.5h3.6l-1.8 -3.6zM102.3 196.2h3.6l-1.8 -3.6zM102.9 196.3h3.6l-1.8 -3.6zM103.5 195.7h3.6l-1.8 -3.6zM104.2 195.7h3.6l-1.8 -3.6zM104.8 195.6h3.6l-1.8 -3.6zM105.4 195.5h3.6l-1.8 -3.6zM106.0 195.4h3.6l-1.8 -3.6zM106.6 195.0h3.6l-1.8 -3.6zM107.3 195.1h3.6l-1.8 -3.6zM107.9 195.0h3.6l-1.8 -3.6zM108.5 194.8h3.6l-1.8 -3.6zM109.1 194.3h3.6l-1.8 -3.6zM109.7 194.7h3.6l-1.8 -3.6zM110.4 195.1h3.6l-1.8 -3.6zM111.0 194.6h3.6l-1.8 -3.6zM111.6 194.3h3.6l-1.8 -3.6zM112.2 194.5h3.6l-1.8 -3.6zM112.8 194.5h3.6l-1.8 -3.6zM113.5 194.7h3.6l-1.8 -3.6zM114.1 194.4h3.6l-1.8 -3.6zM114.7 194.5h3.6l-1.8 -3.6zM115.3 194.7h3.6l-1.8 -3.6zM115.9 194.8h3.6l-1.8 -3.6zM116.6 195.0h3.6l-1.8 -3.6zM117.2 194.9h3.6l-1.8 -3.6zM117.8 195.0h3.6l-1.8 -3.6zM118.4 195.1h3.6l-1.8 -3.6zM119.0 194.7h3.6l-1.8 -3.6zM119.7 195.0h3.6l-1.8 -3.6zM120.3 195.2h3.6l-1.8 -3.6zM120.9 195.2h3.6l-1.8 -3.6zM121.5 195.1h3.6l-1.8 -3.6zM122.1 195.2h3.6l-1.8 -3.6zM122.8 195.7h3.6l-1.8 -3.6zM123.4 195.5h3.6l-1.8 -3.6zM124.0 195.6h3.6l-1.8 -3.6zM124.6 195.8h3.6l-1.8 -3.6zM125.2 195.8h3.6l-1.8 -3.6zM125.9 196.0h3.6l-1.8 -3.6zM126.5 196.2h3.6l-1.8 -3.6zM127.1 196.6h3.6l-1.8 -3.6zM127.7 196.7h3.6l-1.8 -3.6zM128.3 196.8h3.6l-1.8 -3.6zM129.0 196.7h3.6l-1.8 -3.6zM129.6 197.0h3.6l-1.8 -3.6zM130.2 197.4h3.6l-1.8 -3.6zM130.8 197.4h3.6l-1.8 -3.6zM131.4 197.8h3.6l-1.8 -3.6zM132.1 197.6h3.6l-1.8 -3.6zM132.7 198.2h3.6l-1.8 -3.6zM133.3 198.3h3.6l-1.8 -3.6zM133.9 198.4h3.6l-1.8 -3.6zM134.5 198.6h3.6l-1.8 -3.6zM135.2 198.9h3.6l-1.8 -3.6zM135.8 198.8h3.6l-1.8 -3.6zM136.4 198.9h3.6l-1.8 -3.6zM137.0 199.3h3.6l-1.8 -3.6zM137.6 199.6h3.6l-1.8 -3.6zM138.3 199.7h3.6l-1.8 -3.6zM138.9 199.9h3.6l-1.8 -3.6zM139.5 200.3h3.6l-1.8 -3.6zM140.1 200.3h3.6l-1.8 -3.6zM140.7 200.5h3.6l-1.8 -3.6zM141.4 201.0h3.6l-1.8 -3.6zM142.0 201.3h3.6l-1.8 -3.6zM142.6 201.6h3.6l-1.8 -3.6zM143.2 201.6h3.6l-1.8 -3.6zM143.8 201.9h3.6l-1.8 -3.6zM144.5 202.0h3.6l-1.8 -3.6zM145.1 201.9h3.6l-1.8 -3.6zM145.7 202.7h3.6l-1.8 -3.6zM146.3 202.7h3.6l-1.8 -3.6zM146.9 203.3h3.6l-1.8 -3.6zM147.6 203.6h3.6l-1.8 -3.6zM148.2 203.8h3.6l-1.8 -3.6zM148.8 204.0h3.6l-1.8 -3.6zM149.4 204.1h3.6l-1.8 -3.6zM150.0 204.5h3.6l-1.8 -3.6zM150.7 204.8h3.6l-1.8 -3.6zM151.3 205.0h3.6l-1.8 -3.6zM151.9 205.2h3.6l-1.8 -3.6zM152.5 205.6h3.6l-1.8 -3.6zM153.1 205.9h3.6l-1.8 -3.6zM153.8 206.1h3.6l-1.8 -3.6zM154.4 206.2h3.6l-1.8 -3.6zM155.0 206.9h3.6l-1.8 -3.6zM155.6 206.9h3.6l-1.8 -3.6zM156.2 207.4h3.6l-1.8 -3.6zM156.9 207.8h3.6l-1.8 -3.6zM157.5 208.0h3.6l-1.8 -3.6zM158.1 208.1h3.6l-1.8 -3.6zM158.7 208.9h3.6l-1.8 -3.6zM159.3 208.9h3.6l-1.8 -3.6zM160.0 209.1h3.6l-1.8 -3.6zM160.6 209.3h3.6l-1.8 -3.6zM161.2 209.4h3.6l-1.8 -3.6zM161.8 210.1h3.6l-1.8 -3.6zM162.4 210.4h3.6l-1.8 -3.6zM163.1 210.7h3.6l-1.8 -3.6zM163.7 210.6h3.6l-1.8 -3.6zM164.3 211.3h3.6l-1.8 -3.6zM164.9 211.5h3.6l-1.8 -3.6zM165.5 211.8h3.6l-1.8 -3.6zM166.2 212.1h3.6l-1.8 -3.6zM166.8 212.3h3.6l-1.8 -3.6zM167.4 212.9h3.6l-1.8 -3.6zM168.0 213.2h3.6l-1.8 -3.6zM168.6 213.4h3.6l-1.8 -3.6zM169.3 213.8h3.6l-1.8 -3.6zM169.9 214.2h3.6l-1.8 -3.6zM170.5 214.6h3.6l-1.8 -3.6zM171.1 214.8h3.6l-1.8 -3.6zM171.7 215.0h3.6l-1.8 -3.6zM172.4 215.3h3.6l-1.8 -3.6zM173.0 215.7h3.6l-1.8 -3.6zM173.6 216.2h3.6l-1.8 -3.6zM174.2 216.3h3.6l-1.8 -3.6zM174.8 216.9h3.6l-1.8 -3.6zM175.5 217.2h3.6l-1.8 -3.6zM176.1 217.7h3.6l-1.8 -3.6zM176.7 218.0h3.6l-1.8 -3.6zM177.3 218.2h3.6l-1.8 -3.6zM177.9 218.5h3.6l-1.8 -3.6zM178.6 219.0h3.6l-1.8 -3.6zM179.2 219.5h3.6l-1.8 -3.6zM179.8 219.4h3.6l-1.8 -3.6zM180.4 220.0h3.6l-1.8 -3.6zM181.0 220.1h3.6l-1.8 -3.6zM181.7 220.7h3.6l-1.8 -3.6zM182.3 221.0h3.6l-1.8 -3.6zM182.9 221.4h3.6l-1.8 -3.6zM183.5 221.9h3.6l-1.8 -3.6zM184.1 222.7h3.6l-1.8 -3.6zM184.8 222.6h3.6l-1.8 -3.6zM185.4 223.0h3.6l-1.8 -3.6zM186.0 223.4h3.6l-1.8 -3.6zM186.6 223.7h3.6l-1.8 -3.6zM187.2 224.3h3.6l-1.8 -3.6zM187.9 224.6h3.6l-1.8 -3.6zM188.5 224.9h3.6l-1.8 -3.6zM189.1 225.0h3.6l-1.8 -3.6zM189.7 225.5h3.6l-1.8 -3.6zM190.3 225.8h3.6l-1.8 -3.6zM191.0 226.3h3.6l-1.8 -3.6zM191.6 227.1h3.6l-1.8 -3.6zM192.2 227.2h3.6l-1.8 -3.6zM192.8 227.3h3.6l-1.8 -3.6zM193.4 228.4h3.6l-1.8 -3.6zM194.1 228.0h3.6l-1.8 -3.6zM194.7 228.7h3.6l-1.8 -3.6zM195.3 229.1h3.6l-1.8 -3.6zM195.9 229.5h3.6l-1.8 -3.6zM196.5 229.8h3.6l-1.8 -3.6zM197.2 230.1h3.6l-1.8 -3.6zM197.8 230.5h3.6l-1.8 -3.6zM198.4 231.1h3.6l-1.8 -3.6zM199.0 231.3h3.6l-1.8 -3.6zM199.6 231.7h3.6l-1.8 -3.6zM200.3 231.9h3.6l-1.8 -3.6zM200.9 232.9h3.6l-1.8 -3.6zM201.5 233.1h3.6l-1.8 -3.6zM202.1 233.5h3.6l-1.8 -3.6zM202.7 233.9h3.6l-1.8 -3.6zM203.4 234.4h3.6l-1.8 -3.6zM204.0 234.6h3.6l-1.8 -3.6zM204.6 235.1h3.6l-1.8 -3.6zM205.2 235.6h3.6l-1.8 -3.6zM205.8 236.0h3.6l-1.8 -3.6zM206.5 236.4h3.6l-1.8 -3.6zM207.1 236.6h3.6l-1.8 -3.6zM207.7 237.1h3.6l-1.8 -3.6zM208.3 237.5h3.6l-1.8 -3.6zM208.9 238.0h3.6l-1.8 -3.6zM209.6 238.4h3.6l-1.8 -3.6zM210.2 239.1h3.6l-1.8 -3.6zM210.8 239.0h3.6l-1.8 -3.6zM211.4 239.4h3.6l-1.8 -3.6zM212.0 240.2h3.6l-1.8 -3.6zM212.7 240.3h3.6l-1.8 -3.6zM213.3 240.9h3.6l-1.8 -3.6zM213.9 241.0h3.6l-1.8 -3.6zM214.5 241.4h3.6l-1.8 -3.6zM215.1 242.0h3.6l-1.8 -3.6zM215.8 242.5h3.6l-1.8 -3.6zM216.4 242.8h3.6l-1.8 -3.6zM217.0 243.2h3.6l-1.8 -3.6zM217.6 243.5h3.6l-1.8 -3.6zM218.2 243.9h3.6l-1.8 -3.6zM218.9 244.5h3.6l-1.8 -3.6zM219.5 244.8h3.6l-1.8 -3.6zM220.1 245.4h3.6l-1.8 -3.6zM220.7 245.9h3.6l-1.8 -3.6zM221.3 245.9h3.6l-1.8 -3.6zM222.0 246.6h3.6l-1.8 -3.6zM222.6 247.0h3.6l-1.8 -3.6zM223.2 247.3h3.6l-1.8 -3.6zM223.8 247.7h3.6l-1.8 -3.6zM224.4 248.1h3.6l-1.8 -3.6zM225.1 248.5h3.6l-1.8 -3.6zM225.7 249.2h3.6l-1.8 -3.6zM226.3 249.3h3.6l-1.8 -3.6zM226.9 249.8h3.6l-1.8 -3.6zM227.5 250.2h3.6l-1.8 -3.6zM228.2 250.3h3.6l-1.8 -3.6zM228.8 251.0h3.6l-1.8 -3.6zM229.4 251.6h3.6l-1.8 -3.6zM230.0 251.9h3.6l-1.8 -3.6zM230.6 252.1h3.6l-1.8 -3.6zM231.3 252.5h3.6l-1.8 -3.6zM231.9 253.3h3.6l-1.8 -3.6zM232.5 253.6h3.6l-1.8 -3.6zM233.1 253.9h3.6l-1.8 -3.6zM233.7 254.0h3.6l-1.8 -3.6zM234.4 254.5h3.6l-1.8 -3.6zM235.0 255.1h3.6l-1.8 -3.6zM235.6 255.5h3.6l-1.8 -3.6zM236.2 255.8h3.6l-1.8 -3.6zM236.8 256.2h3.6l-1.8 -3.6zM237.5 256.5h3.6l-1.8 -3.6zM238.1 257.2h3.6l-1.8 -3.6zM238.7 257.3h3.6l-1.8 -3.6zM239.3 257.9h3.6l-1.8 -3.6zM239.9 258.0h3.6l-1.8 -3.6zM240.6 258.9h3.6l-1.8 -3.6zM241.2 258.7h3.6l-1.8 -3.6zM241.8 259.1h3.6l-1.8 -3.6zM242.4 259.7h3.6l-1.8 -3.6zM243.0 260.1h3.6l-1.8 -3.6zM243.7 260.3h3.6l-1.8 -3.6zM244.3 261.1h3.6l-1.8 -3.6zM244.9 261.0h3.6l-1.8 -3.6zM245.5 261.9h3.6l-1.8 -3.6zM246.1 261.9h3.6l-1.8 -3.6zM246.8 262.7h3.6l-1.8 -3.6zM247.4 262.8h3.6l-1.8 -3.6zM248.0 263.3h3.6l-1.8 -3.6zM248.6 263.8h3.6l-1.8 -3.6zM249.2 263.9h3.6l-1.8 -3.6zM249.9 264.3h3.6l-1.8 -3.6zM250.5 264.7h3.6l-1.8 -3.6zM251.1 264.7h3.6l-1.8 -3.6zM251.7 265.6h3.6l-1.8 -3.6zM252.3 265.8h3.6l-1.8 -3.6zM253.0 266.2h3.6l-1.8 -3.6zM253.6 266.5h3.6l-1.8 -3.6zM254.2 266.9h3.6l-1.8 -3.6zM254.8 267.4h3.6l-1.8 -3.6zM255.4 267.8h3.6l-1.8 -3.6zM256.1 267.8h3.6l-1.8 -3.6zM256.7 267.9h3.6l-1.8 -3.6zM257.3 268.8h3.6l-1.8 -3.6zM257.9 269.1h3.6l-1.8 -3.6zM258.5 269.5h3.6l-1.8 -3.6zM259.2 269.7h3.6l-1.8 -3.6zM259.8 270.3h3.6l-1.8 -3.6zM260.4 270.6h3.6l-1.8 -3.6zM261.0 270.8h3.6l-1.8 -3.6zM261.6 271.2h3.6l-1.8 -3.6zM262.3 271.6h3.6l-1.8 -3.6zM262.9 272.1h3.6l-1.8 -3.6zM263.5 272.2h3.6l-1.8 -3.6zM264.1 272.9h3.6l-1.8 -3.6zM264.7 272.7h3.6l-1.8 -3.6zM265.4 273.3h3.6l-1.8 -3.6zM266.0 273.5h3.6l-1.8 -3.6zM266.6 273.8h3.6l-1.8 -3.6zM267.2 274.2h3.6l-1.8 -3.6zM267.8 274.6h3.6l-1.8 -3.6zM268.5 275.0h3.6l-1.8 -3.6zM269.1 275.3h3.6l-1.8 -3.6zM269.7 275.4h3.6l-1.8 -3.6zM270.3 275.7h3.6l-1.8 -3.6zM270.9 276.1h3.6l-1.8 -3.6zM271.6 276.4h3.6l-1.8 -3.6zM272.2 276.5h3.6l-1.8 -3.6zM272.8 277.0h3.6l-1.8 -3.6zM273.4 277.7h3.6l-1.8 -3.6zM274.0 277.6h3.6l-1.8 -3.6zM274.7 277.9h3.6l-1.8 -3.6zM275.3 278.3h3.6l-1.8 -3.6zM275.9 278.7h3.6l-1.8 -3.6zM276.5 278.8h3.6l-1.8 -3.6zM277.1 279.4h3.6l-1.8 -3.6zM277.8 279.8h3.6l-1.8 -3.6zM278.4 280.1h3.6l-1.8 -3.6zM279.0 280.0h3.6l-1.8 -3.6zM279.6 280.3h3.6l-1.8 -3.6zM280.2 280.7h3.6l-1.8 -3.6zM280.9 281.1h3.6l-1.8 -3.6zM281.5 281.5h3.6l-1.8 -3.6zM282.1 282.2h3.6l-1.8 -3.6zM282.7 282.0h3.6l-1.8 -3.6zM283.3 282.1h3.6l-1.8 -3.6zM284.0 282.1h3.6l-1.8 -3.6zM284.6 282.4h3.6l-1.8 -3.6zM285.2 283.1h3.6l-1.8 -3.6zM285.8 283.2h3.6l-1.8 -3.6zM286.4 283.1h3.6l-1.8 -3.6zM287.1 283.9h3.6l-1.8 -3.6zM287.7 284.2h3.6l-1.8 -3.6zM288.3 285.0h3.6l-1.8 -3.6zM288.9 285.2h3.6l-1.8 -3.6zM289.5 284.7h3.6l-1.8 -3.6zM290.2 285.9h3.6l-1.8 -3.6zM290.8 285.7h3.6l-1.8 -3.6zM291.4 285.6h3.6l-1.8 -3.6zM292.0 285.6h3.6l-1.8 -3.6zM292.6 286.1h3.6l-1.8 -3.6zM293.3 286.4h3.6l-1.8 -3.6zM293.9 286.7h3.6l-1.8 -3.6zM294.5 286.7h3.6l-1.8 -3.6zM295.1 287.5h3.6l-1.8 -3.6zM295.7 287.5h3.6l-1.8 -3.6zM296.4 287.4h3.6l-1.8 -3.6zM297.0 287.7h3.6l-1.8 -3.6zM297.6 288.6h3.6l-1.8 -3.6zM298.2 288.1h3.6l-1.8 -3.6zM298.8 289.1h3.6l-1.8 -3.6zM299.5 289.8h3.6l-1.8 -3.6zM300.1 289.3h3.6l-1.8 -3.6zM300.7 290.2h3.6l-1.8 -3.6zM301.3 289.0h3.6l-1.8 -3.6zM301.9 291.2h3.6l-1.8 -3.6zM302.6 290.3h3.6l-1.8 -3.6zM303.2 289.5h3.6l-1.8 -3.6zM303.8 291.4h3.6l-1.8 -3.6zM304.4 292.6h3.6l-1.8 -3.6zM305.0 290.9h3.6l-1.8 -3.6zM305.7 291.3h3.6l-1.8 -3.6zM306.3 292.8h3.6l-1.8 -3.6zM306.9 293.1h3.6l-1.8 -3.6zM307.5 292.3h3.6l-1.8 -3.6zM308.1 292.4h3.6l-1.8 -3.6zM308.8 294.0h3.6l-1.8 -3.6zM309.4 292.1h3.6l-1.8 -3.6zM310.0 293.7h3.6l-1.8 -3.6zM310.6 294.4h3.6l-1.8 -3.6zM311.2 294.0h3.6l-1.8 -3.6zM311.9 293.9h3.6l-1.8 -3.6zM312.5 294.1h3.6l-1.8 -3.6zM313.1 294.7h3.6l-1.8 -3.6zM313.7 295.3h3.6l-1.8 -3.6zM314.3 293.6h3.6l-1.8 -3.6zM315.0 295.8h3.6l-1.8 -3.6zM315.6 296.6h3.6l-1.8 -3.6zM316.2 294.8h3.6l-1.8 -3.6zM316.8 297.0h3.6l-1.8 -3.6zM317.4 295.4h3.6l-1.8 -3.6zM318.1 298.2h3.6l-1.8 -3.6zM318.7 297.4h3.6l-1.8 -3.6zM319.3 297.6h3.6l-1.8 -3.6zM319.9 296.6h3.6l-1.8 -3.6zM320.5 297.2h3.6l-1.8 -3.6zM321.2 297.3h3.6l-1.8 -3.6zM321.8 296.4h3.6l-1.8 -3.6zM322.4 296.1h3.6l-1.8 -3.6zM323.0 297.1h3.6l-1.8 -3.6zM323.6 298.7h3.6l-1.8 -3.6zM324.3 299.3h3.6l-1.8 -3.6zM324.9 298.4h3.6l-1.8 -3.6zM325.5 299.7h3.6l-1.8 -3.6zM326.1 298.2h3.6l-1.8 -3.6zM326.7 297.3h3.6l-1.8 -3.6zM327.4 298.1h3.6l-1.8 -3.6zM328.0 299.1h3.6l-1.8 -3.6zM328.6 298.5h3.6l-1.8 -3.6zM329.2 299.7h3.6l-1.8 -3.6zM329.8 298.2h3.6l-1.8 -3.6zM330.5 297.7h3.6l-1.8 -3.6zM331.1 298.7h3.6l-1.8 -3.6zM331.7 299.2h3.6l-1.8 -3.6zM332.3 299.8h3.6l-1.8 -3.6zM332.9 300.9h3.6l-1.8 -3.6zM333.6 298.2h3.6l-1.8 -3.6zM334.2 300.4h3.6l-1.8 -3.6zM334.8 302.5h3.6l-1.8 -3.6zM335.4 300.4h3.6l-1.8 -3.6zM336.0 301.9h3.6l-1.8 -3.6zM336.7 301.5h3.6l-1.8 -3.6zM337.3 300.6h3.6l-1.8 -3.6zM337.9 304.2h3.6l-1.8 -3.6zM338.5 302.8h3.6l-1.8 -3.6zM339.1 303.4h3.6l-1.8 -3.6zM339.8 302.0h3.6l-1.8 -3.6zM340.4 302.7h3.6l-1.8 -3.6zM341.0 304.2h3.6l-1.8 -3.6zM341.6 303.9h3.6l-1.8 -3.6zM342.2 303.5h3.6l-1.8 -3.6zM342.9 304.2h3.6l-1.8 -3.6zM343.5 306.4h3.6l-1.8 -3.6zM344.1 305.4h3.6l-1.8 -3.6zM344.7 303.6h3.6l-1.8 -3.6zM345.3 303.9h3.6l-1.8 -3.6zM346.0 307.6h3.6l-1.8 -3.6zM346.6 305.2h3.6l-1.8 -3.6zM347.2 305.9h3.6l-1.8 -3.6zM347.8 304.5h3.6l-1.8 -3.6zM348.4 306.2h3.6l-1.8 -3.6zM349.1 303.5h3.6l-1.8 -3.6zM349.7 307.1h3.6l-1.8 -3.6zM350.3 305.0h3.6l-1.8 -3.6zM350.9 306.6h3.6l-1.8 -3.6zM351.5 304.4h3.6l-1.8 -3.6zM352.2 307.7h3.6l-1.8 -3.6zM352.8 306.6h3.6l-1.8 -3.6zM353.4 308.2h3.6l-1.8 -3.6zM354.0 305.8h3.6l-1.8 -3.6zM354.6 305.4h3.6l-1.8 -3.6zM355.3 303.7h3.6l-1.8 -3.6zM355.9 308.1h3.6l-1.8 -3.6zM356.5 303.5h3.6l-1.8 -3.6zM357.1 309.4h3.6l-1.8 -3.6zM357.7 306.9h3.6l-1.8 -3.6zM358.4 303.7h3.6l-1.8 -3.6zM359.0 308.0h3.6l-1.8 -3.6zM359.6 302.6h3.6l-1.8 -3.6zM360.2 305.9h3.6l-1.8 -3.6zM360.8 306.5h3.6l-1.8 -3.6zM361.5 302.2h3.6l-1.8 -3.6zM362.1 307.3h3.6l-1.8 -3.6zM362.7 310.4h3.6l-1.8 -3.6zM363.3 308.2h3.6l-1.8 -3.6zM363.9 304.0h3.6l-1.8 -3.6zM364.6 309.3h3.6l-1.8 -3.6zM365.2 305.0h3.6l-1.8 -3.6zM365.8 307.3h3.6l-1.8 -3.6zM366.4 312.4h3.6l-1.8 -3.6zM367.0 305.6h3.6l-1.8 -3.6zM367.7 308.3h3.6l-1.8 -3.6zM368.3 307.4h3.6l-1.8 -3.6zM368.9 308.5h3.6l-1.8 -3.6zM369.5 308.5h3.6l-1.8 -3.6zM370.1 309.3h3.6l-1.8 -3.6zM370.8 306.9h3.6l-1.8 -3.6zM371.4 305.9h3.6l-1.8 -3.6zM372.0 310.4h3.6l-1.8 -3.6zM372.6 309.2h3.6l-1.8 -3.6zM373.2 309.1h3.6l-1.8 -3.6zM373.9 307.0h3.6l-1.8 -3.6zM374.5 308.6h3.6l-1.8 -3.6zM375.1 310.7h3.6l-1.8 -3.6zM375.7 313.8h3.6l-1.8 -3.6zM376.3 309.9h3.6l-1.8 -3.6zM377.0 313.1h3.6l-1.8 -3.6zM377.6 310.5h3.6l-1.8 -3.6zM378.2 309.0h3.6l-1.8 -3.6zM378.8 311.1h3.6l-1.8 -3.6zM379.4 310.4h3.6l-1.8 -3.6zM380.1 312.9h3.6l-1.8 -3.6zM380.7 309.2h3.6l-1.8 -3.6zM54.5 307.2h3.4l-1.7 -3.4zM55.6 268.3h3.4l-1.7 -3.4zM71.0 278.0h3.4l-1.7 -3.4zM54.2 321.1h3.4l-1.7 -3.4zM61.8 321.2h3.4l-1.7 -3.4z" fill="#ffff00"/>
<path d="M67.1 304.7h3.6l-1.8 3.6zM67.4 293.4h3.6l-1.8 3.6zM67.6 286.3h3.6l-1.8 3.6zM67.8 282.5h3.6l-1.8 3.6zM68.1 277.0h3.6l-1.8 3.6zM68.5 271.6h3.6l-1.8 3.6zM69.0 266.0h3.6l-1.8 3.6zM69.6 260.4h3.6l-1.8 3.6zM70.2 254.8h3.6l-1.8 3.6zM70.8 249.5h3.6l-1.8 3.6zM71.4 244.2h3.6l-1.8 3.6zM72.0 239.8h3.6l-1.8 3.6zM72.7 235.3h3.6l-1.8 3.6zM73.1 231.7h3.6l-1.8 3.6zM73.6 229.0h3.6l-1.8 3.6zM74.1 225.8h3.6l-1.8 3.6zM74.6 222.1h3.6l-1.8 3.6zM75.1 219.1h3.6l-1.8 3.6zM75.6 215.6h3.6l-1.8 3.6zM76.1 212.4h3.6l-1.8 3.6zM76.6 209.2h3.6l-1.8 3.6zM77.1 205.8h3.6l-1.8 3.6zM77.6 202.4h3.6l-1.8 3.6zM78.1 199.1h3.6l-1.8 3.6zM78.7 195.8h3.6l-1.8 3.6zM79.2 192.7h3.6l-1.8 3.6zM79.7 189.3h3.6l-1.8 3.6zM80.2 185.6h3.6l-1.8 3.6zM80.7 182.7h3.6l-1.8 3.6zM81.2 179.2h3.6l-1.8 3.6zM81.7 176.2h3.6l-1.8 3.6zM82.3 173.0h3.6l-1.8 3.6zM82.9 170.2h3.6l-1.8 3.6zM83.5 167.6h3.6l-1.8 3.6zM84.2 165.5h3.6l-1.8 3.6zM84.8 163.4h3.6l-1.8 3.6zM85.4 161.6h3.6l-1.8 3.6zM86.0 160.0h3.6l-1.8 3.6zM86.6 158.9h3.6l-1.8 3.6zM87.3 157.5h3.6l-1.8 3.6zM87.9 156.2h3.6l-1.8 3.6zM88.5 155.1h3.6l-1.8 3.6zM89.1 154.5h3.6l-1.8 3.6zM89.7 153.4h3.6l-1.8 3.6zM90.4 152.6h3.6l-1.8 3.6zM91.0 152.2h3.6l-1.8 3.6zM91.6 151.6h3.6l-1.8 3.6zM92.2 150.9h3.6l-1.8 3.6zM92.8 150.2h3.6l-1.8 3.6zM93.5 149.8h3.6l-1.8 3.6zM94.1 148.9h3.6l-1.8 3.6zM94.7 148.7h3.6l-1.8 3.6zM95.3 148.6h3.6l-1.8 3.6zM95.9 147.9h3.6l-1.8 3.6zM96.6 147.6h3.6l-1.8 3.6zM97.2 147.1h3.6l-1.8 3.6zM97.8 146.7h3.6l-1.8 3.6zM98.4 146.5h3.6l-1.8 3.6zM99.0 146.2h3.6l-1.8 3.6zM99.7 146.0h3.6l-1.8 3.6zM100.3 145.6h3.6l-1.8 3.6zM100.9 145.6h3.6l-1.8 3.6zM101.5 145.3h3.6l-1.8 3.6zM102.1 144.9h3.6l-1.8 3.6zM102.8 144.7h3.6l-1.8 3.6zM103.4 144.4h3.6l-1.8 3.6zM104.0 144.4h3.6l-1.8 3.6zM104.6 144.2h3.6l-1.8 3.6zM105.2 143.8h3.6l-1.8 3.6zM105.9 143.9h3.6l-1.8 3.6zM106.5 143.8h3.6l-1.8 3.6zM107.1 143.7h3.6l-1.8 3.6zM107.7 143.4h3.6l-1.8 3.6zM108.3 143.2h3.6l-1.8 3.6zM109.0 143.3h3.6l-1.8 3.6zM109.6 143.2h3.6l-1.8 3.6zM110.2 143.4h3.6l-1.8 3.6zM110.8 143.3h3.6l-1.8 3.6zM111.4 142.8h3.6l-1.8 3.6zM112.1 142.7h3.6l-1.8 3.6zM112.7 142.8h3.6l-1.8 3.6zM113.3 142.8h3.6l-1.8 3.6zM113.9 142.9h3.6l-1.8 3.6zM114.5 143.0h3.6l-1.8 3.6zM115.2 143.1h3.6l-1.8 3.6zM115.8 142.7h3.6l-1.8 3.6zM116.4 143.1h3.6l-1.8 3.6zM117.0 143.1h3.6l-1.8 3.6zM117.6 143.1h3.6l-1.8 3.6zM118.3 143.3h3.6l-1.8 3.6zM118.9 143.4h3.6l-1.8 3.6zM119.5 143.3h3.6l-1.8 3.6zM120.1 143.4h3.6l-1.8 3.6zM120.7 143.3h3.6l-1.8 3.6zM121.4 143.5h3.6l-1.8 3.6zM122.0 143.6h3.6l-1.8 3.6zM122.6 143.7h3.6l-1.8 3.6zM123.2 143.7h3.6l-1.8 3.6zM123.8 144.2h3.6l-1.8 3.6zM124.5 144.0h3.6l-1.8 3.6zM125.1 144.2h3.6l-1.8 3.6zM125.7 144.3h3.6l-1.8 3.6zM126.3 144.3h3.6l-1.8 3.6zM126.9 144.7h3.6l-1.8 3.6zM127.6 144.7h3.6l-1.8 3.6zM128.2 144.9h3.6l-1.8 3.6zM128.8 145.4h3.6l-1.8 3.6zM129.4 145.2h3.6l-1.8 3.6zM130.0 145.7h3.6l-1.8 3.6zM130.7 145.8h3.6l-1.8 3.6zM131.3 146.3h3.6l-1.8 3.6zM131.9 146.1h3.6l-1.8 3.6zM132.5 146.4h3.6l-1.8 3.6zM133.1 146.7h3.6l-1.8 3.6zM133.8 147.0h3.6l-1.8 3.6zM134.4 147.1h3.6l-1.8 3.6zM135.0 147.3h3.6l-1.8 3.6zM135.6 147.8h3.6l-1.8 3.6zM136.2 147.9h3.6l-1.8 3.6zM136.9 148.0h3.6l-1.8 3.6zM137.5 148.2h3.6l-1.8 3.6zM138.1 148.4h3.6l-1.8 3.6zM138.7 149.1h3.6l-1.8 3.6zM139.3 149.0h3.6l-1.8 3.6zM140.0 149.3h3.6l-1.8 3.6zM140.6 149.8h3.6l-1.8 3.6zM141.2 149.8h3.6l-1.8 3.6zM141.8 150.4h3.6l-1.8 3.6zM142.4 150.5h3.6l-1.8 3.6zM143.1 150.9h3.6l-1.8 3.6zM143.7 151.4h3.6l-1.8 3.6zM144.3 151.6h3.6l-1.8 3.6zM144.9 151.9h3.6l-1.8 3.6zM145.5 151.8h3.6l-1.8 3.6zM146.2 152.5h3.6l-1.8 3.6zM146.8 152.4h3.6l-1.8 3.6zM147.4 153.1h3.6l-1.8 3.6zM148.0 153.3h3.6l-1.8 3.6zM148.6 153.5h3.6l-1.8 3.6zM149.3 154.0h3.6l-1.8 3.6zM149.9 154.1h3.6l-1.8 3.6zM150.5 154.3h3.6l-1.8 3.6zM151.1 154.9h3.6l-1.8 3.6zM151.7 155.2h3.6l-1.8 3.6zM152.4 155.5h3.6l-1.8 3.6zM153.0 155.5h3.6l-1.8 3.6zM153.6 156.2h3.6l-1.8 3.6zM154.2 156.4h3.6l-1.8 3.6zM154.8 156.6h3.6l-1.8 3.6zM155.5 156.9h3.6l-1.8 3.6zM156.1 157.4h3.6l-1.8 3.6zM156.7 157.9h3.6l-1.8 3.6zM157.3 158.3h3.6l-1.8 3.6zM157.9 158.1h3.6l-1.8 3.6zM158.6 158.5h3.6l-1.8 3.6zM159.2 158.9h3.6l-1.8 3.6zM159.8 159.1h3.6l-1.8 3.6zM160.4 159.4h3.6l-1.8 3.6zM161.0 160.0h3.6l-1.8 3.6zM161.7 160.3h3.6l-1.8 3.6zM162.3 160.4h3.6l-1.8 3.6zM162.9 161.0h3.6l-1.8 3.6zM163.5 161.4h3.6l-1.8 3.6zM164.1 161.7h3.6l-1.8 3.6zM164.8 161.8h3.6l-1.8 3.6zM165.4 162.4h3.6l-1.8 3.6zM166.0 162.6h3.6l-1.8 3.6zM166.6 162.9h3.6l-1.8 3.6zM167.2 163.5h3.6l-1.8 3.6zM167.9 163.6h3.6l-1.8 3.6zM168.5 164.1h3.6l-1.8 3.6zM169.1 164.4h3.6l-1.8 3.6zM169.7 164.8h3.6l-1.8 3.6zM170.3 165.1h3.6l-1.8 3.6zM171.0 165.2h3.6l-1.8 3.6zM171.6 165.5h3.6l-1.8 3.6zM172.2 166.3h3.6l-1.8 3.6zM172.8 166.3h3.6l-1.8 3.6zM173.4 166.9h3.6l-1.8 3.6zM174.1 166.7h3.6l-1.8 3.6zM174.7 167.5h3.6l-1.8 3.6zM175.3 167.5h3.6l-1.8 3.6zM175.9 167.9h3.6l-1.8 3.6zM176.5 168.2h3.6l-1.8 3.6zM177.2 168.9h3.6l-1.8 3.6zM177.8 168.9h3.6l-1.8 3.6zM178.4 169.2h3.6l-1.8 3.6zM179.0 169.7h3.6l-1.8 3.6zM179.6 169.9h3.6l-1.8 3.6zM180.3 170.2h3.6l-1.8 3.6zM180.9 170.9h3.6l-1.8 3.6zM181.5 171.1h3.6l-1.8 3.6zM182.1 171.3h3.6l-1.8 3.6zM182.7 171.7h3.6l-1.8 3.6zM183.4 172.2h3.6l-1.8 3.6zM184.0 172.6h3.6l-1.8 3.6zM184.6 172.8h3.6l-1.8 3.6zM185.2 173.2h3.6l-1.8 3.6zM185.8 173.4h3.6l-1.8 3.6zM186.5 173.8h3.6l-1.8 3.6zM187.1 174.3h3.6l-1.8 3.6zM187.7 174.7h3.6l-1.8 3.6zM188.3 174.8h3.6l-1.8 3.6zM188.9 175.4h3.6l-1.8 3.6zM189.6 175.4h3.6l-1.8 3.6zM190.2 176.0h3.6l-1.8 3.6zM190.8 176.6h3.6l-1.8 3.6zM191.4 176.7h3.6l-1.8 3.6zM192.0 177.0h3.6l-1.8 3.6zM192.7 177.7h3.6l-1.8 3.6zM193.3 177.9h3.6l-1.8 3.6zM193.9 178.3h3.6l-1.8 3.6zM194.5 178.6h3.6l-1.8 3.6zM195.1 179.0h3.6l-1.8 3.6zM195.8 178.9h3.6l-1.8 3.6zM196.4 179.5h3.6l-1.8 3.6zM197.0 180.0h3.6l-1.8 3.6zM197.6 180.2h3.6l-1.8 3.6zM198.2 180.6h3.6l-1.8 3.6zM198.9 181.2h3.6l-1.8 3.6zM199.5 181.5h3.6l-1.8 3.6zM200.1 181.6h3.6l-1.8 3.6zM200.7 182.3h3.6l-1.8 3.6zM201.3 182.5h3.6l-1.8 3.6zM202.0 182.9h3.6l-1.8 3.6zM202.6 183.5h3.6l-1.8 3.6zM203.2 183.6h3.6l-1.8 3.6zM203.8 184.0h3.6l-1.8 3.6zM204.4 184.7h3.6l-1.8 3.6zM205.1 184.7h3.6l-1.8 3.6zM205.7 185.1h3.6l-1.8 3.6zM206.3 185.5h3.6l-1.8 3.6zM206.9 185.9h3.6l-1.8 3.6zM207.5 186.1h3.6l-1.8 3.6zM208.2 186.6h3.6l-1.8 3.6zM208.8 187.0h3.6l-1.8 3.6zM209.4 187.1h3.6l-1.8 3.6zM210.0 187.8h3.6l-1.8 3.6zM210.6 188.2h3.6l-1.8 3.6zM211.3 188.6h3.6l-1.8 3.6zM211.9 189.1h3.6l-1.8 3.6zM212.5 189.1h3.6l-1.8 3.6zM213.1 189.5h3.6l-1.8 3.6zM213.7 189.9h3.6l-1.8 3.6zM214.4 190.3h3.6l-1.8 3.6zM215.0 190.8h3.6l-1.8 3.6zM215.6 191.0h3.6l-1.8 3.6zM216.2 191.8h3.6l-1.8 3.6zM216.8 191.9h3.6l-1.8 3.6zM217.5 192.2h3.6l-1.8 3.6zM218.1 192.6h3.6l-1.8 3.6zM218.7 193.0h3.6l-1.8 3.6zM219.3 193.5h3.6l-1.8 3.6zM219.9 193.8h3.6l-1.8 3.6zM220.6 193.9h3.6l-1.8 3.6zM221.2 194.8h3.6l-1.8 3.6zM221.8 194.9h3.6l-1.8 3.6zM222.4 195.4h3.6l-1.8 3.6zM223.0 195.6h3.6l-1.8 3.6zM223.7 196.2h3.6l-1.8 3.6zM224.3 196.5h3.6l-1.8 3.6zM224.9 196.7h3.6l-1.8 3.6zM225.5 197.0h3.6l-1.8 3.6zM226.1 197.5h3.6l-1.8 3.6zM226.8 198.1h3.6l-1.8 3.6zM227.4 198.6h3.6l-1.8 3.6zM228.0 199.1h3.6l-1.8 3.6zM228.6 199.1h3.6l-1.8 3.6zM229.2 199.3h3.6l-1.8 3.6zM229.9 199.8h3.6l-1.8 3.6zM230.5 200.2h3.6l-1.8 3.6zM231.1 200.8h3.6l-1.8 3.6zM231.7 201.1h3.6l-1.8 3.6zM232.3 201.4h3.6l-1.8 3.6zM233.0 201.7h3.6l-1.8 3.6zM233.6 202.3h3.6l-1.8 3.6zM234.2 203.0h3.6l-1.8 3.6zM234.8 203.3h3.6l-1.8 3.6zM235.4 203.4h3.6l-1.8 3.6zM236.1 203.9h3.6l-1.8 3.6zM236.7 204.2h3.6l-1.8 3.6zM237.3 204.9h3.6l-1.8 3.6zM237.9 205.3h3.6l-1.8 3.6zM238.5 205.5h3.6l-1.8 3.6zM239.2 205.7h3.6l-1.8 3.6zM239.8 206.5h3.6l-1.8 3.6zM240.4 206.6h3.6l-1.8 3.6zM241.0 207.1h3.6l-1.8 3.6zM241.6 207.5h3.6l-1.8 3.6zM242.3 207.8h3.6l-1.8 3.6zM242.9 208.3h3.6l-1.8 3.6zM243.5 208.5h3.6l-1.8 3.6zM244.1 209.2h3.6l-1.8 3.6zM244.7 209.1h3.6l-1.8 3.6zM245.4 209.9h3.6l-1.8 3.6zM246.0 210.1h3.6l-1.8 3.6zM246.6 210.4h3.6l-1.8 3.6zM247.2 211.2h3.6l-1.8 3.6zM247.8 211.3h3.6l-1.8 3.6zM248.5 211.6h3.6l-1.8 3.6zM249.1 212.0h3.6l-1.8 3.6zM249.7 212.7h3.6l-1.8 3.6zM250.3 212.8h3.6l-1.8 3.6zM250.9 213.2h3.6l-1.8 3.6zM251.6 213.8h3.6l-1.8 3.6zM252.2 214.1h3.6l-1.8 3.6zM252.8 214.5h3.6l-1.8 3.6zM253.4 215.0h3.6l-1.8 3.6zM254.0 215.5h3.6l-1.8 3.6zM254.7 215.4h3.6l-1.8 3.6zM255.3 216.2h3.6l-1.8 3.6zM255.9 216.6h3.6l-1.8 3.6zM256.5 216.9h3.6l-1.8 3.6zM257.1 217.5h3.6l-1.8 3.6zM257.8 217.8h3.6l-1.8 3.6zM258.4 217.8h3.6l-1.8 3.6zM259.0 218.8h3.6l-1.8 3.6zM259.6 219.0h3.6l-1.8 3.6zM260.2 219.2h3.6l-1.8 3.6zM260.9 219.7h3.6l-1.8 3.6zM261.5 219.8h3.6l-1.8 3.6zM262.1 220.2h3.6l-1.8 3.6zM262.7 220.7h3.6l-1.8 3.6zM263.3 221.2h3.6l-1.8 3.6zM264.0 221.7h3.6l-1.8 3.6zM264.6 222.2h3.6l-1.8 3.6zM265.2 222.1h3.6l-1.8 3.6zM265.8 223.0h3.6l-1.8 3.6zM266.4 223.2h3.6l-1.8 3.6zM267.1 223.7h3.6l-1.8 3.6zM267.7 223.8h3.6l-1.8 3.6zM268.3 224.9h3.6l-1.8 3.6zM268.9 224.6h3.6l-1.8 3.6zM269.5 225.0h3.6l-1.8 3.6zM270.2 226.4h3.6l-1.8 3.6zM270.8 225.6h3.6l-1.8 3.6zM271.4 226.0h3.6l-1.8 3.6zM272.0 226.7h3.6l-1.8 3.6zM272.6 227.6h3.6l-1.8 3.6zM273.3 227.1h3.6l-1.8 3.6zM273.9 228.1h3.6l-1.8 3.6zM274.5 228.2h3.6l-1.8 3.6zM275.1 229.1h3.6l-1.8 3.6zM275.7 229.1h3.6l-1.8 3.6zM276.4 228.9h3.6l-1.8 3.6zM277.0 230.5h3.6l-1.8 3.6zM277.6 230.1h3.6l-1.8 3.6zM278.2 230.8h3.6l-1.8 3.6zM278.8 230.0h3.6l-1.8 3.6zM279.5 232.1h3.6l-1.8 3.6zM280.1 231.3h3.6l-1.8 3.6zM280.7 231.6h3.6l-1.8 3.6zM281.3 231.7h3.6l-1.8 3.6zM281.9 232.7h3.6l-1.8 3.6zM282.6 233.1h3.6l-1.8 3.6zM283.2 233.5h3.6l-1.8 3.6zM283.8 233.2h3.6l-1.8 3.6zM284.4 235.8h3.6l-1.8 3.6zM285.0 234.4h3.6l-1.8 3.6zM285.7 234.8h3.6l-1.8 3.6zM286.3 234.1h3.6l-1.8 3.6zM286.9 235.0h3.6l-1.8 3.6zM287.5 236.2h3.6l-1.8 3.6zM288.1 237.4h3.6l-1.8 3.6zM288.8 237.4h3.6l-1.8 3.6zM289.4 237.1h3.6l-1.8 3.6zM290.0 237.3h3.6l-1.8 3.6zM290.6 237.8h3.6l-1.8 3.6zM291.2 238.0h3.6l-1.8 3.6zM291.9 239.0h3.6l-1.8 3.6zM292.5 238.4h3.6l-1.8 3.6zM293.1 241.0h3.6l-1.8 3.6zM293.7 240.9h3.6l-1.8 3.6zM294.3 240.0h3.6l-1.8 3.6zM295.0 238.4h3.6l-1.8 3.6zM295.6 239.3h3.6l-1.8 3.6zM296.2 239.9h3.6l-1.8 3.6zM296.8 243.8h3.6l-1.8 3.6zM297.4 240.4h3.6l-1.8 3.6zM298.1 241.9h3.6l-1.8 3.6zM298.7 241.1h3.6l-1.8 3.6zM299.3 243.0h3.6l-1.8 3.6zM299.9 243.1h3.6l-1.8 3.6zM300.5 244.8h3.6l-1.8 3.6zM301.2 243.4h3.6l-1.8 3.6zM301.8 243.5h3.6l-1.8 3.6zM302.4 242.3h3.6l-1.8 3.6zM303.0 245.0h3.6l-1.8 3.6zM303.6 245.6h3.6l-1.8 3.6zM304.3 246.5h3.6l-1.8 3.6zM304.9 247.6h3.6l-1.8 3.6zM305.5 246.4h3.6l-1.8 3.6zM306.1 246.5h3.6l-1.8 3.6zM306.7 247.5h3.6l-1.8 3.6zM307.4 244.5h3.6l-1.8 3.6zM308.0 248.0h3.6l-1.8 3.6zM308.6 244.3h3.6l-1.8 3.6zM309.2 248.5h3.6l-1.8 3.6zM309.8 249.9h3.6l-1.8 3.6zM310.5 248.2h3.6l-1.8 3.6zM311.1 246.2h3.6l-1.8 3.6zM311.7 249.7h3.6l-1.8 3.6zM312.3 250.8h3.6l-1.8 3.6zM312.9 246.6h3.6l-1.8 3.6zM313.6 250.9h3.6l-1.8 3.6zM314.2 252.1h3.6l-1.8 3.6zM314.8 248.9h3.6l-1.8 3.6zM315.4 255.0h3.6l-1.8 3.6zM316.0 257.5h3.6l-1.8 3.6zM316.7 253.0h3.6l-1.8 3.6zM317.3 256.1h3.6l-1.8 3.6zM317.9 250.8h3.6l-1.8 3.6zM318.5 253.7h3.6l-1.8 3.6zM319.1 253.3h3.6l-1.8 3.6zM319.8 251.3h3.6l-1.8 3.6zM320.4 249.0h3.6l-1.8 3.6zM321.0 253.2h3.6l-1.8 3.6zM321.6 253.8h3.6l-1.8 3.6zM322.2 255.2h3.6l-1.8 3.6zM322.9 254.2h3.6l-1.8 3.6zM323.5 255.7h3.6l-1.8 3.6zM324.7 262.2h3.6l-1.8 3.6zM325.3 254.8h3.6l-1.8 3.6zM326.0 257.9h3.6l-1.8 3.6zM326.6 259.4h3.6l-1.8 3.6zM327.2 255.6h3.6l-1.8 3.6zM327.8 262.0h3.6l-1.8 3.6zM328.4 260.6h3.6l-1.8 3.6zM329.7 263.6h3.6l-1.8 3.6zM330.3 252.6h3.6l-1.8 3.6zM330.9 257.3h3.6l-1.8 3.6zM331.5 262.2h3.6l-1.8 3.6zM332.8 256.8h3.6l-1.8 3.6zM333.4 254.2h3.6l-1.8 3.6zM334.0 263.3h3.6l-1.8 3.6zM334.6 259.6h3.6l-1.8 3.6zM335.3 259.6h3.6l-1.8 3.6zM335.9 259.2h3.6l-1.8 3.6zM336.5 258.6h3.6l-1.8 3.6zM337.1 264.8h3.6l-1.8 3.6zM337.7 257.3h3.6l-1.8 3.6zM338.4 256.6h3.6l-1.8 3.6zM339.0 263.8h3.6l-1.8 3.6zM339.6 266.6h3.6l-1.8 3.6zM340.2 264.3h3.6l-1.8 3.6zM340.8 267.1h3.6l-1.8 3.6zM341.5 265.9h3.6l-1.8 3.6zM342.1 254.5h3.6l-1.8 3.6zM342.7 252.3h3.6l-1.8 3.6zM343.3 273.5h3.6l-1.8 3.6zM344.6 262.7h3.6l-1.8 3.6zM345.2 267.1h3.6l-1.8 3.6zM345.8 270.6h3.6l-1.8 3.6zM346.4 269.3h3.6l-1.8 3.6zM347.0 265.4h3.6l-1.8 3.6zM347.7 261.8h3.6l-1.8 3.6zM348.3 266.6h3.6l-1.8 3.6zM348.9 258.3h3.6l-1.8 3.6zM349.5 272.3h3.6l-1.8 3.6zM350.1 272.5h3.6l-1.8 3.6zM350.8 269.6h3.6l-1.8 3.6zM351.4 269.2h3.6l-1.8 3.6zM352.6 270.0h3.6l-1.8 3.6zM353.2 270.2h3.6l-1.8 3.6zM354.5 269.0h3.6l-1.8 3.6zM355.1 265.1h3.6l-1.8 3.6zM355.7 264.2h3.6l-1.8 3.6zM357.0 273.8h3.6l-1.8 3.6zM357.6 266.5h3.6l-1.8 3.6zM358.2 266.6h3.6l-1.8 3.6zM358.8 265.5h3.6l-1.8 3.6zM359.4 271.3h3.6l-1.8 3.6zM360.7 272.0h3.6l-1.8 3.6zM361.3 273.1h3.6l-1.8 3.6zM362.5 268.1h3.6l-1.8 3.6zM363.2 273.7h3.6l-1.8 3.6zM363.8 264.4h3.6l-1.8 3.6zM365.6 285.5h3.6l-1.8 3.6zM366.3 273.3h3.6l-1.8 3.6zM367.5 266.8h3.6l-1.8 3.6zM368.1 272.0h3.6l-1.8 3.6zM368.7 281.8h3.6l-1.8 3.6zM370.6 273.4h3.6l-1.8 3.6zM372.5 272.7h3.6l-1.8 3.6zM373.1 278.4h3.6l-1.8 3.6zM373.7 275.8h3.6l-1.8 3.6zM375.6 277.2h3.6l-1.8 3.6zM376.2 274.4h3.6l-1.8 3.6zM376.8 269.0h3.6l-1.8 3.6zM377.4 280.3h3.6l-1.8 3.6zM378.7 274.1h3.6l-1.8 3.6zM379.9 266.6h3.6l-1.8 3.6zM380.5 267.6h3.6l-1.8 3.6zM56.0 306.3h3.4l-1.7 3.4zM56.9 297.4h3.4l-1.7 3.4zM58.5 306.3h3.4l-1.7 3.4zM56.6 290.1h3.4l-1.7 3.4zM58.8 290.0h3.4l-1.7 3.4zM63.3 289.9h3.4l-1.7 3.4zM65.3 290.0h3.4l-1.7 3.4zM54.8 297.7h3.4l-1.7 3.4zM59.8 297.7h3.4l-1.7 3.4zM62.1 297.7h3.4l-1.7 3.4zM64.0 297.6h3.4l-1.7 3.4zM68.2 297.6h3.4l-1.7 3.4z" fill="#ffcf00"/>
<path d="M68.3 307.1h3.6l-1.8 -3.6zM68.9 289.8h3.6l-1.8 -3.6zM69.2 285.7h3.6l-1.8 -3.6zM69.7 280.6h3.6l-1.8 -3.6zM70.2 274.8h3.6l-1.8 -3.6zM70.8 269.7h3.6l-1.8 -3.6zM71.5 264.9h3.6l-1.8 -3.6zM72.1 260.0h3.6l-1.8 -3.6zM72.7 255.4h3.6l-1.8 -3.6zM73.3 251.6h3.6l-1.8 -3.6zM73.9 247.6h3.6l-1.8 -3.6zM74.6 243.5h3.6l-1.8 -3.6zM75.2 239.4h3.6l-1.8 -3.6zM75.7 236.2h3.6l-1.8 -3.6zM76.2 233.1h3.6l-1.8 -3.6zM76.8 229.8h3.6l-1.8 -3.6zM77.3 226.2h3.6l-1.8 -3.6zM77.9 223.3h3.6l-1.8 -3.6zM78.4 220.0h3.6l-1.8 -3.6zM79.0 217.0h3.6l-1.8 -3.6zM79.7 213.6h3.6l-1.8 -3.6zM80.3 210.4h3.6l-1.8 -3.6zM80.9 207.2h3.6l-1.8 -3.6zM81.5 204.3h3.6l-1.8 -3.6zM82.1 202.0h3.6l-1.8 -3.6zM82.8 199.1h3.6l-1.8 -3.6zM83.4 196.6h3.6l-1.8 -3.6zM84.0 194.0h3.6l-1.8 -3.6zM84.6 192.2h3.6l-1.8 -3.6zM85.2 189.8h3.6l-1.8 -3.6zM85.9 187.8h3.6l-1.8 -3.6zM86.5 185.6h3.6l-1.8 -3.6zM87.1 183.7h3.6l-1.8 -3.6zM87.7 181.7h3.6l-1.8 -3.6zM88.3 179.9h3.6l-1.8 -3.6zM89.0 178.6h3.6l-1.8 -3.6zM89.6 177.2h3.6l-1.8 -3.6zM90.2 175.5h3.6l-1.8 -3.6zM90.8 174.3h3.6l-1.8 -3.6zM91.4 173.0h3.6l-1.8 -3.6zM92.1 171.8h3.6l-1.8 -3.6zM92.7 170.6h3.6l-1.8 -3.6zM93.3 169.5h3.6l-1.8 -3.6zM93.9 168.9h3.6l-1.8 -3.6zM94.5 167.9h3.6l-1.8 -3.6zM95.2 167.2h3.6l-1.8 -3.6zM95.8 166.4h3.6l-1.8 -3.6zM96.4 165.9h3.6l-1.8 -3.6zM97.0 164.9h3.6l-1.8 -3.6zM97.6 164.5h3.6l-1.8 -3.6zM98.3 164.0h3.6l-1.8 -3.6zM98.9 163.6h3.6l-1.8 -3.6zM99.5 163.2h3.6l-1.8 -3.6zM100.1 162.9h3.6l-1.8 -3.6zM100.7 162.5h3.6l-1.8 -3.6zM101.4 162.1h3.6l-1.8 -3.6zM102.0 161.9h3.6l-1.8 -3.6zM102.6 161.6h3.6l-1.8 -3.6zM103.2 161.4h3.6l-1.8 -3.6zM103.8 160.9h3.6l-1.8 -3.6zM104.5 161.1h3.6l-1.8 -3.6zM105.1 160.6h3.6l-1.8 -3.6zM105.7 160.7h3.6l-1.8 -3.6zM106.3 160.5h3.6l-1.8 -3.6zM106.9 160.6h3.6l-1.8 -3.6zM107.6 160.6h3.6l-1.8 -3.6zM108.2 160.3h3.6l-1.8 -3.6zM108.8 160.3h3.6l-1.8 -3.6zM109.4 160.4h3.6l-1.8 -3.6zM110.0 160.2h3.6l-1.8 -3.6zM110.7 160.0h3.6l-1.8 -3.6zM111.3 159.8h3.6l-1.8 -3.6zM111.9 160.1h3.6l-1.8 -3.6zM112.5 160.1h3.6l-1.8 -3.6zM113.1 160.0h3.6l-1.8 -3.6zM113.8 159.9h3.6l-1.8 -3.6zM114.4 160.0h3.6l-1.8 -3.6zM115.0 159.9h3.6l-1.8 -3.6zM115.6 160.0h3.6l-1.8 -3.6zM116.2 160.3h3.6l-1.8 -3.6zM116.9 160.2h3.6l-1.8 -3.6zM117.5 160.1h3.6l-1.8 -3.6zM118.1 160.1h3.6l-1.8 -3.6zM118.7 160.4h3.6l-1.8 -3.6zM119.3 160.7h3.6l-1.8 -3.6zM120.0 161.0h3.6l-1.8 -3.6zM120.6 160.5h3.6l-1.8 -3.6zM121.2 160.6h3.6l-1.8 -3.6zM121.8 160.7h3.6l-1.8 -3.6zM122.4 161.1h3.6l-1.8 -3.6zM123.1 161.4h3.6l-1.8 -3.6zM123.7 161.3h3.6l-1.8 -3.6zM124.3 161.5h3.6l-1.8 -3.6zM124.9 161.2h3.6l-1.8 -3.6zM125.5 161.6h3.6l-1.8 -3.6zM126.2 161.7h3.6l-1.8 -3.6zM126.8 162.1h3.6l-1.8 -3.6zM127.4 162.1h3.6l-1.8 -3.6zM128.0 162.1h3.6l-1.8 -3.6zM128.6 162.1h3.6l-1.8 -3.6zM129.3 162.4h3.6l-1.8 -3.6zM129.9 162.5h3.6l-1.8 -3.6zM130.5 162.5h3.6l-1.8 -3.6zM131.1 162.5h3.6l-1.8 -3.6zM131.7 163.0h3.6l-1.8 -3.6zM132.4 163.2h3.6l-1.8 -3.6zM133.0 163.4h3.6l-1.8 -3.6zM133.6 163.2h3.6l-1.8 -3.6zM134.2 163.3h3.6l-1.8 -3.6zM134.8 163.7h3.6l-1.8 -3.6zM135.5 164.0h3.6l-1.8 -3.6zM136.1 164.0h3.6l-1.8 -3.6zM136.7 164.3h3.6l-1.8 -3.6zM137.3 164.5h3.6l-1.8 -3.6zM137.9 164.5h3.6l-1.8 -3.6zM138.6 165.0h3.6l-1.8 -3.6zM139.2 164.7h3.6l-1.8 -3.6zM139.8 165.2h3.6l-1.8 -3.6zM140.4 165.5h3.6l-1.8 -3.6zM141.0 165.7h3.6l-1.8 -3.6zM141.7 165.8h3.6l-1.8 -3.6zM142.3 165.5h3.6l-1.8 -3.6zM142.9 166.0h3.6l-1.8 -3.6zM143.5 166.1h3.6l-1.8 -3.6zM144.1 166.8h3.6l-1.8 -3.6zM144.8 166.9h3.6l-1.8 -3.6zM145.4 167.1h3.6l-1.8 -3.6zM146.0 167.3h3.6l-1.8 -3.6zM146.6 167.5h3.6l-1.8 -3.6zM147.2 167.8h3.6l-1.8 -3.6zM147.9 167.8h3.6l-1.8 -3.6zM148.5 167.9h3.6l-1.8 -3.6zM149.1 168.3h3.6l-1.8 -3.6zM149.7 168.3h3.6l-1.8 -3.6zM150.3 168.9h3.6l-1.8 -3.6zM151.0 169.0h3.6l-1.8 -3.6zM151.6 169.5h3.6l-1.8 -3.6zM152.2 169.7h3.6l-1.8 -3.6zM152.8 169.8h3.6l-1.8 -3.6zM153.4 170.1h3.6l-1.8 -3.6zM154.1 170.3h3.6l-1.8 -3.6zM154.7 170.9h3.6l-1.8 -3.6zM155.3 171.0h3.6l-1.8 -3.6zM155.9 171.3h3.6l-1.8 -3.6zM156.5 171.5h3.6l-1.8 -3.6zM157.2 171.7h3.6l-1.8 -3.6zM157.8 172.1h3.6l-1.8 -3.6zM158.4 172.2h3.6l-1.8 -3.6zM159.0 172.5h3.6l-1.8 -3.6zM159.6 173.0h3.6l-1.8 -3.6zM160.3 173.1h3.6l-1.8 -3.6zM160.9 173.1h3.6l-1.8 -3.6zM161.5 173.8h3.6l-1.8 -3.6zM162.1 174.2h3.6l-1.8 -3.6zM162.7 174.4h3.6l-1.8 -3.6zM163.4 174.4h3.6l-1.8 -3.6zM164.0 175.4h3.6l-1.8 -3.6zM164.6 174.9h3.6l-1.8 -3.6zM165.2 175.8h3.6l-1.8 -3.6zM165.8 176.1h3.6l-1.8 -3.6zM166.5 176.1h3.6l-1.8 -3.6zM167.1 176.7h3.6l-1.8 -3.6zM167.7 176.8h3.6l-1.8 -3.6zM168.3 177.0h3.6l-1.8 -3.6zM168.9 177.6h3.6l-1.8 -3.6zM169.6 177.9h3.6l-1.8 -3.6zM170.2 178.1h3.6l-1.8 -3.6zM170.8 178.3h3.6l-1.8 -3.6zM171.4 178.8h3.6l-1.8 -3.6zM172.0 179.2h3.6l-1.8 -3.6zM172.7 179.6h3.6l-1.8 -3.6zM173.3 179.7h3.6l-1.8 -3.6zM173.9 180.1h3.6l-1.8 -3.6zM174.5 180.6h3.6l-1.8 -3.6zM175.1 180.7h3.6l-1.8 -3.6zM175.8 181.3h3.6l-1.8 -3.6zM176.4 181.3h3.6l-1.8 -3.6zM177.0 181.8h3.6l-1.8 -3.6zM177.6 182.4h3.6l-1.8 -3.6zM178.2 182.6h3.6l-1.8 -3.6zM178.9 182.8h3.6l-1.8 -3.6zM179.5 183.3h3.6l-1.8 -3.6zM180.1 183.5h3.6l-1.8 -3.6zM180.7 184.0h3.6l-1.8 -3.6zM181.3 184.4h3.6l-1.8 -3.6zM182.0 184.6h3.6l-1.8 -3.6zM182.6 185.1h3.6l-1.8 -3.6zM183.2 185.2h3.6l-1.8 -3.6zM183.8 186.0h3.6l-1.8 -3.6zM184.4 186.5h3.6l-1.8 -3.6zM185.1 186.5h3.6l-1.8 -3.6zM185.7 186.7h3.6l-1.8 -3.6zM186.3 187.4h3.6l-1.8 -3.6zM186.9 187.7h3.6l-1.8 -3.6zM187.5 188.2h3.6l-1.8 -3.6zM188.2 188.3h3.6l-1.8 -3.6zM188.8 188.9h3.6l-1.8 -3.6zM189.4 189.3h3.6l-1.8 -3.6zM190.0 189.8h3.6l-1.8 -3.6zM190.6 190.0h3.6l-1.8 -3.6zM191.3 190.5h3.6l-1.8 -3.6zM191.9 190.9h3.6l-1.8 -3.6zM192.5 191.3h3.6l-1.8 -3.6zM193.1 191.4h3.6l-1.8 -3.6zM193.7 192.0h3.6l-1.8 -3.6zM194.4 192.5h3.6l-1.8 -3.6zM195.0 192.7h3.6l-1.8 -3.6zM195.6 193.2h3.6l-1.8 -3.6zM196.2 193.7h3.6l-1.8 -3.6zM196.8 193.8h3.6l-1.8 -3.6zM197.5 194.5h3.6l-1.8 -3.6zM198.1 194.6h3.6l-1.8 -3.6zM198.7 195.0h3.6l-1.8 -3.6zM199.3 195.5h3.6l-1.8 -3.6zM199.9 195.8h3.6l-1.8 -3.6zM200.6 196.5h3.6l-1.8 -3.6zM201.2 196.8h3.6l-1.8 -3.6zM201.8 197.1h3.6l-1.8 -3.6zM202.4 197.4h3.6l-1.8 -3.6zM203.0 198.1h3.6l-1.8 -3.6zM203.7 198.4h3.6l-1.8 -3.6zM204.3 199.0h3.6l-1.8 -3.6zM204.9 199.4h3.6l-1.8 -3.6zM205.5 199.8h3.6l-1.8 -3.6zM206.1 199.9h3.6l-1.8 -3.6zM206.8 200.6h3.6l-1.8 -3.6zM207.4 201.0h3.6l-1.8 -3.6zM208.0 201.1h3.6l-1.8 -3.6zM208.6 201.7h3.6l-1.8 -3.6zM209.2 202.1h3.6l-1.8 -3.6zM209.9 202.5h3.6l-1.8 -3.6zM210.5 202.8h3.6l-1.8 -3.6zM211.1 203.4h3.6l-1.8 -3.6zM211.7 203.8h3.6l-1.8 -3.6zM212.3 204.0h3.6l-1.8 -3.6zM213.0 204.6h3.6l-1.8 -3.6zM213.6 204.6h3.6l-1.8 -3.6zM214.2 205.3h3.6l-1.8 -3.6zM214.8 205.6h3.6l-1.8 -3.6zM215.4 205.9h3.6l-1.8 -3.6zM216.1 206.7h3.6l-1.8 -3.6zM216.7 206.6h3.6l-1.8 -3.6zM217.3 207.1h3.6l-1.8 -3.6zM217.9 207.6h3.6l-1.8 -3.6zM218.5 207.8h3.6l-1.8 -3.6zM219.2 208.4h3.6l-1.8 -3.6zM219.8 208.7h3.6l-1.8 -3.6zM220.4 209.2h3.6l-1.8 -3.6zM221.0 209.3h3.6l-1.8 -3.6zM221.6 209.9h3.6l-1.8 -3.6zM222.3 210.5h3.6l-1.8 -3.6zM222.9 210.6h3.6l-1.8 -3.6zM223.5 211.3h3.6l-1.8 -3.6zM224.1 211.6h3.6l-1.8 -3.6zM224.7 211.6h3.6l-1.8 -3.6zM225.4 212.4h3.6l-1.8 -3.6zM226.0 212.7h3.6l-1.8 -3.6zM226.6 212.8h3.6l-1.8 -3.6zM227.2 213.4h3.6l-1.8 -3.6zM227.8 213.8h3.6l-1.8 -3.6zM228.5 214.3h3.6l-1.8 -3.6zM229.1 214.7h3.6l-1.8 -3.6zM229.7 215.1h3.6l-1.8 -3.6zM230.3 215.4h3.6l-1.8 -3.6zM230.9 215.7h3.6l-1.8 -3.6zM231.6 216.0h3.6l-1.8 -3.6zM232.2 216.6h3.6l-1.8 -3.6zM232.8 216.5h3.6l-1.8 -3.6zM233.4 217.0h3.6l-1.8 -3.6zM234.0 217.7h3.6l-1.8 -3.6zM234.7 217.9h3.6l-1.8 -3.6zM235.3 218.3h3.6l-1.8 -3.6zM235.9 218.6h3.6l-1.8 -3.6zM236.5 218.9h3.6l-1.8 -3.6zM237.1 219.3h3.6l-1.8 -3.6zM237.8 219.5h3.6l-1.8 -3.6zM238.4 220.1h3.6l-1.8 -3.6zM239.0 220.5h3.6l-1.8 -3.6zM239.6 220.8h3.6l-1.8 -3.6zM240.2 220.9h3.6l-1.8 -3.6zM240.9 221.0h3.6l-1.8 -3.6zM241.5 221.5h3.6l-1.8 -3.6zM242.1 222.1h3.6l-1.8 -3.6zM242.7 222.5h3.6l-1.8 -3.6zM243.3 222.8h3.6l-1.8 -3.6zM244.0 223.1h3.6l-1.8 -3.6zM244.6 223.3h3.6l-1.8 -3.6zM245.2 223.9h3.6l-1.8 -3.6zM245.8 224.4h3.6l-1.8 -3.6zM246.4 224.7h3.6l-1.8 -3.6zM247.1 224.9h3.6l-1.8 -3.6zM247.7 225.4h3.6l-1.8 -3.6zM248.3 225.7h3.6l-1.8 -3.6zM248.9 225.7h3.6l-1.8 -3.6zM249.5 226.3h3.6l-1.8 -3.6zM250.2 226.7h3.6l-1.8 -3.6zM250.8 226.9h3.6l-1.8 -3.6zM251.4 227.2h3.6l-1.8 -3.6zM252.0 227.6h3.6l-1.8 -3.6zM252.6 227.9h3.6l-1.8 -3.6zM253.3 228.3h3.6l-1.8 -3.6zM253.9 228.8h3.6l-1.8 -3.6zM254.5 228.9h3.6l-1.8 -3.6zM255.1 229.1h3.6l-1.8 -3.6zM255.7 229.7h3.6l-1.8 -3.6zM256.4 229.8h3.6l-1.8 -3.6zM257.0 230.3h3.6l-1.8 -3.6zM257.6 230.8h3.6l-1.8 -3.6zM258.2 230.7h3.6l-1.8 -3.6zM258.8 231.7h3.6l-1.8 -3.6zM259.5 231.6h3.6l-1.8 -3.6zM260.1 232.2h3.6l-1.8 -3.6zM260.7 232.4h3.6l-1.8 -3.6zM261.3 232.8h3.6l-1.8 -3.6zM261.9 233.2h3.6l-1.8 -3.6zM262.6 233.2h3.6l-1.8 -3.6zM263.2 233.3h3.6l-1.8 -3.6zM263.8 233.9h3.6l-1.8 -3.6zM264.4 234.4h3.6l-1.8 -3.6zM265.0 234.6h3.6l-1.8 -3.6zM265.7 235.1h3.6l-1.8 -3.6zM266.3 235.1h3.6l-1.8 -3.6zM266.9 235.7h3.6l-1.8 -3.6zM267.5 236.0h3.6l-1.8 -3.6zM268.1 236.4h3.6l-1.8 -3.6zM268.8 236.6h3.6l-1.8 -3.6zM269.4 237.0h3.6l-1.8 -3.6zM270.0 237.1h3.6l-1.8 -3.6zM270.6 237.9h3.6l-1.8 -3.6zM271.2 238.1h3.6l-1.8 -3.6zM271.9 238.1h3.6l-1.8 -3.6zM272.5 238.7h3.6l-1.8 -3.6zM273.1 239.0h3.6l-1.8 -3.6zM273.7 239.4h3.6l-1.8 -3.6zM274.3 239.8h3.6l-1.8 -3.6zM275.0 240.1h3.6l-1.8 -3.6zM275.6 240.4h3.6l-1.8 -3.6zM276.2 240.4h3.6l-1.8 -3.6zM276.8 241.1h3.6l-1.8 -3.6zM277.4 241.4h3.6l-1.8 -3.6zM278.1 241.6h3.6l-1.8 -3.6zM278.7 242.1h3.6l-1.8 -3.6zM279.3 242.3h3.6l-1.8 -3.6zM279.9 242.8h3.6l-1.8 -3.6zM280.5 243.2h3.6l-1.8 -3.6zM281.2 243.5h3.6l-1.8 -3.6zM281.8 243.9h3.6l-1.8 -3.6zM282.4 243.8h3.6l-1.8 -3.6zM283.0 244.2h3.6l-1.8 -3.6zM283.6 244.8h3.6l-1.8 -3.6zM284.3 244.9h3.6l-1.8 -3.6zM284.9 244.8h3.6l-1.8 -3.6zM285.5 246.2h3.6l-1.8 -3.6zM286.1 245.8h3.6l-1.8 -3.6zM286.7 246.1h3.6l-1.8 -3.6zM287.4 246.8h3.6l-1.8 -3.6zM288.0 246.6h3.6l-1.8 -3.6zM288.6 247.6h3.6l-1.8 -3.6zM289.2 248.3h3.6l-1.8 -3.6zM289.8 247.5h3.6l-1.8 -3.6zM290.5 247.9h3.6l-1.8 -3.6zM291.1 248.0h3.6l-1.8 -3.6zM291.7 248.9h3.6l-1.8 -3.6zM292.3 249.1h3.6l-1.8 -3.6zM292.9 249.4h3.6l-1.8 -3.6zM293.6 250.6h3.6l-1.8 -3.6zM294.2 251.0h3.6l-1.8 -3.6zM294.8 250.7h3.6l-1.8 -3.6zM295.4 249.7h3.6l-1.8 -3.6zM296.0 251.9h3.6l-1.8 -3.6zM296.7 251.9h3.6l-1.8 -3.6zM297.3 252.0h3.6l-1.8 -3.6zM297.9 252.1h3.6l-1.8 -3.6zM298.5 253.0h3.6l-1.8 -3.6zM299.1 252.7h3.6l-1.8 -3.6zM299.8 252.8h3.6l-1.8 -3.6zM300.4 253.7h3.6l-1.8 -3.6zM301.0 252.7h3.6l-1.8 -3.6zM301.6 255.5h3.6l-1.8 -3.6zM302.2 253.4h3.6l-1.8 -3.6zM302.9 256.6h3.6l-1.8 -3.6zM303.5 256.0h3.6l-1.8 -3.6zM304.1 256.7h3.6l-1.8 -3.6zM304.7 257.2h3.6l-1.8 -3.6zM305.3 253.9h3.6l-1.8 -3.6zM306.0 257.2h3.6l-1.8 -3.6zM306.6 257.4h3.6l-1.8 -3.6zM307.2 257.9h3.6l-1.8 -3.6zM307.8 257.4h3.6l-1.8 -3.6zM308.4 258.6h3.6l-1.8 -3.6zM309.1 258.4h3.6l-1.8 -3.6zM309.7 259.6h3.6l-1.8 -3.6zM310.3 261.1h3.6l-1.8 -3.6zM310.9 261.6h3.6l-1.8 -3.6zM311.5 261.2h3.6l-1.8 -3.6zM312.2 259.2h3.6l-1.8 -3.6zM312.8 259.7h3.6l-1.8 -3.6zM313.4 262.4h3.6l-1.8 -3.6zM314.0 262.2h3.6l-1.8 -3.6zM314.6 262.5h3.6l-1.8 -3.6zM315.3 262.6h3.6l-1.8 -3.6zM315.9 263.1h3.6l-1.8 -3.6zM316.5 266.2h3.6l-1.8 -3.6zM317.1 264.3h3.6l-1.8 -3.6zM317.7 266.9h3.6l-1.8 -3.6zM318.4 263.5h3.6l-1.8 -3.6zM319.0 266.8h3.6l-1.8 -3.6zM319.6 266.3h3.6l-1.8 -3.6zM320.2 267.9h3.6l-1.8 -3.6zM320.8 264.6h3.6l-1.8 -3.6zM321.5 265.9h3.6l-1.8 -3.6zM322.1 265.7h3.6l-1.8 -3.6zM322.7 266.9h3.6l-1.8 -3.6zM323.3 267.4h3.6l-1.8 -3.6zM323.9 267.9h3.6l-1.8 -3.6zM324.6 268.9h3.6l-1.8 -3.6zM325.2 268.8h3.6l-1.8 -3.6zM325.8 269.2h3.6l-1.8 -3.6zM326.4 268.3h3.6l-1.8 -3.6zM327.0 269.4h3.6l-1.8 -3.6zM327.7 270.6h3.6l-1.8 -3.6zM328.3 268.4h3.6l-1.8 -3.6zM328.9 271.8h3.6l-1.8 -3.6zM329.5 270.6h3.6l-1.8 -3.6zM330.1 273.5h3.6l-1.8 -3.6zM330.8 272.9h3.6l-1.8 -3.6zM331.4 271.6h3.6l-1.8 -3.6zM332.0 270.9h3.6l-1.8 -3.6zM332.6 272.1h3.6l-1.8 -3.6zM333.2 275.5h3.6l-1.8 -3.6zM333.9 273.7h3.6l-1.8 -3.6zM334.5 273.9h3.6l-1.8 -3.6zM335.1 275.7h3.6l-1.8 -3.6zM335.7 273.2h3.6l-1.8 -3.6zM336.3 275.0h3.6l-1.8 -3.6zM337.0 275.5h3.6l-1.8 -3.6zM337.6 275.7h3.6l-1.8 -3.6zM338.2 274.6h3.6l-1.8 -3.6zM338.8 282.9h3.6l-1.8 -3.6zM339.4 272.6h3.6l-1.8 -3.6zM340.1 277.5h3.6l-1.8 -3.6zM340.7 276.9h3.6l-1.8 -3.6zM341.3 278.3h3.6l-1.8 -3.6zM341.9 276.7h3.6l-1.8 -3.6zM342.5 271.3h3.6l-1.8 -3.6zM343.2 276.1h3.6l-1.8 -3.6zM343.8 278.3h3.6l-1.8 -3.6zM345.0 278.4h3.6l-1.8 -3.6zM346.3 276.4h3.6l-1.8 -3.6zM346.9 277.9h3.6l-1.8 -3.6zM347.5 281.6h3.6l-1.8 -3.6zM348.1 282.9h3.6l-1.8 -3.6zM348.7 287.9h3.6l-1.8 -3.6zM349.4 276.8h3.6l-1.8 -3.6zM350.0 287.7h3.6l-1.8 -3.6zM350.6 279.0h3.6l-1.8 -3.6zM351.2 278.5h3.6l-1.8 -3.6zM351.8 277.8h3.6l-1.8 -3.6zM352.5 277.0h3.6l-1.8 -3.6zM353.7 283.0h3.6l-1.8 -3.6zM354.3 280.9h3.6l-1.8 -3.6zM354.9 284.5h3.6l-1.8 -3.6zM355.6 286.3h3.6l-1.8 -3.6zM356.2 283.8h3.6l-1.8 -3.6zM357.4 285.2h3.6l-1.8 -3.6zM358.0 290.6h3.6l-1.8 -3.6zM358.7 286.7h3.6l-1.8 -3.6zM359.3 287.1h3.6l-1.8 -3.6zM359.9 286.3h3.6l-1.8 -3.6zM360.5 280.5h3.6l-1.8 -3.6zM361.1 280.0h3.6l-1.8 -3.6zM361.8 278.9h3.6l-1.8 -3.6zM362.4 287.1h3.6l-1.8 -3.6zM363.6 281.1h3.6l-1.8 -3.6zM364.9 284.0h3.6l-1.8 -3.6zM365.5 283.3h3.6l-1.8 -3.6zM366.1 282.3h3.6l-1.8 -3.6zM366.7 278.7h3.6l-1.8 -3.6zM367.3 279.4h3.6l-1.8 -3.6zM368.0 289.7h3.6l-1.8 -3.6zM368.6 279.5h3.6l-1.8 -3.6zM369.8 283.0h3.6l-1.8 -3.6zM370.4 281.5h3.6l-1.8 -3.6zM371.1 279.0h3.6l-1.8 -3.6zM372.3 285.4h3.6l-1.8 -3.6zM372.9 287.4h3.6l-1.8 -3.6zM373.5 279.7h3.6l-1.8 -3.6zM374.2 291.4h3.6l-1.8 -3.6zM375.4 291.9h3.6l-1.8 -3.6zM376.0 282.1h3.6l-1.8 -3.6zM376.6 278.0h3.6l-1.8 -3.6zM377.3 286.6h3.6l-1.8 -3.6zM377.9 284.5h3.6l-1.8 -3.6zM378.5 286.1h3.6l-1.8 -3.6zM379.7 286.9h3.6l-1.8 -3.6zM380.4 290.3h3.6l-1.8 -3.6zM381.0 289.0h3.6l-1.8 -3.6zM61.0 303.7h3.4l-1.7 -3.4zM64.7 300.0h3.4l-1.7 -3.4zM70.3 303.7h3.4l-1.7 -3.4zM54.9 308.5h3.4l-1.7 -3.4zM59.4 308.6h3.4l-1.7 -3.4zM61.8 308.6h3.4l-1.7 -3.4zM64.3 308.4h3.4l-1.7 -3.4zM67.0 308.4h3.4l-1.7 -3.4zM56.3 321.3h3.4l-1.7 -3.4zM59.1 321.2h3.4l-1.7 -3.4zM61.6 321.0h3.4l-1.7 -3.4zM63.6 321.1h3.4l-1.7 -3.4zM68.4 321.2h3.4l-1.7 -3.4z" fill="#ffa200"/>
<path d="M74.5 303.4v3.6l-3.6 -1.8zM75.1 283.0v3.6l-3.6 -1.8zM75.3 279.1v3.6l-3.6 -1.8zM75.8 273.6v3.6l-3.6 -1.8zM76.3 268.0v3.6l-3.6 -1.8zM76.8 262.7v3.6l-3.6 -1.8zM77.5 257.2v3.6l-3.6 -1.8zM78.1 252.3v3.6l-3.6 -1.8zM78.7 248.0v3.6l-3.6 -1.8zM79.3 243.4v3.6l-3.6 -1.8zM79.9 239.7v3.6l-3.6 -1.8zM80.6 235.8v3.6l-3.6 -1.8zM81.1 232.6v3.6l-3.6 -1.8zM81.6 229.1v3.6l-3.6 -1.8zM82.2 226.0v3.6l-3.6 -1.8zM82.8 223.0v3.6l-3.6 -1.8zM83.4 219.9v3.6l-3.6 -1.8zM84.1 216.9v3.6l-3.6 -1.8zM84.7 213.6v3.6l-3.6 -1.8zM85.3 211.4v3.6l-3.6 -1.8zM85.9 209.5v3.6l-3.6 -1.8zM86.5 207.0v3.6l-3.6 -1.8zM87.2 204.9v3.6l-3.6 -1.8zM87.8 203.0v3.6l-3.6 -1.8zM88.4 201.2v3.6l-3.6 -1.8zM89.0 199.3v3.6l-3.6 -1.8zM89.6 197.9v3.6l-3.6 -1.8zM90.3 196.2v3.6l-3.6 -1.8zM90.9 194.8v3.6l-3.6 -1.8zM91.5 193.0v3.6l-3.6 -1.8zM92.1 191.5v3.6l-3.6 -1.8zM92.7 190.5v3.6l-3.6 -1.8zM93.4 189.6v3.6l-3.6 -1.8zM94.0 188.1v3.6l-3.6 -1.8zM94.6 187.1v3.6l-3.6 -1.8zM95.2 185.9v3.6l-3.6 -1.8zM95.8 184.9v3.6l-3.6 -1.8zM96.5 184.1v3.6l-3.6 -1.8zM97.1 183.2v3.6l-3.6 -1.8zM97.7 182.4v3.6l-3.6 -1.8zM98.3 181.5v3.6l-3.6 -1.8zM98.9 180.7v3.6l-3.6 -1.8zM99.6 180.1v3.6l-3.6 -1.8zM100.2 179.3v3.6l-3.6 -1.8zM100.8 178.8v3.6l-3.6 -1.8zM101.4 178.3v3.6l-3.6 -1.8zM102.0 177.5v3.6l-3.6 -1.8zM102.7 177.0v3.6l-3.6 -1.8zM103.3 176.6v3.6l-3.6 -1.8zM103.9 176.3v3.6l-3.6 -1.8zM104.5 175.9v3.6l-3.6 -1.8zM105.1 175.3v3.6l-3.6 -1.8zM105.8 175.2v3.6l-3.6 -1.8zM106.4 174.5v3.6l-3.6 -1.8zM107.0 174.1v3.6l-3.6 -1.8zM107.6 174.0v3.6l-3.6 -1.8zM108.2 173.7v3.6l-3.6 -1.8zM108.9 173.7v3.6l-3.6 -1.8zM109.5 173.3v3.6l-3.6 -1.8zM110.1 173.1v3.6l-3.6 -1.8zM110.7 172.9v3.6l-3.6 -1.8zM111.3 173.0v3.6l-3.6 -1.8zM112.0 172.4v3.6l-3.6 -1.8zM112.6 172.7v3.6l-3.6 -1.8zM113.2 172.2v3.6l-3.6 -1.8zM113.8 172.4v3.6l-3.6 -1.8zM114.4 172.2v3.6l-3.6 -1.8zM115.1 171.9v3.6l-3.6 -1.8zM115.7 172.3v3.6l-3.6 -1.8zM116.3 172.1v3.6l-3.6 -1.8zM116.9 171.9v3.6l-3.6 -1.8zM117.5 171.8v3.6l-3.6 -1.8zM118.2 171.9v3.6l-3.6 -1.8zM118.8 172.1v3.6l-3.6 -1.8zM119.4 171.9v3.6l-3.6 -1.8zM120.0 171.8v3.6l-3.6 -1.8zM120.6 171.7v3.6l-3.6 -1.8zM121.3 171.8v3.6l-3.6 -1.8zM121.9 171.9v3.6l-3.6 -1.8zM122.5 172.1v3.6l-3.6 -1.8zM123.1 172.0v3.6l-3.6 -1.8zM123.7 171.9v3.6l-3.6 -1.8zM124.4 172.1v3.6l-3.6 -1.8zM125.0 172.2v3.6l-3.6 -1.8zM125.6 171.9v3.6l-3.6 -1.8zM126.2 172.2v3.6l-3.6 -1.8zM126.8 172.2v3.6l-3.6 -1.8zM127.5 172.7v3.6l-3.6 -1.8zM128.1 172.7v3.6l-3.6 -1.8zM128.7 172.6v3.6l-3.6 -1.8zM129.3 172.5v3.6l-3.6 -1.8zM129.9 173.0v3.6l-3.6 -1.8zM130.6 173.0v3.6l-3.6 -1.8zM131.2 172.9v3.6l-3.6 -1.8zM131.8 173.3v3.6l-3.6 -1.8zM132.4 173.5v3.6l-3.6 -1.8zM133.0 173.6v3.6l-3.6 -1.8zM133.7 173.9v3.6l-3.6 -1.8zM134.3 173.9v3.6l-3.6 -1.8zM134.9 173.7v3.6l-3.6 -1.8zM135.5 174.0v3.6l-3.6 -1.8zM136.1 174.5v3.6l-3.6 -1.8zM136.8 174.6v3.6l-3.6 -1.8zM137.4 174.7v3.6l-3.6 -1.8zM138.0 174.8v3.6l-3.6 -1.8zM138.6 175.4v3.6l-3.6 -1.8zM139.2 175.3v3.6l-3.6 -1.8zM139.9 175.7v3.6l-3.6 -1.8zM140.5 175.5v3.6l-3.6 -1.8zM141.1 176.2v3.6l-3.6 -1.8zM141.7 176.4v3.6l-3.6 -1.8zM142.3 176.4v3.6l-3.6 -1.8zM143.0 176.5v3.6l-3.6 -1.8zM143.6 176.5v3.6l-3.6 -1.8zM144.2 177.0v3.6l-3.6 -1.8zM144.8 177.5v3.6l-3.6 -1.8zM145.4 177.7v3.6l-3.6 -1.8zM146.1 177.7v3.6l-3.6 -1.8zM146.7 177.9v3.6l-3.6 -1.8zM147.3 178.2v3.6l-3.6 -1.8zM147.9 178.8v3.6l-3.6 -1.8zM148.5 178.9v3.6l-3.6 -1.8zM149.2 178.9v3.6l-3.6 -1.8zM149.8 179.4v3.6l-3.6 -1.8zM150.4 179.6v3.6l-3.6 -1.8zM151.0 180.0v3.6l-3.6 -1.8zM151.6 180.2v3.6l-3.6 -1.8zM152.3 180.7v3.6l-3.6 -1.8zM152.9 180.8v3.6l-3.6 -1.8zM153.5 181.2v3.6l-3.6 -1.8zM154.1 181.2v3.6l-3.6 -1.8zM154.7 181.7v3.6l-3.6 -1.8zM155.4 181.6v3.6l-3.6 -1.8zM156.0 182.3v3.6l-3.6 -1.8zM156.6 182.6v3.6l-3.6 -1.8zM157.2 183.0v3.6l-3.6 -1.8zM157.8 183.3v3.6l-3.6 -1.8zM158.5 183.5v3.6l-3.6 -1.8zM159.1 183.9v3.6l-3.6 -1.8zM159.7 183.9v3.6l-3.6 -1.8zM160.3 184.7v3.6l-3.6 -1.8zM160.9 184.9v3.6l-3.6 -1.8zM161.6 185.4v3.6l-3.6 -1.8zM162.2 185.6v3.6l-3.6 -1.8zM162.8 186.1v3.6l-3.6 -1.8zM163.4 186.5v3.6l-3.6 -1.8zM164.0 186.7v3.6l-3.6 -1.8zM164.7 187.2v3.6l-3.6 -1.8zM165.3 187.7v3.6l-3.6 -1.8zM165.9 187.6v3.6l-3.6 -1.8zM166.5 188.1v3.6l-3.6 -1.8zM167.1 188.6v3.6l-3.6 -1.8zM167.8 188.9v3.6l-3.6 -1.8zM168.4 189.3v3.6l-3.6 -1.8zM169.0 189.8v3.6l-3.6 -1.8zM169.6 190.1v3.6l-3.6 -1.8zM170.2 190.6v3.6l-3.6 -1.8zM170.9 190.6v3.6l-3.6 -1.8zM171.5 191.3v3.6l-3.6 -1.8zM172.1 191.7v3.6l-3.6 -1.8zM172.7 192.1v3.6l-3.6 -1.8zM173.3 192.3v3.6l-3.6 -1.8zM174.0 192.9v3.6l-3.6 -1.8zM174.6 193.1v3.6l-3.6 -1.8zM175.2 193.3v3.6l-3.6 -1.8zM175.8 194.0v3.6l-3.6 -1.8zM176.4 194.3v3.6l-3.6 -1.8zM177.1 194.7v3.6l-3.6 -1.8zM177.7 195.1v3.6l-3.6 -1.8zM178.3 195.3v3.6l-3.6 -1.8zM178.9 195.7v3.6l-3.6 -1.8zM179.5 196.5v3.6l-3.6 -1.8zM180.2 196.6v3.6l-3.6 -1.8zM180.8 197.0v3.6l-3.6 -1.8zM181.4 197.6v3.6l-3.6 -1.8zM182.0 198.1v3.6l-3.6 -1.8zM182.6 198.4v3.6l-3.6 -1.8zM183.3 198.6v3.6l-3.6 -1.8zM183.9 199.0v3.6l-3.6 -1.8zM184.5 199.5v3.6l-3.6 -1.8zM185.1 199.9v3.6l-3.6 -1.8zM185.7 200.3v3.6l-3.6 -1.8zM186.4 200.5v3.6l-3.6 -1.8zM187.0 201.1v3.6l-3.6 -1.8zM187.6 201.3v3.6l-3.6 -1.8zM188.2 201.9v3.6l-3.6 -1.8zM188.8 202.1v3.6l-3.6 -1.8zM189.5 202.8v3.6l-3.6 -1.8zM190.1 203.0v3.6l-3.6 -1.8zM190.7 203.2v3.6l-3.6 -1.8zM191.3 203.5v3.6l-3.6 -1.8zM191.9 204.3v3.6l-3.6 -1.8zM192.6 204.2v3.6l-3.6 -1.8zM193.2 204.9v3.6l-3.6 -1.8zM193.8 204.9v3.6l-3.6 -1.8zM194.4 205.4v3.6l-3.6 -1.8zM195.0 205.7v3.6l-3.6 -1.8zM195.7 206.2v3.6l-3.6 -1.8zM196.3 206.3v3.6l-3.6 -1.8zM196.9 207.1v3.6l-3.6 -1.8zM197.5 207.3v3.6l-3.6 -1.8zM198.1 207.6v3.6l-3.6 -1.8zM198.8 207.9v3.6l-3.6 -1.8zM199.4 208.4v3.6l-3.6 -1.8zM200.0 208.6v3.6l-3.6 -1.8zM200.6 209.0v3.6l-3.6 -1.8zM201.2 209.3v3.6l-3.6 -1.8zM201.9 209.5v3.6l-3.6 -1.8zM202.5 210.0v3.6l-3.6 -1.8zM203.1 210.5v3.6l-3.6 -1.8zM203.7 210.8v3.6l-3.6 -1.8zM204.3 211.0v3.6l-3.6 -1.8zM205.0 211.5v3.6l-3.6 -1.8zM205.6 211.7v3.6l-3.6 -1.8zM206.2 211.9v3.6l-3.6 -1.8zM206.8 212.4v3.6l-3.6 -1.8zM207.4 212.7v3.6l-3.6 -1.8zM208.1 212.8v3.6l-3.6 -1.8zM208.7 213.5v3.6l-3.6 -1.8zM209.3 213.2v3.6l-3.6 -1.8zM209.9 214.0v3.6l-3.6 -1.8zM210.5 214.2v3.6l-3.6 -1.8zM211.2 214.7v3.6l-3.6 -1.8zM211.8 214.8v3.6l-3.6 -1.8zM212.4 215.1v3.6l-3.6 -1.8zM213.0 215.5v3.6l-3.6 -1.8zM213.6 215.8v3.6l-3.6 -1.8zM214.3 216.1v3.6l-3.6 -1.8zM214.9 216.6v3.6l-3.6 -1.8zM215.5 217.0v3.6l-3.6 -1.8zM216.1 217.4v3.6l-3.6 -1.8zM216.7 217.6v3.6l-3.6 -1.8zM217.4 218.2v3.6l-3.6 -1.8zM218.0 218.3v3.6l-3.6 -1.8zM218.6 218.4v3.6l-3.6 -1.8zM219.2 219.0v3.6l-3.6 -1.8zM219.8 219.2v3.6l-3.6 -1.8zM220.5 219.5v3.6l-3.6 -1.8zM221.1 220.2v3.6l-3.6 -1.8zM221.7 220.3v3.6l-3.6 -1.8zM222.3 220.7v3.6l-3.6 -1.8zM222.9 221.1v3.6l-3.6 -1.8zM223.6 221.2v3.6l-3.6 -1.8zM224.2 221.6v3.6l-3.6 -1.8zM224.8 222.3v3.6l-3.6 -1.8zM225.4 222.5v3.6l-3.6 -1.8zM226.0 222.8v3.6l-3.6 -1.8zM226.7 223.1v3.6l-3.6 -1.8zM227.3 223.4v3.6l-3.6 -1.8zM227.9 223.9v3.6l-3.6 -1.8zM228.5 224.3v3.6l-3.6 -1.8zM229.1 224.5v3.6l-3.6 -1.8zM229.8 225.1v3.6l-3.6 -1.8zM230.4 225.6v3.6l-3.6 -1.8zM231.0 225.6v3.6l-3.6 -1.8zM231.6 225.9v3.6l-3.6 -1.8zM232.2 226.3v3.6l-3.6 -1.8zM232.9 226.8v3.6l-3.6 -1.8zM233.5 227.3v3.6l-3.6 -1.8zM234.1 227.5v3.6l-3.6 -1.8zM234.7 228.2v3.6l-3.6 -1.8zM235.3 228.7v3.6l-3.6 -1.8zM236.0 228.9v3.6l-3.6 -1.8zM236.6 229.0v3.6l-3.6 -1.8zM237.2 229.7v3.6l-3.6 -1.8zM237.8 230.3v3.6l-3.6 -1.8zM238.4 230.4v3.6l-3.6 -1.8zM239.1 230.9v3.6l-3.6 -1.8zM239.7 231.0v3.6l-3.6 -1.8zM240.3 231.6v3.6l-3.6 -1.8zM240.9 232.0v3.6l-3.6 -1.8zM241.5 232.7v3.6l-3.6 -1.8zM242.2 233.2v3.6l-3.6 -1.8zM242.8 233.4v3.6l-3.6 -1.8zM243.4 233.4v3.6l-3.6 -1.8zM244.0 234.1v3.6l-3.6 -1.8zM244.6 234.6v3.6l-3.6 -1.8zM245.3 235.1v3.6l-3.6 -1.8zM245.9 235.2v3.6l-3.6 -1.8zM246.5 235.7v3.6l-3.6 -1.8zM247.1 236.1v3.6l-3.6 -1.8zM247.7 236.6v3.6l-3.6 -1.8zM248.4 236.6v3.6l-3.6 -1.8zM249.0 237.0v3.6l-3.6 -1.8zM249.6 237.4v3.6l-3.6 -1.8zM250.2 237.9v3.6l-3.6 -1.8zM250.8 238.3v3.6l-3.6 -1.8zM251.5 238.5v3.6l-3.6 -1.8zM252.1 239.1v3.6l-3.6 -1.8zM252.7 239.2v3.6l-3.6 -1.8zM253.3 239.6v3.6l-3.6 -1.8zM253.9 240.2v3.6l-3.6 -1.8zM254.6 240.8v3.6l-3.6 -1.8zM255.2 240.7v3.6l-3.6 -1.8zM255.8 241.4v3.6l-3.6 -1.8zM256.4 241.6v3.6l-3.6 -1.8zM257.0 241.8v3.6l-3.6 -1.8zM257.7 242.2v3.6l-3.6 -1.8zM258.3 242.7v3.6l-3.6 -1.8zM258.9 242.9v3.6l-3.6 -1.8zM259.5 243.4v3.6l-3.6 -1.8zM260.1 243.8v3.6l-3.6 -1.8zM260.8 244.2v3.6l-3.6 -1.8zM261.4 244.6v3.6l-3.6 -1.8zM262.0 244.8v3.6l-3.6 -1.8zM262.6 245.0v3.6l-3.6 -1.8zM263.2 245.4v3.6l-3.6 -1.8zM263.9 246.0v3.6l-3.6 -1.8zM264.5 246.1v3.6l-3.6 -1.8zM265.1 246.5v3.6l-3.6 -1.8zM265.7 246.7v3.6l-3.6 -1.8zM266.3 247.3v3.6l-3.6 -1.8zM267.0 247.4v3.6l-3.6 -1.8zM267.6 247.8v3.6l-3.6 -1.8zM268.2 248.2v3.6l-3.6 -1.8zM268.8 248.9v3.6l-3.6 -1.8zM269.4 249.0v3.6l-3.6 -1.8zM270.1 249.2v3.6l-3.6 -1.8zM270.7 249.7v3.6l-3.6 -1.8zM271.3 249.8v3.6l-3.6 -1.8zM271.9 250.1v3.6l-3.6 -1.8zM272.5 250.8v3.6l-3.6 -1.8zM273.2 250.7v3.6l-3.6 -1.8zM273.8 251.1v3.6l-3.6 -1.8zM274.4 251.6v3.6l-3.6 -1.8zM275.0 251.6v3.6l-3.6 -1.8zM275.6 252.4v3.6l-3.6 -1.8zM276.3 252.6v3.6l-3.6 -1.8zM276.9 253.0v3.6l-3.6 -1.8zM277.5 253.6v3.6l-3.6 -1.8zM278.1 253.6v3.6l-3.6 -1.8zM278.7 253.6v3.6l-3.6 -1.8zM279.4 254.0v3.6l-3.6 -1.8zM280.0 254.7v3.6l-3.6 -1.8zM280.6 254.7v3.6l-3.6 -1.8zM281.2 254.8v3.6l-3.6 -1.8zM281.8 255.6v3.6l-3.6 -1.8zM282.5 255.6v3.6l-3.6 -1.8zM283.1 256.0v3.6l-3.6 -1.8zM283.7 256.4v3.6l-3.6 -1.8zM284.3 256.6v3.6l-3.6 -1.8zM284.9 256.9v3.6l-3.6 -1.8zM285.6 257.0v3.6l-3.6 -1.8zM286.2 257.2v3.6l-3.6 -1.8zM286.8 257.3v3.6l-3.6 -1.8zM287.4 258.1v3.6l-3.6 -1.8zM288.0 258.2v3.6l-3.6 -1.8zM288.7 259.4v3.6l-3.6 -1.8zM289.3 258.7v3.6l-3.6 -1.8zM289.9 258.8v3.6l-3.6 -1.8zM290.5 259.5v3.6l-3.6 -1.8zM291.1 259.4v3.6l-3.6 -1.8zM291.8 260.1v3.6l-3.6 -1.8zM292.4 259.4v3.6l-3.6 -1.8zM293.0 260.5v3.6l-3.6 -1.8zM293.6 260.9v3.6l-3.6 -1.8zM294.2 261.9v3.6l-3.6 -1.8zM294.9 261.3v3.6l-3.6 -1.8zM295.5 261.0v3.6l-3.6 -1.8zM296.1 262.0v3.6l-3.6 -1.8zM296.7 262.4v3.6l-3.6 -1.8zM297.3 263.4v3.6l-3.6 -1.8zM298.0 263.0v3.6l-3.6 -1.8zM298.6 263.4v3.6l-3.6 -1.8zM299.2 263.8v3.6l-3.6 -1.8zM299.8 263.5v3.6l-3.6 -1.8zM300.4 264.8v3.6l-3.6 -1.8zM301.1 263.5v3.6l-3.6 -1.8zM301.7 263.7v3.6l-3.6 -1.8zM302.3 264.5v3.6l-3.6 -1.8zM302.9 265.0v3.6l-3.6 -1.8zM303.5 264.6v3.6l-3.6 -1.8zM304.2 266.0v3.6l-3.6 -1.8zM304.8 266.4v3.6l-3.6 -1.8zM305.4 264.5v3.6l-3.6 -1.8zM306.0 266.2v3.6l-3.6 -1.8zM306.6 266.9v3.6l-3.6 -1.8zM307.3 266.5v3.6l-3.6 -1.8zM307.9 265.5v3.6l-3.6 -1.8zM308.5 266.8v3.6l-3.6 -1.8zM309.1 266.7v3.6l-3.6 -1.8zM309.7 266.8v3.6l-3.6 -1.8zM310.4 269.9v3.6l-3.6 -1.8zM311.0 266.8v3.6l-3.6 -1.8zM311.6 267.9v3.6l-3.6 -1.8zM312.2 268.2v3.6l-3.6 -1.8zM312.8 269.0v3.6l-3.6 -1.8zM313.5 268.9v3.6l-3.6 -1.8zM314.1 269.0v3.6l-3.6 -1.8zM314.7 269.0v3.6l-3.6 -1.8zM315.3 269.5v3.6l-3.6 -1.8zM315.9 271.4v3.6l-3.6 -1.8zM316.6 271.0v3.6l-3.6 -1.8zM317.2 270.2v3.6l-3.6 -1.8zM317.8 269.3v3.6l-3.6 -1.8zM318.4 270.3v3.6l-3.6 -1.8zM319.0 271.4v3.6l-3.6 -1.8zM319.7 270.8v3.6l-3.6 -1.8zM320.3 272.5v3.6l-3.6 -1.8zM320.9 270.5v3.6l-3.6 -1.8zM321.5 270.8v3.6l-3.6 -1.8zM322.1 269.6v3.6l-3.6 -1.8zM322.8 273.4v3.6l-3.6 -1.8zM323.4 273.0v3.6l-3.6 -1.8zM324.0 273.4v3.6l-3.6 -1.8zM324.6 272.8v3.6l-3.6 -1.8zM325.2 272.2v3.6l-3.6 -1.8zM325.9 273.5v3.6l-3.6 -1.8zM326.5 271.2v3.6l-3.6 -1.8zM327.1 276.1v3.6l-3.6 -1.8zM327.7 273.4v3.6l-3.6 -1.8zM328.3 272.4v3.6l-3.6 -1.8zM329.0 274.2v3.6l-3.6 -1.8zM329.6 273.3v3.6l-3.6 -1.8zM330.2 276.0v3.6l-3.6 -1.8zM330.8 272.3v3.6l-3.6 -1.8zM331.4 277.2v3.6l-3.6 -1.8zM332.1 274.3v3.6l-3.6 -1.8zM332.7 276.0v3.6l-3.6 -1.8zM333.3 276.7v3.6l-3.6 -1.8zM333.9 272.7v3.6l-3.6 -1.8zM334.5 275.0v3.6l-3.6 -1.8zM335.2 278.2v3.6l-3.6 -1.8zM335.8 276.2v3.6l-3.6 -1.8zM336.4 274.6v3.6l-3.6 -1.8zM337.0 276.2v3.6l-3.6 -1.8zM337.6 277.4v3.6l-3.6 -1.8zM338.3 276.6v3.6l-3.6 -1.8zM338.9 275.3v3.6l-3.6 -1.8zM339.5 277.4v3.6l-3.6 -1.8zM340.1 278.5v3.6l-3.6 -1.8zM340.7 277.5v3.6l-3.6 -1.8zM341.4 275.2v3.6l-3.6 -1.8zM342.0 280.9v3.6l-3.6 -1.8zM342.6 278.5v3.6l-3.6 -1.8zM343.2 278.0v3.6l-3.6 -1.8zM343.8 279.0v3.6l-3.6 -1.8zM344.5 279.0v3.6l-3.6 -1.8zM345.1 275.5v3.6l-3.6 -1.8zM345.7 275.1v3.6l-3.6 -1.8zM346.3 280.0v3.6l-3.6 -1.8zM346.9 282.6v3.6l-3.6 -1.8zM347.6 281.5v3.6l-3.6 -1.8zM348.2 278.5v3.6l-3.6 -1.8zM348.8 278.9v3.6l-3.6 -1.8zM349.4 282.9v3.6l-3.6 -1.8zM350.0 278.2v3.6l-3.6 -1.8zM350.7 278.2v3.6l-3.6 -1.8zM351.3 277.3v3.6l-3.6 -1.8zM351.9 280.6v3.6l-3.6 -1.8zM352.5 280.8v3.6l-3.6 -1.8zM353.1 281.2v3.6l-3.6 -1.8zM353.8 284.3v3.6l-3.6 -1.8zM354.4 277.7v3.6l-3.6 -1.8zM355.0 283.9v3.6l-3.6 -1.8zM355.6 278.4v3.6l-3.6 -1.8zM356.2 280.4v3.6l-3.6 -1.8zM356.9 285.6v3.6l-3.6 -1.8zM357.5 284.2v3.6l-3.6 -1.8zM358.1 279.7v3.6l-3.6 -1.8zM358.7 280.6v3.6l-3.6 -1.8zM359.3 281.5v3.6l-3.6 -1.8zM360.0 286.6v3.6l-3.6 -1.8zM360.6 283.3v3.6l-3.6 -1.8zM361.2 280.3v3.6l-3.6 -1.8zM361.8 283.9v3.6l-3.6 -1.8zM362.4 283.6v3.6l-3.6 -1.8zM363.1 278.6v3.6l-3.6 -1.8zM363.7 285.0v3.6l-3.6 -1.8zM364.3 286.2v3.6l-3.6 -1.8zM364.9 279.2v3.6l-3.6 -1.8zM365.5 287.7v3.6l-3.6 -1.8zM366.2 286.2v3.6l-3.6 -1.8zM366.8 281.5v3.6l-3.6 -1.8zM367.4 283.3v3.6l-3.6 -1.8zM368.0 285.3v3.6l-3.6 -1.8zM368.6 284.9v3.6l-3.6 -1.8zM369.3 275.1v3.6l-3.6 -1.8zM369.9 281.9v3.6l-3.6 -1.8zM370.5 278.8v3.6l-3.6 -1.8zM371.1 283.7v3.6l-3.6 -1.8zM371.7 286.5v3.6l-3.6 -1.8zM372.4 280.3v3.6l-3.6 -1.8zM373.0 289.0v3.6l-3.6 -1.8zM374.8 286.0v3.6l-3.6 -1.8zM375.5 285.1v3.6l-3.6 -1.8zM376.1 286.7v3.6l-3.6 -1.8zM376.7 283.0v3.6l-3.6 -1.8zM377.3 281.8v3.6l-3.6 -1.8zM377.9 281.0v3.6l-3.6 -1.8zM378.6 287.8v3.6l-3.6 -1.8zM379.2 287.7v3.6l-3.6 -1.8zM379.8 289.6v3.6l-3.6 -1.8zM380.4 285.7v3.6l-3.6 -1.8zM381.0 288.8v3.6l-3.6 -1.8zM381.7 290.6v3.6l-3.6 -1.8zM382.3 281.9v3.6l-3.6 -1.8zM382.9 285.3v3.6l-3.6 -1.8zM383.5 288.5v3.6l-3.6 -1.8zM384.1 286.1v3.6l-3.6 -1.8zM384.8 286.7v3.6l-3.6 -1.8zM61.3 300.2v3.4l-3.4 -1.7zM69.9 320.8v3.4l-3.4 -1.7zM58.6 311.3v3.4l-3.4 -1.7zM60.7 311.2v3.4l-3.4 -1.7zM63.2 311.1v3.4l-3.4 -1.7zM65.3 311.1v3.4l-3.4 -1.7zM70.7 310.9v3.4l-3.4 -1.7zM72.4 311.2v3.4l-3.4 -1.7z" fill="#ff7a00"/>
<path d="M73.2 320.4v3.6l3.6 -1.8zM73.8 313.2v3.6l3.6 -1.8zM74.2 306.0v3.6l3.6 -1.8zM74.5 299.2v3.6l3.6 -1.8zM74.7 292.5v3.6l3.6 -1.8zM74.8 285.7v3.6l3.6 -1.8zM74.9 277.1v3.6l3.6 -1.8zM75.0 270.5v3.6l3.6 -1.8zM75.2 266.2v3.6l3.6 -1.8zM75.3 261.6v3.6l3.6 -1.8zM75.6 257.0v3.6l3.6 -1.8zM75.9 252.0v3.6l3.6 -1.8zM76.3 246.9v3.6l3.6 -1.8zM76.9 241.6v3.6l3.6 -1.8zM77.5 237.3v3.6l3.6 -1.8zM78.0 233.8v3.6l3.6 -1.8zM78.6 230.9v3.6l3.6 -1.8zM79.2 227.6v3.6l3.6 -1.8zM79.8 224.8v3.6l3.6 -1.8zM80.4 222.1v3.6l3.6 -1.8zM81.0 220.1v3.6l3.6 -1.8zM81.7 217.6v3.6l3.6 -1.8zM82.3 216.0v3.6l3.6 -1.8zM82.9 214.1v3.6l3.6 -1.8zM83.5 212.2v3.6l3.6 -1.8zM84.1 211.0v3.6l3.6 -1.8zM84.8 209.4v3.6l3.6 -1.8zM85.4 208.0v3.6l3.6 -1.8zM86.0 206.7v3.6l3.6 -1.8zM86.6 205.6v3.6l3.6 -1.8zM87.2 204.2v3.6l3.6 -1.8zM87.9 203.3v3.6l3.6 -1.8zM88.5 202.4v3.6l3.6 -1.8zM89.1 201.3v3.6l3.6 -1.8zM89.7 200.5v3.6l3.6 -1.8zM90.3 199.7v3.6l3.6 -1.8zM91.0 198.9v3.6l3.6 -1.8zM91.6 198.0v3.6l3.6 -1.8zM92.2 197.1v3.6l3.6 -1.8zM92.8 196.7v3.6l3.6 -1.8zM93.4 196.0v3.6l3.6 -1.8zM94.1 195.4v3.6l3.6 -1.8zM94.7 194.9v3.6l3.6 -1.8zM95.3 194.1v3.6l3.6 -1.8zM95.9 194.0v3.6l3.6 -1.8zM96.5 193.2v3.6l3.6 -1.8zM97.2 192.9v3.6l3.6 -1.8zM97.8 192.2v3.6l3.6 -1.8zM98.4 192.0v3.6l3.6 -1.8zM99.0 191.8v3.6l3.6 -1.8zM99.6 191.5v3.6l3.6 -1.8zM100.3 191.0v3.6l3.6 -1.8zM100.9 191.0v3.6l3.6 -1.8zM101.5 190.5v3.6l3.6 -1.8zM102.1 190.5v3.6l3.6 -1.8zM102.7 190.3v3.6l3.6 -1.8zM103.4 190.0v3.6l3.6 -1.8zM104.0 189.7v3.6l3.6 -1.8zM104.6 189.5v3.6l3.6 -1.8zM105.2 189.7v3.6l3.6 -1.8zM105.8 189.3v3.6l3.6 -1.8zM106.5 189.4v3.6l3.6 -1.8zM107.1 189.1v3.6l3.6 -1.8zM107.7 189.0v3.6l3.6 -1.8zM108.3 189.0v3.6l3.6 -1.8zM108.9 188.8v3.6l3.6 -1.8zM109.6 188.8v3.6l3.6 -1.8zM110.2 188.4v3.6l3.6 -1.8zM110.8 188.6v3.6l3.6 -1.8zM111.4 188.5v3.6l3.6 -1.8zM112.0 188.5v3.6l3.6 -1.8zM112.7 188.8v3.6l3.6 -1.8zM113.3 188.6v3.6l3.6 -1.8zM113.9 188.5v3.6l3.6 -1.8zM114.5 188.7v3.6l3.6 -1.8zM115.1 188.5v3.6l3.6 -1.8zM115.8 188.9v3.6l3.6 -1.8zM116.4 188.7v3.6l3.6 -1.8zM117.0 188.5v3.6l3.6 -1.8zM117.6 188.6v3.6l3.6 -1.8zM118.2 188.8v3.6l3.6 -1.8zM118.9 188.9v3.6l3.6 -1.8zM119.5 189.1v3.6l3.6 -1.8zM120.1 189.0v3.6l3.6 -1.8zM120.7 189.3v3.6l3.6 -1.8zM121.3 189.2v3.6l3.6 -1.8zM122.0 189.0v3.6l3.6 -1.8zM122.6 189.3v3.6l3.6 -1.8zM123.2 189.5v3.6l3.6 -1.8zM123.8 189.6v3.6l3.6 -1.8zM124.4 189.8v3.6l3.6 -1.8zM125.1 189.9v3.6l3.6 -1.8zM125.7 190.0v3.6l3.6 -1.8zM126.3 190.3v3.6l3.6 -1.8zM126.9 190.2v3.6l3.6 -1.8zM127.5 190.5v3.6l3.6 -1.8zM128.2 190.5v3.6l3.6 -1.8zM128.8 190.6v3.6l3.6 -1.8zM129.4 190.7v3.6l3.6 -1.8zM130.0 191.2v3.6l3.6 -1.8zM130.6 191.2v3.6l3.6 -1.8zM131.3 191.5v3.6l3.6 -1.8zM131.9 191.6v3.6l3.6 -1.8zM132.5 191.6v3.6l3.6 -1.8zM133.1 191.9v3.6l3.6 -1.8zM133.7 192.0v3.6l3.6 -1.8zM134.4 192.2v3.6l3.6 -1.8zM135.0 192.5v3.6l3.6 -1.8zM135.6 192.6v3.6l3.6 -1.8zM136.2 192.9v3.6l3.6 -1.8zM136.8 193.0v3.6l3.6 -1.8zM137.5 193.2v3.6l3.6 -1.8zM138.1 193.3v3.6l3.6 -1.8zM138.7 193.6v3.6l3.6 -1.8zM139.3 193.9v3.6l3.6 -1.8zM139.9 194.2v3.6l3.6 -1.8zM140.6 194.4v3.6l3.6 -1.8zM141.2 194.5v3.6l3.6 -1.8zM141.8 194.5v3.6l3.6 -1.8zM142.4 195.3v3.6l3.6 -1.8zM143.0 195.3v3.6l3.6 -1.8zM143.7 195.3v3.6l3.6 -1.8zM144.3 195.5v3.6l3.6 -1.8zM144.9 196.0v3.6l3.6 -1.8zM145.5 196.0v3.6l3.6 -1.8zM146.1 196.4v3.6l3.6 -1.8zM146.8 196.5v3.6l3.6 -1.8zM147.4 196.8v3.6l3.6 -1.8zM148.0 197.3v3.6l3.6 -1.8zM148.6 197.4v3.6l3.6 -1.8zM149.2 197.6v3.6l3.6 -1.8zM149.9 197.8v3.6l3.6 -1.8zM150.5 198.0v3.6l3.6 -1.8zM151.1 198.4v3.6l3.6 -1.8zM151.7 198.5v3.6l3.6 -1.8zM152.3 198.9v3.6l3.6 -1.8zM153.0 199.3v3.6l3.6 -1.8zM153.6 199.4v3.6l3.6 -1.8zM154.2 199.5v3.6l3.6 -1.8zM154.8 199.8v3.6l3.6 -1.8zM155.4 200.0v3.6l3.6 -1.8zM156.1 200.4v3.6l3.6 -1.8zM156.7 200.7v3.6l3.6 -1.8zM157.3 201.0v3.6l3.6 -1.8zM157.9 201.6v3.6l3.6 -1.8zM158.5 201.6v3.6l3.6 -1.8zM159.2 201.8v3.6l3.6 -1.8zM159.8 202.1v3.6l3.6 -1.8zM160.4 202.2v3.6l3.6 -1.8zM161.0 202.6v3.6l3.6 -1.8zM161.6 203.0v3.6l3.6 -1.8zM162.3 203.1v3.6l3.6 -1.8zM162.9 203.3v3.6l3.6 -1.8zM163.5 203.5v3.6l3.6 -1.8zM164.1 204.0v3.6l3.6 -1.8zM164.7 204.1v3.6l3.6 -1.8zM165.4 204.2v3.6l3.6 -1.8zM166.0 204.8v3.6l3.6 -1.8zM166.6 205.3v3.6l3.6 -1.8zM167.2 205.4v3.6l3.6 -1.8zM167.8 205.7v3.6l3.6 -1.8zM168.5 206.0v3.6l3.6 -1.8zM169.1 206.2v3.6l3.6 -1.8zM169.7 206.4v3.6l3.6 -1.8zM170.3 206.9v3.6l3.6 -1.8zM170.9 207.2v3.6l3.6 -1.8zM171.6 207.5v3.6l3.6 -1.8zM172.2 207.9v3.6l3.6 -1.8zM172.8 208.4v3.6l3.6 -1.8zM173.4 208.4v3.6l3.6 -1.8zM174.0 208.9v3.6l3.6 -1.8zM174.7 208.7v3.6l3.6 -1.8zM175.3 209.3v3.6l3.6 -1.8zM175.9 209.5v3.6l3.6 -1.8zM176.5 210.0v3.6l3.6 -1.8zM177.1 210.3v3.6l3.6 -1.8zM177.8 210.6v3.6l3.6 -1.8zM178.4 210.8v3.6l3.6 -1.8zM179.0 211.0v3.6l3.6 -1.8zM179.6 211.6v3.6l3.6 -1.8zM180.2 211.7v3.6l3.6 -1.8zM180.9 212.2v3.6l3.6 -1.8zM181.5 212.2v3.6l3.6 -1.8zM182.1 212.7v3.6l3.6 -1.8zM182.7 213.3v3.6l3.6 -1.8zM183.3 213.5v3.6l3.6 -1.8zM184.0 213.8v3.6l3.6 -1.8zM184.6 214.2v3.6l3.6 -1.8zM185.2 214.5v3.6l3.6 -1.8zM185.8 214.8v3.6l3.6 -1.8zM186.4 214.9v3.6l3.6 -1.8zM187.1 215.3v3.6l3.6 -1.8zM187.7 216.0v3.6l3.6 -1.8zM188.3 216.1v3.6l3.6 -1.8zM188.9 216.4v3.6l3.6 -1.8zM189.5 216.8v3.6l3.6 -1.8zM190.2 217.0v3.6l3.6 -1.8zM190.8 217.3v3.6l3.6 -1.8zM191.4 217.8v3.6l3.6 -1.8zM192.0 218.1v3.6l3.6 -1.8zM192.6 218.5v3.6l3.6 -1.8zM193.3 218.8v3.6l3.6 -1.8zM193.9 219.4v3.6l3.6 -1.8zM194.5 219.5v3.6l3.6 -1.8zM195.1 220.0v3.6l3.6 -1.8zM195.7 220.1v3.6l3.6 -1.8zM196.4 220.7v3.6l3.6 -1.8zM197.0 220.9v3.6l3.6 -1.8zM197.6 221.3v3.6l3.6 -1.8zM198.2 221.7v3.6l3.6 -1.8zM198.8 222.1v3.6l3.6 -1.8zM199.5 222.3v3.6l3.6 -1.8zM200.1 222.4v3.6l3.6 -1.8zM200.7 222.8v3.6l3.6 -1.8zM201.3 222.9v3.6l3.6 -1.8zM201.9 223.5v3.6l3.6 -1.8zM202.6 223.9v3.6l3.6 -1.8zM203.2 224.6v3.6l3.6 -1.8zM203.8 224.3v3.6l3.6 -1.8zM204.4 225.3v3.6l3.6 -1.8zM205.0 225.6v3.6l3.6 -1.8zM205.7 225.6v3.6l3.6 -1.8zM206.3 226.3v3.6l3.6 -1.8zM206.9 226.1v3.6l3.6 -1.8zM207.5 226.7v3.6l3.6 -1.8zM208.1 227.3v3.6l3.6 -1.8zM208.8 227.6v3.6l3.6 -1.8zM209.4 228.1v3.6l3.6 -1.8zM210.0 228.1v3.6l3.6 -1.8zM210.6 228.5v3.6l3.6 -1.8zM211.2 228.8v3.6l3.6 -1.8zM211.9 228.8v3.6l3.6 -1.8zM212.5 229.6v3.6l3.6 -1.8zM213.1 229.7v3.6l3.6 -1.8zM213.7 230.1v3.6l3.6 -1.8zM214.3 230.7v3.6l3.6 -1.8zM215.0 231.0v3.6l3.6 -1.8zM215.6 231.3v3.6l3.6 -1.8zM216.2 231.7v3.6l3.6 -1.8zM216.8 232.0v3.6l3.6 -1.8zM217.4 232.5v3.6l3.6 -1.8zM218.1 232.7v3.6l3.6 -1.8zM218.7 233.1v3.6l3.6 -1.8zM219.3 233.6v3.6l3.6 -1.8zM219.9 233.7v3.6l3.6 -1.8zM220.5 233.9v3.6l3.6 -1.8zM221.2 234.5v3.6l3.6 -1.8zM221.8 234.6v3.6l3.6 -1.8zM222.4 235.1v3.6l3.6 -1.8zM223.0 235.4v3.6l3.6 -1.8zM223.6 235.9v3.6l3.6 -1.8zM224.3 236.1v3.6l3.6 -1.8zM224.9 236.5v3.6l3.6 -1.8zM225.5 236.8v3.6l3.6 -1.8zM226.1 237.3v3.6l3.6 -1.8zM226.7 237.5v3.6l3.6 -1.8zM227.4 237.7v3.6l3.6 -1.8zM228.0 238.0v3.6l3.6 -1.8zM228.6 238.5v3.6l3.6 -1.8zM229.2 238.8v3.6l3.6 -1.8zM229.8 239.1v3.6l3.6 -1.8zM230.5 239.5v3.6l3.6 -1.8zM231.1 239.8v3.6l3.6 -1.8zM231.7 239.9v3.6l3.6 -1.8zM232.3 240.6v3.6l3.6 -1.8zM232.9 240.9v3.6l3.6 -1.8zM233.6 241.6v3.6l3.6 -1.8zM234.2 241.7v3.6l3.6 -1.8zM234.8 241.7v3.6l3.6 -1.8zM235.4 242.1v3.6l3.6 -1.8zM236.0 242.5v3.6l3.6 -1.8zM236.7 242.8v3.6l3.6 -1.8zM237.3 243.1v3.6l3.6 -1.8zM237.9 243.5v3.6l3.6 -1.8zM238.5 243.7v3.6l3.6 -1.8zM239.1 244.1v3.6l3.6 -1.8zM239.8 244.3v3.6l3.6 -1.8zM240.4 244.6v3.6l3.6 -1.8zM241.0 245.2v3.6l3.6 -1.8zM241.6 245.2v3.6l3.6 -1.8zM242.2 245.6v3.6l3.6 -1.8zM242.9 246.1v3.6l3.6 -1.8zM243.5 246.2v3.6l3.6 -1.8zM244.1 246.8v3.6l3.6 -1.8zM244.7 247.3v3.6l3.6 -1.8zM245.3 247.4v3.6l3.6 -1.8zM246.0 247.5v3.6l3.6 -1.8zM246.6 248.1v3.6l3.6 -1.8zM247.2 248.0v3.6l3.6 -1.8zM247.8 248.3v3.6l3.6 -1.8zM248.4 248.8v3.6l3.6 -1.8zM249.1 249.3v3.6l3.6 -1.8zM249.7 249.5v3.6l3.6 -1.8zM250.3 249.9v3.6l3.6 -1.8zM250.9 250.2v3.6l3.6 -1.8zM251.5 250.5v3.6l3.6 -1.8zM252.2 250.8v3.6l3.6 -1.8zM252.8 251.2v3.6l3.6 -1.8zM253.4 251.3v3.6l3.6 -1.8zM254.0 251.5v3.6l3.6 -1.8zM254.6 251.9v3.6l3.6 -1.8zM255.3 251.8v3.6l3.6 -1.8zM255.9 252.6v3.6l3.6 -1.8zM256.5 252.7v3.6l3.6 -1.8zM257.1 253.0v3.6l3.6 -1.8zM257.7 253.2v3.6l3.6 -1.8zM258.4 253.5v3.6l3.6 -1.8zM259.0 253.7v3.6l3.6 -1.8zM259.6 254.0v3.6l3.6 -1.8zM260.2 254.5v3.6l3.6 -1.8zM260.8 254.7v3.6l3.6 -1.8zM261.5 255.2v3.6l3.6 -1.8zM262.1 255.3v3.6l3.6 -1.8zM262.7 255.6v3.6l3.6 -1.8zM263.3 255.9v3.6l3.6 -1.8zM263.9 256.0v3.6l3.6 -1.8zM264.6 256.3v3.6l3.6 -1.8zM265.2 256.5v3.6l3.6 -1.8zM265.8 256.7v3.6l3.6 -1.8zM266.4 257.1v3.6l3.6 -1.8zM267.0 257.4v3.6l3.6 -1.8zM267.7 257.4v3.6l3.6 -1.8zM268.3 257.9v3.6l3.6 -1.8zM268.9 258.2v3.6l3.6 -1.8zM269.5 258.4v3.6l3.6 -1.8zM270.1 258.9v3.6l3.6 -1.8zM270.8 259.3v3.6l3.6 -1.8zM271.4 259.3v3.6l3.6 -1.8zM272.0 259.5v3.6l3.6 -1.8zM272.6 259.5v3.6l3.6 -1.8zM273.2 260.0v3.6l3.6 -1.8zM273.9 259.9v3.6l3.6 -1.8zM274.5 260.5v3.6l3.6 -1.8zM275.1 260.8v3.6l3.6 -1.8zM275.7 260.5v3.6l3.6 -1.8zM276.3 261.3v3.6l3.6 -1.8zM277.0 261.6v3.6l3.6 -1.8zM277.6 261.6v3.6l3.6 -1.8zM278.2 261.7v3.6l3.6 -1.8zM278.8 262.3v3.6l3.6 -1.8zM279.4 262.3v3.6l3.6 -1.8zM280.1 262.3v3.6l3.6 -1.8zM280.7 263.2v3.6l3.6 -1.8zM281.3 263.2v3.6l3.6 -1.8zM281.9 263.5v3.6l3.6 -1.8zM282.5 263.7v3.6l3.6 -1.8zM283.2 263.8v3.6l3.6 -1.8zM283.8 263.8v3.6l3.6 -1.8zM284.4 264.8v3.6l3.6 -1.8zM285.0 263.8v3.6l3.6 -1.8zM285.6 264.2v3.6l3.6 -1.8zM286.3 264.8v3.6l3.6 -1.8zM286.9 266.1v3.6l3.6 -1.8zM287.5 265.5v3.6l3.6 -1.8zM288.1 266.2v3.6l3.6 -1.8zM288.7 266.2v3.6l3.6 -1.8zM289.4 265.7v3.6l3.6 -1.8zM290.0 266.8v3.6l3.6 -1.8zM290.6 266.8v3.6l3.6 -1.8zM291.2 267.1v3.6l3.6 -1.8zM291.8 267.1v3.6l3.6 -1.8zM292.5 267.1v3.6l3.6 -1.8zM293.1 268.0v3.6l3.6 -1.8zM293.7 267.4v3.6l3.6 -1.8zM294.3 267.7v3.6l3.6 -1.8zM294.9 268.5v3.6l3.6 -1.8zM295.6 268.0v3.6l3.6 -1.8zM296.2 268.8v3.6l3.6 -1.8zM296.8 269.0v3.6l3.6 -1.8zM297.4 270.1v3.6l3.6 -1.8zM298.0 269.6v3.6l3.6 -1.8zM298.7 268.8v3.6l3.6 -1.8zM299.3 269.9v3.6l3.6 -1.8zM299.9 270.8v3.6l3.6 -1.8zM300.5 270.2v3.6l3.6 -1.8zM301.1 270.9v3.6l3.6 -1.8zM301.8 269.9v3.6l3.6 -1.8zM302.4 271.2v3.6l3.6 -1.8zM303.0 270.6v3.6l3.6 -1.8zM303.6 271.3v3.6l3.6 -1.8zM304.2 272.2v3.6l3.6 -1.8zM304.9 271.1v3.6l3.6 -1.8zM305.5 271.4v3.6l3.6 -1.8zM306.1 271.7v3.6l3.6 -1.8zM306.7 270.6v3.6l3.6 -1.8zM307.3 272.3v3.6l3.6 -1.8zM308.0 272.7v3.6l3.6 -1.8zM308.6 270.6v3.6l3.6 -1.8zM309.2 272.2v3.6l3.6 -1.8zM309.8 273.2v3.6l3.6 -1.8zM310.4 273.1v3.6l3.6 -1.8zM311.1 274.7v3.6l3.6 -1.8zM311.7 273.5v3.6l3.6 -1.8zM312.3 272.9v3.6l3.6 -1.8zM312.9 274.3v3.6l3.6 -1.8zM313.5 274.0v3.6l3.6 -1.8zM314.2 271.7v3.6l3.6 -1.8zM314.8 273.4v3.6l3.6 -1.8zM315.4 275.1v3.6l3.6 -1.8zM316.0 275.0v3.6l3.6 -1.8zM316.6 277.1v3.6l3.6 -1.8zM317.3 276.3v3.6l3.6 -1.8zM317.9 276.2v3.6l3.6 -1.8zM318.5 274.5v3.6l3.6 -1.8zM319.1 273.8v3.6l3.6 -1.8zM319.7 276.7v3.6l3.6 -1.8zM320.4 276.0v3.6l3.6 -1.8zM321.0 276.3v3.6l3.6 -1.8zM321.6 276.5v3.6l3.6 -1.8zM322.2 277.3v3.6l3.6 -1.8zM322.8 276.4v3.6l3.6 -1.8zM323.5 276.6v3.6l3.6 -1.8zM324.1 279.1v3.6l3.6 -1.8zM324.7 276.6v3.6l3.6 -1.8zM325.3 278.5v3.6l3.6 -1.8zM325.9 278.3v3.6l3.6 -1.8zM326.6 278.8v3.6l3.6 -1.8zM327.2 276.7v3.6l3.6 -1.8zM327.8 280.5v3.6l3.6 -1.8zM328.4 279.7v3.6l3.6 -1.8zM329.0 279.0v3.6l3.6 -1.8zM329.7 278.2v3.6l3.6 -1.8zM330.3 276.4v3.6l3.6 -1.8zM330.9 277.3v3.6l3.6 -1.8zM331.5 278.1v3.6l3.6 -1.8zM332.1 278.8v3.6l3.6 -1.8zM332.8 279.4v3.6l3.6 -1.8zM333.4 279.9v3.6l3.6 -1.8zM334.0 279.7v3.6l3.6 -1.8zM334.6 279.4v3.6l3.6 -1.8zM335.2 278.7v3.6l3.6 -1.8zM335.9 283.6v3.6l3.6 -1.8zM336.5 280.8v3.6l3.6 -1.8zM337.1 276.3v3.6l3.6 -1.8zM337.7 284.7v3.6l3.6 -1.8zM338.3 280.2v3.6l3.6 -1.8zM339.0 277.1v3.6l3.6 -1.8zM339.6 284.2v3.6l3.6 -1.8zM340.2 280.0v3.6l3.6 -1.8zM340.8 280.5v3.6l3.6 -1.8zM341.4 283.0v3.6l3.6 -1.8zM342.1 280.0v3.6l3.6 -1.8zM342.7 280.4v3.6l3.6 -1.8zM343.3 283.2v3.6l3.6 -1.8zM343.9 285.3v3.6l3.6 -1.8zM344.5 280.6v3.6l3.6 -1.8zM345.2 284.4v3.6l3.6 -1.8zM345.8 285.5v3.6l3.6 -1.8zM346.4 280.0v3.6l3.6 -1.8zM347.0 285.0v3.6l3.6 -1.8zM347.6 279.6v3.6l3.6 -1.8zM348.3 281.0v3.6l3.6 -1.8zM348.9 281.0v3.6l3.6 -1.8zM349.5 281.4v3.6l3.6 -1.8zM350.1 278.8v3.6l3.6 -1.8zM350.7 281.7v3.6l3.6 -1.8zM351.4 287.0v3.6l3.6 -1.8zM352.0 285.0v3.6l3.6 -1.8zM352.6 281.2v3.6l3.6 -1.8zM353.2 282.4v3.6l3.6 -1.8zM353.8 282.0v3.6l3.6 -1.8zM354.5 289.4v3.6l3.6 -1.8zM355.1 282.3v3.6l3.6 -1.8zM355.7 285.3v3.6l3.6 -1.8zM356.3 286.5v3.6l3.6 -1.8zM356.9 283.3v3.6l3.6 -1.8zM357.6 283.9v3.6l3.6 -1.8zM358.2 282.1v3.6l3.6 -1.8zM358.8 281.4v3.6l3.6 -1.8zM359.4 283.8v3.6l3.6 -1.8zM360.0 285.1v3.6l3.6 -1.8zM360.7 285.0v3.6l3.6 -1.8zM361.3 286.3v3.6l3.6 -1.8zM361.9 289.1v3.6l3.6 -1.8zM362.5 278.6v3.6l3.6 -1.8zM363.1 291.9v3.6l3.6 -1.8zM363.8 285.7v3.6l3.6 -1.8zM364.4 281.4v3.6l3.6 -1.8zM365.0 285.7v3.6l3.6 -1.8zM365.6 287.3v3.6l3.6 -1.8zM366.2 288.0v3.6l3.6 -1.8zM366.9 283.8v3.6l3.6 -1.8zM367.5 285.0v3.6l3.6 -1.8zM368.1 286.9v3.6l3.6 -1.8zM368.7 286.8v3.6l3.6 -1.8zM369.3 284.0v3.6l3.6 -1.8zM370.0 289.1v3.6l3.6 -1.8zM370.6 284.7v3.6l3.6 -1.8zM371.2 282.8v3.6l3.6 -1.8zM371.8 286.0v3.6l3.6 -1.8zM372.4 289.7v3.6l3.6 -1.8zM373.1 291.6v3.6l3.6 -1.8zM374.3 288.1v3.6l3.6 -1.8zM374.9 290.2v3.6l3.6 -1.8zM375.5 288.1v3.6l3.6 -1.8zM376.2 278.8v3.6l3.6 -1.8zM376.8 286.1v3.6l3.6 -1.8zM377.4 284.4v3.6l3.6 -1.8zM378.0 289.4v3.6l3.6 -1.8zM378.6 284.7v3.6l3.6 -1.8zM379.3 289.7v3.6l3.6 -1.8zM379.9 290.3v3.6l3.6 -1.8zM380.5 287.9v3.6l3.6 -1.8zM381.1 291.6v3.6l3.6 -1.8zM58.3 303.1v3.4l3.4 -1.7zM59.8 300.2v3.4l3.4 -1.7zM55.3 311.2v3.4l3.4 -1.7zM57.8 311.2v3.4l3.4 -1.7zM60.6 310.9v3.4l3.4 -1.7zM66.7 311.2v3.4l3.4 -1.7zM54.2 318.8v3.4l3.4 -1.7zM56.8 318.9v3.4l3.4 -1.7zM63.7 318.7v3.4l3.4 -1.7zM68.4 318.7v3.4l3.4 -1.7z" fill="#ff4d00"/>
</g>
<path d="M55.50 18.5V14.60M55.50 321.5V325.40M80.58 18.5V16.30M80.58 321.5V323.70M105.66 18.5V14.60M105.66 321.5V325.40M130.74 18.5V16.30M130.74 321.5V323.70M155.82 18.5V14.60M155.82 321.5V325.40M180.90 18.5V16.30M180.90 321.5V323.70M205.98 18.5V14.60M205.98 321.5V325.40M231.06 18.5V16.30M231.06 321.5V323.70M256.14 18.5V14.60M256.14 321.5V325.40M281.22 18.5V16.30M281.22 321.5V323.70M306.30 18.5V14.60M306.30 321.5V325.40M331.38 18.5V16.30M331.38 321.5V323.70M356.46 18.5V14.60M356.46 321.5V325.40M381.54 18.5V16.30M381.54 321.5V323.70M68.04 18.5V16.3M68.04 321.5V323.7M93.12 18.5V16.3M93.12 321.5V323.7M118.20 18.5V16.3M118.20 321.5V323.7M143.28 18.5V16.3M143.28 321.5V323.7M168.36 18.5V16.3M168.36 321.5V323.7M193.44 18.5V16.3M193.44 321.5V323.7M218.52 18.5V16.3M218.52 321.5V323.7M243.60 18.5V16.3M243.60 321.5V323.7M268.68 18.5V16.3M268.68 321.5V323.7M293.76 18.5V16.3M293.76 321.5V323.7M318.84 18.5V16.3M318.84 321.5V323.7M343.92 18.5V16.3M343.92 321.5V323.7M369.00 18.5V16.3M369.00 321.5V323.7M55.5 27.60H51.60M381.5 27.60H385.40M55.5 56.99H53.30M381.5 56.99H383.70M55.5 86.38H51.60M381.5 86.38H385.40M55.5 115.77H53.30M381.5 115.77H383.70M55.5 145.16H51.60M381.5 145.16H385.40M55.5 174.55H53.30M381.5 174.55H383.70M55.5 203.94H51.60M381.5 203.94H385.40M55.5 233.33H53.30M381.5 233.33H383.70M55.5 262.72H51.60M381.5 262.72H385.40M55.5 292.11H53.30M381.5 292.11H383.70M55.5 321.50H51.60M381.5 321.50H385.40" stroke="#6a6a6a" stroke-width="1" fill="none"/><rect x="55.5" y="18.5" width="326" height="303" fill="none" stroke="#6a6a6a" stroke-width="1"/>
<text transform="translate(52.14 8.80) scale(1.075 1)" font-family="Liberation Sans" font-size="12.15" font-weight="normal" fill="#000">0</text><text transform="translate(52.14 340.10) scale(1.075 1)" font-family="Liberation Sans" font-size="12.15" font-weight="normal" fill="#000">0</text><text transform="translate(102.30 8.80) scale(1.075 1)" font-family="Liberation Sans" font-size="12.15" font-weight="normal" fill="#000">2</text><text transform="translate(102.30 340.10) scale(1.075 1)" font-family="Liberation Sans" font-size="12.15" font-weight="normal" fill="#000">2</text><text transform="translate(152.53 8.80) scale(1.075 1)" font-family="Liberation Sans" font-size="12.15" font-weight="normal" fill="#000">4</text><text transform="translate(152.53 340.10) scale(1.075 1)" font-family="Liberation Sans" font-size="12.15" font-weight="normal" fill="#000">4</text><text transform="translate(202.62 8.80) scale(1.075 1)" font-family="Liberation Sans" font-size="12.15" font-weight="normal" fill="#000">6</text><text transform="translate(202.62 340.10) scale(1.075 1)" font-family="Liberation Sans" font-size="12.15" font-weight="normal" fill="#000">6</text><text transform="translate(252.85 8.80) scale(1.075 1)" font-family="Liberation Sans" font-size="12.15" font-weight="normal" fill="#000">8</text><text transform="translate(252.85 340.10) scale(1.075 1)" font-family="Liberation Sans" font-size="12.15" font-weight="normal" fill="#000">8</text><text transform="translate(299.09 8.80) scale(1.075 1)" font-family="Liberation Sans" font-size="12.15" font-weight="normal" fill="#000">10</text><text transform="translate(299.09 340.10) scale(1.075 1)" font-family="Liberation Sans" font-size="12.15" font-weight="normal" fill="#000">10</text><text transform="translate(349.32 8.80) scale(1.075 1)" font-family="Liberation Sans" font-size="12.15" font-weight="normal" fill="#000">12</text><text transform="translate(349.32 340.10) scale(1.075 1)" font-family="Liberation Sans" font-size="12.15" font-weight="normal" fill="#000">12</text><text transform="translate(41.63 27.65) scale(1.120 1)" font-family="Liberation Sans" font-size="7.50" font-weight="normal" fill="#000">0</text><text transform="translate(27.68 31.85) scale(1.030 1)" font-family="Liberation Sans" font-size="12.15" font-weight="normal" fill="#000">10</text><text transform="translate(390.20 31.85) scale(1.030 1)" font-family="Liberation Sans" font-size="12.15" font-weight="normal" fill="#000">10</text><text transform="translate(404.45 27.65) scale(1.120 1)" font-family="Liberation Sans" font-size="7.50" font-weight="normal" fill="#000">0</text><text transform="translate(41.72 86.43) scale(1.120 1)" font-family="Liberation Sans" font-size="7.50" font-weight="normal" fill="#000">2</text><rect x="35.84" y="82.98" width="5.40" height="1.0" fill="#000"/><text transform="translate(21.55 90.63) scale(1.030 1)" font-family="Liberation Sans" font-size="12.15" font-weight="normal" fill="#000">10</text><text transform="translate(390.20 90.63) scale(1.030 1)" font-family="Liberation Sans" font-size="12.15" font-weight="normal" fill="#000">10</text><rect x="404.79" y="82.98" width="5.40" height="1.0" fill="#000"/><text transform="translate(410.77 86.43) scale(1.120 1)" font-family="Liberation Sans" font-size="7.50" font-weight="normal" fill="#000">2</text><text transform="translate(41.55 145.21) scale(1.120 1)" font-family="Liberation Sans" font-size="7.50" font-weight="normal" fill="#000">4</text><rect x="35.42" y="141.76" width="5.40" height="1.0" fill="#000"/><text transform="translate(21.13 149.41) scale(1.030 1)" font-family="Liberation Sans" font-size="12.15" font-weight="normal" fill="#000">10</text><text transform="translate(390.20 149.41) scale(1.030 1)" font-family="Liberation Sans" font-size="12.15" font-weight="normal" fill="#000">10</text><rect x="404.79" y="141.76" width="5.40" height="1.0" fill="#000"/><text transform="translate(411.02 145.21) scale(1.120 1)" font-family="Liberation Sans" font-size="7.50" font-weight="normal" fill="#000">4</text><text transform="translate(41.72 203.99) scale(1.120 1)" font-family="Liberation Sans" font-size="7.50" font-weight="normal" fill="#000">6</text><rect x="35.84" y="200.54" width="5.40" height="1.0" fill="#000"/><text transform="translate(21.55 208.19) scale(1.030 1)" font-family="Liberation Sans" font-size="12.15" font-weight="normal" fill="#000">10</text><text transform="translate(390.20 208.19) scale(1.030 1)" font-family="Liberation Sans" font-size="12.15" font-weight="normal" fill="#000">10</text><rect x="404.79" y="200.54" width="5.40" height="1.0" fill="#000"/><text transform="translate(410.77 203.99) scale(1.120 1)" font-family="Liberation Sans" font-size="7.50" font-weight="normal" fill="#000">6</text><text transform="translate(41.72 262.77) scale(1.120 1)" font-family="Liberation Sans" font-size="7.50" font-weight="normal" fill="#000">8</text><rect x="35.75" y="259.32" width="5.40" height="1.0" fill="#000"/><text transform="translate(21.46 266.97) scale(1.030 1)" font-family="Liberation Sans" font-size="12.15" font-weight="normal" fill="#000">10</text><text transform="translate(390.20 266.97) scale(1.030 1)" font-family="Liberation Sans" font-size="12.15" font-weight="normal" fill="#000">10</text><rect x="404.79" y="259.32" width="5.40" height="1.0" fill="#000"/><text transform="translate(410.85 262.77) scale(1.120 1)" font-family="Liberation Sans" font-size="7.50" font-weight="normal" fill="#000">8</text><text transform="translate(37.01 321.55) scale(1.120 1)" font-family="Liberation Sans" font-size="7.50" font-weight="normal" fill="#000">10</text><rect x="31.38" y="318.10" width="5.40" height="1.0" fill="#000"/><text transform="translate(17.09 325.75) scale(1.030 1)" font-family="Liberation Sans" font-size="12.15" font-weight="normal" fill="#000">10</text><text transform="translate(390.20 325.75) scale(1.030 1)" font-family="Liberation Sans" font-size="12.15" font-weight="normal" fill="#000">10</text><rect x="404.79" y="318.10" width="5.40" height="1.0" fill="#000"/><text transform="translate(410.52 321.55) scale(1.120 1)" font-family="Liberation Sans" font-size="7.50" font-weight="normal" fill="#000">10</text><text transform="translate(203.46 360.01) scale(1.186 1)" font-family="Liberation Sans" font-size="11.80" font-weight="bold" fill="#000">t [ns]</text><text transform="translate(8.8 235.04) rotate(-90) scale(1.189 1)" font-family="Liberation Sans" font-size="11.60" font-weight="bold">transmission [a.u.]</text><text class="l" transform="translate(227.20 60.80) scale(1.206 1)" font-family="Liberation Sans" font-size="10.68" font-weight="normal" fill="#000">kl</text><text transform="translate(236.78 56.60) scale(1.000 1)" font-family="Liberation Sans" font-size="6.20" font-weight="normal" fill="#000">*</text><text class="l" transform="translate(240.08 60.70) scale(1.118 1)" font-family="Liberation Sans" font-size="11.14" font-weight="normal" fill="#000">=2.7</text><text class="l" transform="translate(227.20 186.80) scale(1.206 1)" font-family="Liberation Sans" font-size="10.68" font-weight="normal" fill="#000">kl</text><text transform="translate(236.78 182.60) scale(1.000 1)" font-family="Liberation Sans" font-size="6.20" font-weight="normal" fill="#000">*</text><text class="l" transform="translate(240.08 186.59) scale(1.118 1)" font-family="Liberation Sans" font-size="11.14" font-weight="normal" fill="#000">=5.7</text>
<rect x="328.1" y="22.6" width="49.3" height="92.0" fill="#fff" stroke="#7a7a7a" stroke-width="1.1"/><path d="M339.2 29.4h3.7v3.7h-3.7z" fill="#aaff00"/><text class="l" transform="translate(353.85 35.10) scale(1.020 1)" font-family="Liberation Sans" font-size="11.10" font-weight="normal" fill="#000">560</text><path d="M339.7 43.8a1.40 1.40 0 1 0 2.8 0a1.40 1.40 0 1 0 -2.8 0z" fill="#d4ff00"/><text class="l" transform="translate(353.85 47.58) scale(1.020 1)" font-family="Liberation Sans" font-size="11.10" font-weight="normal" fill="#000">570</text><path d="M339.3 58.1h3.6l-1.8 -3.6z" fill="#ffff00"/><text class="l" transform="translate(353.85 60.06) scale(1.020 1)" font-family="Liberation Sans" font-size="11.10" font-weight="normal" fill="#000">580</text><path d="M339.3 66.9h3.6l-1.8 3.6z" fill="#ffcf00"/><text class="l" transform="translate(353.85 72.54) scale(1.020 1)" font-family="Liberation Sans" font-size="11.10" font-weight="normal" fill="#000">590</text><path d="M339.3 83.0h3.6l-1.8 -3.6z" fill="#ffa200"/><text class="l" transform="translate(353.73 85.02) scale(1.020 1)" font-family="Liberation Sans" font-size="11.10" font-weight="normal" fill="#000">600</text><path d="M342.9 91.9v3.6l-3.6 -1.8z" fill="#ff7a00"/><text class="l" transform="translate(353.73 97.50) scale(1.020 1)" font-family="Liberation Sans" font-size="11.10" font-weight="normal" fill="#000">610</text><path d="M339.3 104.4v3.6l3.6 -1.8z" fill="#ff4d00"/><text class="l" transform="translate(353.73 109.98) scale(1.020 1)" font-family="Liberation Sans" font-size="11.10" font-weight="normal" fill="#000">620</text>
</svg></body></html>
